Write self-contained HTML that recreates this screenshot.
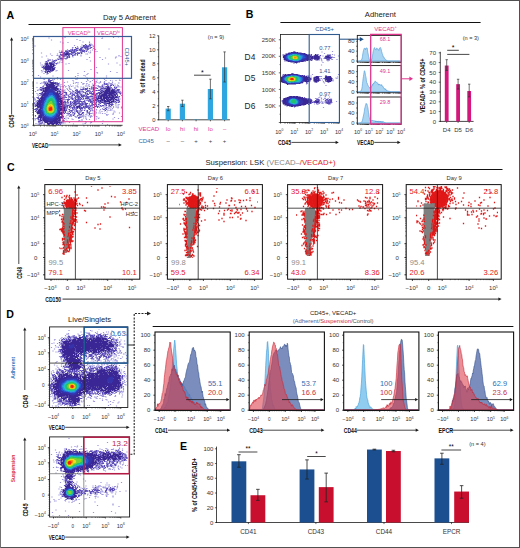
<!DOCTYPE html><html><head><meta charset="utf-8"><style>html,body{margin:0;padding:0;background:#fff}svg{display:block}text{font-family:"Liberation Sans",sans-serif}</style></head><body><svg width="520" height="548" viewBox="0 0 520 548"><defs><filter id="bl" x="0" y="0" width="1" height="1"><feGaussianBlur stdDeviation="0.35"/></filter></defs><rect x="0" y="0" width="520" height="548" fill="#fff"/><path d="M0 0.5H520M519.5 0V548M0 547.5H520" stroke="#505050" stroke-width="1"/><path d="M0.5 0V548" stroke="#707070" stroke-width="1"/><text transform="translate(6.6,18.6)" font-size="10.6" font-weight="bold">A</text><text transform="translate(129.4,20.2)" font-size="7.7" fill="#222" text-anchor="middle">Day 5 Adherent</text><line x1="28.5" y1="24.5" x2="230.4" y2="24.5" stroke="#111" stroke-width="1"/><line x1="33.5" y1="36.5" x2="33.5" y2="125.6" stroke="#1a1a1a" stroke-width="0.8"/><line x1="33.2" y1="125.3" x2="122.6" y2="125.3" stroke="#1a1a1a" stroke-width="0.8"/><path d="M33.5 125.3h-1.3M33.5 118.77h-1.3M33.5 114.95h-1.3M33.5 112.24h-1.3M33.5 110.13h-1.3M33.5 108.41h-1.3M33.5 106.96h-1.3M33.5 105.7h-1.3M33.5 104.59h-1.3M33.5 103.6h-1.3M33.5 97.07h-1.3M33.5 93.25h-1.3M33.5 90.54h-1.3M33.5 88.43h-1.3M33.5 86.71h-1.3M33.5 85.26h-1.3M33.5 84h-1.3M33.5 82.89h-1.3M33.5 81.9h-1.3M33.5 75.37h-1.3M33.5 71.55h-1.3M33.5 68.84h-1.3M33.5 66.73h-1.3M33.5 65.01h-1.3M33.5 63.56h-1.3M33.5 62.3h-1.3M33.5 61.19h-1.3M33.5 60.2h-1.3M33.5 53.67h-1.3M33.5 49.85h-1.3M33.5 47.14h-1.3M33.5 45.03h-1.3M33.5 43.31h-1.3M33.5 41.86h-1.3M33.5 40.6h-1.3M33.5 39.49h-1.3M33.5 38.5h-1.3" stroke="#000" stroke-width="0.5"/><path d="M34 125.3v1.3M40.53 125.3v1.3M44.35 125.3v1.3M47.06 125.3v1.3M49.17 125.3v1.3M50.89 125.3v1.3M52.34 125.3v1.3M53.6 125.3v1.3M54.71 125.3v1.3M55.7 125.3v1.3M62.23 125.3v1.3M66.05 125.3v1.3M68.76 125.3v1.3M70.87 125.3v1.3M72.59 125.3v1.3M74.04 125.3v1.3M75.3 125.3v1.3M76.41 125.3v1.3M77.4 125.3v1.3M83.93 125.3v1.3M87.75 125.3v1.3M90.46 125.3v1.3M92.57 125.3v1.3M94.29 125.3v1.3M95.74 125.3v1.3M97 125.3v1.3M98.11 125.3v1.3M99.1 125.3v1.3M105.63 125.3v1.3M109.45 125.3v1.3M112.16 125.3v1.3M114.27 125.3v1.3M115.99 125.3v1.3M117.44 125.3v1.3M118.7 125.3v1.3M119.81 125.3v1.3M120.8 125.3v1.3" stroke="#000" stroke-width="0.5"/><text x="28.6" y="128.2" font-size="5.6" fill="#333" text-anchor="end">10<tspan dy="-2.52" font-size="3.36">0</tspan></text><text x="28.6" y="106.7" font-size="5.6" fill="#333" text-anchor="end">10<tspan dy="-2.52" font-size="3.36">1</tspan></text><text x="28.6" y="84.9" font-size="5.6" fill="#333" text-anchor="end">10<tspan dy="-2.52" font-size="3.36">2</tspan></text><text x="28.6" y="63.4" font-size="5.6" fill="#333" text-anchor="end">10<tspan dy="-2.52" font-size="3.36">3</tspan></text><text x="28.6" y="41.3" font-size="5.6" fill="#333" text-anchor="end">10<tspan dy="-2.52" font-size="3.36">4</tspan></text><text x="32.9" y="136.3" font-size="5.6" fill="#333" text-anchor="middle">10<tspan dy="-2.52" font-size="3.36">0</tspan></text><text x="54.5" y="136.3" font-size="5.6" fill="#333" text-anchor="middle">10<tspan dy="-2.52" font-size="3.36">1</tspan></text><text x="76.5" y="136.3" font-size="5.6" fill="#333" text-anchor="middle">10<tspan dy="-2.52" font-size="3.36">2</tspan></text><text x="98.7" y="136.3" font-size="5.6" fill="#333" text-anchor="middle">10<tspan dy="-2.52" font-size="3.36">3</tspan></text><text x="120.8" y="136.3" font-size="5.6" fill="#333" text-anchor="middle">10<tspan dy="-2.52" font-size="3.36">4</tspan></text><text transform="translate(32,147.9) scale(0.629,1)" font-size="7.4" fill="#111" font-weight="bold">VECAD</text><line x1="48.5" y1="144.9" x2="119.1" y2="144.9" stroke="#1a1a1a" stroke-width="0.8"/><polygon points="121.8,144.9 118.6,143.3 118.6,146.5" fill="#1a1a1a"/><text transform="translate(13.8,127.7) rotate(-90) scale(0.682,1)" font-size="7.4" fill="#111" font-weight="bold">CD45</text><line x1="11.6" y1="114.5" x2="11.6" y2="40" stroke="#1a1a1a" stroke-width="0.8"/><polygon points="11.6,37.3 10,40.5 13.2,40.5" fill="#1a1a1a"/><g filter="url(#bl)"><path transform="scale(.5)" d="M237 74h0m-107 1h0m97 0h0m-129 1h0m27 0h0m80 0h0m-1 1h0m-50 2h0m-51 1h0m57 1h0m-39 3h0m45 0h0m13 0h0m-43 1h0m-10 1h0m53 0h0m3 2h0m-18 2h0m21 0h0m-36 1h0m-79 1h0m117 0h0m-32 1h0m32 0h0m-1 1h0m-40 1h0m41 2h0m2 1h0m29 0h0m-27 1h0m-6 1h0m-66 2h0m4 0h0m58 0h0m9 1h0m4 0h0m-17 1h0m-58 1h0m62 0h0m-98 1h0m97 0h0m-79 2h0m14 0h0m57 0h0m3 0h0m-13 2h0m-58 1h0m10 0h0m1 0h0m40 0h0m83 0h0m-145 1h0m69 0h0m76 0h0m4 1h0m-158 1h0m62 0h0m86 0h0m1 0h0m-54 1h0m21 0h0m11 1h0m20 0h0m-135 2h0m78 1h0m31 0h0m-24 3h0m-62 2h0m1 0h0m5 0h0m-1 1h0m-43 1h0m37 0h0m116 0h0m-96 1h0m-6 1h0m85 0h0m-135 2h0m3 0h0m155 0h0m-47 5h0m-11 4h0m-99 2h0m31 0h0m23 0h0m-51 1h0m26 0h0m57 1h0m52 0h0m-137 1h0m110 1h0m40 0h0m-39 1h0m-107 1h0m68 0h0m20 0h0m-2 2h0m-97 2h0m79 0h0m12 0h0m-62 1h0m65 0h0m42 0h0m-62 1h0m-70 1h0m34 1h0m40 1h0m19 0h0m39 0h0m-115 1h0m3 0h0m43 0h0m8 0h0m47 0h0m8 0h0m-120 1h0m28 0h0m40 0h0m20 0h0m-86 1h0m20 0h0m12 0h0m31 0h0m23 0h0m13 0h0m21 0h0m-102 1h0m87 0h0m45 0h0m-93 1h0m30 0h0m9 0h0m27 0h0m9 0h0m11 0h0m8 0h0m-15 1h0m-136 1h0m84 0h0m8 0h0m9 0h0m3 0h0m8 0h0m8 0h0m-122 1h0m2 0h0m46 0h0m12 0h0m33 0h0m-51 1h0m24 0h0m3 0h0m7 0h0m31 0h0m7 0h0m8 0h0m9 0h0m7 0h0m-151 1h0m9 0h0m3 0h0m1 0h0m32 0h0m32 0h0m40 0h0m7 0h0m1 0h0m9 0h0m1 0h0m28 0h0m1 0h0m-157 1h0m66 0h0m19 0h0m2 0h0m6 0h0m16 0h0m28 0h0m3 0h0m2 0h0m-67 1h0m17 0h0m12 0h0m5 0h0m35 0h0m5 0h0m-108 1h0m44 0h0m12 0h0m10 0h0m1 0h0m-48 1h0m37 0h0m49 0h0m8 0h0m-106 1h0m8 0h0m55 0h0m5 0h0m40 0h0m-91 1h0m6 0h0m3 0h0m16 0h0m2 0h0m3 0h0m9 0h0m10 0h0m1 0h0m35 0h0m5 0h0m-114 1h0m4 0h0m6 0h0m7 0h0m4 0h0m36 0h0m18 0h0m41 0h0m-111 1h0m4 0h0m7 0h0m18 0h0m6 0h0m5 0h0m71 0h0m4 0h0m-168 1h0m65 1h0m10 0h0m2 0h0m14 0h0m-31 1h0m5 0h0m1 1h0m21 0h0m-26 1h0m5 0h0m2 0h0m-66 1h0m2 0h0m48 0h0m4 0h0m-55 1h0m53 0h0m9 0h0m8 0h0m-74 2h0m68 0h0m103 3h0m1 0h0m-169 1h0m167 2h0m-166 1h0m2 0h0m166 1h0m-174 5h0m1 2h0m170 0h0m-171 2h0m2 0h0m167 9h0m-7 1h0m3 0h0m3 0h0m-10 3h0m5 1h0m2 0h0m3 0h0m6 0h0m-54 1h0m6 0h0m4 0h0m28 0h0m9 1h0m7 0h0m-38 1h0m20 0h0m-9 1h0m5 0h0m-152 1h0m124 0h0m8 0h0m5 0h0m1 0h0m-14 1h0m29 0h0m2 0h0m-38 1h0m30 0h0m4 0h0m-21 1h0m1 0h0m9 0h0m19 0h0m-39 1h0m15 0h0m-18 1h0m5 0h0m1 0h0m22 0h0m16 0h0m-37 2h0m5 0h0m3 0h0m26 0h0m12 0h0m-56 1h0m3 0h0m19 0h0m5 0h0m-19 1h0m35 0h0m-54 1h0m41 0h0m3 0h0m10 0h0m-52 1h0m13 0h0m-53 1h0m44 0h0m4 0h0m32 0h0m-44 1h0m8 0h0m5 0h0m7 0h0m-119 1h0m68 0h0m3 0h0m1 0h0m7 0h0m1 0h0m30 0h0m3 0h0m9 0h0m50 0h0m-111 1h0m21 0h0m18 0h0m1 0h0m22 0h0m-42 1h0m29 0h0m48 0h0m-93 1h0m31 0h0m31 0h0m-128 1h0m67 0h0m35 0h0m25 0h0m40 0h0m-166 1h0m61 0h0m12 0h0m49 0h0m33 0h0m-80 1h0m18 0h0m9 0h0m6 0h0m-109 1h0m88 1h0m1 0h0m5 0h0m-30 1h0m26 0h0m46 0h0m-49 1h0m14 0h0m11 1h0m-43 1h0m33 0h0m11 0h0m-53 1h0m51 0h0m-109 1h0m54 0h0m44 0h0m1 0h0m34 0h0m-129 1h0m2 0h0m69 0h0m19 0h0m-88 1h0m137 0h0" stroke="#9a94dc" stroke-width="2.4" stroke-linecap="square"/><path transform="scale(.5)" d="M171 89h0m8 0h0m-7 1h0m8 0h0m2 0h0m-15 1h0m1 0h0m1 0h0m4 0h0m5 0h0m-6 1h0m2 0h0m1 0h0m6 0h0m-14 1h0m1 0h0m3 0h0m1 0h0m4 0h0m2 0h0m-16 1h0m4 0h0m4 0h0m3 0h0m1 0h0m2 0h0m-25 1h0m13 0h0m2 0h0m3 0h0m2 0h0m2 0h0m1 0h0m8 0h0m1 0h0m-38 1h0m10 0h0m1 0h0m8 0h0m1 0h0m4 0h0m3 0h0m4 0h0m4 0h0m1 0h0m-28 1h0m1 0h0m1 0h0m1 0h0m5 0h0m2 0h0m8 0h0m4 0h0m5 0h0m-28 1h0m19 0h0m3 0h0m2 0h0m1 0h0m-35 1h0m3 0h0m4 0h0m1 0h0m9 0h0m1 0h0m1 0h0m2 0h0m11 0h0m2 0h0m-41 1h0m7 0h0m4 0h0m3 0h0m3 0h0m1 0h0m1 0h0m1 0h0m3 0h0m1 0h0m1 0h0m1 0h0m3 0h0m2 0h0m1 0h0m7 0h0m-42 1h0m6 0h0m2 0h0m4 0h0m1 0h0m4 0h0m3 0h0m2 0h0m1 0h0m5 0h0m1 0h0m3 0h0m5 0h0m5 0h0m-35 1h0m8 0h0m2 0h0m13 0h0m4 0h0m4 0h0m-39 1h0m2 0h0m2 0h0m3 0h0m1 0h0m1 0h0m1 0h0m2 0h0m9 0h0m10 0h0m3 0h0m2 0h0m6 0h0m-50 1h0m2 0h0m6 0h0m14 0h0m3 0h0m1 0h0m20 0h0m-47 1h0m2 0h0m5 0h0m5 0h0m1 0h0m2 0h0m6 0h0m2 0h0m1 0h0m2 0h0m1 0h0m7 0h0m4 0h0m3 0h0m-42 1h0m6 0h0m2 0h0m4 0h0m18 0h0m4 0h0m1 0h0m8 0h0m-37 1h0m3 0h0m9 0h0m3 0h0m4 0h0m5 0h0m3 0h0m3 0h0m2 0h0m4 0h0m-36 1h0m1 0h0m2 0h0m8 0h0m3 0h0m3 0h0m1 0h0m5 0h0m-29 1h0m1 0h0m3 0h0m14 0h0m4 0h0m12 0h0m-32 1h0m2 0h0m2 0h0m9 0h0m3 0h0m9 0h0m2 0h0m1 0h0m-27 1h0m4 0h0m9 0h0m1 0h0m7 0h0m1 0h0m-28 1h0m1 0h0m2 0h0m4 0h0m2 0h0m3 0h0m2 0h0m1 0h0m12 0h0m-26 1h0m8 0h0m1 0h0m7 0h0m3 0h0m1 0h0m-11 1h0m-8 1h0m14 0h0m2 0h0m3 0h0m-21 1h0m1 0h0m1 0h0m3 0h0m3 0h0m-5 1h0m3 0h0m6 0h0m4 0h0m-19 1h0m7 0h0m4 0h0m6 0h0m-15 1h0m1 0h0m-20 1h0m2 0h0m1 0h0m4 0h0m7 0h0m10 0h0m3 0h0m-29 1h0m1 0h0m12 0h0m4 0h0m-16 1h0m10 0h0m4 0h0m-18 1h0m13 0h0m2 0h0m-17 1h0m4 0h0m9 0h0m-10 1h0m6 0h0m4 0h0m4 0h0m1 0h0m-4 1h0m3 0h0m7 0h0m-7 1h0m4 0h0m1 0h0m-5 1h0m5 0h0m-5 1h0m0 1h0m2 1h0m-2 1h0m-21 1h0m-3 1h0m3 0h0m-2 1h0m25 0h0m-1 1h0m-21 1h0m-1 1h0m21 0h0m1 0h0m0 1h0m-2 2h0m-2 1h0m-15 1h0m1 0h0m11 0h0m-11 1h0m0 1h0m3 0h0m1 0h0m5 0h0m-4 2h0m-2 1h0m5 10h0m-1 1h0m-1 1h0m8 0h0m-7 1h0m3 0h0m2 0h0m-6 1h0m1 0h0m1 0h0m1 0h0m-1 1h0m1 0h0m-8 1h0m1 0h0m4 0h0m4 0h0m6 0h0m-17 1h0m20 0h0m1 0h0m3 0h0m-4 1h0m-20 1h0m1 0h0m18 0h0m3 0h0m3 0h0m1 0h0m1 0h0m92 0h0m5 0h0m-124 1h0m25 0h0m3 0h0m91 0h0m2 0h0m1 0h0m0 1h0m2 0h0m10 0h0m-134 1h0m25 0h0m2 0h0m88 0h0m3 0h0m8 0h0m1 0h0m4 0h0m-34 1h0m36 0h0m4 0h0m-140 1h0m29 0h0m4 0h0m84 0h0m11 0h0m6 0h0m-135 1h0m114 0h0m5 0h0m7 0h0m1 0h0m4 0h0m-34 1h0m4 0h0m11 0h0m2 0h0m4 0h0m4 0h0m6 0h0m15 0h0m5 0h0m-153 1h0m3 0h0m104 0h0m4 0h0m30 0h0m7 0h0m4 0h0m-150 1h0m4 0h0m34 0h0m47 0h0m7 0h0m9 0h0m2 0h0m2 0h0m1 0h0m3 0h0m10 0h0m4 0h0m1 0h0m15 0h0m1 0h0m8 0h0m1 0h0m-147 1h0m31 0h0m55 0h0m3 0h0m5 0h0m13 0h0m3 0h0m9 0h0m1 0h0m3 0h0m2 0h0m-130 1h0m36 0h0m2 0h0m49 0h0m5 0h0m3 0h0m5 0h0m3 0h0m4 0h0m15 0h0m27 0h0m3 0h0m-151 1h0m2 0h0m38 0h0m33 0h0m8 0h0m2 0h0m2 0h0m2 0h0m3 0h0m2 0h0m15 0h0m13 0h0m28 0h0m6 0h0m2 0h0m1 0h0m-116 1h0m30 0h0m13 0h0m6 0h0m15 0h0m1 0h0m2 0h0m9 0h0m6 0h0m2 0h0m29 0h0m3 0h0m1 0h0m-157 1h0m1 0h0m1 0h0m34 0h0m33 0h0m1 0h0m3 0h0m20 0h0m3 0h0m10 0h0m4 0h0m1 0h0m3 0h0m2 0h0m1 0h0m4 0h0m29 0h0m3 0h0m1 0h0m-118 1h0m7 0h0m29 0h0m1 0h0m4 0h0m3 0h0m14 0h0m1 0h0m3 0h0m8 0h0m13 0h0m2 0h0m2 0h0m28 0h0m4 0h0m-118 1h0m2 0h0m25 0h0m9 0h0m2 0h0m9 0h0m7 0h0m3 0h0m9 0h0m3 0h0m13 0h0m1 0h0m-81 1h0m1 0h0m5 0h0m3 0h0m11 0h0m7 0h0m4 0h0m1 0h0m2 0h0m1 0h0m3 0h0m1 0h0m4 0h0m3 0h0m7 0h0m6 0h0m2 0h0m7 0h0m45 0h0m1 0h0m3 0h0m1 0h0m2 0h0m-121 1h0m1 0h0m8 0h0m1 0h0m2 0h0m1 0h0m18 0h0m5 0h0m1 0h0m1 0h0m10 0h0m3 0h0m17 0h0m9 0h0m2 0h0m37 0h0m-115 1h0m10 0h0m2 0h0m10 0h0m1 0h0m1 0h0m10 0h0m5 0h0m11 0h0m8 0h0m4 0h0m4 0h0m9 0h0m3 0h0m40 0h0m-160 1h0m2 0h0m44 0h0m16 0h0m11 0h0m1 0h0m7 0h0m11 0h0m4 0h0m5 0h0m2 0h0m2 0h0m4 0h0m5 0h0m1 0h0m2 0h0m45 0h0m-160 1h0m41 0h0m11 0h0m13 0h0m3 0h0m6 0h0m3 0h0m3 0h0m3 0h0m8 0h0m2 0h0m9 0h0m1 0h0m2 0h0m6 0h0m1 0h0m6 0h0m36 0h0m-114 1h0m1 0h0m1 0h0m17 0h0m6 0h0m1 0h0m16 0h0m12 0h0m2 0h0m8 0h0m2 0h0m47 0h0m-104 1h0m2 0h0m1 0h0m3 0h0m8 0h0m4 0h0m6 0h0m2 0h0m6 0h0m1 0h0m4 0h0m3 0h0m17 0h0m3 0h0m2 0h0m3 0h0m-115 1h0m49 0h0m15 0h0m1 0h0m4 0h0m5 0h0m2 0h0m6 0h0m1 0h0m1 0h0m3 0h0m2 0h0m4 0h0m17 0h0m45 0h0m-113 1h0m5 0h0m10 0h0m7 0h0m8 0h0m1 0h0m5 0h0m7 0h0m2 0h0m6 0h0m1 0h0m8 0h0m2 0h0m8 0h0m5 0h0m38 0h0m-113 1h0m8 0h0m10 0h0m4 0h0m7 0h0m4 0h0m1 0h0m2 0h0m1 0h0m4 0h0m2 0h0m2 0h0m3 0h0m6 0h0m4 0h0m4 0h0m2 0h0m10 0h0m37 0h0m6 0h0m-162 1h0m53 0h0m8 0h0m20 0h0m7 0h0m6 0h0m3 0h0m3 0h0m2 0h0m3 0h0m8 0h0m3 0h0m43 0h0m2 0h0m-164 1h0m52 0h0m6 0h0m1 0h0m5 0h0m6 0h0m6 0h0m4 0h0m3 0h0m1 0h0m3 0h0m5 0h0m9 0h0m1 0h0m1 0h0m11 0h0m2 0h0m3 0h0m41 0h0m2 0h0m-160 1h0m49 0h0m2 0h0m2 0h0m12 0h0m1 0h0m2 0h0m6 0h0m1 0h0m4 0h0m1 0h0m2 0h0m2 0h0m2 0h0m11 0h0m1 0h0m1 0h0m2 0h0m8 0h0m3 0h0m2 0h0m2 0h0m2 0h0m42 0h0m-160 1h0m2 0h0m68 0h0m17 0h0m4 0h0m4 0h0m1 0h0m6 0h0m8 0h0m7 0h0m1 0h0m-57 1h0m7 0h0m1 0h0m6 0h0m6 0h0m1 0h0m5 0h0m11 0h0m1 0h0m1 0h0m6 0h0m1 0h0m10 0h0m44 0h0m-109 1h0m4 0h0m3 0h0m1 0h0m3 0h0m6 0h0m1 0h0m7 0h0m3 0h0m1 0h0m4 0h0m5 0h0m13 0h0m7 0h0m5 0h0m42 0h0m-97 1h0m1 0h0m13 0h0m4 0h0m2 0h0m2 0h0m2 0h0m10 0h0m10 0h0m1 0h0m11 0h0m3 0h0m40 0h0m3 0h0m-162 1h0m72 0h0m3 0h0m9 0h0m14 0h0m4 0h0m9 0h0m4 0h0m2 0h0m4 0h0m36 0h0m1 0h0m1 0h0m1 0h0m1 0h0m-163 1h0m56 0h0m5 0h0m1 0h0m12 0h0m1 0h0m1 0h0m4 0h0m2 0h0m4 0h0m9 0h0m8 0h0m4 0h0m2 0h0m2 0h0m5 0h0m3 0h0m37 0h0m8 0h0m-109 1h0m1 0h0m5 0h0m6 0h0m10 0h0m1 0h0m6 0h0m1 0h0m2 0h0m2 0h0m4 0h0m11 0h0m3 0h0m7 0h0m6 0h0m3 0h0m1 0h0m32 0h0m1 0h0m7 0h0m1 0h0m-167 1h0m57 0h0m2 0h0m10 0h0m3 0h0m3 0h0m2 0h0m1 0h0m4 0h0m1 0h0m3 0h0m6 0h0m1 0h0m2 0h0m1 0h0m2 0h0m12 0h0m2 0h0m4 0h0m1 0h0m11 0h0m3 0h0m31 0h0m5 0h0m-107 1h0m4 0h0m9 0h0m5 0h0m8 0h0m23 0h0m7 0h0m5 0h0m5 0h0m5 0h0m2 0h0m1 0h0m22 0h0m5 0h0m4 0h0m-168 1h0m61 0h0m5 0h0m2 0h0m4 0h0m16 0h0m2 0h0m5 0h0m6 0h0m1 0h0m13 0h0m1 0h0m6 0h0m7 0h0m2 0h0m25 0h0m6 0h0m1 0h0m-91 1h0m1 0h0m5 0h0m1 0h0m2 0h0m5 0h0m1 0h0m4 0h0m6 0h0m4 0h0m2 0h0m1 0h0m2 0h0m17 0h0m9 0h0m7 0h0m2 0h0m-140 1h0m60 0h0m2 0h0m10 0h0m2 0h0m4 0h0m5 0h0m1 0h0m4 0h0m3 0h0m2 0h0m2 0h0m2 0h0m12 0h0m5 0h0m1 0h0m7 0h0m17 0h0m3 0h0m10 0h0m-90 1h0m9 0h0m10 0h0m2 0h0m7 0h0m1 0h0m3 0h0m6 0h0m2 0h0m1 0h0m14 0h0m3 0h0m7 0h0m1 0h0m20 0h0m3 0h0m2 0h0m1 0h0m2 0h0m-155 1h0m65 0h0m3 0h0m2 0h0m5 0h0m3 0h0m16 0h0m1 0h0m18 0h0m4 0h0m5 0h0m17 0h0m1 0h0m2 0h0m6 0h0m5 0h0m1 0h0m-152 1h0m61 0h0m2 0h0m2 0h0m5 0h0m8 0h0m7 0h0m1 0h0m4 0h0m1 0h0m8 0h0m2 0h0m4 0h0m4 0h0m7 0h0m12 0h0m4 0h0m2 0h0m6 0h0m6 0h0m4 0h0m-153 1h0m61 0h0m1 0h0m11 0h0m4 0h0m7 0h0m6 0h0m1 0h0m9 0h0m1 0h0m2 0h0m1 0h0m7 0h0m4 0h0m8 0h0m5 0h0m6 0h0m13 0h0m-146 1h0m61 0h0m3 0h0m4 0h0m2 0h0m8 0h0m5 0h0m13 0h0m3 0h0m1 0h0m1 0h0m4 0h0m15 0h0m3 0h0m2 0h0m6 0h0m18 0h0m-86 1h0m14 0h0m5 0h0m6 0h0m3 0h0m8 0h0m1 0h0m3 0h0m1 0h0m3 0h0m1 0h0m3 0h0m26 0h0m4 0h0m10 0h0m-83 1h0m5 0h0m2 0h0m3 0h0m5 0h0m4 0h0m6 0h0m3 0h0m6 0h0m3 0h0m11 0h0m8 0h0m19 0h0m-80 1h0m1 0h0m6 0h0m9 0h0m1 0h0m2 0h0m2 0h0m5 0h0m2 0h0m2 0h0m1 0h0m4 0h0m1 0h0m9 0h0m6 0h0m33 0h0m-146 1h0m1 0h0m72 0h0m9 0h0m1 0h0m4 0h0m1 0h0m4 0h0m1 0h0m12 0h0m1 0h0m4 0h0m29 0h0m1 0h0m-80 1h0m15 0h0m1 0h0m1 0h0m13 0h0m8 0h0m8 0h0m32 0h0m-140 1h0m2 0h0m66 0h0m1 0h0m7 0h0m6 0h0m9 0h0m18 0h0m29 0h0m5 0h0m-140 1h0m59 0h0m1 0h0m13 0h0m7 0h0m12 0h0m17 0h0m3 0h0m-53 1h0m1 0h0m7 0h0m3 0h0m1 0h0m10 0h0m8 0h0m7 0h0m6 0h0m36 0h0m-139 1h0m1 0h0m69 0h0m1 0h0m6 0h0m3 0h0m4 0h0m3 0h0m4 0h0m10 0h0m8 0h0m-110 1h0m60 0h0m8 0h0m5 0h0m9 0h0m1 0h0m21 0h0m-47 1h0m8 0h0m19 0h0m6 0h0m14 0h0m4 0h0m-48 1h0m10 0h0m5 0h0m9 0h0m3 0h0m7 0h0m1 0h0m1 0h0m-22 1h0m3 0h0m2 0h0m24 0h0m3 0h0m1 0h0m-49 1h0m5 0h0m4 0h0m1 0h0m18 0h0m1 0h0m6 0h0m1 0h0m14 0h0m1 0h0m-44 1h0m13 0h0m8 0h0m2 0h0m8 0h0m-25 1h0m19 0h0m1 0h0m1 0h0m16 0h0m-41 1h0m3 0h0m1 0h0m4 0h0m2 0h0m11 0h0m2 0h0m1 0h0m-91 1h0m71 0h0m5 0h0m9 0h0m-1 1h0m10 0h0m2 0h0m-42 1h0m1 0h0m1 0h0m-1 1h0m1 0h0m32 0h0m2 0h0m2 0h0m-6 1h0m2 0h0m1 0h0m-35 1h0m32 0h0m-83 1h0m3 0h0m47 0h0m5 0h0m29 0h0m-82 1h0m1 1h0m1 0h0m-1 1h0m50 0h0m-47 1h0m1 0h0m45 0h0m2 0h0m-47 1h0m-4 1h0m2 0h0m1 0h0m44 0h0m3 1h0m-49 1h0m44 0h0m2 0h0m-43 1h0m3 0h0m1 0h0m-3 1h0m40 0h0m-43 1h0m3 0h0m6 0h0m1 0h0m28 1h0m4 0h0" stroke="#5a4bb8" stroke-width="2.4" stroke-linecap="square"/><path transform="scale(.5)" d="M134 106h0m-2 1h0m1 0h0m1 0h0m1 0h0m1 0h0m1 1h0m-7 1h0m1 0h0m1 0h0m2 0h0m2 0h0m-6 1h0m1 0h0m2 0h0m-34 16h0m1 0h0m1 0h0m2 0h0m-11 1h0m1 0h0m1 0h0m1 0h0m4 0h0m5 0h0m-14 1h0m4 0h0m1 0h0m1 0h0m5 0h0m1 0h0m5 0h0m-15 1h0m1 0h0m1 0h0m2 0h0m4 0h0m2 0h0m2 0h0m1 0h0m2 0h0m-15 1h0m1 0h0m1 0h0m2 0h0m4 0h0m2 0h0m1 0h0m-11 1h0m2 0h0m3 0h0m6 0h0m4 0h0m-19 1h0m1 0h0m3 0h0m1 0h0m1 0h0m6 0h0m2 0h0m1 0h0m3 0h0m1 0h0m-16 1h0m2 0h0m3 0h0m1 0h0m1 0h0m3 0h0m2 0h0m2 0h0m2 0h0m-16 1h0m2 0h0m2 0h0m1 0h0m2 0h0m1 0h0m2 0h0m2 0h0m1 0h0m1 0h0m2 0h0m-19 1h0m3 0h0m3 0h0m1 0h0m1 0h0m2 0h0m1 0h0m1 0h0m1 0h0m1 0h0m1 0h0m2 0h0m-16 1h0m2 0h0m1 0h0m1 0h0m2 0h0m1 0h0m1 0h0m2 0h0m2 0h0m3 0h0m1 0h0m-15 1h0m3 0h0m1 0h0m2 0h0m1 0h0m1 0h0m2 0h0m1 0h0m1 0h0m3 0h0m2 0h0m1 0h0m-18 1h0m1 0h0m1 0h0m1 0h0m1 0h0m1 0h0m1 0h0m1 0h0m1 0h0m1 0h0m2 0h0m1 0h0m4 0h0m-15 1h0m1 0h0m2 0h0m1 0h0m1 0h0m1 0h0m1 0h0m1 0h0m1 0h0m5 0h0m2 0h0m-10 1h0m2 0h0m1 0h0m1 0h0m1 0h0m1 0h0m-11 1h0m9 0h0m4 0h0m-12 1h0m2 0h0m1 0h0m6 0h0m-7 1h0m2 0h0m2 0h0m-4 1h0m5 20h0m1 0h0m-1 1h0m3 0h0m2 0h0m1 0h0m-11 1h0m7 0h0m1 0h0m3 0h0m2 0h0m-13 1h0m8 0h0m2 0h0m1 0h0m1 0h0m3 0h0m-17 1h0m3 0h0m2 0h0m1 0h0m1 0h0m2 0h0m2 0h0m3 0h0m5 0h0m-16 1h0m3 0h0m3 0h0m1 0h0m3 0h0m1 0h0m-14 1h0m1 0h0m4 0h0m3 0h0m1 0h0m1 0h0m2 0h0m3 0h0m4 0h0m-17 1h0m3 0h0m1 0h0m1 0h0m1 0h0m2 0h0m2 0h0m1 0h0m2 0h0m1 0h0m-16 1h0m1 0h0m2 0h0m1 0h0m1 0h0m4 0h0m1 0h0m1 0h0m1 0h0m2 0h0m2 0h0m-15 1h0m2 0h0m1 0h0m1 0h0m1 0h0m1 0h0m1 0h0m1 0h0m3 0h0m1 0h0m7 0h0m1 0h0m-19 1h0m2 0h0m1 0h0m1 0h0m1 0h0m1 0h0m2 0h0m1 0h0m1 0h0m1 0h0m2 0h0m3 0h0m3 0h0m102 0h0m1 0h0m3 0h0m-129 1h0m2 0h0m2 0h0m1 0h0m1 0h0m1 0h0m1 0h0m1 0h0m1 0h0m1 0h0m1 0h0m2 0h0m1 0h0m1 0h0m1 0h0m2 0h0m1 0h0m1 0h0m1 0h0m102 0h0m2 0h0m1 0h0m-129 1h0m2 0h0m1 0h0m3 0h0m1 0h0m3 0h0m1 0h0m1 0h0m1 0h0m1 0h0m2 0h0m1 0h0m1 0h0m1 0h0m2 0h0m101 0h0m1 0h0m3 0h0m2 0h0m1 0h0m-131 1h0m3 0h0m2 0h0m2 0h0m3 0h0m1 0h0m6 0h0m1 0h0m1 0h0m1 0h0m1 0h0m1 0h0m2 0h0m2 0h0m2 0h0m97 0h0m3 0h0m2 0h0m1 0h0m2 0h0m-130 1h0m3 0h0m2 0h0m1 0h0m1 0h0m1 0h0m1 0h0m7 0h0m1 0h0m1 0h0m3 0h0m1 0h0m101 0h0m2 0h0m1 0h0m1 0h0m1 0h0m7 0h0m-139 1h0m5 0h0m1 0h0m3 0h0m1 0h0m2 0h0m9 0h0m1 0h0m1 0h0m1 0h0m1 0h0m1 0h0m3 0h0m1 0h0m97 0h0m4 0h0m2 0h0m1 0h0m6 0h0m-139 1h0m3 0h0m2 0h0m2 0h0m1 0h0m1 0h0m1 0h0m9 0h0m1 0h0m1 0h0m3 0h0m3 0h0m94 0h0m2 0h0m2 0h0m1 0h0m1 0h0m1 0h0m1 0h0m2 0h0m5 0h0m1 0h0m1 0h0m3 0h0m-141 1h0m1 0h0m3 0h0m2 0h0m1 0h0m1 0h0m13 0h0m3 0h0m1 0h0m2 0h0m99 0h0m1 0h0m2 0h0m4 0h0m4 0h0m1 0h0m1 0h0m1 0h0m-140 1h0m4 0h0m2 0h0m1 0h0m1 0h0m13 0h0m1 0h0m2 0h0m3 0h0m4 0h0m93 0h0m2 0h0m2 0h0m1 0h0m2 0h0m1 0h0m1 0h0m3 0h0m2 0h0m1 0h0m3 0h0m1 0h0m-143 1h0m1 0h0m1 0h0m2 0h0m1 0h0m1 0h0m1 0h0m21 0h0m92 0h0m1 0h0m5 0h0m1 0h0m2 0h0m2 0h0m2 0h0m6 0h0m2 0h0m2 0h0m-145 1h0m5 0h0m2 0h0m3 0h0m23 0h0m86 0h0m1 0h0m1 0h0m4 0h0m2 0h0m1 0h0m1 0h0m1 0h0m3 0h0m3 0h0m1 0h0m1 0h0m1 0h0m4 0h0m2 0h0m2 0h0m-147 1h0m24 0h0m1 0h0m4 0h0m1 0h0m88 0h0m6 0h0m1 0h0m1 0h0m2 0h0m1 0h0m1 0h0m5 0h0m1 0h0m1 0h0m3 0h0m2 0h0m1 0h0m2 0h0m1 0h0m-148 1h0m1 0h0m4 0h0m2 0h0m2 0h0m1 0h0m18 0h0m1 0h0m3 0h0m86 0h0m2 0h0m1 0h0m4 0h0m3 0h0m4 0h0m1 0h0m2 0h0m1 0h0m1 0h0m4 0h0m1 0h0m1 0h0m6 0h0m-144 1h0m1 0h0m1 0h0m1 0h0m2 0h0m17 0h0m1 0h0m1 0h0m1 0h0m1 0h0m1 0h0m1 0h0m3 0h0m89 0h0m1 0h0m2 0h0m2 0h0m3 0h0m4 0h0m1 0h0m1 0h0m1 0h0m2 0h0m1 0h0m1 0h0m1 0h0m5 0h0m-149 1h0m2 0h0m1 0h0m2 0h0m1 0h0m2 0h0m19 0h0m6 0h0m83 0h0m2 0h0m4 0h0m4 0h0m1 0h0m1 0h0m2 0h0m4 0h0m2 0h0m1 0h0m1 0h0m1 0h0m1 0h0m3 0h0m3 0h0m3 0h0m-149 1h0m4 0h0m2 0h0m2 0h0m21 0h0m1 0h0m1 0h0m3 0h0m86 0h0m1 0h0m2 0h0m2 0h0m2 0h0m2 0h0m7 0h0m3 0h0m6 0h0m-146 1h0m4 0h0m1 0h0m1 0h0m1 0h0m23 0h0m1 0h0m3 0h0m82 0h0m5 0h0m1 0h0m1 0h0m2 0h0m8 0h0m2 0h0m2 0h0m2 0h0m1 0h0m1 0h0m2 0h0m3 0h0m1 0h0m1 0h0m-146 1h0m4 0h0m1 0h0m22 0h0m1 0h0m1 0h0m1 0h0m2 0h0m3 0h0m78 0h0m4 0h0m2 0h0m1 0h0m3 0h0m2 0h0m2 0h0m1 0h0m3 0h0m1 0h0m2 0h0m4 0h0m3 0h0m5 0h0m-144 1h0m1 0h0m1 0h0m25 0h0m2 0h0m1 0h0m2 0h0m79 0h0m3 0h0m2 0h0m4 0h0m3 0h0m1 0h0m2 0h0m1 0h0m2 0h0m4 0h0m4 0h0m1 0h0m2 0h0m3 0h0m1 0h0m-147 1h0m1 0h0m3 0h0m1 0h0m24 0h0m4 0h0m1 0h0m82 0h0m2 0h0m2 0h0m4 0h0m1 0h0m3 0h0m1 0h0m1 0h0m2 0h0m3 0h0m6 0h0m1 0h0m6 0h0m-149 1h0m2 0h0m30 0h0m1 0h0m3 0h0m2 0h0m76 0h0m3 0h0m3 0h0m3 0h0m2 0h0m4 0h0m3 0h0m1 0h0m4 0h0m2 0h0m1 0h0m1 0h0m2 0h0m2 0h0m5 0h0m-148 1h0m2 0h0m28 0h0m1 0h0m1 0h0m3 0h0m82 0h0m5 0h0m3 0h0m1 0h0m1 0h0m2 0h0m2 0h0m1 0h0m2 0h0m2 0h0m2 0h0m2 0h0m1 0h0m5 0h0m2 0h0m-152 1h0m1 0h0m1 0h0m2 0h0m1 0h0m1 0h0m28 0h0m1 0h0m7 0h0m1 0h0m72 0h0m1 0h0m3 0h0m3 0h0m5 0h0m2 0h0m2 0h0m4 0h0m1 0h0m5 0h0m2 0h0m1 0h0m1 0h0m1 0h0m2 0h0m-148 1h0m3 0h0m1 0h0m1 0h0m30 0h0m2 0h0m1 0h0m2 0h0m1 0h0m1 0h0m1 0h0m72 0h0m2 0h0m2 0h0m1 0h0m2 0h0m4 0h0m1 0h0m1 0h0m1 0h0m1 0h0m2 0h0m3 0h0m1 0h0m5 0h0m3 0h0m3 0h0m-146 1h0m1 0h0m1 0h0m1 0h0m2 0h0m29 0h0m3 0h0m3 0h0m73 0h0m7 0h0m1 0h0m2 0h0m2 0h0m1 0h0m6 0h0m5 0h0m1 0h0m1 0h0m1 0h0m1 0h0m1 0h0m4 0h0m1 0h0m3 0h0m-153 1h0m4 0h0m1 0h0m2 0h0m29 0h0m3 0h0m1 0h0m1 0h0m2 0h0m73 0h0m7 0h0m1 0h0m2 0h0m3 0h0m1 0h0m4 0h0m1 0h0m2 0h0m3 0h0m2 0h0m1 0h0m1 0h0m1 0h0m3 0h0m4 0h0m-153 1h0m1 0h0m3 0h0m1 0h0m33 0h0m1 0h0m4 0h0m1 0h0m3 0h0m71 0h0m2 0h0m4 0h0m3 0h0m3 0h0m6 0h0m2 0h0m1 0h0m3 0h0m6 0h0m1 0h0m-149 1h0m3 0h0m3 0h0m2 0h0m31 0h0m1 0h0m3 0h0m1 0h0m1 0h0m77 0h0m1 0h0m1 0h0m4 0h0m3 0h0m2 0h0m3 0h0m1 0h0m5 0h0m1 0h0m1 0h0m-144 1h0m1 0h0m1 0h0m1 0h0m1 0h0m3 0h0m33 0h0m2 0h0m1 0h0m1 0h0m1 0h0m1 0h0m79 0h0m1 0h0m7 0h0m4 0h0m1 0h0m2 0h0m2 0h0m6 0h0m2 0h0m-151 1h0m2 0h0m1 0h0m1 0h0m1 0h0m1 0h0m35 0h0m1 0h0m1 0h0m1 0h0m3 0h0m1 0h0m76 0h0m8 0h0m2 0h0m2 0h0m1 0h0m3 0h0m6 0h0m1 0h0m1 0h0m2 0h0m-151 1h0m3 0h0m1 0h0m2 0h0m35 0h0m5 0h0m2 0h0m1 0h0m1 0h0m80 0h0m2 0h0m1 0h0m1 0h0m4 0h0m2 0h0m1 0h0m2 0h0m4 0h0m-148 1h0m3 0h0m2 0h0m1 0h0m2 0h0m38 0h0m5 0h0m1 0h0m23 0h0m55 0h0m5 0h0m11 0h0m2 0h0m-148 1h0m4 0h0m1 0h0m1 0h0m2 0h0m36 0h0m1 0h0m3 0h0m27 0h0m1 0h0m2 0h0m59 0h0m7 0h0m5 0h0m-150 1h0m1 0h0m1 0h0m2 0h0m40 0h0m1 0h0m1 0h0m3 0h0m1 0h0m1 0h0m1 0h0m88 0h0m1 0h0m1 0h0m2 0h0m1 0h0m-145 1h0m3 0h0m2 0h0m1 0h0m1 0h0m1 0h0m36 0h0m1 0h0m1 0h0m2 0h0m1 0h0m3 0h0m-52 1h0m1 0h0m2 0h0m2 0h0m1 0h0m1 0h0m38 0h0m2 0h0m3 0h0m1 0h0m-50 1h0m4 0h0m41 0h0m1 0h0m2 0h0m1 0h0m3 0h0m1 0h0m1 0h0m-56 1h0m3 0h0m4 0h0m1 0h0m39 0h0m5 0h0m-51 1h0m2 0h0m1 0h0m1 0h0m2 0h0m1 0h0m38 0h0m1 0h0m6 0h0m4 0h0m29 0h0m-84 1h0m1 0h0m1 0h0m2 0h0m1 0h0m1 0h0m1 0h0m38 0h0m1 0h0m2 0h0m2 0h0m3 0h0m26 0h0m2 0h0m2 0h0m-83 1h0m4 0h0m1 0h0m1 0h0m1 0h0m37 0h0m1 0h0m4 0h0m35 0h0m-82 1h0m1 0h0m3 0h0m38 0h0m1 0h0m4 0h0m3 0h0m2 0h0m1 0h0m25 0h0m1 0h0m-80 1h0m5 0h0m1 0h0m40 0h0m3 0h0m2 0h0m1 0h0m3 0h0m-50 1h0m39 0h0m1 0h0m2 0h0m1 0h0m1 0h0m3 0h0m1 0h0m-54 1h0m4 0h0m1 0h0m1 0h0m1 0h0m38 0h0m1 0h0m1 0h0m1 0h0m3 0h0m1 0h0m-48 1h0m1 0h0m1 0h0m1 0h0m38 0h0m4 0h0m5 0h0m-53 1h0m1 0h0m1 0h0m2 0h0m42 0h0m1 0h0m3 0h0m-47 1h0m3 0h0m37 0h0m1 0h0m2 0h0m3 0h0m2 0h0m2 0h0m1 0h0m-53 1h0m2 0h0m1 0h0m1 0h0m1 0h0m46 0h0m-52 1h0m1 0h0m4 0h0m1 0h0m37 0h0m-44 1h0m2 0h0m1 0h0m2 0h0m1 0h0m38 0h0m2 0h0m1 0h0m2 0h0m2 0h0m1 0h0m-53 1h0m1 0h0m1 0h0m2 0h0m1 0h0m1 0h0m1 0h0m1 0h0m37 0h0m3 0h0m1 0h0m3 0h0m1 0h0m-50 1h0m3 0h0m1 0h0m41 0h0m4 0h0m-51 1h0m3 0h0m2 0h0m2 0h0m35 0h0m2 0h0m1 0h0m1 0h0m1 0h0m1 0h0m1 0h0m-48 1h0m4 0h0m2 0h0m1 0h0m1 0h0m34 0h0m1 0h0m1 0h0m2 0h0m2 0h0m-44 1h0m1 0h0m1 0h0m36 0h0m4 0h0m1 0h0m-42 1h0m3 0h0m33 0h0m1 0h0m1 0h0m5 0h0m-46 1h0m1 0h0m2 0h0m1 0h0m2 0h0m34 0h0m6 0h0m1 0h0m-47 1h0m1 0h0m6 0h0m31 0h0m3 0h0m6 0h0m-46 1h0m1 0h0m1 0h0m1 0h0m2 0h0m31 0h0m3 0h0m4 0h0m-45 1h0m4 0h0m1 0h0m2 0h0m3 0h0m27 0h0m3 0h0m4 0h0m1 0h0m2 0h0m-48 1h0m1 0h0m1 0h0m2 0h0m1 0h0m1 0h0m1 0h0m3 0h0m32 0h0m1 0h0m3 0h0m2 0h0m-43 1h0m6 0h0m28 0h0m1 0h0m3 0h0m2 0h0m-37 1h0m5 0h0m1 0h0m1 0h0m20 0h0m1 0h0m1 0h0m3 0h0m2 0h0m2 0h0m-39 1h0m4 0h0m2 0h0m2 0h0m1 0h0m1 0h0m1 0h0m18 0h0m1 0h0m1 0h0m1 0h0m2 0h0m5 0h0m-39 1h0m5 0h0m3 0h0m1 0h0m1 0h0m18 0h0m3 0h0m1 0h0m1 0h0m1 0h0m3 0h0m2 0h0m-38 1h0m1 0h0m4 0h0m1 0h0m4 0h0m1 0h0m1 0h0m11 0h0m4 0h0m1 0h0m1 0h0m1 0h0m1 0h0m2 0h0m1 0h0m2 0h0m2 0h0m1 0h0m-39 1h0m1 0h0m1 0h0m3 0h0m1 0h0m2 0h0m1 0h0m4 0h0m2 0h0m1 0h0m4 0h0m3 0h0m1 0h0m2 0h0m5 0h0m4 0h0m1 0h0m-30 1h0m3 0h0m1 0h0m1 0h0m1 0h0m4 0h0m1 0h0m1 0h0m1 0h0m1 0h0m2 0h0m1 0h0m2 0h0m3 0h0m1 0h0m3 0h0m5 0h0m1 0h0m-31 1h0m1 0h0m4 0h0m1 0h0m1 0h0m1 0h0m2 0h0m2 0h0m1 0h0m1 0h0m2 0h0m1 0h0m2 0h0m2 0h0m2 0h0m3 0h0m1 0h0m-32 1h0m1 0h0m5 0h0m2 0h0m1 0h0m2 0h0m1 0h0m4 0h0m1 0h0m2 0h0m1 0h0m3 0h0m1 0h0m5 0h0m2 0h0m1 0h0m1 0h0m3 0h0m-30 1h0m1 0h0m2 0h0m2 0h0m6 0h0m1 0h0m1 0h0m1 0h0m1 0h0m1 0h0m3 0h0m1 0h0m2 0h0m1 0h0m3 0h0m1 0h0m1 0h0m2 0h0m-25 1h0m3 0h0m1 0h0m1 0h0m3 0h0m6 0h0m1 0h0m5 0h0m4 0h0m1 0h0m-25 1h0m2 0h0m4 0h0m2 0h0m1 0h0m2 0h0m2 0h0m1 0h0m3 0h0m1 0h0m2 0h0m-18 1h0m2 0h0m4 0h0m4 0h0m5 0h0m2 0h0m1 0h0m3 0h0m-22 1h0m2 0h0m7 0h0m2 0h0m6 0h0" stroke="#3a2896" stroke-width="2.4" stroke-linecap="square"/><path transform="scale(.5)" d="M102 177h0m0 1h0m2 0h0m-6 1h0m1 0h0m1 0h0m1 0h0m1 0h0m2 0h0m2 0h0m-10 1h0m1 0h0m2 0h0m2 0h0m1 0h0m1 0h0m-6 1h0m1 0h0m1 0h0m1 0h0m1 0h0m1 0h0m2 0h0m1 0h0m-9 1h0m1 0h0m1 0h0m1 0h0m1 0h0m2 0h0m1 0h0m1 0h0m1 0h0m1 0h0m1 0h0m-12 1h0m2 0h0m3 0h0m1 0h0m1 0h0m1 0h0m1 0h0m4 0h0m-12 1h0m2 0h0m1 0h0m1 0h0m1 0h0m1 0h0m1 0h0m1 0h0m1 0h0m1 0h0m1 0h0m2 0h0m-15 1h0m1 0h0m2 0h0m2 0h0m1 0h0m1 0h0m1 0h0m2 0h0m2 0h0m1 0h0m1 0h0m-14 1h0m1 0h0m1 0h0m2 0h0m1 0h0m1 0h0m4 0h0m1 0h0m1 0h0m1 0h0m1 0h0m2 0h0m-16 1h0m1 0h0m1 0h0m1 0h0m1 0h0m1 0h0m7 0h0m2 0h0m-15 1h0m1 0h0m2 0h0m1 0h0m1 0h0m1 0h0m7 0h0m1 0h0m1 0h0m1 0h0m1 0h0m-18 1h0m2 0h0m1 0h0m1 0h0m11 0h0m1 0h0m1 0h0m1 0h0m1 0h0m-20 1h0m1 0h0m1 0h0m2 0h0m1 0h0m2 0h0m9 0h0m2 0h0m1 0h0m1 0h0m-21 1h0m1 0h0m1 0h0m1 0h0m1 0h0m1 0h0m13 0h0m2 0h0m2 0h0m-22 1h0m1 0h0m3 0h0m1 0h0m1 0h0m14 0h0m1 0h0m2 0h0m-24 1h0m1 0h0m1 0h0m1 0h0m1 0h0m1 0h0m1 0h0m14 0h0m2 0h0m1 0h0m1 0h0m-24 1h0m3 0h0m1 0h0m1 0h0m16 0h0m1 0h0m1 0h0m1 0h0m-25 1h0m1 0h0m1 0h0m1 0h0m1 0h0m19 0h0m1 0h0m1 0h0m-24 1h0m1 0h0m2 0h0m19 0h0m1 0h0m1 0h0m-25 1h0m1 0h0m1 0h0m1 0h0m20 0h0m2 0h0m1 0h0m1 0h0m-28 1h0m1 0h0m1 0h0m1 0h0m1 0h0m20 0h0m1 0h0m1 0h0m1 0h0m-28 1h0m1 0h0m1 0h0m1 0h0m2 0h0m22 0h0m1 0h0m-25 1h0m1 0h0m23 0h0m1 0h0m1 0h0m1 0h0m-30 1h0m1 0h0m2 0h0m1 0h0m24 0h0m1 0h0m1 0h0m-31 1h0m1 0h0m1 0h0m1 0h0m26 0h0m1 0h0m-28 1h0m26 0h0m1 0h0m1 0h0m2 0h0m-33 1h0m1 0h0m29 0h0m1 0h0m2 0h0m-32 1h0m1 0h0m1 0h0m1 0h0m28 0h0m-31 1h0m1 0h0m2 0h0m26 0h0m1 0h0m2 0h0m-32 1h0m1 0h0m1 0h0m27 0h0m1 0h0m1 0h0m1 0h0m1 0h0m-35 1h0m1 0h0m2 0h0m28 0h0m1 0h0m1 0h0m1 0h0m-34 1h0m1 0h0m1 0h0m1 0h0m28 0h0m4 0h0m-34 1h0m1 0h0m1 0h0m30 0h0m2 0h0m-35 1h0m1 0h0m2 0h0m30 0h0m1 0h0m1 0h0m-36 1h0m1 0h0m1 0h0m2 0h0m29 0h0m1 0h0m1 0h0m1 0h0m-35 1h0m1 0h0m2 0h0m30 0h0m1 0h0m1 0h0m1 0h0m-36 1h0m1 0h0m1 0h0m1 0h0m29 0h0m-31 1h0m1 0h0m31 0h0m1 0h0m1 0h0m1 0h0m-36 1h0m2 0h0m31 0h0m1 0h0m1 0h0m-35 1h0m1 0h0m1 0h0m30 0h0m1 0h0m1 0h0m1 0h0m1 0h0m-35 1h0m1 0h0m31 0h0m1 0h0m1 0h0m1 0h0m-35 1h0m1 0h0m31 0h0m1 0h0m-33 1h0m32 0h0m1 0h0m1 0h0m-36 1h0m2 0h0m1 0h0m31 0h0m1 0h0m1 0h0m1 0h0m-37 1h0m1 0h0m3 0h0m30 0h0m1 0h0m1 0h0m-36 1h0m2 0h0m1 0h0m1 0h0m30 0h0m1 0h0m1 0h0m-35 1h0m1 0h0m1 0h0m1 0h0m30 0h0m-32 1h0m1 0h0m31 0h0m1 0h0m-34 1h0m1 0h0m3 0h0m27 0h0m1 0h0m2 0h0m-31 1h0m1 0h0m27 0h0m2 0h0m1 0h0m-33 1h0m3 0h0m27 0h0m1 0h0m1 0h0m-31 1h0m1 0h0m1 0h0m1 0h0m24 0h0m1 0h0m1 0h0m1 0h0m1 0h0m-30 1h0m2 0h0m24 0h0m1 0h0m1 0h0m1 0h0m1 0h0m-31 1h0m1 0h0m1 0h0m1 0h0m23 0h0m1 0h0m1 0h0m1 0h0m1 0h0m1 0h0m-30 1h0m1 0h0m24 0h0m1 0h0m1 0h0m1 0h0m-26 1h0m1 0h0m1 0h0m1 0h0m19 0h0m1 0h0m2 0h0m-24 1h0m1 0h0m1 0h0m1 0h0m1 0h0m13 0h0m3 0h0m1 0h0m1 0h0m2 0h0m-23 1h0m1 0h0m2 0h0m1 0h0m1 0h0m2 0h0m12 0h0m1 0h0m1 0h0m1 0h0m1 0h0m-25 1h0m1 0h0m1 0h0m1 0h0m1 0h0m2 0h0m1 0h0m4 0h0m1 0h0m5 0h0m1 0h0m3 0h0m1 0h0m-17 1h0m1 0h0m1 0h0m1 0h0m1 0h0m1 0h0m2 0h0m1 0h0m1 0h0m1 0h0m1 0h0m1 0h0m2 0h0m1 0h0m-16 1h0m1 0h0m2 0h0m1 0h0m1 0h0m1 0h0m2 0h0m2 0h0m1 0h0m2 0h0m1 0h0m1 0h0m2 0h0m-16 1h0m1 0h0m1 0h0m1 0h0m1 0h0m1 0h0m2 0h0m1 0h0m1 0h0m1 0h0m1 0h0m1 0h0m1 0h0m1 0h0m-11 1h0m2 0h0m1 0h0m2 0h0m1 0h0m1 0h0m1 0h0m1 0h0m-8 1h0m3 0h0m2 0h0m1 0h0m1 0h0" stroke="#3430aa" stroke-width="2.4" stroke-linecap="square"/><path transform="scale(.5)" d="M100 186h0m1 0h0m1 0h0m1 0h0m1 0h0m-5 1h0m1 0h0m1 0h0m1 0h0m1 0h0m1 0h0m1 0h0m-6 1h0m1 0h0m1 0h0m1 0h0m1 0h0m1 0h0m1 0h0m-7 1h0m1 0h0m1 0h0m1 0h0m1 0h0m1 0h0m2 0h0m1 0h0m-6 1h0m1 0h0m2 0h0m1 0h0m1 0h0m2 0h0m-7 1h0m1 0h0m2 0h0m3 0h0m1 0h0m2 0h0m-12 1h0m1 0h0m1 0h0m1 0h0m1 0h0m5 0h0m1 0h0m1 0h0m1 0h0m-14 1h0m2 0h0m2 0h0m7 0h0m1 0h0m1 0h0m-14 1h0m1 0h0m12 0h0m1 0h0m2 0h0m-17 1h0m1 0h0m2 0h0m1 0h0m11 0h0m1 0h0m1 0h0m-18 1h0m1 0h0m1 0h0m1 0h0m13 0h0m2 0h0m1 0h0m-19 1h0m1 0h0m2 0h0m15 0h0m1 0h0m-20 1h0m2 0h0m18 0h0m-19 1h0m1 0h0m18 0h0m1 0h0m-21 1h0m1 0h0m19 0h0m1 0h0m-22 1h0m1 0h0m1 0h0m21 0h0m-21 1h0m20 0h0m1 0h0m-23 1h0m1 0h0m21 0h0m1 0h0m-24 1h0m1 0h0m1 0h0m21 0h0m1 0h0m-24 1h0m1 0h0m23 0h0m1 0h0m-26 1h0m1 0h0m1 0h0m22 0h0m2 0h0m-26 1h0m1 0h0m1 0h0m22 0h0m1 0h0m1 0h0m-26 1h0m24 0h0m1 0h0m-26 1h0m1 0h0m1 0h0m25 0h0m-27 1h0m1 0h0m24 0h0m1 0h0m1 0h0m-28 1h0m1 0h0m25 0h0m2 0h0m-28 1h0m27 0h0m1 0h0m1 0h0m-29 1h0m1 0h0m26 0h0m2 0h0m-28 1h0m1 0h0m26 0h0m-28 1h0m1 0h0m1 0h0m25 0h0m1 0h0m1 0h0m-30 1h0m1 0h0m1 0h0m1 0h0m25 0h0m2 0h0m-1 1h0m-27 1h0m28 0h0m1 0h0m-31 1h0m1 0h0m1 0h0m27 0h0m1 0h0m1 0h0m-31 1h0m1 0h0m1 0h0m-1 1h0m2 0h0m25 0h0m1 0h0m1 0h0m-29 1h0m1 0h0m1 0h0m25 0h0m1 0h0m1 0h0m-29 1h0m2 0h0m25 0h0m1 0h0m-26 1h0m24 0h0m1 0h0m1 0h0m1 0h0m-28 1h0m1 0h0m24 0h0m2 0h0m1 0h0m-28 1h0m1 0h0m1 0h0m23 0h0m1 0h0m1 0h0m-26 1h0m23 0h0m1 0h0m1 0h0m1 0h0m-26 1h0m1 0h0m1 0h0m21 0h0m1 0h0m-23 1h0m1 0h0m1 0h0m1 0h0m16 0h0m1 0h0m1 0h0m1 0h0m-22 1h0m1 0h0m3 0h0m15 0h0m1 0h0m1 0h0m-18 1h0m2 0h0m1 0h0m15 0h0m1 0h0m-20 1h0m1 0h0m2 0h0m1 0h0m11 0h0m3 0h0m1 0h0m-18 1h0m2 0h0m1 0h0m1 0h0m1 0h0m1 0h0m1 0h0m3 0h0m1 0h0m1 0h0m1 0h0m1 0h0m1 0h0m1 0h0m1 0h0m-15 1h0m1 0h0m2 0h0m2 0h0m1 0h0m1 0h0m1 0h0m1 0h0m1 0h0m1 0h0m1 0h0m1 0h0m1 0h0m-12 1h0m3 0h0m4 0h0m1 0h0m1 0h0m1 0h0m-7 1h0m1 0h0m1 0h0m1 0h0m2 0h0m1 0h0" stroke="#2a52d0" stroke-width="2.4" stroke-linecap="square"/><path transform="scale(.5)" d="M103 191h0m1 0h0m-3 1h0m1 0h0m1 0h0m1 0h0m1 0h0m-6 1h0m1 0h0m1 0h0m1 0h0m1 0h0m1 0h0m2 0h0m1 0h0m-9 1h0m2 0h0m1 0h0m1 0h0m1 0h0m1 0h0m2 0h0m-10 1h0m1 0h0m1 0h0m1 0h0m1 0h0m1 0h0m4 0h0m1 0h0m1 0h0m-11 1h0m1 0h0m1 0h0m1 0h0m6 0h0m1 0h0m1 0h0m1 0h0m1 0h0m-15 1h0m2 0h0m1 0h0m1 0h0m10 0h0m1 0h0m-15 1h0m1 0h0m1 0h0m1 0h0m11 0h0m1 0h0m-15 1h0m1 0h0m1 0h0m13 0h0m-16 1h0m1 0h0m1 0h0m13 0h0m1 0h0m2 0h0m-19 1h0m2 0h0m1 0h0m14 0h0m1 0h0m1 0h0m-19 1h0m1 0h0m1 0h0m16 0h0m1 0h0m-19 1h0m1 0h0m1 0h0m16 0h0m1 0h0m-19 1h0m19 0h0m1 0h0m-21 1h0m1 0h0m1 0h0m18 0h0m1 0h0m-22 1h0m1 0h0m1 0h0m18 0h0m1 0h0m1 0h0m-22 1h0m1 0h0m1 0h0m18 0h0m1 0h0m1 0h0m-23 1h0m1 0h0m21 0h0m1 0h0m-23 1h0m1 0h0m1 0h0m21 0h0m-22 1h0m1 0h0m19 0h0m1 0h0m1 0h0m-23 1h0m0 1h0m1 0h0m22 0h0m-24 1h0m1 0h0m22 0h0m1 0h0m1 0h0m-1 1h0m1 0h0m-25 1h0m1 0h0m1 0h0m21 0h0m1 0h0m1 0h0m-24 1h0m1 0h0m22 0h0m1 0h0m-26 1h0m2 0h0m1 0h0m21 0h0m1 0h0m-25 1h0m1 0h0m1 0h0m23 0h0m-25 1h0m1 0h0m1 0h0m-2 1h0m1 0h0m1 0h0m-1 1h0m1 0h0m22 0h0m1 0h0m1 0h0m-25 1h0m1 0h0m23 0h0m1 0h0m-24 1h0m24 0h0m-23 1h0m1 0h0m20 0h0m1 0h0m1 0h0m-24 1h0m1 0h0m1 0h0m19 0h0m1 0h0m1 0h0m-23 1h0m1 0h0m1 0h0m19 0h0m1 0h0m-21 1h0m1 0h0m1 0h0m-2 1h0m2 0h0m1 0h0m14 0h0m2 0h0m1 0h0m-19 1h0m1 0h0m2 0h0m13 0h0m1 0h0m1 0h0m-16 1h0m1 0h0m1 0h0m2 0h0m6 0h0m2 0h0m1 0h0m1 0h0m1 0h0m-15 1h0m2 0h0m1 0h0m1 0h0m1 0h0m1 0h0m1 0h0m1 0h0m1 0h0m1 0h0m1 0h0m1 0h0m1 0h0m1 0h0m-11 1h0m1 0h0m1 0h0m1 0h0m1 0h0m1 0h0m1 0h0m1 0h0m2 0h0m-5 1h0m1 0h0m1 0h0m1 0h0" stroke="#2a90e0" stroke-width="2.4" stroke-linecap="square"/><path transform="scale(.5)" d="M101 194h0m1 0h0m1 0h0m1 0h0m-4 1h0m2 0h0m1 0h0m1 0h0m1 0h0m-6 1h0m1 0h0m1 0h0m1 0h0m2 0h0m1 0h0m-7 1h0m1 0h0m1 0h0m1 0h0m1 0h0m1 0h0m1 0h0m1 0h0m1 0h0m-10 1h0m2 0h0m1 0h0m1 0h0m5 0h0m1 0h0m1 0h0m-11 1h0m1 0h0m1 0h0m1 0h0m6 0h0m1 0h0m1 0h0m1 0h0m-13 1h0m1 0h0m1 0h0m1 0h0m8 0h0m1 0h0m1 0h0m1 0h0m-15 1h0m1 0h0m1 0h0m1 0h0m10 0h0m1 0h0m1 0h0m-14 1h0m1 0h0m1 0h0m10 0h0m1 0h0m1 0h0m-15 1h0m1 0h0m1 0h0m11 0h0m1 0h0m-14 1h0m1 0h0m13 0h0m1 0h0m1 0h0m-18 1h0m1 0h0m1 0h0m1 0h0m13 0h0m1 0h0m1 0h0m-18 1h0m1 0h0m2 0h0m14 0h0m1 0h0m-17 1h0m1 0h0m14 0h0m1 0h0m-18 1h0m1 0h0m1 0h0m1 0h0m14 0h0m1 0h0m1 0h0m-18 1h0m1 0h0m-2 1h0m1 0h0m1 0h0m16 0h0m-18 1h0m1 0h0m1 0h0m16 0h0m1 0h0m-19 1h0m1 0h0m18 0h0m1 0h0m-21 1h0m1 0h0m1 0h0m18 0h0m1 0h0m-21 1h0m2 0h0m17 0h0m1 0h0m-20 1h0m2 0h0m19 0h0m-21 1h0m1 0h0m1 0h0m18 0h0m-20 1h0m1 0h0m20 0h0m-21 1h0m1 0h0m20 0h0m-22 1h0m1 0h0m1 0h0m20 0h0m1 0h0m-23 1h0m1 0h0m20 0h0m1 0h0m1 0h0m-22 1h0m1 0h0m1 0h0m18 0h0m1 0h0m1 0h0m-21 1h0m1 0h0m18 0h0m-19 1h0m1 0h0m17 0h0m1 0h0m1 0h0m-20 1h0m1 0h0m1 0h0m17 0h0m1 0h0m-20 1h0m1 0h0m1 0h0m16 0h0m1 0h0m-18 1h0m1 0h0m1 0h0m14 0h0m1 0h0m-17 1h0m2 0h0m1 0h0m11 0h0m1 0h0m-12 1h0m1 0h0m1 0h0m1 0h0m1 0h0m5 0h0m1 0h0m1 0h0m1 0h0m-12 1h0m1 0h0m1 0h0m1 0h0m1 0h0m1 0h0m1 0h0m1 0h0m1 0h0m1 0h0m2 0h0m-10 1h0m1 0h0m1 0h0m1 0h0m1 0h0m1 0h0m1 0h0m1 0h0m1 0h0" stroke="#20c0c0" stroke-width="2.4" stroke-linecap="square"/><path transform="scale(.5)" d="M102 197h0m1 0h0m1 0h0m-4 1h0m1 0h0m1 0h0m1 0h0m1 0h0m-5 1h0m1 0h0m1 0h0m1 0h0m1 0h0m1 0h0m1 0h0m-7 1h0m1 0h0m1 0h0m1 0h0m1 0h0m1 0h0m1 0h0m1 0h0m1 0h0m-9 1h0m1 0h0m1 0h0m1 0h0m1 0h0m1 0h0m1 0h0m1 0h0m1 0h0m1 0h0m-8 1h0m1 0h0m1 0h0m2 0h0m1 0h0m1 0h0m1 0h0m1 0h0m1 0h0m-11 1h0m1 0h0m1 0h0m1 0h0m1 0h0m1 0h0m1 0h0m1 0h0m1 0h0m1 0h0m1 0h0m2 0h0m-12 1h0m1 0h0m1 0h0m1 0h0m1 0h0m1 0h0m2 0h0m1 0h0m1 0h0m1 0h0m1 0h0m1 0h0m-13 1h0m1 0h0m1 0h0m1 0h0m1 0h0m4 0h0m1 0h0m1 0h0m1 0h0m1 0h0m-11 1h0m1 0h0m1 0h0m1 0h0m6 0h0m-9 1h0m1 0h0m1 0h0m7 0h0m1 0h0m1 0h0m1 0h0m-14 1h0m1 0h0m1 0h0m1 0h0m9 0h0m1 0h0m1 0h0m1 0h0m-15 1h0m1 0h0m1 0h0m1 0h0m10 0h0m1 0h0m1 0h0m-16 1h0m1 0h0m1 0h0m1 0h0m10 0h0m1 0h0m1 0h0m1 0h0m-17 1h0m2 0h0m1 0h0m11 0h0m1 0h0m1 0h0m-15 1h0m2 0h0m11 0h0m1 0h0m1 0h0m1 0h0m-17 1h0m1 0h0m1 0h0m1 0h0m12 0h0m1 0h0m1 0h0m-16 1h0m1 0h0m13 0h0m1 0h0m1 0h0m-17 1h0m1 0h0m1 0h0m13 0h0m1 0h0m1 0h0m-17 1h0m1 0h0m14 0h0m1 0h0m1 0h0m1 0h0m-17 1h0m1 0h0m14 0h0m1 0h0m-18 1h0m1 0h0m1 0h0m1 0h0m15 0h0m1 0h0m-19 1h0m1 0h0m1 0h0m1 0h0m15 0h0m1 0h0m-18 1h0m1 0h0m1 0h0m14 0h0m1 0h0m1 0h0m-18 1h0m1 0h0m1 0h0m14 0h0m1 0h0m1 0h0m-17 1h0m1 0h0m1 0h0m13 0h0m1 0h0m-17 1h0m1 0h0m1 0h0m1 0h0m12 0h0m1 0h0m1 0h0m-16 1h0m1 0h0m1 0h0m11 0h0m1 0h0m1 0h0m-15 1h0m1 0h0m1 0h0m1 0h0m2 0h0m1 0h0m4 0h0m1 0h0m2 0h0m1 0h0m1 0h0m-13 1h0m1 0h0m1 0h0m2 0h0m1 0h0m1 0h0m1 0h0m1 0h0m1 0h0m1 0h0m1 0h0m-10 1h0m1 0h0m1 0h0m1 0h0m1 0h0m1 0h0m1 0h0m1 0h0m1 0h0m1 0h0m1 0h0m-9 1h0m1 0h0m1 0h0m1 0h0m1 0h0m1 0h0" stroke="#22c070" stroke-width="2.4" stroke-linecap="square"/><path transform="scale(.5)" d="M101 203h0m1 0h0m1 0h0m-2 1h0m1 0h0m1 0h0m-4 1h0m1 0h0m1 0h0m1 0h0m1 0h0m-4 1h0m1 0h0m1 0h0m1 0h0m1 0h0m1 0h0m-6 1h0m1 0h0m1 0h0m1 0h0m1 0h0m1 0h0m1 0h0m-7 1h0m1 0h0m1 0h0m1 0h0m1 0h0m1 0h0m1 0h0m1 0h0m1 0h0m-8 1h0m1 0h0m1 0h0m1 0h0m1 0h0m1 0h0m1 0h0m1 0h0m1 0h0m-8 1h0m1 0h0m1 0h0m1 0h0m2 0h0m1 0h0m1 0h0m2 0h0m-11 1h0m1 0h0m1 0h0m1 0h0m6 0h0m1 0h0m1 0h0m-10 1h0m1 0h0m7 0h0m1 0h0m1 0h0m-10 1h0m1 0h0m9 0h0m1 0h0m-12 1h0m1 0h0m9 0h0m1 0h0m1 0h0m-13 1h0m2 0h0m10 0h0m-12 1h0m1 0h0m1 0h0m11 0h0m-13 1h0m1 0h0m1 0h0m10 0h0m1 0h0m1 0h0m-14 1h0m1 0h0m1 0h0m10 0h0m1 0h0m1 0h0m-13 1h0m1 0h0m10 0h0m1 0h0m1 0h0m-14 1h0m1 0h0m1 0h0m11 0h0m1 0h0m-13 1h0m1 0h0m9 0h0m2 0h0m-12 1h0m1 0h0m1 0h0m8 0h0m1 0h0m1 0h0m-12 1h0m1 0h0m1 0h0m1 0h0m1 0h0m5 0h0m1 0h0m1 0h0m1 0h0m-12 1h0m1 0h0m1 0h0m1 0h0m1 0h0m1 0h0m1 0h0m1 0h0m1 0h0m1 0h0m1 0h0m-9 1h0m1 0h0m1 0h0m2 0h0m1 0h0m1 0h0m1 0h0m1 0h0m1 0h0m-6 1h0m1 0h0m1 0h0m1 0h0" stroke="#7cd030" stroke-width="2.4" stroke-linecap="square"/><path transform="scale(.5)" d="M102 209h0m-4 1h0m1 0h0m1 0h0m1 0h0m1 0h0m1 0h0m-5 1h0m1 0h0m1 0h0m1 0h0m3 0h0m-7 1h0m1 0h0m1 0h0m1 0h0m1 0h0m1 0h0m1 0h0m1 0h0m1 0h0m-9 1h0m1 0h0m1 0h0m1 0h0m1 0h0m2 0h0m1 0h0m1 0h0m1 0h0m-9 1h0m1 0h0m1 0h0m1 0h0m4 0h0m1 0h0m1 0h0m1 0h0m-10 1h0m1 0h0m8 0h0m1 0h0m-10 1h0m1 0h0m7 0h0m1 0h0m1 0h0m-10 1h0m1 0h0m7 0h0m1 0h0m1 0h0m-10 1h0m1 0h0m8 0h0m1 0h0m-10 1h0m1 0h0m8 0h0m1 0h0m-10 1h0m1 0h0m1 0h0m6 0h0m1 0h0m1 0h0m-9 1h0m1 0h0m1 0h0m5 0h0m1 0h0m1 0h0m-8 1h0m1 0h0m4 0h0m1 0h0m1 0h0m-7 1h0m1 0h0m1 0h0m1 0h0m1 0h0m1 0h0m1 0h0m-5 1h0m1 0h0m1 0h0m1 0h0m1 0h0" stroke="#e8e020" stroke-width="2.4" stroke-linecap="square"/><path transform="scale(.5)" d="M101 212h0m-2 1h0m1 0h0m1 0h0m1 0h0m1 0h0m-4 1h0m1 0h0m1 0h0m1 0h0m1 0h0m1 0h0m-6 1h0m1 0h0m1 0h0m1 0h0m1 0h0m1 0h0m1 0h0m-7 1h0m1 0h0m1 0h0m4 0h0m1 0h0m-6 1h0m1 0h0m4 0h0m1 0h0m-7 1h0m1 0h0m1 0h0m5 0h0m1 0h0m-8 1h0m1 0h0m1 0h0m5 0h0m1 0h0m-8 1h0m1 0h0m1 0h0m2 0h0m1 0h0m1 0h0m1 0h0m-6 1h0m1 0h0m1 0h0m1 0h0m1 0h0m1 0h0m1 0h0m-4 1h0m1 0h0m1 0h0m1 0h0" stroke="#ff9000" stroke-width="2.4" stroke-linecap="square"/><path transform="scale(.5)" d="M102 215h0m-3 1h0m1 0h0m1 0h0m1 0h0m1 0h0m-4 1h0m1 0h0m1 0h0m1 0h0m1 0h0m-3 1h0m1 0h0m1 0h0m1 0h0m-4 1h0m1 0h0m1 0h0m1 0h0m1 0h0m-4 1h0m1 0h0m1 0h0m1 0h0m1 0h0m-3 1h0" stroke="#f02010" stroke-width="2.4" stroke-linecap="square"/></g><rect x="62.9" y="27.6" width="59.5" height="94.1" fill="none" stroke="#e0358f" stroke-width="1"/><line x1="94.6" y1="27.6" x2="94.6" y2="121.7" stroke="#e0358f" stroke-width="1"/><rect x="33.5" y="36.5" width="98" height="41.8" fill="none" stroke="#365c96" stroke-width="1.2"/><text transform="translate(79,34.8)" font-size="5.8" fill="#e0358f" text-anchor="middle">VECAD<tspan dy="-2.2" font-size="3.4">lo</tspan></text><text transform="translate(108.4,34.8)" font-size="5.8" fill="#e0358f" text-anchor="middle">VECAD<tspan dy="-2.2" font-size="3.4">hi</tspan></text><text transform="translate(124.5,47.8) rotate(90)" font-size="5.8" fill="#34508a">CD45+</text><line x1="158.7" y1="35.5" x2="158.7" y2="120.2" stroke="#1a1a1a" stroke-width="0.8"/><line x1="158.3" y1="119.8" x2="229.9" y2="119.8" stroke="#1a1a1a" stroke-width="0.8"/><path d="M158.7 119.8h-1.6M158.7 105.8h-1.6M158.7 91.8h-1.6M158.7 77.8h-1.6M158.7 63.8h-1.6M158.7 49.8h-1.6M158.7 35.8h-1.6" stroke="#000" stroke-width="0.6"/><path d="M158.7 112.8h-0.9M158.7 98.8h-0.9M158.7 84.8h-0.9M158.7 70.8h-0.9M158.7 56.8h-0.9M158.7 42.8h-0.9" stroke="#000" stroke-width="0.5"/><text transform="translate(155.4,121.8)" font-size="5.8" fill="#333" text-anchor="end">0</text><text transform="translate(155.4,107.8)" font-size="5.8" fill="#333" text-anchor="end">2</text><text transform="translate(155.4,93.8)" font-size="5.8" fill="#333" text-anchor="end">4</text><text transform="translate(155.4,79.8)" font-size="5.8" fill="#333" text-anchor="end">6</text><text transform="translate(155.4,65.8)" font-size="5.8" fill="#333" text-anchor="end">8</text><text transform="translate(155.4,51.8)" font-size="5.8" fill="#333" text-anchor="end">10</text><text transform="translate(155.4,37.8)" font-size="5.8" fill="#333" text-anchor="end">12</text><path d="M168.2 119.8v1.5M182.4 119.8v1.5M196.1 119.8v1.5M210.4 119.8v1.5M224.6 119.8v1.5" stroke="#000" stroke-width="0.6"/><rect x="165.6" y="108.6" width="5.2" height="11.2" fill="#2fa6df"/><line x1="168.2" y1="106.5" x2="168.2" y2="110.7" stroke="#333" stroke-width="0.7"/><line x1="167" y1="106.5" x2="169.4" y2="106.5" stroke="#333" stroke-width="0.7"/><line x1="167" y1="110.7" x2="169.4" y2="110.7" stroke="#333" stroke-width="0.7"/><rect x="179.8" y="103.7" width="5.2" height="16.1" fill="#2fa6df"/><line x1="182.4" y1="100.2" x2="182.4" y2="106.5" stroke="#333" stroke-width="0.7"/><line x1="181.2" y1="100.2" x2="183.6" y2="100.2" stroke="#333" stroke-width="0.7"/><line x1="181.2" y1="106.5" x2="183.6" y2="106.5" stroke="#333" stroke-width="0.7"/><rect x="193.5" y="119.45" width="5.2" height="0.35" fill="#2fa6df"/><rect x="207.8" y="89" width="5.2" height="30.8" fill="#2fa6df"/><line x1="210.4" y1="79.2" x2="210.4" y2="98.8" stroke="#333" stroke-width="0.7"/><line x1="209.2" y1="79.2" x2="211.6" y2="79.2" stroke="#333" stroke-width="0.7"/><line x1="209.2" y1="98.8" x2="211.6" y2="98.8" stroke="#333" stroke-width="0.7"/><rect x="222" y="67.3" width="5.2" height="52.5" fill="#2fa6df"/><line x1="224.6" y1="51.9" x2="224.6" y2="82" stroke="#333" stroke-width="0.7"/><line x1="223.4" y1="51.9" x2="225.8" y2="51.9" stroke="#333" stroke-width="0.7"/><line x1="223.4" y1="82" x2="225.8" y2="82" stroke="#333" stroke-width="0.7"/><line x1="196.1" y1="119.7" x2="196.1" y2="119.8" stroke="#333" stroke-width="0.7"/><line x1="194" y1="75.2" x2="210.6" y2="75.2" stroke="#1a1a1a" stroke-width="0.8"/><text transform="translate(202.4,75)" font-size="7" text-anchor="middle">*</text><text transform="translate(216,38.9)" font-size="5.6" fill="#333" text-anchor="middle">(n = 9)</text><text transform="translate(144.6,93.6) rotate(-90) scale(0.693,1)" font-size="7.4" fill="#111" font-weight="bold">% of live dead</text><text transform="translate(138.4,131.4)" font-size="6" fill="#e0358f">VECAD</text><text transform="translate(138.4,142.5)" font-size="6" fill="#2e6aa5">CD45</text><text transform="translate(168.2,131.4)" font-size="6" fill="#e0358f" text-anchor="middle">lo</text><text transform="translate(182.4,131.4)" font-size="6" fill="#e0358f" text-anchor="middle">hi</text><text transform="translate(196.1,131.4)" font-size="6" fill="#e0358f" text-anchor="middle">hi</text><text transform="translate(210.4,131.4)" font-size="6" fill="#e0358f" text-anchor="middle">lo</text><text transform="translate(224.6,131.4)" font-size="6" fill="#e0358f" text-anchor="middle">–</text><text transform="translate(168.2,142.5)" font-size="6" fill="#444" text-anchor="middle">–</text><text transform="translate(182.4,142.5)" font-size="6" fill="#444" text-anchor="middle">–</text><text transform="translate(196.1,142.5)" font-size="6" fill="#444" text-anchor="middle">+</text><text transform="translate(210.4,142.5)" font-size="6" fill="#444" text-anchor="middle">+</text><text transform="translate(224.6,142.5)" font-size="6" fill="#444" text-anchor="middle">+</text><text transform="translate(245.8,18.4)" font-size="10.6" font-weight="bold">B</text><text transform="translate(380.4,17.4)" font-size="7.7" fill="#222" text-anchor="middle">Adherent</text><line x1="280.4" y1="22.5" x2="480.6" y2="22.5" stroke="#111" stroke-width="1"/><rect x="280.4" y="34.5" width="59" height="88" fill="none" stroke="#1a1a1a" stroke-width="0.8"/><path d="M280.4 122.5h-1.6M280.4 105.95h-1.6M280.4 89.4h-1.6M280.4 72.85h-1.6M280.4 56.3h-1.6M280.4 39.75h-1.6" stroke="#000" stroke-width="0.6"/><path d="M280.4 114.23h-0.9M280.4 97.68h-0.9M280.4 81.13h-0.9M280.4 64.58h-0.9M280.4 48.03h-0.9" stroke="#000" stroke-width="0.5"/><path d="M280.6 122.5v1.3M285.01 122.5v1.3M287.59 122.5v1.3M289.42 122.5v1.3M290.84 122.5v1.3M292 122.5v1.3M292.98 122.5v1.3M293.83 122.5v1.3M294.58 122.5v1.3M295.25 122.5v1.3M299.66 122.5v1.3M302.24 122.5v1.3M304.07 122.5v1.3M305.49 122.5v1.3M306.65 122.5v1.3M307.63 122.5v1.3M308.48 122.5v1.3M309.23 122.5v1.3M309.9 122.5v1.3M314.31 122.5v1.3M316.89 122.5v1.3M318.72 122.5v1.3M320.14 122.5v1.3M321.3 122.5v1.3M322.28 122.5v1.3M323.13 122.5v1.3M323.88 122.5v1.3M324.55 122.5v1.3M328.96 122.5v1.3M331.54 122.5v1.3M333.37 122.5v1.3M334.79 122.5v1.3M335.95 122.5v1.3M336.93 122.5v1.3M337.78 122.5v1.3M338.53 122.5v1.3M339.2 122.5v1.3" stroke="#000" stroke-width="0.5"/><text transform="translate(275.8,108.05)" font-size="6" fill="#333" text-anchor="end">50K</text><text transform="translate(275.8,91.5)" font-size="6" fill="#333" text-anchor="end">100K</text><text transform="translate(275.8,74.95)" font-size="6" fill="#333" text-anchor="end">150K</text><text transform="translate(275.8,58.4)" font-size="6" fill="#333" text-anchor="end">200K</text><text transform="translate(275.8,41.85)" font-size="6" fill="#333" text-anchor="end">250K</text><text x="279.2" y="133.5" font-size="5.6" fill="#333" text-anchor="middle">10<tspan dy="-2.52" font-size="3.36">0</tspan></text><text x="294.4" y="133.5" font-size="5.6" fill="#333" text-anchor="middle">10<tspan dy="-2.52" font-size="3.36">1</tspan></text><text x="309" y="133.5" font-size="5.6" fill="#333" text-anchor="middle">10<tspan dy="-2.52" font-size="3.36">2</tspan></text><text x="324" y="133.5" font-size="5.6" fill="#333" text-anchor="middle">10<tspan dy="-2.52" font-size="3.36">3</tspan></text><text x="339" y="133.5" font-size="5.6" fill="#333" text-anchor="middle">10<tspan dy="-2.52" font-size="3.36">4</tspan></text><text transform="translate(278,145) scale(0.687,1)" font-size="7.4" fill="#111" font-weight="bold">CD45</text><line x1="291.5" y1="142.4" x2="336.1" y2="142.4" stroke="#1a1a1a" stroke-width="0.8"/><polygon points="338.8,142.4 335.6,140.8 335.6,144" fill="#1a1a1a"/><text transform="translate(244.6,60.4)" font-size="8.4" fill="#222">D4</text><text transform="translate(244.6,81)" font-size="8.4" fill="#222">D5</text><text transform="translate(244.6,109.3)" font-size="8.4" fill="#222">D6</text><g filter="url(#bl)"><path transform="scale(.5)" d="M665 103h0m-21 1h0m5 3h0m16 2h0m4 1h0m-23 2h0m31 0h0m-10 3h0m2 0h0m-27 2h0m6 0h0m-5 1h0m22 1h0m9 0h0m-35 1h0m4 0h0m1 2h0m12 0h0m-10 3h0m-3 5h0" stroke="#9a94dc" stroke-width="2.4" stroke-linecap="square"/><path transform="scale(.5)" d="M588 103h0m31 6h0m4 0h0m13 0h0m-70 1h0m54 0h0m3 0h0m32 0h0m1 0h0m2 0h0m1 0h0m2 0h0m-41 1h0m3 0h0m18 0h0m17 0h0m1 0h0m1 0h0m-22 1h0m14 0h0m2 0h0m2 0h0m2 0h0m2 0h0m-9 1h0m-11 1h0m12 0h0m1 0h0m8 0h0m3 0h0m-14 1h0m2 0h0m9 0h0m2 0h0m1 0h0m-13 1h0m1 0h0m6 0h0m2 0h0m-10 1h0m1 0h0m1 0h0m1 0h0m3 0h0m1 0h0m2 0h0m2 0h0m-7 1h0m2 0h0m7 0h0m-33 1h0m27 0h0m1 0h0m-36 1h0m1 0h0m1 0h0m8 0h0m4 0h0m18 0h0m2 0h0m1 0h0m1 0h0m1 0h0m-36 1h0m-53 1h0" stroke="#5a4bb8" stroke-width="2.4" stroke-linecap="square"/><path transform="scale(.5)" d="M590 104h0m-7 1h0m1 0h0m2 0h0m1 0h0m1 0h0m2 0h0m2 0h0m3 0h0m-17 1h0m2 0h0m1 0h0m1 0h0m1 0h0m3 0h0m1 0h0m1 0h0m1 0h0m1 0h0m2 0h0m2 0h0m1 0h0m2 0h0m1 0h0m1 0h0m2 0h0m1 0h0m-25 1h0m1 0h0m2 0h0m1 0h0m1 0h0m1 0h0m10 0h0m1 0h0m1 0h0m2 0h0m1 0h0m2 0h0m1 0h0m1 0h0m1 0h0m1 0h0m1 0h0m1 0h0m3 0h0m-37 1h0m1 0h0m2 0h0m1 0h0m1 0h0m1 0h0m27 0h0m1 0h0m1 0h0m1 0h0m1 0h0m1 0h0m1 0h0m-37 1h0m1 0h0m1 0h0m1 0h0m30 0h0m1 0h0m3 0h0m1 0h0m2 0h0m4 0h0m13 0h0m-63 1h0m4 0h0m1 0h0m37 0h0m21 0h0m1 0h0m1 0h0m1 0h0m-66 1h0m1 0h0m1 0h0m1 0h0m1 0h0m1 0h0m37 0h0m1 0h0m2 0h0m1 0h0m1 0h0m2 0h0m1 0h0m1 0h0m11 0h0m2 0h0m1 0h0m1 0h0m1 0h0m-67 1h0m1 0h0m1 0h0m1 0h0m1 0h0m41 0h0m1 0h0m1 0h0m1 0h0m1 0h0m1 0h0m2 0h0m8 0h0m1 0h0m1 0h0m1 0h0m1 0h0m1 0h0m1 0h0m1 0h0m23 0h0m-91 1h0m1 0h0m1 0h0m2 0h0m43 0h0m1 0h0m1 0h0m1 0h0m3 0h0m1 0h0m1 0h0m3 0h0m3 0h0m1 0h0m2 0h0m1 0h0m2 0h0m1 0h0m1 0h0m1 0h0m1 0h0m15 0h0m1 0h0m1 0h0m1 0h0m1 0h0m-87 1h0m45 0h0m1 0h0m1 0h0m1 0h0m1 0h0m1 0h0m1 0h0m1 0h0m1 0h0m2 0h0m1 0h0m2 0h0m1 0h0m1 0h0m1 0h0m1 0h0m1 0h0m1 0h0m1 0h0m1 0h0m1 0h0m1 0h0m15 0h0m2 0h0m2 0h0m1 0h0m-91 1h0m1 0h0m1 0h0m45 0h0m1 0h0m2 0h0m1 0h0m1 0h0m1 0h0m3 0h0m2 0h0m3 0h0m1 0h0m1 0h0m1 0h0m1 0h0m1 0h0m1 0h0m2 0h0m1 0h0m1 0h0m16 0h0m2 0h0m2 0h0m1 0h0m-90 1h0m1 0h0m44 0h0m1 0h0m1 0h0m1 0h0m3 0h0m3 0h0m5 0h0m2 0h0m1 0h0m1 0h0m1 0h0m1 0h0m1 0h0m1 0h0m3 0h0m15 0h0m-85 1h0m1 0h0m43 0h0m1 0h0m1 0h0m1 0h0m1 0h0m6 0h0m1 0h0m1 0h0m1 0h0m4 0h0m1 0h0m1 0h0m1 0h0m1 0h0m1 0h0m1 0h0m1 0h0m-69 1h0m1 0h0m1 0h0m1 0h0m40 0h0m2 0h0m3 0h0m1 0h0m1 0h0m1 0h0m1 0h0m2 0h0m1 0h0m1 0h0m1 0h0m4 0h0m2 0h0m2 0h0m1 0h0m2 0h0m2 0h0m-69 1h0m1 0h0m39 0h0m4 0h0m2 0h0m1 0h0m2 0h0m1 0h0m1 0h0m1 0h0m14 0h0m1 0h0m-66 1h0m1 0h0m1 0h0m1 0h0m1 0h0m1 0h0m1 0h0m31 0h0m1 0h0m1 0h0m1 0h0m3 0h0m7 0h0m14 0h0m-61 1h0m1 0h0m1 0h0m1 0h0m1 0h0m27 0h0m1 0h0m2 0h0m2 0h0m1 0h0m4 0h0m2 0h0m-42 1h0m1 0h0m1 0h0m1 0h0m1 0h0m1 0h0m2 0h0m19 0h0m3 0h0m1 0h0m1 0h0m1 0h0m1 0h0m1 0h0m1 0h0m1 0h0m1 0h0m-34 1h0m1 0h0m1 0h0m1 0h0m1 0h0m1 0h0m1 0h0m2 0h0m1 0h0m7 0h0m5 0h0m1 0h0m3 0h0m1 0h0m1 0h0m1 0h0m1 0h0m-24 1h0m1 0h0m1 0h0m1 0h0m1 0h0m5 0h0m1 0h0m1 0h0m3 0h0m1 0h0m1 0h0m1 0h0m-9 1h0m1 0h0m1 0h0m2 0h0m-6 1h0m5 0h0" stroke="#3a2896" stroke-width="2.4" stroke-linecap="square"/><path transform="scale(.5)" d="M584 106h0m2 0h0m1 0h0m2 0h0m1 0h0m-9 1h0m2 0h0m1 0h0m1 0h0m1 0h0m1 0h0m1 0h0m2 0h0m1 0h0m1 0h0m5 0h0m3 0h0m1 0h0m3 0h0m-27 1h0m1 0h0m1 0h0m1 0h0m1 0h0m1 0h0m1 0h0m1 0h0m1 0h0m1 0h0m1 0h0m1 0h0m1 0h0m1 0h0m1 0h0m1 0h0m3 0h0m1 0h0m1 0h0m1 0h0m1 0h0m1 0h0m1 0h0m2 0h0m1 0h0m1 0h0m1 0h0m1 0h0m-31 1h0m1 0h0m1 0h0m1 0h0m1 0h0m1 0h0m1 0h0m1 0h0m14 0h0m1 0h0m1 0h0m1 0h0m2 0h0m1 0h0m1 0h0m1 0h0m1 0h0m1 0h0m-32 1h0m1 0h0m1 0h0m1 0h0m27 0h0m1 0h0m1 0h0m1 0h0m1 0h0m-37 1h0m1 0h0m1 0h0m1 0h0m33 0h0m3 0h0m-39 1h0m1 0h0m1 0h0m1 0h0m34 0h0m1 0h0m1 0h0m1 0h0m-41 1h0m1 0h0m1 0h0m36 0h0m1 0h0m1 0h0m1 0h0m1 0h0m-43 1h0m1 0h0m1 0h0m1 0h0m36 0h0m1 0h0m1 0h0m2 0h0m-43 1h0m1 0h0m2 0h0m36 0h0m1 0h0m1 0h0m1 0h0m1 0h0m1 0h0m-44 1h0m1 0h0m1 0h0m36 0h0m1 0h0m1 0h0m1 0h0m1 0h0m1 0h0m1 0h0m-43 1h0m1 0h0m1 0h0m1 0h0m1 0h0m30 0h0m2 0h0m1 0h0m1 0h0m1 0h0m1 0h0m1 0h0m-40 1h0m1 0h0m1 0h0m1 0h0m1 0h0m28 0h0m1 0h0m1 0h0m2 0h0m1 0h0m1 0h0m1 0h0m1 0h0m-39 1h0m1 0h0m1 0h0m1 0h0m1 0h0m1 0h0m1 0h0m23 0h0m1 0h0m2 0h0m1 0h0m1 0h0m1 0h0m1 0h0m1 0h0m1 0h0m-36 1h0m1 0h0m1 0h0m1 0h0m1 0h0m20 0h0m2 0h0m1 0h0m1 0h0m1 0h0m1 0h0m1 0h0m1 0h0m1 0h0m-31 1h0m1 0h0m1 0h0m1 0h0m1 0h0m3 0h0m2 0h0m1 0h0m11 0h0m1 0h0m1 0h0m1 0h0m1 0h0m1 0h0m1 0h0m1 0h0m1 0h0m-27 1h0m1 0h0m2 0h0m1 0h0m1 0h0m1 0h0m1 0h0m1 0h0m1 0h0m1 0h0m1 0h0m2 0h0m1 0h0m1 0h0m1 0h0m2 0h0m3 0h0m1 0h0m1 0h0m-19 1h0m1 0h0m1 0h0m1 0h0m1 0h0m2 0h0m1 0h0m1 0h0m4 0h0m2 0h0m1 0h0" stroke="#3430aa" stroke-width="2.4" stroke-linecap="square"/><path transform="scale(.5)" d="M583 108h0m2 0h0m1 0h0m2 0h0m2 0h0m1 0h0m1 0h0m2 0h0m2 0h0m-16 1h0m3 0h0m1 0h0m1 0h0m1 0h0m1 0h0m2 0h0m1 0h0m3 0h0m1 0h0m3 0h0m2 0h0m-22 1h0m2 0h0m1 0h0m1 0h0m1 0h0m1 0h0m12 0h0m1 0h0m1 0h0m1 0h0m1 0h0m1 0h0m1 0h0m1 0h0m1 0h0m1 0h0m1 0h0m-30 1h0m1 0h0m2 0h0m1 0h0m1 0h0m20 0h0m1 0h0m1 0h0m1 0h0m1 0h0m1 0h0m1 0h0m1 0h0m1 0h0m-32 1h0m1 0h0m26 0h0m1 0h0m1 0h0m1 0h0m2 0h0m-35 1h0m2 0h0m1 0h0m28 0h0m1 0h0m1 0h0m1 0h0m1 0h0m-35 1h0m1 0h0m2 0h0m28 0h0m1 0h0m2 0h0m1 0h0m1 0h0m1 0h0m-37 1h0m1 0h0m1 0h0m1 0h0m27 0h0m1 0h0m1 0h0m1 0h0m1 0h0m2 0h0m1 0h0m-37 1h0m2 0h0m1 0h0m27 0h0m1 0h0m1 0h0m1 0h0m1 0h0m1 0h0m-34 1h0m1 0h0m1 0h0m2 0h0m25 0h0m1 0h0m1 0h0m-30 1h0m1 0h0m1 0h0m1 0h0m23 0h0m1 0h0m1 0h0m-26 1h0m1 0h0m1 0h0m1 0h0m2 0h0m18 0h0m1 0h0m1 0h0m-22 1h0m1 0h0m1 0h0m1 0h0m1 0h0m1 0h0m1 0h0m11 0h0m1 0h0m1 0h0m1 0h0m1 0h0m-19 1h0m1 0h0m1 0h0m1 0h0m2 0h0m3 0h0m3 0h0m3 0h0m1 0h0m1 0h0m-9 1h0m2 0h0m2 0h0m1 0h0m1 0h0m1 0h0" stroke="#2a52d0" stroke-width="2.4" stroke-linecap="square"/><path transform="scale(.5)" d="M585 109h0m1 0h0m1 0h0m1 0h0m3 0h0m1 0h0m1 0h0m-12 1h0m1 0h0m1 0h0m1 0h0m1 0h0m1 0h0m2 0h0m3 0h0m1 0h0m1 0h0m1 0h0m1 0h0m1 0h0m2 0h0m1 0h0m-22 1h0m1 0h0m1 0h0m1 0h0m1 0h0m1 0h0m1 0h0m1 0h0m11 0h0m1 0h0m1 0h0m1 0h0m1 0h0m1 0h0m-24 1h0m1 0h0m1 0h0m1 0h0m1 0h0m19 0h0m1 0h0m1 0h0m1 0h0m2 0h0m-28 1h0m1 0h0m1 0h0m21 0h0m1 0h0m1 0h0m1 0h0m1 0h0m-27 1h0m1 0h0m24 0h0m1 0h0m1 0h0m1 0h0m-28 1h0m1 0h0m1 0h0m22 0h0m1 0h0m1 0h0m-25 1h0m1 0h0m1 0h0m21 0h0m1 0h0m1 0h0m1 0h0m-26 1h0m1 0h0m1 0h0m20 0h0m1 0h0m1 0h0m1 0h0m-24 1h0m2 0h0m2 0h0m16 0h0m1 0h0m2 0h0m-22 1h0m1 0h0m1 0h0m1 0h0m1 0h0m1 0h0m13 0h0m1 0h0m1 0h0m1 0h0m-15 1h0m1 0h0m1 0h0m2 0h0m3 0h0m2 0h0m2 0h0m1 0h0m1 0h0m-11 1h0m1 0h0m1 0h0m1 0h0m1 0h0m3 0h0m1 0h0m1 0h0" stroke="#2a90e0" stroke-width="2.4" stroke-linecap="square"/><path transform="scale(.5)" d="M588 109h0m-2 1h0m2 0h0m1 0h0m1 0h0m1 0h0m1 0h0m1 0h0m-10 1h0m1 0h0m1 0h0m1 0h0m1 0h0m5 0h0m1 0h0m1 0h0m1 0h0m1 0h0m1 0h0m-17 1h0m1 0h0m1 0h0m1 0h0m1 0h0m1 0h0m11 0h0m1 0h0m1 0h0m1 0h0m-21 1h0m1 0h0m1 0h0m1 0h0m1 0h0m14 0h0m1 0h0m1 0h0m1 0h0m1 0h0m-23 1h0m1 0h0m2 0h0m17 0h0m1 0h0m1 0h0m-22 1h0m1 0h0m1 0h0m1 0h0m18 0h0m1 0h0m-21 1h0m1 0h0m1 0h0m1 0h0m17 0h0m1 0h0m1 0h0m-21 1h0m1 0h0m1 0h0m16 0h0m1 0h0m-18 1h0m1 0h0m1 0h0m1 0h0m1 0h0m13 0h0m1 0h0m-16 1h0m1 0h0m1 0h0m1 0h0m1 0h0m2 0h0m2 0h0m1 0h0m1 0h0m1 0h0m1 0h0m1 0h0m1 0h0m1 0h0m-10 1h0m1 0h0m1 0h0m1 0h0m2 0h0m1 0h0m1 0h0m1 0h0m1 0h0" stroke="#20c0c0" stroke-width="2.4" stroke-linecap="square"/><path transform="scale(.5)" d="M590 110h0m1 0h0m1 0h0m-7 1h0m1 0h0m1 0h0m1 0h0m1 0h0m1 0h0m1 0h0m1 0h0m-7 1h0m1 0h0m1 0h0m1 0h0m1 0h0m1 0h0m1 0h0m1 0h0m1 0h0m1 0h0m1 0h0m1 0h0m-16 1h0m2 0h0m1 0h0m1 0h0m1 0h0m1 0h0m1 0h0m7 0h0m1 0h0m1 0h0m1 0h0m-18 1h0m1 0h0m1 0h0m1 0h0m1 0h0m1 0h0m1 0h0m9 0h0m1 0h0m1 0h0m1 0h0m-18 1h0m1 0h0m1 0h0m1 0h0m1 0h0m1 0h0m11 0h0m1 0h0m1 0h0m1 0h0m-18 1h0m2 0h0m1 0h0m1 0h0m1 0h0m1 0h0m10 0h0m1 0h0m1 0h0m-17 1h0m1 0h0m1 0h0m1 0h0m1 0h0m1 0h0m1 0h0m1 0h0m6 0h0m1 0h0m1 0h0m1 0h0m-14 1h0m1 0h0m1 0h0m1 0h0m1 0h0m1 0h0m1 0h0m1 0h0m1 0h0m2 0h0m1 0h0m1 0h0m1 0h0m1 0h0m-11 1h0m1 0h0m1 0h0m1 0h0m1 0h0m1 0h0m1 0h0m1 0h0m1 0h0m1 0h0m-4 1h0m1 0h0" stroke="#22c070" stroke-width="2.4" stroke-linecap="square"/><path transform="scale(.5)" d="M587 112h0m3 0h0m2 0h0m-6 1h0m1 0h0m1 0h0m1 0h0m1 0h0m1 0h0m1 0h0m1 0h0m-8 1h0m1 0h0m1 0h0m1 0h0m4 0h0m1 0h0m1 0h0m-10 1h0m1 0h0m1 0h0m1 0h0m6 0h0m1 0h0m1 0h0m-11 1h0m1 0h0m1 0h0m1 0h0m6 0h0m1 0h0m1 0h0m-8 1h0m1 0h0m1 0h0m1 0h0m1 0h0m1 0h0m1 0h0m1 0h0m1 0h0m-7 1h0m2 0h0m1 0h0m1 0h0m1 0h0m1 0h0" stroke="#7cd030" stroke-width="2.4" stroke-linecap="square"/><path transform="scale(.5)" d="M588 113h0m1 0h0m1 0h0m1 0h0m-4 1h0m1 0h0m1 0h0m1 0h0m1 0h0m1 0h0m-5 1h0m1 0h0m1 0h0m3 0h0m1 0h0m-6 1h0m1 0h0m1 0h0m1 0h0m1 0h0m1 0h0m1 0h0m-5 1h0m1 0h0m1 0h0m1 0h0m1 0h0m1 0h0" stroke="#e8e020" stroke-width="2.4" stroke-linecap="square"/><path transform="scale(.5)" d="M589 114h0m1 0h0m1 0h0m1 0h0m-3 1h0m1 0h0m1 0h0m1 0h0m-3 1h0m1 0h0m1 0h0m1 0h0" stroke="#ff9000" stroke-width="2.4" stroke-linecap="square"/><path transform="scale(.5)" d="M625 149h0m52 0h0m-55 3h0m19 1h0m2 0h0m32 1h0m-3 2h0m-29 1h0m4 0h0m27 0h0m-29 3h0m21 2h0m-19 1h0m0 1h0m2 2h0m-36 2h0m39 3h0" stroke="#9a94dc" stroke-width="2.4" stroke-linecap="square"/><path transform="scale(.5)" d="M568 149h0m-2 1h0m43 1h0m43 0h0m-38 1h0m3 0h0m-5 1h0m39 0h0m3 0h0m3 0h0m2 0h0m-29 1h0m23 0h0m9 1h0m-40 1h0m5 0h0m2 0h0m-8 1h0m28 0h0m2 0h0m-29 1h0m18 0h0m10 0h0m-29 1h0m1 0h0m29 0h0m0 1h0m15 0h0m-46 1h0m20 0h0m11 0h0m12 0h0m-43 1h0m17 0h0m15 1h0m-19 1h0m1 0h0m22 0h0m-43 1h0m1 0h0m0 2h0" stroke="#5a4bb8" stroke-width="2.4" stroke-linecap="square"/><path transform="scale(.5)" d="M584 147h0m2 1h0m1 0h0m-16 1h0m5 0h0m1 0h0m1 0h0m1 0h0m1 0h0m1 0h0m1 0h0m1 0h0m1 0h0m1 0h0m1 0h0m2 0h0m1 0h0m1 0h0m1 0h0m2 0h0m1 0h0m-22 1h0m1 0h0m1 0h0m1 0h0m1 0h0m1 0h0m1 0h0m1 0h0m3 0h0m1 0h0m1 0h0m1 0h0m1 0h0m1 0h0m3 0h0m1 0h0m1 0h0m3 0h0m1 0h0m1 0h0m1 0h0m-29 1h0m1 0h0m1 0h0m2 0h0m1 0h0m1 0h0m1 0h0m21 0h0m1 0h0m1 0h0m1 0h0m4 0h0m1 0h0m-39 1h0m1 0h0m1 0h0m1 0h0m1 0h0m2 0h0m29 0h0m1 0h0m1 0h0m2 0h0m1 0h0m1 0h0m-41 1h0m1 0h0m1 0h0m1 0h0m34 0h0m3 0h0m1 0h0m2 0h0m4 0h0m20 0h0m1 0h0m1 0h0m3 0h0m15 0h0m7 0h0m1 0h0m-97 1h0m1 0h0m2 0h0m39 0h0m2 0h0m1 0h0m1 0h0m2 0h0m1 0h0m3 0h0m1 0h0m15 0h0m1 0h0m3 0h0m1 0h0m16 0h0m2 0h0m2 0h0m1 0h0m1 0h0m-96 1h0m1 0h0m1 0h0m1 0h0m41 0h0m1 0h0m1 0h0m6 0h0m1 0h0m1 0h0m1 0h0m1 0h0m11 0h0m1 0h0m1 0h0m1 0h0m1 0h0m1 0h0m16 0h0m1 0h0m1 0h0m2 0h0m1 0h0m1 0h0m2 0h0m2 0h0m-98 1h0m1 0h0m1 0h0m44 0h0m1 0h0m1 0h0m2 0h0m1 0h0m2 0h0m3 0h0m10 0h0m4 0h0m1 0h0m1 0h0m1 0h0m1 0h0m16 0h0m2 0h0m1 0h0m2 0h0m1 0h0m1 0h0m1 0h0m1 0h0m-99 1h0m1 0h0m1 0h0m42 0h0m1 0h0m1 0h0m1 0h0m2 0h0m2 0h0m1 0h0m1 0h0m3 0h0m1 0h0m12 0h0m1 0h0m1 0h0m1 0h0m1 0h0m1 0h0m18 0h0m1 0h0m1 0h0m1 0h0m1 0h0m1 0h0m1 0h0m1 0h0m2 0h0m-102 1h0m1 0h0m1 0h0m1 0h0m48 0h0m1 0h0m1 0h0m1 0h0m1 0h0m2 0h0m1 0h0m8 0h0m1 0h0m2 0h0m1 0h0m1 0h0m5 0h0m14 0h0m2 0h0m1 0h0m1 0h0m1 0h0m1 0h0m1 0h0m1 0h0m1 0h0m1 0h0m1 0h0m-101 1h0m2 0h0m1 0h0m44 0h0m2 0h0m1 0h0m3 0h0m1 0h0m1 0h0m13 0h0m2 0h0m1 0h0m3 0h0m1 0h0m15 0h0m1 0h0m1 0h0m1 0h0m2 0h0m1 0h0m1 0h0m2 0h0m2 0h0m-100 1h0m1 0h0m1 0h0m43 0h0m1 0h0m1 0h0m1 0h0m1 0h0m1 0h0m2 0h0m1 0h0m1 0h0m1 0h0m1 0h0m9 0h0m1 0h0m1 0h0m4 0h0m2 0h0m1 0h0m1 0h0m16 0h0m1 0h0m1 0h0m2 0h0m2 0h0m-97 1h0m1 0h0m43 0h0m1 0h0m1 0h0m1 0h0m1 0h0m1 0h0m2 0h0m4 0h0m11 0h0m1 0h0m1 0h0m1 0h0m1 0h0m1 0h0m1 0h0m1 0h0m1 0h0m1 0h0m16 0h0m3 0h0m1 0h0m1 0h0m3 0h0m1 0h0m-101 1h0m1 0h0m1 0h0m1 0h0m42 0h0m1 0h0m3 0h0m1 0h0m1 0h0m1 0h0m3 0h0m1 0h0m10 0h0m1 0h0m2 0h0m1 0h0m1 0h0m21 0h0m1 0h0m1 0h0m2 0h0m1 0h0m3 0h0m-99 1h0m2 0h0m1 0h0m2 0h0m1 0h0m41 0h0m1 0h0m1 0h0m1 0h0m2 0h0m2 0h0m14 0h0m2 0h0m3 0h0m18 0h0m1 0h0m1 0h0m1 0h0m1 0h0m2 0h0m1 0h0m-97 1h0m2 0h0m1 0h0m1 0h0m1 0h0m2 0h0m33 0h0m1 0h0m1 0h0m24 0h0m1 0h0m2 0h0m24 0h0m1 0h0m-92 1h0m1 0h0m1 0h0m2 0h0m1 0h0m29 0h0m3 0h0m2 0h0m-35 1h0m1 0h0m1 0h0m1 0h0m1 0h0m1 0h0m24 0h0m1 0h0m1 0h0m3 0h0m-31 1h0m1 0h0m1 0h0m1 0h0m1 0h0m9 0h0m4 0h0m4 0h0m4 0h0m1 0h0m-22 1h0m2 0h0m1 0h0m2 0h0m2 0h0m2 0h0m1 0h0m1 0h0m1 0h0m1 0h0m1 0h0m-16 1h0" stroke="#3a2896" stroke-width="2.4" stroke-linecap="square"/><path transform="scale(.5)" d="M578 150h0m1 0h0m7 0h0m4 0h0m1 0h0m4 0h0m-19 1h0m2 0h0m1 0h0m1 0h0m1 0h0m4 0h0m1 0h0m4 0h0m1 0h0m1 0h0m1 0h0m1 0h0m1 0h0m1 0h0m1 0h0m2 0h0m1 0h0m1 0h0m-30 1h0m1 0h0m1 0h0m1 0h0m1 0h0m1 0h0m1 0h0m1 0h0m2 0h0m14 0h0m1 0h0m1 0h0m2 0h0m1 0h0m1 0h0m1 0h0m1 0h0m-31 1h0m2 0h0m26 0h0m1 0h0m1 0h0m1 0h0m-33 1h0m33 0h0m1 0h0m1 0h0m-36 1h0m1 0h0m34 0h0m1 0h0m1 0h0m1 0h0m1 0h0m-41 1h0m1 0h0m1 0h0m36 0h0m1 0h0m1 0h0m1 0h0m-41 1h0m1 0h0m1 0h0m38 0h0m1 0h0m-42 1h0m1 0h0m1 0h0m1 0h0m37 0h0m1 0h0m1 0h0m-43 1h0m2 0h0m1 0h0m38 0h0m1 0h0m1 0h0m-42 1h0m1 0h0m1 0h0m1 0h0m37 0h0m1 0h0m1 0h0m-41 1h0m1 0h0m1 0h0m1 0h0m1 0h0m33 0h0m1 0h0m1 0h0m1 0h0m-38 1h0m1 0h0m3 0h0m32 0h0m1 0h0m1 0h0m-39 1h0m1 0h0m2 0h0m1 0h0m1 0h0m1 0h0m28 0h0m1 0h0m1 0h0m1 0h0m-34 1h0m2 0h0m1 0h0m28 0h0m1 0h0m1 0h0m-32 1h0m1 0h0m2 0h0m1 0h0m7 0h0m2 0h0m6 0h0m1 0h0m7 0h0m1 0h0m1 0h0m1 0h0m1 0h0m-27 1h0m1 0h0m1 0h0m1 0h0m2 0h0m1 0h0m1 0h0m1 0h0m1 0h0m1 0h0m1 0h0m3 0h0m1 0h0m1 0h0m2 0h0m1 0h0m2 0h0m1 0h0m1 0h0m1 0h0m1 0h0m-24 1h0m1 0h0m2 0h0m1 0h0m3 0h0m1 0h0m1 0h0m2 0h0m2 0h0m1 0h0m1 0h0m1 0h0m1 0h0m1 0h0m1 0h0m1 0h0" stroke="#3430aa" stroke-width="2.4" stroke-linecap="square"/><path transform="scale(.5)" d="M585 151h0m1 0h0m1 0h0m1 0h0m2 0h0m1 0h0m1 0h0m-17 1h0m5 0h0m4 0h0m1 0h0m2 0h0m1 0h0m2 0h0m1 0h0m1 0h0m1 0h0m1 0h0m2 0h0m2 0h0m1 0h0m-27 1h0m2 0h0m1 0h0m1 0h0m1 0h0m3 0h0m1 0h0m13 0h0m2 0h0m1 0h0m1 0h0m1 0h0m-29 1h0m1 0h0m1 0h0m1 0h0m1 0h0m1 0h0m23 0h0m1 0h0m1 0h0m-30 1h0m1 0h0m30 0h0m1 0h0m1 0h0m1 0h0m-36 1h0m2 0h0m1 0h0m30 0h0m1 0h0m1 0h0m1 0h0m-36 1h0m1 0h0m1 0h0m32 0h0m1 0h0m1 0h0m1 0h0m-36 1h0m1 0h0m32 0h0m1 0h0m2 0h0m-37 1h0m1 0h0m1 0h0m32 0h0m1 0h0m2 0h0m-37 1h0m2 0h0m1 0h0m31 0h0m1 0h0m1 0h0m-34 1h0m1 0h0m1 0h0m30 0h0m1 0h0m1 0h0m-34 1h0m1 0h0m1 0h0m1 0h0m1 0h0m26 0h0m1 0h0m1 0h0m-2 1h0m1 0h0m1 0h0m-28 1h0m2 0h0m9 0h0m2 0h0m1 0h0m1 0h0m3 0h0m2 0h0m2 0h0m1 0h0m2 0h0m1 0h0m-24 1h0m1 0h0m3 0h0m2 0h0m1 0h0m1 0h0m1 0h0m1 0h0m2 0h0m1 0h0m1 0h0m1 0h0m1 0h0m1 0h0m1 0h0m1 0h0m1 0h0m1 0h0m1 0h0m1 0h0m-8 1h0m2 0h0m1 0h0m1 0h0" stroke="#2a52d0" stroke-width="2.4" stroke-linecap="square"/><path transform="scale(.5)" d="M582 152h0m1 0h0m1 0h0m1 0h0m1 0h0m2 0h0m1 0h0m1 0h0m1 0h0m1 0h0m-15 1h0m2 0h0m4 0h0m1 0h0m1 0h0m2 0h0m1 0h0m3 0h0m1 0h0m1 0h0m1 0h0m1 0h0m1 0h0m-22 1h0m1 0h0m1 0h0m1 0h0m1 0h0m1 0h0m14 0h0m1 0h0m1 0h0m1 0h0m2 0h0m-25 1h0m1 0h0m1 0h0m21 0h0m1 0h0m1 0h0m1 0h0m1 0h0m-29 1h0m1 0h0m1 0h0m25 0h0m2 0h0m1 0h0m1 0h0m-32 1h0m1 0h0m27 0h0m1 0h0m1 0h0m1 0h0m1 0h0m-31 1h0m1 0h0m26 0h0m1 0h0m1 0h0m1 0h0m1 0h0m-32 1h0m1 0h0m1 0h0m28 0h0m1 0h0m1 0h0m-30 1h0m1 0h0m26 0h0m1 0h0m1 0h0m1 0h0m-30 1h0m1 0h0m25 0h0m1 0h0m1 0h0m1 0h0m1 0h0m-28 1h0m24 0h0m1 0h0m1 0h0m1 0h0m-26 1h0m1 0h0m13 0h0m2 0h0m1 0h0m1 0h0m2 0h0m1 0h0m1 0h0m1 0h0m1 0h0m1 0h0m-25 1h0m1 0h0m1 0h0m1 0h0m2 0h0m8 0h0m2 0h0m1 0h0m1 0h0m1 0h0m1 0h0m1 0h0m1 0h0m1 0h0m1 0h0m1 0h0m-22 1h0m1 0h0m1 0h0m2 0h0" stroke="#2a90e0" stroke-width="2.4" stroke-linecap="square"/><path transform="scale(.5)" d="M579 153h0m1 0h0m2 0h0m1 0h0m7 0h0m1 0h0m1 0h0m-17 1h0m3 0h0m1 0h0m1 0h0m1 0h0m1 0h0m4 0h0m1 0h0m1 0h0m1 0h0m1 0h0m1 0h0m1 0h0m1 0h0m1 0h0m1 0h0m-21 1h0m3 0h0m1 0h0m1 0h0m14 0h0m1 0h0m1 0h0m1 0h0m1 0h0m-24 1h0m1 0h0m1 0h0m19 0h0m1 0h0m1 0h0m1 0h0m1 0h0m-26 1h0m1 0h0m1 0h0m21 0h0m1 0h0m1 0h0m1 0h0m-26 1h0m23 0h0m1 0h0m1 0h0m-2 1h0m1 0h0m1 0h0m1 0h0m1 0h0m-27 1h0m1 0h0m1 0h0m1 0h0m20 0h0m1 0h0m1 0h0m1 0h0m1 0h0m-26 1h0m1 0h0m1 0h0m1 0h0m18 0h0m1 0h0m1 0h0m1 0h0m1 0h0m-23 1h0m1 0h0m13 0h0m1 0h0m1 0h0m1 0h0m1 0h0m1 0h0m1 0h0m1 0h0m1 0h0m1 0h0m-22 1h0m1 0h0m1 0h0m1 0h0m2 0h0m3 0h0m3 0h0m2 0h0m1 0h0m1 0h0m1 0h0m1 0h0m1 0h0m1 0h0m1 0h0m-19 1h0m1 0h0m1 0h0m1 0h0m1 0h0m1 0h0m1 0h0m2 0h0m1 0h0m1 0h0" stroke="#20c0c0" stroke-width="2.4" stroke-linecap="square"/><path transform="scale(.5)" d="M584 153h0m1 0h0m-4 1h0m2 0h0m1 0h0m1 0h0m1 0h0m2 0h0m1 0h0m3 0h0m-17 1h0m2 0h0m1 0h0m1 0h0m1 0h0m1 0h0m1 0h0m1 0h0m2 0h0m1 0h0m1 0h0m1 0h0m1 0h0m1 0h0m1 0h0m1 0h0m1 0h0m-19 1h0m1 0h0m1 0h0m1 0h0m1 0h0m1 0h0m9 0h0m1 0h0m1 0h0m1 0h0m1 0h0m1 0h0m1 0h0m1 0h0m-21 1h0m1 0h0m1 0h0m1 0h0m14 0h0m1 0h0m1 0h0m1 0h0m1 0h0m-22 1h0m1 0h0m1 0h0m1 0h0m15 0h0m1 0h0m1 0h0m1 0h0m1 0h0m-22 1h0m1 0h0m1 0h0m1 0h0m15 0h0m1 0h0m1 0h0m1 0h0m1 0h0m-21 1h0m1 0h0m1 0h0m1 0h0m14 0h0m1 0h0m1 0h0m1 0h0m1 0h0m-20 1h0m1 0h0m2 0h0m1 0h0m8 0h0m2 0h0m1 0h0m1 0h0m1 0h0m1 0h0m-17 1h0m1 0h0m1 0h0m1 0h0m1 0h0m1 0h0m2 0h0m1 0h0m1 0h0m2 0h0m1 0h0m1 0h0m1 0h0m1 0h0m1 0h0m-15 1h0m1 0h0m1 0h0m1 0h0m1 0h0m1 0h0m1 0h0m1 0h0m1 0h0m1 0h0m1 0h0m1 0h0m1 0h0" stroke="#22c070" stroke-width="2.4" stroke-linecap="square"/><path transform="scale(.5)" d="M583 154h0m1 0h0m1 0h0m-6 1h0m1 0h0m1 0h0m3 0h0m1 0h0m1 0h0m1 0h0m1 0h0m-11 1h0m1 0h0m1 0h0m1 0h0m1 0h0m1 0h0m3 0h0m1 0h0m1 0h0m1 0h0m1 0h0m1 0h0m1 0h0m-14 1h0m1 0h0m1 0h0m8 0h0m1 0h0m1 0h0m1 0h0m1 0h0m-15 1h0m1 0h0m1 0h0m1 0h0m10 0h0m1 0h0m1 0h0m-15 1h0m1 0h0m1 0h0m11 0h0m1 0h0m1 0h0m-15 1h0m1 0h0m1 0h0m1 0h0m9 0h0m1 0h0m1 0h0m1 0h0m-14 1h0m1 0h0m1 0h0m1 0h0m1 0h0m2 0h0m1 0h0m1 0h0m1 0h0m1 0h0m1 0h0m1 0h0m-10 1h0m1 0h0m1 0h0m1 0h0m1 0h0m1 0h0m1 0h0m1 0h0m1 0h0" stroke="#7cd030" stroke-width="2.4" stroke-linecap="square"/><path transform="scale(.5)" d="M584 155h0m-4 1h0m1 0h0m1 0h0m1 0h0m1 0h0m1 0h0m1 0h0m-7 1h0m1 0h0m1 0h0m1 0h0m4 0h0m1 0h0m2 0h0m-11 1h0m1 0h0m1 0h0m7 0h0m1 0h0m1 0h0m-11 1h0m1 0h0m1 0h0m7 0h0m1 0h0m1 0h0m-11 1h0m1 0h0m1 0h0m1 0h0m1 0h0m1 0h0m1 0h0m1 0h0m1 0h0m1 0h0m1 0h0m1 0h0m-9 1h0m1 0h0m1 0h0m1 0h0m1 0h0m1 0h0m1 0h0m1 0h0" stroke="#e8e020" stroke-width="2.4" stroke-linecap="square"/><path transform="scale(.5)" d="M582 156h0m1 0h0m1 0h0m1 0h0m-5 1h0m1 0h0m1 0h0m1 0h0m1 0h0m1 0h0m1 0h0m-6 1h0m1 0h0m1 0h0m3 0h0m1 0h0m1 0h0m-7 1h0m1 0h0m1 0h0m1 0h0m1 0h0m1 0h0m1 0h0m1 0h0m-4 1h0m1 0h0m1 0h0m1 0h0m1 0h0" stroke="#ff9000" stroke-width="2.4" stroke-linecap="square"/><path transform="scale(.5)" d="M583 157h0m1 0h0m1 0h0m-3 1h0m1 0h0m1 0h0m1 0h0m1 0h0m-4 1h0m1 0h0m1 0h0m1 0h0m1 0h0" stroke="#f02010" stroke-width="2.4" stroke-linecap="square"/><path transform="scale(.5)" d="M651 193h0m-11 1h0m10 0h0m9 0h0m-21 1h0m5 1h0m-23 1h0m11 0h0m18 0h0m2 0h0m5 0h0m-13 1h0m13 0h0m1 0h0m4 0h0m2 0h0m-16 1h0m7 0h0m-3 1h0m0 1h0m-8 1h0m30 1h0m-31 1h0m3 0h0m3 0h0m1 0h0m1 0h0m-10 1h0m5 0h0m19 0h0m-13 1h0m-12 1h0m5 0h0m2 0h0m-17 1h0m18 7h0" stroke="#9a94dc" stroke-width="2.4" stroke-linecap="square"/><path transform="scale(.5)" d="M609 196h0m7 1h0m-49 1h0m45 0h0m1 0h0m5 0h0m1 0h0m14 0h0m2 0h0m1 0h0m-19 1h0m1 0h0m3 0h0m1 0h0m12 0h0m2 0h0m1 0h0m16 0h0m1 0h0m1 0h0m4 0h0m3 0h0m-39 1h0m11 0h0m1 0h0m1 0h0m1 0h0m2 0h0m15 0h0m5 0h0m1 0h0m1 0h0m2 0h0m-97 1h0m56 0h0m9 0h0m7 0h0m13 0h0m5 0h0m2 0h0m-94 1h0m2 0h0m56 0h0m2 0h0m7 0h0m1 0h0m6 0h0m14 0h0m4 0h0m2 0h0m3 0h0m2 0h0m-97 1h0m62 0h0m2 0h0m1 0h0m1 0h0m6 0h0m14 0h0m5 0h0m1 0h0m3 0h0m-33 1h0m1 0h0m3 0h0m20 0h0m2 0h0m2 0h0m2 0h0m1 0h0m2 0h0m2 0h0m-41 1h0m3 0h0m3 0h0m2 0h0m1 0h0m3 0h0m4 0h0m15 0h0m1 0h0m1 0h0m1 0h0m2 0h0m1 0h0m2 0h0m1 0h0m-29 1h0m5 0h0m17 0h0m7 0h0m-41 1h0m1 0h0m32 0h0m2 0h0m2 0h0m1 0h0m-25 1h0m2 0h0m21 0h0m2 0h0m1 0h0m-43 1h0m-43 3h0m15 2h0" stroke="#5a4bb8" stroke-width="2.4" stroke-linecap="square"/><path transform="scale(.5)" d="M580 193h0m2 0h0m1 0h0m1 0h0m3 0h0m1 0h0m1 0h0m3 0h0m1 0h0m2 0h0m-17 1h0m2 0h0m1 0h0m3 0h0m1 0h0m1 0h0m2 0h0m1 0h0m1 0h0m2 0h0m1 0h0m2 0h0m1 0h0m1 0h0m2 0h0m1 0h0m-25 1h0m1 0h0m1 0h0m1 0h0m3 0h0m1 0h0m1 0h0m1 0h0m1 0h0m1 0h0m2 0h0m1 0h0m2 0h0m1 0h0m1 0h0m2 0h0m2 0h0m1 0h0m1 0h0m1 0h0m2 0h0m3 0h0m-33 1h0m2 0h0m1 0h0m1 0h0m2 0h0m1 0h0m1 0h0m1 0h0m1 0h0m1 0h0m1 0h0m1 0h0m1 0h0m1 0h0m1 0h0m1 0h0m1 0h0m1 0h0m4 0h0m2 0h0m1 0h0m1 0h0m1 0h0m1 0h0m1 0h0m1 0h0m1 0h0m1 0h0m4 0h0m-40 1h0m2 0h0m1 0h0m1 0h0m2 0h0m1 0h0m1 0h0m1 0h0m1 0h0m13 0h0m1 0h0m1 0h0m1 0h0m2 0h0m1 0h0m1 0h0m1 0h0m2 0h0m1 0h0m1 0h0m1 0h0m1 0h0m1 0h0m5 0h0m-44 1h0m1 0h0m1 0h0m1 0h0m1 0h0m1 0h0m1 0h0m1 0h0m1 0h0m1 0h0m1 0h0m18 0h0m1 0h0m1 0h0m1 0h0m1 0h0m1 0h0m1 0h0m1 0h0m1 0h0m1 0h0m1 0h0m1 0h0m1 0h0m3 0h0m-43 1h0m2 0h0m1 0h0m1 0h0m1 0h0m1 0h0m1 0h0m1 0h0m26 0h0m1 0h0m1 0h0m1 0h0m1 0h0m1 0h0m1 0h0m1 0h0m1 0h0m2 0h0m2 0h0m3 0h0m-50 1h0m1 0h0m1 0h0m1 0h0m2 0h0m1 0h0m31 0h0m1 0h0m1 0h0m1 0h0m1 0h0m1 0h0m1 0h0m1 0h0m1 0h0m1 0h0m1 0h0m1 0h0m4 0h0m-52 1h0m1 0h0m1 0h0m1 0h0m1 0h0m1 0h0m32 0h0m1 0h0m1 0h0m1 0h0m1 0h0m1 0h0m1 0h0m1 0h0m1 0h0m1 0h0m1 0h0m1 0h0m2 0h0m2 0h0m1 0h0m-54 1h0m1 0h0m1 0h0m2 0h0m1 0h0m1 0h0m1 0h0m34 0h0m1 0h0m1 0h0m1 0h0m1 0h0m1 0h0m1 0h0m3 0h0m1 0h0m1 0h0m1 0h0m1 0h0m1 0h0m1 0h0m1 0h0m10 0h0m1 0h0m1 0h0m2 0h0m-70 1h0m1 0h0m1 0h0m1 0h0m1 0h0m35 0h0m1 0h0m1 0h0m1 0h0m1 0h0m1 0h0m1 0h0m2 0h0m1 0h0m1 0h0m1 0h0m1 0h0m2 0h0m2 0h0m10 0h0m1 0h0m3 0h0m1 0h0m-70 1h0m1 0h0m1 0h0m1 0h0m1 0h0m1 0h0m1 0h0m33 0h0m1 0h0m1 0h0m2 0h0m2 0h0m3 0h0m1 0h0m1 0h0m1 0h0m1 0h0m1 0h0m1 0h0m1 0h0m11 0h0m1 0h0m1 0h0m-69 1h0m1 0h0m1 0h0m1 0h0m1 0h0m1 0h0m1 0h0m1 0h0m33 0h0m1 0h0m2 0h0m1 0h0m1 0h0m1 0h0m2 0h0m1 0h0m1 0h0m1 0h0m1 0h0m1 0h0m15 0h0m2 0h0m-70 1h0m1 0h0m1 0h0m1 0h0m2 0h0m1 0h0m1 0h0m1 0h0m31 0h0m1 0h0m1 0h0m1 0h0m1 0h0m2 0h0m1 0h0m1 0h0m1 0h0m1 0h0m4 0h0m2 0h0m-53 1h0m1 0h0m1 0h0m1 0h0m2 0h0m1 0h0m1 0h0m29 0h0m1 0h0m1 0h0m1 0h0m1 0h0m1 0h0m1 0h0m2 0h0m2 0h0m2 0h0m-49 1h0m3 0h0m1 0h0m1 0h0m1 0h0m2 0h0m1 0h0m1 0h0m1 0h0m21 0h0m2 0h0m1 0h0m1 0h0m1 0h0m1 0h0m1 0h0m1 0h0m1 0h0m1 0h0m3 0h0m-42 1h0m1 0h0m1 0h0m1 0h0m1 0h0m1 0h0m1 0h0m1 0h0m2 0h0m1 0h0m1 0h0m16 0h0m1 0h0m1 0h0m1 0h0m1 0h0m1 0h0m1 0h0m1 0h0m1 0h0m1 0h0m1 0h0m2 0h0m2 0h0m-41 1h0m2 0h0m1 0h0m1 0h0m1 0h0m1 0h0m1 0h0m1 0h0m1 0h0m1 0h0m1 0h0m1 0h0m4 0h0m1 0h0m3 0h0m3 0h0m1 0h0m1 0h0m1 0h0m1 0h0m1 0h0m1 0h0m2 0h0m1 0h0m1 0h0m3 0h0m1 0h0m1 0h0m-33 1h0m1 0h0m1 0h0m1 0h0m1 0h0m1 0h0m1 0h0m1 0h0m1 0h0m1 0h0m1 0h0m1 0h0m1 0h0m1 0h0m1 0h0m1 0h0m1 0h0m1 0h0m1 0h0m1 0h0m1 0h0m2 0h0m1 0h0m1 0h0m1 0h0m1 0h0m-22 1h0m2 0h0m1 0h0m2 0h0m1 0h0m1 0h0m1 0h0m1 0h0m1 0h0m3 0h0m1 0h0m1 0h0m1 0h0m1 0h0m-13 1h0m1 0h0m1 0h0m5 0h0" stroke="#3a2896" stroke-width="2.4" stroke-linecap="square"/><path transform="scale(.5)" d="M581 196h0m2 0h0m2 0h0m2 0h0m1 0h0m1 0h0m1 0h0m1 0h0m-13 1h0m1 0h0m1 0h0m1 0h0m1 0h0m1 0h0m1 0h0m1 0h0m1 0h0m1 0h0m1 0h0m1 0h0m1 0h0m1 0h0m1 0h0m3 0h0m-19 1h0m1 0h0m1 0h0m1 0h0m1 0h0m1 0h0m1 0h0m1 0h0m1 0h0m6 0h0m1 0h0m1 0h0m1 0h0m1 0h0m1 0h0m2 0h0m-21 1h0m1 0h0m1 0h0m1 0h0m1 0h0m1 0h0m11 0h0m1 0h0m1 0h0m1 0h0m1 0h0m1 0h0m1 0h0m1 0h0m3 0h0m-29 1h0m1 0h0m1 0h0m2 0h0m1 0h0m1 0h0m17 0h0m1 0h0m1 0h0m1 0h0m1 0h0m1 0h0m1 0h0m1 0h0m1 0h0m-30 1h0m1 0h0m1 0h0m1 0h0m1 0h0m19 0h0m1 0h0m1 0h0m2 0h0m1 0h0m1 0h0m1 0h0m-31 1h0m1 0h0m1 0h0m1 0h0m1 0h0m21 0h0m1 0h0m1 0h0m1 0h0m1 0h0m1 0h0m1 0h0m1 0h0m-32 1h0m1 0h0m1 0h0m1 0h0m1 0h0m20 0h0m1 0h0m1 0h0m1 0h0m1 0h0m1 0h0m1 0h0m1 0h0m1 0h0m1 0h0m-32 1h0m1 0h0m1 0h0m1 0h0m21 0h0m1 0h0m1 0h0m2 0h0m1 0h0m1 0h0m1 0h0m1 0h0m-31 1h0m1 0h0m1 0h0m1 0h0m20 0h0m1 0h0m1 0h0m1 0h0m1 0h0m1 0h0m1 0h0m1 0h0m-31 1h0m1 0h0m1 0h0m1 0h0m1 0h0m18 0h0m1 0h0m1 0h0m1 0h0m1 0h0m1 0h0m3 0h0m-29 1h0m2 0h0m1 0h0m1 0h0m1 0h0m1 0h0m1 0h0m14 0h0m1 0h0m1 0h0m1 0h0m1 0h0m1 0h0m1 0h0m-26 1h0m1 0h0m1 0h0m1 0h0m1 0h0m1 0h0m1 0h0m1 0h0m2 0h0m8 0h0m1 0h0m1 0h0m1 0h0m1 0h0m1 0h0m1 0h0m1 0h0m1 0h0m-22 1h0m1 0h0m2 0h0m1 0h0m1 0h0m1 0h0m1 0h0m1 0h0m2 0h0m1 0h0m1 0h0m1 0h0m1 0h0m1 0h0m1 0h0m1 0h0m1 0h0m1 0h0m-16 1h0m1 0h0m1 0h0m1 0h0m1 0h0m2 0h0m1 0h0m2 0h0m1 0h0m1 0h0m1 0h0m1 0h0" stroke="#3430aa" stroke-width="2.4" stroke-linecap="square"/><path transform="scale(.5)" d="M584 197h0m1 0h0m1 0h0m1 0h0m2 0h0m1 0h0m-9 1h0m1 0h0m1 0h0m1 0h0m1 0h0m1 0h0m1 0h0m1 0h0m1 0h0m1 0h0m-11 1h0m1 0h0m1 0h0m1 0h0m1 0h0m7 0h0m1 0h0m1 0h0m1 0h0m1 0h0m-15 1h0m1 0h0m1 0h0m11 0h0m1 0h0m1 0h0m1 0h0m-17 1h0m1 0h0m1 0h0m13 0h0m1 0h0m1 0h0m1 0h0m1 0h0m-20 1h0m1 0h0m16 0h0m1 0h0m1 0h0m1 0h0m-20 1h0m1 0h0m1 0h0m17 0h0m1 0h0m1 0h0m-21 1h0m1 0h0m1 0h0m1 0h0m15 0h0m1 0h0m1 0h0m1 0h0m-21 1h0m2 0h0m1 0h0m15 0h0m1 0h0m1 0h0m-18 1h0m1 0h0m1 0h0m1 0h0m1 0h0m11 0h0m1 0h0m1 0h0m-15 1h0m1 0h0m2 0h0m1 0h0m1 0h0m1 0h0m4 0h0m1 0h0m1 0h0m1 0h0m1 0h0m1 0h0m-14 1h0m1 0h0m1 0h0m1 0h0m3 0h0m1 0h0m1 0h0m1 0h0m1 0h0m1 0h0m1 0h0m-6 1h0m1 0h0m1 0h0m1 0h0m1 0h0" stroke="#2a52d0" stroke-width="2.4" stroke-linecap="square"/><path transform="scale(.5)" d="M585 198h0m3 0h0m-6 1h0m1 0h0m1 0h0m1 0h0m1 0h0m1 0h0m1 0h0m1 0h0m1 0h0m1 0h0m1 0h0m-11 1h0m1 0h0m1 0h0m1 0h0m6 0h0m1 0h0m1 0h0m-12 1h0m1 0h0m10 0h0m1 0h0m-12 1h0m1 0h0m12 0h0m1 0h0m1 0h0m-16 1h0m1 0h0m1 0h0m12 0h0m1 0h0m1 0h0m-16 1h0m1 0h0m1 0h0m1 0h0m11 0h0m1 0h0m1 0h0m-15 1h0m1 0h0m1 0h0m1 0h0m10 0h0m1 0h0m1 0h0m-14 1h0m1 0h0m1 0h0m1 0h0m3 0h0m7 0h0m1 0h0m-12 1h0m1 0h0m1 0h0m1 0h0m1 0h0m1 0h0m1 0h0m1 0h0m1 0h0m1 0h0m1 0h0m-6 1h0m1 0h0m1 0h0m1 0h0" stroke="#2a90e0" stroke-width="2.4" stroke-linecap="square"/><path transform="scale(.5)" d="M584 199h0m1 0h0m1 0h0m1 0h0m1 0h0m1 0h0m1 0h0m-7 1h0m1 0h0m1 0h0m1 0h0m1 0h0m1 0h0m1 0h0m1 0h0m-9 1h0m1 0h0m1 0h0m1 0h0m1 0h0m4 0h0m1 0h0m1 0h0m1 0h0m-11 1h0m1 0h0m1 0h0m1 0h0m7 0h0m1 0h0m-11 1h0m1 0h0m1 0h0m8 0h0m1 0h0m1 0h0m-12 1h0m1 0h0m1 0h0m8 0h0m1 0h0m1 0h0m-10 1h0m1 0h0m1 0h0m1 0h0m2 0h0m1 0h0m1 0h0m1 0h0m1 0h0m1 0h0m-8 1h0m1 0h0m1 0h0m1 0h0m1 0h0m1 0h0m2 0h0m-5 1h0m1 0h0m1 0h0m1 0h0" stroke="#20c0c0" stroke-width="2.4" stroke-linecap="square"/><path transform="scale(.5)" d="M585 200h0m1 0h0m1 0h0m1 0h0m1 0h0m-4 1h0m1 0h0m1 0h0m1 0h0m1 0h0m1 0h0m-7 1h0m1 0h0m1 0h0m1 0h0m1 0h0m1 0h0m1 0h0m1 0h0m1 0h0m-8 1h0m1 0h0m1 0h0m1 0h0m1 0h0m1 0h0m1 0h0m1 0h0m1 0h0m-8 1h0m1 0h0m1 0h0m1 0h0m1 0h0m1 0h0m1 0h0m1 0h0m1 0h0m-7 1h0m1 0h0m1 0h0m1 0h0m1 0h0m1 0h0m1 0h0m-2 1h0m1 0h0" stroke="#22c070" stroke-width="2.4" stroke-linecap="square"/></g><rect x="309.2" y="34.5" width="30.2" height="88" fill="none" stroke="#2f5b8f" stroke-width="1.1"/><text transform="translate(324.6,30.6)" font-size="5.9" fill="#34558f" text-anchor="middle">CD45+</text><text transform="translate(324.8,50.4)" font-size="5.8" fill="#34558f" text-anchor="middle">0.77</text><text transform="translate(324.8,73.4)" font-size="5.8" fill="#34558f" text-anchor="middle">1.41</text><text transform="translate(324.8,95.5)" font-size="5.8" fill="#34558f" text-anchor="middle">0.97</text><line x1="339.4" y1="39.2" x2="360.3" y2="39.2" stroke="#1e4f86" stroke-width="1"/><polygon points="363.8,39.2 359.8,37 359.8,41.4" fill="#1e4f86"/><rect x="357.3" y="35.4" width="43.9" height="26.6" fill="none" stroke="#1a1a1a" stroke-width="0.9"/><text transform="translate(354.4,43.32)" font-size="5.8" fill="#333" text-anchor="end">80</text><text transform="translate(354.4,53.16)" font-size="5.8" fill="#333" text-anchor="end">40</text><text transform="translate(354.4,63)" font-size="5.8" fill="#333" text-anchor="end">0</text><path d="M357.3 61h-1.3M357.3 56.08h-1.3M357.3 51.16h-1.3M357.3 46.24h-1.3M357.3 41.32h-1.3" stroke="#000" stroke-width="0.5"/><path d="M357.6 62v1M360.87 62v1M362.78 62v1M364.13 62v1M365.18 62v1M366.04 62v1M366.77 62v1M367.4 62v1M367.95 62v1M368.45 62v1M371.72 62v1M373.63 62v1M374.98 62v1M376.03 62v1M376.89 62v1M377.62 62v1M378.25 62v1M378.8 62v1M379.3 62v1M382.57 62v1M384.48 62v1M385.83 62v1M386.88 62v1M387.74 62v1M388.47 62v1M389.1 62v1M389.65 62v1M390.15 62v1M393.42 62v1M395.33 62v1M396.68 62v1M397.73 62v1M398.59 62v1M399.32 62v1M399.95 62v1M400.5 62v1M401 62v1" stroke="#000" stroke-width="0.5"/><rect x="357.3" y="65.6" width="43.9" height="27.1" fill="none" stroke="#1a1a1a" stroke-width="0.9"/><text transform="translate(354.4,73.62)" font-size="5.8" fill="#333" text-anchor="end">80</text><text transform="translate(354.4,83.66)" font-size="5.8" fill="#333" text-anchor="end">40</text><text transform="translate(354.4,93.7)" font-size="5.8" fill="#333" text-anchor="end">0</text><path d="M357.3 91.7h-1.3M357.3 86.68h-1.3M357.3 81.66h-1.3M357.3 76.64h-1.3M357.3 71.62h-1.3" stroke="#000" stroke-width="0.5"/><path d="M357.6 92.7v1M360.87 92.7v1M362.78 92.7v1M364.13 92.7v1M365.18 92.7v1M366.04 92.7v1M366.77 92.7v1M367.4 92.7v1M367.95 92.7v1M368.45 92.7v1M371.72 92.7v1M373.63 92.7v1M374.98 92.7v1M376.03 92.7v1M376.89 92.7v1M377.62 92.7v1M378.25 92.7v1M378.8 92.7v1M379.3 92.7v1M382.57 92.7v1M384.48 92.7v1M385.83 92.7v1M386.88 92.7v1M387.74 92.7v1M388.47 92.7v1M389.1 92.7v1M389.65 92.7v1M390.15 92.7v1M393.42 92.7v1M395.33 92.7v1M396.68 92.7v1M397.73 92.7v1M398.59 92.7v1M399.32 92.7v1M399.95 92.7v1M400.5 92.7v1M401 92.7v1" stroke="#000" stroke-width="0.5"/><rect x="357.3" y="97" width="43.9" height="27" fill="none" stroke="#1a1a1a" stroke-width="0.9"/><text transform="translate(354.4,105)" font-size="5.8" fill="#333" text-anchor="end">80</text><text transform="translate(354.4,115)" font-size="5.8" fill="#333" text-anchor="end">40</text><text transform="translate(354.4,125)" font-size="5.8" fill="#333" text-anchor="end">0</text><path d="M357.3 123h-1.3M357.3 118h-1.3M357.3 113h-1.3M357.3 108h-1.3M357.3 103h-1.3" stroke="#000" stroke-width="0.5"/><path d="M357.6 124v1M360.87 124v1M362.78 124v1M364.13 124v1M365.18 124v1M366.04 124v1M366.77 124v1M367.4 124v1M367.95 124v1M368.45 124v1M371.72 124v1M373.63 124v1M374.98 124v1M376.03 124v1M376.89 124v1M377.62 124v1M378.25 124v1M378.8 124v1M379.3 124v1M382.57 124v1M384.48 124v1M385.83 124v1M386.88 124v1M387.74 124v1M388.47 124v1M389.1 124v1M389.65 124v1M390.15 124v1M393.42 124v1M395.33 124v1M396.68 124v1M397.73 124v1M398.59 124v1M399.32 124v1M399.95 124v1M400.5 124v1M401 124v1" stroke="#000" stroke-width="0.5"/><path d="M358.2,61L358.2,61 358.5,61 358.8,61 359.1,61 359.4,61 359.7,61 360,61 360.3,60.9 360.6,60.7 360.9,60.4 361.2,60 361.5,59.4 361.9,59.2 362.2,57.8 362.5,56.2 362.8,53.8 363.1,52.2 363.4,50.8 363.7,49.8 364,48.7 364.3,48.2 364.6,48.3 364.9,48.2 365.2,48.5 365.5,49.8 365.8,49.1 366.1,48 366.4,47.9 366.7,47.8 367,48.2 367.3,48.3 367.6,51 367.9,52.8 368.2,54 368.5,56.2 368.9,57.4 369.2,59 369.5,60.2 369.8,60 370.1,60.3 370.4,60.4 370.7,60.3 371,60.1 371.3,60.1 371.6,59.5 371.9,58.7 372.2,57.5 372.5,55.9 372.8,53.5 373.1,51.6 373.4,50.4 373.7,49.8 374,48.2 374.3,48.1 374.6,47.6 374.9,48.9 375.2,49 375.5,49.7 375.9,50.1 376.2,49.2 376.5,48.5 376.8,47.9 377.1,48.3 377.4,48.7 377.7,48.9 378,49.9 378.3,50 378.6,49.8 378.9,50.3 379.2,48.9 379.5,48 379.8,47.9 380.1,47.8 380.4,47.4 380.7,48.2 381,48.7 381.3,50 381.6,51.5 381.9,52.2 382.2,53.5 382.5,54.2 382.8,55.2 383.2,56.5 383.5,57 383.8,56.8 384.1,57.4 384.4,58.5 384.7,58.7 385,58.8 385.3,59.1 385.6,59.3 385.9,59.8 386.2,60.2 386.5,60.4 386.8,60.6 387.1,60.7 387.4,60.8 387.7,60.9 388,61 388.3,61 388.6,61 388.9,61 389.2,61 389.5,61 389.8,61 390.2,61 390.5,61 390.8,61 391.1,61 391.4,61 391.7,61 392,61 392.3,61 392.6,61 392.9,61 393.2,61 393.5,61 393.8,61 394.1,61 394.4,61 394.7,61 395,61 395.3,61 395.6,61 395.9,61 396.2,61 396.5,61 396.8,61 397.2,61 397.5,61 397.8,61 398.1,61 398.4,61 398.7,61 399,61 399.3,61 399.6,61 399.9,61 400.2,61 400.5,61L400.5,61Z" fill="#a9d4f2" stroke="#4f9ad6" stroke-width="0.6"/><path d="M358.2,91.7L358.2,91.7 358.5,91.7 358.8,91.7 359.1,91.7 359.4,91.7 359.7,91.7 360,91.7 360.3,91.6 360.6,91.3 360.9,91.1 361.2,89.9 361.5,89.7 361.9,88.3 362.2,86.5 362.5,83.5 362.8,81.2 363.1,78.6 363.4,76.8 363.7,74.5 364,72.8 364.3,70.8 364.6,70.8 364.9,71.7 365.2,73.1 365.5,75.3 365.8,76.4 366.1,77.8 366.4,81 366.7,82.4 367,83.4 367.3,83.4 367.6,84.5 367.9,85 368.2,85.8 368.5,86.5 368.9,86.9 369.2,87.4 369.5,87.3 369.8,88.2 370.1,87.8 370.4,87.4 370.7,86.7 371,87.4 371.3,87.2 371.6,86.5 371.9,85.5 372.2,85.5 372.5,84.4 372.8,85.2 373.1,83.6 373.4,83.3 373.7,83.9 374,82.9 374.3,82.2 374.6,82.3 374.9,81.6 375.2,80.9 375.5,81.7 375.9,82 376.2,82.3 376.5,81.9 376.8,82.4 377.1,82.7 377.4,83 377.7,83.1 378,84 378.3,84.5 378.6,85.1 378.9,83.9 379.2,84.4 379.5,84 379.8,84.7 380.1,85.1 380.4,84.7 380.7,85 381,85.6 381.3,85.5 381.6,84.6 381.9,85.4 382.2,85.6 382.5,86.3 382.8,86.9 383.2,86.7 383.5,87.5 383.8,88.1 384.1,88.2 384.4,88.8 384.7,88.7 385,88.5 385.3,89.5 385.6,88.9 385.9,90 386.2,89.9 386.5,90.5 386.8,90.4 387.1,90.4 387.4,90.7 387.7,90.9 388,91.1 388.3,91.2 388.6,91.1 388.9,91.2 389.2,91.3 389.5,91.3 389.8,91.4 390.2,91.5 390.5,91.6 390.8,91.6 391.1,91.7 391.4,91.7 391.7,91.7 392,91.7 392.3,91.7 392.6,91.7 392.9,91.7 393.2,91.7 393.5,91.7 393.8,91.7 394.1,91.7 394.4,91.7 394.7,91.7 395,91.7 395.3,91.7 395.6,91.7 395.9,91.7 396.2,91.7 396.5,91.7 396.8,91.7 397.2,91.7 397.5,91.7 397.8,91.7 398.1,91.7 398.4,91.7 398.7,91.7 399,91.7 399.3,91.7 399.6,91.7 399.9,91.7 400.2,91.7 400.5,91.7L400.5,91.7Z" fill="#a9d4f2" stroke="#4f9ad6" stroke-width="0.6"/><path d="M358.2,123L358.2,123 358.5,123 358.8,123 359.1,123 359.4,123 359.7,123 360,123 360.3,123 360.6,122.8 360.9,122.6 361.2,122.3 361.5,122.1 361.9,121.6 362.2,121 362.5,120 362.8,118.6 363.1,117 363.4,116.1 363.7,114.3 364,113.2 364.3,111.4 364.6,109.1 364.9,107.7 365.2,106.5 365.5,105.2 365.8,104.3 366.1,103.4 366.4,104 366.7,104 367,104 367.3,105.4 367.6,106.4 367.9,107.7 368.2,110.1 368.5,112.5 368.9,114.3 369.2,117.5 369.5,117.7 369.8,119.6 370.1,120.5 370.4,120.1 370.7,120.2 371,120.7 371.3,121 371.6,120.6 371.9,120.7 372.2,120.1 372.5,120.4 372.8,120.7 373.1,120.3 373.4,120.9 373.7,121.2 374,120.7 374.3,120.7 374.6,121 374.9,121.3 375.2,120.9 375.5,122 375.9,120.8 376.2,121 376.5,121.8 376.8,121.2 377.1,121.6 377.4,121 377.7,122.1 378,121.7 378.3,121.1 378.6,121 378.9,122.3 379.2,121.7 379.5,121.4 379.8,121.8 380.1,121 380.4,122.1 380.7,121.6 381,122.2 381.3,121.3 381.6,121.9 381.9,122 382.2,122.6 382.5,121.4 382.8,121.8 383.2,121.8 383.5,121.7 383.8,122.1 384.1,122.3 384.4,122.4 384.7,122.5 385,122.6 385.3,122.7 385.6,122.8 385.9,122.9 386.2,123 386.5,123 386.8,123 387.1,123 387.4,123 387.7,123 388,123 388.3,123 388.6,123 388.9,123 389.2,123 389.5,123 389.8,123 390.2,123 390.5,123 390.8,123 391.1,123 391.4,123 391.7,123 392,123 392.3,123 392.6,123 392.9,123 393.2,123 393.5,123 393.8,123 394.1,123 394.4,123 394.7,123 395,123 395.3,123 395.6,123 395.9,123 396.2,123 396.5,123 396.8,123 397.2,123 397.5,123 397.8,123 398.1,123 398.4,123 398.7,123 399,123 399.3,123 399.6,123 399.9,123 400.2,123 400.5,123L400.5,123Z" fill="#a9d4f2" stroke="#4f9ad6" stroke-width="0.6"/><rect x="370.7" y="34.4" width="30.5" height="89.6" fill="none" stroke="#e0358f" stroke-width="1.3"/><text transform="translate(385.6,30.6)" font-size="5.9" fill="#e0358f" text-anchor="middle">VECAD<tspan dy="-2.2" font-size="4.0">+</tspan></text><text transform="translate(385,41.2)" font-size="5.4" fill="#e0358f" text-anchor="middle">68.1</text><text transform="translate(385,72.9)" font-size="5.4" fill="#e0358f" text-anchor="middle">49.1</text><text transform="translate(385,103.6)" font-size="5.4" fill="#e0358f" text-anchor="middle">29.8</text><text x="358" y="133.5" font-size="5.6" fill="#333" text-anchor="middle">10<tspan dy="-2.52" font-size="3.36">0</tspan></text><text x="368.8" y="133.5" font-size="5.6" fill="#333" text-anchor="middle">10<tspan dy="-2.52" font-size="3.36">1</tspan></text><text x="379.4" y="133.5" font-size="5.6" fill="#333" text-anchor="middle">10<tspan dy="-2.52" font-size="3.36">2</tspan></text><text x="390.4" y="133.5" font-size="5.6" fill="#333" text-anchor="middle">10<tspan dy="-2.52" font-size="3.36">3</tspan></text><text x="401" y="133.5" font-size="5.6" fill="#333" text-anchor="middle">10<tspan dy="-2.52" font-size="3.36">4</tspan></text><text transform="translate(357,145) scale(0.656,1)" font-size="7.4" fill="#111" font-weight="bold">VECAD</text><line x1="374.3" y1="142.4" x2="397.9" y2="142.4" stroke="#1a1a1a" stroke-width="0.8"/><polygon points="400.6,142.4 397.4,140.8 397.4,144" fill="#1a1a1a"/><line x1="402" y1="78.8" x2="409.9" y2="78.8" stroke="#e0358f" stroke-width="1"/><polygon points="413,78.8 409.4,76.6 409.4,81" fill="#e0358f"/><line x1="440.3" y1="51.8" x2="440.3" y2="121.8" stroke="#1a1a1a" stroke-width="0.8"/><line x1="439.9" y1="121.4" x2="473.6" y2="121.4" stroke="#1a1a1a" stroke-width="0.8"/><path d="M440.3 121.4h-1.6M440.3 111.6h-1.6M440.3 101.8h-1.6M440.3 92h-1.6M440.3 82.2h-1.6M440.3 72.4h-1.6M440.3 62.6h-1.6M440.3 52.8h-1.6" stroke="#000" stroke-width="0.6"/><text transform="translate(436,123.6)" font-size="6" fill="#333" text-anchor="end">0</text><text transform="translate(436,113.8)" font-size="6" fill="#333" text-anchor="end">10</text><text transform="translate(436,104)" font-size="6" fill="#333" text-anchor="end">20</text><text transform="translate(436,94.2)" font-size="6" fill="#333" text-anchor="end">30</text><text transform="translate(436,84.4)" font-size="6" fill="#333" text-anchor="end">40</text><text transform="translate(436,74.6)" font-size="6" fill="#333" text-anchor="end">50</text><text transform="translate(436,64.8)" font-size="6" fill="#333" text-anchor="end">60</text><text transform="translate(436,55)" font-size="6" fill="#333" text-anchor="end">70</text><path d="M446.7 121.4v1.5M458.1 121.4v1.5M469.2 121.4v1.5" stroke="#000" stroke-width="0.6"/><rect x="444.8" y="65.54" width="3.8" height="55.86" fill="#d4177c"/><line x1="446.7" y1="59.66" x2="446.7" y2="70.44" stroke="#333" stroke-width="0.7"/><line x1="445.5" y1="59.66" x2="447.9" y2="59.66" stroke="#333" stroke-width="0.7"/><line x1="445.5" y1="70.44" x2="447.9" y2="70.44" stroke="#333" stroke-width="0.7"/><text transform="translate(446.7,132.3)" font-size="6" fill="#333" text-anchor="middle">D4</text><rect x="456.2" y="84.16" width="3.8" height="37.24" fill="#d4177c"/><line x1="458.1" y1="79.26" x2="458.1" y2="89.06" stroke="#333" stroke-width="0.7"/><line x1="456.9" y1="79.26" x2="459.3" y2="79.26" stroke="#333" stroke-width="0.7"/><line x1="456.9" y1="89.06" x2="459.3" y2="89.06" stroke="#333" stroke-width="0.7"/><text transform="translate(458.1,132.3)" font-size="6" fill="#333" text-anchor="middle">D5</text><rect x="467.3" y="91.02" width="3.8" height="30.38" fill="#d4177c"/><line x1="469.2" y1="84.16" x2="469.2" y2="96.9" stroke="#333" stroke-width="0.7"/><line x1="468" y1="84.16" x2="470.4" y2="84.16" stroke="#333" stroke-width="0.7"/><line x1="468" y1="96.9" x2="470.4" y2="96.9" stroke="#333" stroke-width="0.7"/><text transform="translate(469.2,132.3)" font-size="6" fill="#333" text-anchor="middle">D6</text><line x1="447.2" y1="50.3" x2="458.8" y2="50.3" stroke="#1a1a1a" stroke-width="0.8"/><line x1="447.2" y1="54.4" x2="469.4" y2="54.4" stroke="#1a1a1a" stroke-width="0.8"/><text transform="translate(453.1,49.6)" font-size="7" text-anchor="middle">*</text><text transform="translate(470.8,39.8)" font-size="5.6" fill="#333" text-anchor="middle">(n = 3)</text><text transform="translate(425.4,113) rotate(-90) scale(0.745,1)" font-size="7.4" fill="#111" font-weight="bold">VECAD+ % of CD45+</text><text transform="translate(6.9,171)" font-size="10.6" font-weight="bold">C</text><text x="205.4" y="164.6" font-size="7.7" fill="#222">Suspension: LSK <tspan fill="#888">(VECAD–</tspan><tspan fill="#e02020">/VECAD+)</tspan></text><line x1="44.2" y1="169.5" x2="502.5" y2="169.5" stroke="#111" stroke-width="1"/><text transform="translate(92.8,180)" font-size="5.8" fill="#333" text-anchor="middle">Day 5</text><text x="39.2" y="197.2" font-size="6" fill="#333" text-anchor="end">10<tspan dy="-2.7" font-size="3.6">5</tspan></text><text x="39.2" y="220.3" font-size="6" fill="#333" text-anchor="end">10<tspan dy="-2.7" font-size="3.6">4</tspan></text><text x="39.2" y="246.3" font-size="6" fill="#333" text-anchor="end">10<tspan dy="-2.7" font-size="3.6">3</tspan></text><text transform="translate(37.4,259.8)" font-size="6" fill="#333" text-anchor="end">0</text><text x="39.2" y="277.2" font-size="6" fill="#333" text-anchor="end">−10<tspan dy="-2.7" font-size="3.6">3</tspan></text><text x="50.3" y="290.2" font-size="6" fill="#333" text-anchor="middle">−10<tspan dy="-2.7" font-size="3.6">3</tspan></text><text x="80.8" y="290.2" font-size="6" fill="#333" text-anchor="middle">10<tspan dy="-2.7" font-size="3.6">3</tspan></text><text x="107.7" y="290.2" font-size="6" fill="#333" text-anchor="middle">10<tspan dy="-2.7" font-size="3.6">4</tspan></text><text x="132" y="290.2" font-size="6" fill="#333" text-anchor="middle">10<tspan dy="-2.7" font-size="3.6">5</tspan></text><text transform="translate(67.3,290.2)" font-size="6" fill="#333" text-anchor="middle">0</text><path d="M44.8 194.6h-1.8M44.8 217.7h-1.8M44.8 243.7h-1.8M44.8 257.5h-1.8M44.8 274.8h-1.8" stroke="#000" stroke-width="0.7"/><path d="M51 279.2v1.8M67.3 279.2v1.8M80.8 279.2v1.8M107.7 279.2v1.8M132 279.2v1.8" stroke="#000" stroke-width="0.7"/><path d="M44.8 259.42h-1M44.8 261.34h-1M44.8 263.27h-1M44.8 265.19h-1M44.8 267.11h-1M44.8 269.03h-1M44.8 270.96h-1M44.8 272.88h-1M44.8 274.8h-1M44.8 257.5h-1M44.8 255.97h-1M44.8 254.43h-1M44.8 252.9h-1M44.8 251.37h-1M44.8 249.83h-1M44.8 248.3h-1M44.8 246.77h-1M44.8 245.23h-1M44.8 243.7h-1M44.8 235.87h-1M44.8 231.29h-1M44.8 228.05h-1M44.8 225.53h-1M44.8 223.47h-1M44.8 221.73h-1M44.8 220.22h-1M44.8 218.89h-1M44.8 210.75h-1M44.8 206.68h-1M44.8 203.79h-1M44.8 201.55h-1M44.8 199.72h-1M44.8 198.18h-1M44.8 196.84h-1M44.8 195.66h-1" stroke="#000" stroke-width="0.45"/><path d="M65.49 279.2v1M63.68 279.2v1M61.87 279.2v1M60.06 279.2v1M58.24 279.2v1M56.43 279.2v1M54.62 279.2v1M52.81 279.2v1M51 279.2v1M67.3 279.2v1M68.8 279.2v1M70.3 279.2v1M71.8 279.2v1M73.3 279.2v1M74.8 279.2v1M76.3 279.2v1M77.8 279.2v1M79.3 279.2v1M80.8 279.2v1M88.9 279.2v1M93.63 279.2v1M97 279.2v1M99.6 279.2v1M101.73 279.2v1M103.53 279.2v1M105.09 279.2v1M106.47 279.2v1M115.02 279.2v1M119.29 279.2v1M122.33 279.2v1M124.68 279.2v1M126.61 279.2v1M128.24 279.2v1M129.65 279.2v1M130.89 279.2v1" stroke="#000" stroke-width="0.45"/><text transform="translate(215.4,180)" font-size="5.8" fill="#333" text-anchor="middle">Day 6</text><text x="161.8" y="197.2" font-size="6" fill="#333" text-anchor="end">10<tspan dy="-2.7" font-size="3.6">5</tspan></text><text x="161.8" y="220.3" font-size="6" fill="#333" text-anchor="end">10<tspan dy="-2.7" font-size="3.6">4</tspan></text><text x="161.8" y="246.3" font-size="6" fill="#333" text-anchor="end">10<tspan dy="-2.7" font-size="3.6">3</tspan></text><text transform="translate(160,259.8)" font-size="6" fill="#333" text-anchor="end">0</text><text x="161.8" y="277.2" font-size="6" fill="#333" text-anchor="end">−10<tspan dy="-2.7" font-size="3.6">3</tspan></text><text x="172.9" y="290.2" font-size="6" fill="#333" text-anchor="middle">−10<tspan dy="-2.7" font-size="3.6">3</tspan></text><text x="203.4" y="290.2" font-size="6" fill="#333" text-anchor="middle">10<tspan dy="-2.7" font-size="3.6">3</tspan></text><text x="230.3" y="290.2" font-size="6" fill="#333" text-anchor="middle">10<tspan dy="-2.7" font-size="3.6">4</tspan></text><text x="254.6" y="290.2" font-size="6" fill="#333" text-anchor="middle">10<tspan dy="-2.7" font-size="3.6">5</tspan></text><text transform="translate(189.9,290.2)" font-size="6" fill="#333" text-anchor="middle">0</text><path d="M167.4 194.6h-1.8M167.4 217.7h-1.8M167.4 243.7h-1.8M167.4 257.5h-1.8M167.4 274.8h-1.8" stroke="#000" stroke-width="0.7"/><path d="M173.6 279.2v1.8M189.9 279.2v1.8M203.4 279.2v1.8M230.3 279.2v1.8M254.6 279.2v1.8" stroke="#000" stroke-width="0.7"/><path d="M167.4 259.42h-1M167.4 261.34h-1M167.4 263.27h-1M167.4 265.19h-1M167.4 267.11h-1M167.4 269.03h-1M167.4 270.96h-1M167.4 272.88h-1M167.4 274.8h-1M167.4 257.5h-1M167.4 255.97h-1M167.4 254.43h-1M167.4 252.9h-1M167.4 251.37h-1M167.4 249.83h-1M167.4 248.3h-1M167.4 246.77h-1M167.4 245.23h-1M167.4 243.7h-1M167.4 235.87h-1M167.4 231.29h-1M167.4 228.05h-1M167.4 225.53h-1M167.4 223.47h-1M167.4 221.73h-1M167.4 220.22h-1M167.4 218.89h-1M167.4 210.75h-1M167.4 206.68h-1M167.4 203.79h-1M167.4 201.55h-1M167.4 199.72h-1M167.4 198.18h-1M167.4 196.84h-1M167.4 195.66h-1" stroke="#000" stroke-width="0.45"/><path d="M188.09 279.2v1M186.28 279.2v1M184.47 279.2v1M182.66 279.2v1M180.84 279.2v1M179.03 279.2v1M177.22 279.2v1M175.41 279.2v1M173.6 279.2v1M189.9 279.2v1M191.4 279.2v1M192.9 279.2v1M194.4 279.2v1M195.9 279.2v1M197.4 279.2v1M198.9 279.2v1M200.4 279.2v1M201.9 279.2v1M203.4 279.2v1M211.5 279.2v1M216.23 279.2v1M219.6 279.2v1M222.2 279.2v1M224.33 279.2v1M226.13 279.2v1M227.69 279.2v1M229.07 279.2v1M237.62 279.2v1M241.89 279.2v1M244.93 279.2v1M247.28 279.2v1M249.21 279.2v1M250.84 279.2v1M252.25 279.2v1M253.49 279.2v1" stroke="#000" stroke-width="0.45"/><text transform="translate(335.6,180)" font-size="5.8" fill="#333" text-anchor="middle">Day 7</text><text x="282" y="197.2" font-size="6" fill="#333" text-anchor="end">10<tspan dy="-2.7" font-size="3.6">5</tspan></text><text x="282" y="220.3" font-size="6" fill="#333" text-anchor="end">10<tspan dy="-2.7" font-size="3.6">4</tspan></text><text x="282" y="246.3" font-size="6" fill="#333" text-anchor="end">10<tspan dy="-2.7" font-size="3.6">3</tspan></text><text transform="translate(280.2,259.8)" font-size="6" fill="#333" text-anchor="end">0</text><text x="282" y="277.2" font-size="6" fill="#333" text-anchor="end">−10<tspan dy="-2.7" font-size="3.6">3</tspan></text><text x="293.1" y="290.2" font-size="6" fill="#333" text-anchor="middle">−10<tspan dy="-2.7" font-size="3.6">3</tspan></text><text x="323.6" y="290.2" font-size="6" fill="#333" text-anchor="middle">10<tspan dy="-2.7" font-size="3.6">3</tspan></text><text x="350.5" y="290.2" font-size="6" fill="#333" text-anchor="middle">10<tspan dy="-2.7" font-size="3.6">4</tspan></text><text x="374.8" y="290.2" font-size="6" fill="#333" text-anchor="middle">10<tspan dy="-2.7" font-size="3.6">5</tspan></text><text transform="translate(310.1,290.2)" font-size="6" fill="#333" text-anchor="middle">0</text><path d="M287.6 194.6h-1.8M287.6 217.7h-1.8M287.6 243.7h-1.8M287.6 257.5h-1.8M287.6 274.8h-1.8" stroke="#000" stroke-width="0.7"/><path d="M293.8 279.2v1.8M310.1 279.2v1.8M323.6 279.2v1.8M350.5 279.2v1.8M374.8 279.2v1.8" stroke="#000" stroke-width="0.7"/><path d="M287.6 259.42h-1M287.6 261.34h-1M287.6 263.27h-1M287.6 265.19h-1M287.6 267.11h-1M287.6 269.03h-1M287.6 270.96h-1M287.6 272.88h-1M287.6 274.8h-1M287.6 257.5h-1M287.6 255.97h-1M287.6 254.43h-1M287.6 252.9h-1M287.6 251.37h-1M287.6 249.83h-1M287.6 248.3h-1M287.6 246.77h-1M287.6 245.23h-1M287.6 243.7h-1M287.6 235.87h-1M287.6 231.29h-1M287.6 228.05h-1M287.6 225.53h-1M287.6 223.47h-1M287.6 221.73h-1M287.6 220.22h-1M287.6 218.89h-1M287.6 210.75h-1M287.6 206.68h-1M287.6 203.79h-1M287.6 201.55h-1M287.6 199.72h-1M287.6 198.18h-1M287.6 196.84h-1M287.6 195.66h-1" stroke="#000" stroke-width="0.45"/><path d="M308.29 279.2v1M306.48 279.2v1M304.67 279.2v1M302.86 279.2v1M301.04 279.2v1M299.23 279.2v1M297.42 279.2v1M295.61 279.2v1M293.8 279.2v1M310.1 279.2v1M311.6 279.2v1M313.1 279.2v1M314.6 279.2v1M316.1 279.2v1M317.6 279.2v1M319.1 279.2v1M320.6 279.2v1M322.1 279.2v1M323.6 279.2v1M331.7 279.2v1M336.43 279.2v1M339.8 279.2v1M342.4 279.2v1M344.53 279.2v1M346.33 279.2v1M347.89 279.2v1M349.27 279.2v1M357.82 279.2v1M362.09 279.2v1M365.13 279.2v1M367.48 279.2v1M369.41 279.2v1M371.04 279.2v1M372.45 279.2v1M373.69 279.2v1" stroke="#000" stroke-width="0.45"/><text transform="translate(454.2,180)" font-size="5.8" fill="#333" text-anchor="middle">Day 9</text><text x="400.6" y="197.2" font-size="6" fill="#333" text-anchor="end">10<tspan dy="-2.7" font-size="3.6">5</tspan></text><text x="400.6" y="220.3" font-size="6" fill="#333" text-anchor="end">10<tspan dy="-2.7" font-size="3.6">4</tspan></text><text x="400.6" y="246.3" font-size="6" fill="#333" text-anchor="end">10<tspan dy="-2.7" font-size="3.6">3</tspan></text><text transform="translate(398.8,259.8)" font-size="6" fill="#333" text-anchor="end">0</text><text x="400.6" y="277.2" font-size="6" fill="#333" text-anchor="end">−10<tspan dy="-2.7" font-size="3.6">3</tspan></text><text x="411.7" y="290.2" font-size="6" fill="#333" text-anchor="middle">−10<tspan dy="-2.7" font-size="3.6">3</tspan></text><text x="442.2" y="290.2" font-size="6" fill="#333" text-anchor="middle">10<tspan dy="-2.7" font-size="3.6">3</tspan></text><text x="469.1" y="290.2" font-size="6" fill="#333" text-anchor="middle">10<tspan dy="-2.7" font-size="3.6">4</tspan></text><text x="493.4" y="290.2" font-size="6" fill="#333" text-anchor="middle">10<tspan dy="-2.7" font-size="3.6">5</tspan></text><text transform="translate(428.7,290.2)" font-size="6" fill="#333" text-anchor="middle">0</text><path d="M406.2 194.6h-1.8M406.2 217.7h-1.8M406.2 243.7h-1.8M406.2 257.5h-1.8M406.2 274.8h-1.8" stroke="#000" stroke-width="0.7"/><path d="M412.4 279.2v1.8M428.7 279.2v1.8M442.2 279.2v1.8M469.1 279.2v1.8M493.4 279.2v1.8" stroke="#000" stroke-width="0.7"/><path d="M406.2 259.42h-1M406.2 261.34h-1M406.2 263.27h-1M406.2 265.19h-1M406.2 267.11h-1M406.2 269.03h-1M406.2 270.96h-1M406.2 272.88h-1M406.2 274.8h-1M406.2 257.5h-1M406.2 255.97h-1M406.2 254.43h-1M406.2 252.9h-1M406.2 251.37h-1M406.2 249.83h-1M406.2 248.3h-1M406.2 246.77h-1M406.2 245.23h-1M406.2 243.7h-1M406.2 235.87h-1M406.2 231.29h-1M406.2 228.05h-1M406.2 225.53h-1M406.2 223.47h-1M406.2 221.73h-1M406.2 220.22h-1M406.2 218.89h-1M406.2 210.75h-1M406.2 206.68h-1M406.2 203.79h-1M406.2 201.55h-1M406.2 199.72h-1M406.2 198.18h-1M406.2 196.84h-1M406.2 195.66h-1" stroke="#000" stroke-width="0.45"/><path d="M426.89 279.2v1M425.08 279.2v1M423.27 279.2v1M421.46 279.2v1M419.64 279.2v1M417.83 279.2v1M416.02 279.2v1M414.21 279.2v1M412.4 279.2v1M428.7 279.2v1M430.2 279.2v1M431.7 279.2v1M433.2 279.2v1M434.7 279.2v1M436.2 279.2v1M437.7 279.2v1M439.2 279.2v1M440.7 279.2v1M442.2 279.2v1M450.3 279.2v1M455.03 279.2v1M458.4 279.2v1M461 279.2v1M463.13 279.2v1M464.93 279.2v1M466.49 279.2v1M467.87 279.2v1M476.42 279.2v1M480.69 279.2v1M483.73 279.2v1M486.08 279.2v1M488.01 279.2v1M489.64 279.2v1M491.05 279.2v1M492.29 279.2v1" stroke="#000" stroke-width="0.45"/><clipPath id="cq0"><rect x="44.8" y="184.6" width="95.0" height="24.799999999999983"/></clipPath><ellipse cx="70.3" cy="204.5" rx="5.1" ry="4.95" fill="#e31a1a" clip-path="url(#cq0)"/><g filter="url(#bl)"><path transform="scale(.5)" d="M183 372h0m37 0h0m-16 4h0m-8 4h0m-46 4h0m4 6h0m-20 1h0m5 0h0m-10 1h0m4 1h0m90 0h0m-85 1h0m92 0h0m-106 1h0m8 1h0m7 0h0m1 0h0m3 0h0m5 0h0m9 0h0m16 0h0m-34 1h0m4 1h0m11 0h0m104 0h0m-129 1h0m11 0h0m3 0h0m2 0h0m4 0h0m1 0h0m-15 1h0m3 0h0m5 0h0m1 0h0m6 0h0m1 0h0m-18 1h0m1 0h0m3 0h0m2 0h0m1 0h0m1 0h0m1 0h0m1 0h0m9 0h0m1 0h0m-20 1h0m1 0h0m5 0h0m2 0h0m2 0h0m5 0h0m1 0h0m-15 1h0m1 0h0m2 0h0m1 0h0m4 0h0m11 0h0m-25 1h0m5 0h0m2 0h0m6 0h0m1 0h0m3 0h0m96 0h0m-113 1h0m1 0h0m1 0h0m6 0h0m2 0h0m2 0h0m3 0h0m8 0h0m24 0h0m78 0h0m-122 1h0m3 0h0m2 0h0m1 0h0m2 0h0m1 0h0m2 0h0m1 0h0m1 0h0m2 0h0m1 0h0m2 0h0m1 0h0m1 0h0m65 0h0m-91 1h0m3 0h0m2 0h0m1 0h0m2 0h0m2 0h0m1 0h0m1 0h0m3 0h0m3 0h0m1 0h0m2 0h0m2 0h0m6 0h0m5 0h0m-25 1h0m6 0h0m3 0h0m1 0h0m2 0h0m1 0h0m3 0h0m60 0h0m-79 1h0m3 0h0m1 0h0m2 0h0m2 0h0m4 0h0m9 0h0m8 0h0m-23 1h0m1 0h0m2 0h0m2 0h0m2 0h0m3 0h0m1 0h0m1 0h0m-21 1h0m5 0h0m3 0h0m1 0h0m1 0h0m2 0h0m3 0h0m2 0h0m10 0h0m10 0h0m-33 1h0m7 0h0m3 0h0m3 0h0m5 0h0m-23 1h0m8 0h0m1 0h0m7 0h0m3 0h0m1 0h0m-14 1h0m9 0h0m1 0h0m60 0h0m4 0h0m-79 1h0m5 0h0m4 0h0m2 0h0m1 0h0m9 0h0m61 0h0m-68 1h0m6 0h0m2 0h0m2 0h0m92 0h0m-105 1h0m1 0h0m4 0h0m100 0h0m-108 1h0m7 0h0m5 0h0m103 0h0m-109 1h0m3 0h0m101 0h0m-103 1h0m4 0h0m5 0h0m56 0h0m-71 1h0m7 0h0m1 0h0m5 0h0m19 0h0m-50 1h0m29 0h0m2 0h0m21 0h0m-39 1h0m12 0h0m-8 1h0m2 0h0m2 0h0m1 0h0m2 0h0m1 0h0m1 0h0m-4 1h0m2 0h0m1 0h0m1 0h0m1 0h0m4 0h0m1 0h0m116 0h0m-137 1h0m2 0h0m11 0h0m1 0h0m4 0h0m6 0h0m-14 1h0m1 0h0m3 0h0m1 0h0m1 0h0m-16 1h0m8 0h0m3 0h0m3 0h0m2 0h0m3 0h0m1 0h0m-25 1h0m9 0h0m9 0h0m1 0h0m1 0h0m6 0h0m-33 1h0m10 0h0m8 0h0m1 0h0m4 0h0m2 0h0m-23 1h0m18 0h0m2 0h0m1 0h0m1 0h0m1 0h0m4 0h0m-17 1h0m9 0h0m5 0h0m1 0h0m-21 1h0m11 0h0m4 0h0m9 0h0m3 0h0m-12 1h0m1 0h0m1 0h0m3 0h0m1 0h0m1 0h0m7 0h0m67 0h0m-91 1h0m4 0h0m7 0h0m1 0h0m-8 1h0m3 0h0m2 0h0m2 0h0m6 0h0m-19 1h0m12 0h0m4 0h0m2 0h0m-21 1h0m13 0h0m1 0h0m1 0h0m2 0h0m2 0h0m4 0h0m3 0h0m-27 1h0m19 0h0m2 0h0m3 0h0m4 0h0m-16 1h0m2 0h0m4 0h0m3 0h0m2 0h0m1 0h0m2 0h0m4 0h0m-27 1h0m13 0h0m2 0h0m1 0h0m5 0h0m-7 1h0m1 0h0m2 0h0m-18 1h0m6 0h0m6 0h0m2 0h0m2 0h0m7 0h0m2 0h0m-26 1h0m2 0h0m4 0h0m3 0h0m8 0h0m3 0h0m2 0h0m8 0h0m-28 1h0m2 0h0m6 0h0m5 0h0m2 0h0m5 0h0m27 0h0m-42 1h0m8 0h0m1 0h0m5 0h0m2 0h0m-19 1h0m4 0h0m7 0h0m3 0h0m1 0h0m3 0h0m-20 1h0m3 0h0m3 0h0m3 0h0m6 0h0m2 0h0m1 0h0m2 0h0m4 0h0m51 0h0m-72 1h0m2 0h0m3 0h0m3 0h0m2 0h0m1 0h0m1 0h0m3 0h0m2 0h0m50 0h0m-58 1h0m4 0h0m3 0h0m-19 1h0m7 0h0m3 0h0m3 0h0m1 0h0m1 0h0m2 0h0m6 0h0m-18 1h0m9 0h0m1 0h0m2 0h0m-17 1h0m2 0h0m9 0h0m1 0h0m1 0h0m3 0h0m-4 1h0m3 0h0m3 0h0m-13 1h0m6 0h0m3 0h0m1 0h0m3 0h0m1 0h0m114 0h0m-134 1h0m4 0h0m8 0h0m4 0h0m2 0h0m47 0h0m-63 1h0m7 0h0m6 0h0m4 0h0m1 0h0m-23 1h0m2 0h0m7 0h0m15 0h0m54 0h0m-82 1h0m3 0h0m4 0h0m2 0h0m3 0h0m6 0h0m1 0h0m1 0h0m2 0h0m1 0h0m2 0h0m6 0h0m-26 1h0m1 0h0m5 0h0m2 0h0m2 0h0m3 0h0m3 0h0m-5 1h0m1 0h0m2 0h0m2 0h0m3 0h0m-19 1h0m2 0h0m3 0h0m3 0h0m1 0h0m2 0h0m4 0h0m6 0h0m-18 1h0m8 0h0m4 0h0m4 0h0m4 0h0m1 0h0m-22 1h0m5 0h0m6 0h0m1 0h0m8 0h0m-19 1h0m2 0h0m1 0h0m3 0h0m3 0h0m3 0h0m2 0h0m2 0h0m2 0h0m2 0h0m-20 1h0m1 0h0m3 0h0m5 0h0m5 0h0m4 0h0m-15 1h0m5 0h0m5 0h0m-12 1h0m2 0h0m7 0h0m4 0h0m5 0h0m-10 1h0m1 0h0m3 0h0m2 0h0m1 0h0m4 0h0m-18 1h0m3 0h0m1 0h0m1 0h0m2 0h0m7 0h0m-14 1h0m3 0h0m7 0h0m1 0h0m1 0h0m3 0h0m-14 1h0m6 0h0m1 0h0m3 0h0m4 0h0m-15 1h0m4 0h0m5 0h0m2 0h0m1 0h0m2 0h0m4 0h0m-10 1h0m3 0h0m6 0h0m-13 1h0m7 0h0m3 0h0m-13 1h0m2 0h0m3 0h0m2 0h0m2 0h0m1 0h0m1 0h0m2 0h0m1 0h0m-18 1h0m1 0h0m7 0h0m1 0h0m2 0h0m2 0h0m1 0h0m2 0h0m1 0h0m-9 1h0m2 0h0m2 0h0m2 0h0m1 0h0m-12 1h0m4 0h0m4 0h0m1 0h0m1 0h0m1 0h0m1 0h0m-15 1h0m10 0h0m2 0h0m1 0h0m2 0h0m1 0h0m2 0h0m-12 1h0m1 0h0m3 0h0m1 0h0m1 0h0m1 0h0m-7 1h0m1 0h0m6 0h0m4 0h0m2 0h0m2 0h0m-16 1h0m1 0h0m5 0h0m5 0h0m3 0h0m-17 1h0m6 0h0m4 0h0m3 0h0m-14 1h0m3 0h0m3 0h0m3 0h0m1 0h0m1 0h0m-10 1h0m1 0h0m1 0h0m1 0h0m4 0h0m3 0h0m4 0h0m-14 1h0m3 0h0m1 0h0m-3 1h0m3 0h0m3 0h0m-8 1h0m2 0h0m6 0h0m2 0h0m1 0h0m2 0h0m1 0h0m-7 1h0m1 0h0m1 0h0m1 0h0m1 0h0m2 0h0m2 0h0m1 0h0m-13 1h0m5 0h0m1 0h0m1 0h0m2 0h0m-9 1h0m2 0h0m-2 1h0m2 0h0m1 0h0m3 0h0m1 0h0m-6 1h0m2 0h0m3 0h0m2 0h0m2 0h0m3 0h0m-15 1h0m3 0h0m8 0h0m-20 1h0m11 0h0m5 0h0m1 0h0m1 0h0m-14 1h0m4 0h0m13 0h0m3 0h0m-10 1h0m-2 1h0m1 0h0m0 1h0m2 0h0m1 0h0m5 0h0m-11 1h0m7 0h0m-8 1h0m4 0h0m1 1h0m2 0h0m3 0h0m1 0h0m-11 1h0m2 0h0m3 0h0m-6 3h0m2 0h0m0 2h0" stroke="#e01818" stroke-width="2.6" stroke-linecap="square"/><path d="M63.8,208.2 L72.2,208.2 L71.3,224.2 L68,245 L66.4,251.5 L64.6,249.5 L64.3,234.48 L63.8,221.34Z" fill="#808080"/><path transform="scale(.5)" d="M136 416h0m-7 1h0m4 1h0m-4 1h0m9 0h0m-6 1h0m7 0h0m3 0h0m-9 1h0m1 1h0m5 0h0m-2 1h0m1 1h0m-5 1h0m5 0h0m0 1h0m-7 1h0m3 0h0m-5 1h0m3 0h0m1 0h0m7 1h0m-2 1h0m1 0h0m1 0h0m1 0h0m1 0h0m-9 1h0m-2 1h0m3 0h0m1 0h0m-3 1h0m2 0h0m5 0h0m-10 1h0m5 0h0m-4 1h0m9 0h0m-6 1h0m8 0h0m-5 1h0m-3 1h0m1 0h0m2 1h0m4 0h0m-8 2h0m7 0h0m2 0h0m-9 1h0m6 0h0m-2 1h0m1 0h0m1 0h0m3 0h0m-3 2h0m-9 2h0m0 1h0m9 0h0m-6 1h0m3 0h0m4 0h0m-10 1h0m7 2h0m3 0h0m-1 1h0m1 0h0m-10 1h0m6 0h0m4 0h0m-9 1h0m1 1h0m3 1h0m-5 2h0m2 0h0m3 1h0m3 0h0m-5 1h0m2 0h0m-4 1h0m3 0h0m1 0h0m4 0h0m-4 1h0m-4 1h0m5 1h0m-5 1h0m6 0h0m-2 1h0m-5 1h0m1 1h0m3 0h0m4 0h0m-3 1h0m2 0h0m-7 1h0m1 4h0m4 0h0m-3 1h0m5 0h0m-2 2h0m-2 1h0m3 0h0m-1 1h0m-2 1h0m1 0h0m-2 1h0m2 0h0m2 0h0m-4 1h0m1 1h0m3 0h0m-4 1h0m3 0h0m-3 1h0m1 0h0m3 0h0m-4 1h0m-1 2h0m0 1h0m1 0h0m2 0h0m-3 1h0m1 0h0m1 0h0m2 0h0m0 1h0m-1 1h0m-1 1h0m1 1h0m-3 1h0m3 0h0m-3 1h0m3 0h0m-2 1h0m1 1h0m1 0h0m-3 1h0m3 0h0m-3 1h0m1 0h0m0 1h0m-1 1h0m0 1h0m2 0h0" stroke="#7f7f7f" stroke-width="2.6" stroke-linecap="square"/><path transform="scale(.5)" d="M127 434h0m15 0h0m0 2h0m-15 3h0m14 3h0m0 4h0m-13 1h0m12 0h0m-12 1h0m0 5h0m11 0h0m0 2h0m-11 2h0m10 4h0m-10 2h0m0 2h0m10 1h0m-1 1h0m-8 2h0m8 1h0m-8 1h0m7 2h0m-7 5h0m6 2h0m0 1h0m0 1h0m0 2h0m0 1h0m-1 4h0m-5 1h0m4 7h0m-3 3h0m2 0h0" stroke="#e01818" stroke-width="2.6" stroke-linecap="square"/></g><clipPath id="cq1"><rect x="167.4" y="184.6" width="95.0" height="24.799999999999983"/></clipPath><ellipse cx="193.4" cy="203" rx="5.61" ry="5.58" fill="#e31a1a" clip-path="url(#cq1)"/><g filter="url(#bl)"><path transform="scale(.5)" d="M434 376h0m-38 4h0m111 3h0m-74 1h0m-60 1h0m8 0h0m17 1h0m3 0h0m-34 2h0m13 0h0m5 0h0m1 0h0m-8 1h0m7 0h0m13 0h0m3 0h0m-15 1h0m12 0h0m-10 1h0m2 0h0m-6 1h0m1 0h0m16 0h0m27 0h0m-45 1h0m1 0h0m2 0h0m1 0h0m1 0h0m2 0h0m1 0h0m1 0h0m-12 1h0m1 0h0m2 0h0m2 0h0m1 0h0m6 0h0m2 0h0m3 0h0m-25 1h0m2 0h0m4 0h0m4 0h0m14 0h0m10 0h0m-29 1h0m8 0h0m3 0h0m1 0h0m1 0h0m1 0h0m1 0h0m4 0h0m10 0h0m57 0h0m37 0h0m-127 1h0m3 0h0m3 0h0m2 0h0m1 0h0m2 0h0m2 0h0m2 0h0m1 0h0m3 0h0m2 0h0m1 0h0m1 0h0m7 0h0m61 0h0m-96 1h0m1 0h0m6 0h0m10 0h0m1 0h0m1 0h0m1 0h0m3 0h0m1 0h0m1 0h0m1 0h0m7 0h0m-21 1h0m3 0h0m1 0h0m3 0h0m1 0h0m3 0h0m7 0h0m7 0h0m-38 1h0m1 0h0m1 0h0m7 0h0m2 0h0m4 0h0m3 0h0m3 0h0m1 0h0m13 0h0m52 0h0m24 0h0m15 0h0m-113 1h0m2 0h0m2 0h0m4 0h0m1 0h0m1 0h0m6 0h0m3 0h0m64 0h0m18 0h0m6 0h0m13 0h0m-129 1h0m1 0h0m1 0h0m5 0h0m2 0h0m2 0h0m3 0h0m1 0h0m3 0h0m2 0h0m4 0h0m1 0h0m2 0h0m1 0h0m5 0h0m22 0h0m36 0h0m8 0h0m-97 1h0m7 0h0m1 0h0m1 0h0m4 0h0m1 0h0m1 0h0m1 0h0m2 0h0m2 0h0m3 0h0m-15 1h0m1 0h0m2 0h0m1 0h0m1 0h0m1 0h0m2 0h0m1 0h0m5 0h0m3 0h0m118 0h0m-144 1h0m4 0h0m1 0h0m5 0h0m1 0h0m2 0h0m3 0h0m1 0h0m1 0h0m11 0h0m9 0h0m31 0h0m38 0h0m1 0h0m-112 1h0m7 0h0m3 0h0m3 0h0m2 0h0m4 0h0m1 0h0m2 0h0m7 0h0m3 0h0m52 0h0m-79 1h0m7 0h0m3 0h0m2 0h0m1 0h0m5 0h0m2 0h0m3 0h0m2 0h0m31 0h0m-54 1h0m9 0h0m3 0h0m4 0h0m10 0h0m39 0h0m-82 1h0m24 0h0m5 0h0m6 0h0m5 0h0m-26 1h0m5 0h0m5 0h0m8 0h0m1 0h0m1 0h0m3 0h0m3 0h0m71 0h0m-89 1h0m1 0h0m3 0h0m2 0h0m2 0h0m1 0h0m6 0h0m1 0h0m3 0h0m12 0h0m19 0h0m28 0h0m1 0h0m44 0h0m-126 1h0m8 0h0m5 0h0m7 0h0m7 0h0m11 0h0m-32 1h0m4 0h0m10 0h0m86 0h0m8 0h0m-116 1h0m5 0h0m1 0h0m2 0h0m3 0h0m9 0h0m2 0h0m10 0h0m32 0h0m-53 1h0m4 0h0m5 0h0m8 0h0m1 0h0m7 0h0m61 0h0m38 0h0m-124 1h0m5 0h0m2 0h0m4 0h0m1 0h0m-18 1h0m26 0h0m21 0h0m66 0h0m-114 1h0m3 0h0m5 0h0m28 0h0m42 0h0m36 0h0m-111 1h0m5 0h0m9 0h0m2 0h0m3 0h0m73 0h0m8 0h0m-91 1h0m3 0h0m9 0h0m52 0h0m9 0h0m11 0h0m-91 1h0m5 0h0m5 0h0m1 0h0m1 0h0m13 0h0m40 0h0m12 0h0m-80 1h0m2 0h0m7 0h0m7 0h0m42 0h0m25 0h0m31 0h0m-125 1h0m1 0h0m14 0h0m3 0h0m5 0h0m2 0h0m1 0h0m108 0h0m-117 1h0m1 0h0m1 0h0m2 0h0m1 0h0m2 0h0m1 0h0m78 0h0m-98 1h0m15 0h0m3 0h0m1 0h0m1 0h0m76 0h0m7 0h0m-97 1h0m4 0h0m3 0h0m2 0h0m1 0h0m1 0h0m1 0h0m2 0h0m1 0h0m79 0h0m2 0h0m8 0h0m-90 1h0m1 0h0m41 0h0m11 0h0m13 0h0m1 0h0m7 0h0m-78 1h0m1 0h0m-24 1h0m4 0h0m19 0h0m2 0h0m1 0h0m2 0h0m3 0h0m-30 1h0m19 0h0m3 0h0m1 0h0m4 0h0m1 0h0m51 0h0m33 0h0m-107 1h0m6 0h0m13 0h0m-6 1h0m2 0h0m2 0h0m2 0h0m3 0h0m-25 1h0m13 0h0m8 0h0m5 0h0m-22 1h0m16 0h0m2 0h0m1 0h0m2 0h0m80 0h0m-104 1h0m3 0h0m2 0h0m4 0h0m6 0h0m6 0h0m1 0h0m3 0h0m2 0h0m61 0h0m5 0h0m-89 1h0m13 0h0m3 0h0m3 0h0m1 0h0m-29 1h0m15 0h0m4 0h0m2 0h0m1 0h0m3 0h0m52 0h0m38 0h0m-116 1h0m1 0h0m4 0h0m8 0h0m10 0h0m1 0h0m2 0h0m89 0h0m-106 1h0m4 0h0m4 0h0m7 0h0m1 0h0m1 0h0m1 0h0m2 0h0m1 0h0m-19 1h0m9 0h0m1 0h0m2 0h0m7 0h0m14 0h0m28 0h0m-70 1h0m2 0h0m4 0h0m7 0h0m5 0h0m2 0h0m1 0h0m1 0h0m4 0h0m1 0h0m97 0h0m-119 1h0m15 0h0m1 0h0m1 0h0m2 0h0m1 0h0m10 0h0m-24 1h0m1 0h0m2 0h0m1 0h0m3 0h0m4 0h0m1 0h0m2 0h0m1 0h0m54 0h0m-76 1h0m16 0h0m1 0h0m1 0h0m0 1h0m1 0h0m1 0h0m3 0h0m-27 1h0m1 0h0m11 0h0m2 0h0m7 0h0m1 0h0m2 0h0m-22 1h0m4 0h0m2 0h0m3 0h0m8 0h0m1 0h0m-27 1h0m8 0h0m2 0h0m2 0h0m5 0h0m6 0h0m1 0h0m2 0h0m1 0h0m4 0h0m1 0h0m4 0h0m-25 1h0m1 0h0m8 0h0m2 0h0m1 0h0m2 0h0m2 0h0m3 0h0m1 0h0m-14 1h0m3 0h0m3 0h0m3 0h0m4 0h0m1 0h0m-21 1h0m5 0h0m6 0h0m4 0h0m2 0h0m3 0h0m1 0h0m6 0h0m1 0h0m-13 1h0m1 0h0m2 0h0m1 0h0m2 0h0m4 0h0m-12 1h0m3 0h0m2 0h0m-1 1h0m1 0h0m3 0h0m1 0h0m3 0h0m-23 1h0m1 0h0m6 0h0m2 0h0m6 0h0m1 0h0m2 0h0m1 0h0m-5 1h0m2 0h0m4 0h0m-25 1h0m6 0h0m10 0h0m3 0h0m1 0h0m3 0h0m2 0h0m4 0h0m-25 1h0m9 0h0m1 0h0m5 0h0m1 0h0m2 0h0m2 0h0m-22 1h0m21 0h0m-23 1h0m13 0h0m3 0h0m4 0h0m2 0h0m1 0h0m2 0h0m5 0h0m-16 1h0m2 0h0m1 0h0m1 0h0m2 0h0m2 0h0m3 0h0m6 0h0m-23 1h0m10 0h0m1 0h0m2 0h0m2 0h0m2 0h0m1 0h0m-25 1h0m14 0h0m1 0h0m2 0h0m12 0h0m-28 1h0m2 0h0m1 0h0m6 0h0m6 0h0m1 0h0m1 0h0m1 0h0m3 0h0m-19 1h0m9 0h0m5 0h0m3 0h0m1 0h0m1 0h0m4 0h0m1 0h0m-23 1h0m1 0h0m2 0h0m6 0h0m6 0h0m2 0h0m3 0h0m-23 1h0m9 0h0m3 0h0m4 0h0m1 0h0m1 0h0m-22 1h0m5 0h0m2 0h0m9 0h0m2 0h0m1 0h0m1 0h0m1 0h0m-16 1h0m4 0h0m9 0h0m2 0h0m1 0h0m1 0h0m4 0h0m-18 1h0m5 0h0m4 0h0m2 0h0m2 0h0m2 0h0m-16 1h0m7 0h0m2 0h0m4 0h0m1 0h0m9 0h0m-24 1h0m5 0h0m7 0h0m1 0h0m3 0h0m-17 1h0m2 0h0m3 0h0m7 0h0m2 0h0m1 0h0m1 0h0m-14 1h0m1 0h0m2 0h0m3 0h0m4 0h0m1 0h0m1 0h0m2 0h0m1 0h0m-19 1h0m2 0h0m2 0h0m6 0h0m1 0h0m1 0h0m1 0h0m1 0h0m2 0h0m2 0h0m2 0h0m-15 1h0m3 0h0m6 0h0m2 0h0m-7 1h0m6 0h0m1 0h0m2 0h0m2 0h0m-13 1h0m1 0h0m1 0h0m4 0h0m5 0h0m1 0h0m-13 1h0m1 0h0m2 0h0m3 0h0m1 0h0m1 0h0m1 0h0m1 0h0m1 0h0m2 0h0m-7 1h0m3 0h0m1 0h0m3 0h0m3 0h0m-21 1h0m2 0h0m4 0h0m2 0h0m2 0h0m1 0h0m1 0h0m3 0h0m2 0h0m4 0h0m-20 1h0m2 0h0m6 0h0m2 0h0m4 0h0m4 0h0m-18 1h0m2 0h0m4 0h0m3 0h0m3 0h0m1 0h0m4 0h0m-15 1h0m8 0h0m6 0h0m1 0h0m1 0h0m-8 1h0m3 0h0m3 0h0m2 0h0m1 0h0m-7 1h0m5 0h0m-15 1h0m3 0h0m6 0h0m-10 1h0m15 0h0m1 0h0m-17 1h0m1 0h0m2 0h0m4 0h0m4 0h0m4 0h0m-15 1h0m8 0h0m1 0h0m4 0h0m-13 1h0m6 0h0m-6 1h0m4 0h0m4 0h0m2 0h0m-8 1h0m7 0h0m15 0h0m-14 1h0m1 0h0m1 0h0m-9 1h0m3 0h0m2 0h0m2 0h0m-8 1h0m1 0h0m3 0h0m4 0h0m4 0h0m-10 1h0m5 0h0m4 0h0m-8 1h0m1 0h0m0 1h0m1 0h0m2 0h0m-7 1h0m4 0h0m1 0h0m8 0h0m-16 1h0m11 0h0m5 0h0m-10 1h0m3 0h0m4 0h0m-6 1h0m1 0h0m-2 1h0m11 0h0m-14 1h0m2 0h0m2 1h0m4 0h0m-3 1h0m-4 2h0m1 0h0m10 0h0m-13 1h0m1 0h0m1 0h0m1 0h0m4 0h0m1 0h0m-9 1h0m2 0h0m2 0h0m5 0h0m1 0h0m2 0h0m3 0h0m-6 1h0m2 0h0m6 0h0m-10 1h0m2 0h0m1 0h0m1 0h0m1 0h0m-3 1h0m-1 1h0m-4 1h0m2 0h0m8 0h0" stroke="#e01818" stroke-width="2.6" stroke-linecap="square"/><path d="M186.4,208.2 L196,208.2 L195.1,224.2 L191.3,251 L189.7,257.5 L187.9,255.5 L186.9,238.08 L186.4,223.14Z" fill="#808080"/><path transform="scale(.5)" d="M377 417h0m2 0h0m0 1h0m2 1h0m7 1h0m-8 1h0m0 1h0m10 0h0m-11 2h0m11 1h0m-16 1h0m1 0h0m13 0h0m-3 2h0m-6 1h0m3 0h0m5 0h0m0 3h0m1 0h0m-6 2h0m5 0h0m-9 3h0m-2 1h0m2 0h0m5 1h0m-6 1h0m8 0h0m-11 2h0m4 0h0m3 0h0m5 0h0m-4 1h0m3 1h0m-5 1h0m-6 1h0m3 0h0m4 0h0m4 0h0m-1 1h0m1 1h0m-10 1h0m2 0h0m8 1h0m-8 1h0m1 0h0m8 0h0m-12 1h0m6 0h0m7 0h0m-9 1h0m8 0h0m-8 1h0m1 0h0m3 0h0m-6 1h0m1 0h0m3 0h0m0 1h0m0 1h0m5 2h0m-1 1h0m-3 1h0m3 0h0m1 0h0m-1 2h0m-5 1h0m-4 1h0m10 0h0m-2 1h0m-4 1h0m-1 1h0m7 0h0m-8 4h0m1 0h0m-3 2h0m3 0h0m1 0h0m2 1h0m0 2h0m-4 2h0m3 1h0m2 0h0m1 0h0m-5 1h0m6 0h0m-6 1h0m4 0h0m1 1h0m-5 1h0m1 0h0m4 0h0m-6 2h0m4 0h0m-1 1h0m1 0h0m2 0h0m-6 1h0m3 0h0m-3 1h0m1 0h0m1 0h0m1 1h0m-4 1h0m1 1h0m4 0h0m1 0h0m-6 2h0m5 0h0m-4 1h0m3 0h0m-3 1h0m1 0h0m0 1h0m1 0h0m1 0h0m-2 1h0m3 0h0m-2 2h0m2 0h0m-2 1h0m1 0h0m-1 1h0m-3 1h0m5 0h0m-2 1h0m-2 1h0m0 1h0m1 0h0m1 0h0m1 0h0m-1 1h0m0 1h0m1 0h0m0 1h0m-2 1h0m1 1h0m-2 2h0m1 0h0m2 1h0m-3 1h0m2 0h0m0 1h0" stroke="#7f7f7f" stroke-width="2.6" stroke-linecap="square"/><path transform="scale(.5)" d="M390 435h0m-17 2h0m0 2h0m0 5h0m0 3h0m15 0h0m-15 5h0m15 0h0m-14 3h0m13 1h0m-13 3h0m0 1h0m12 0h0m-12 2h0m0 4h0m0 2h0m0 6h0m10 2h0m0 1h0m-1 5h0m0 1h0m0 3h0m-1 2h0m0 2h0m-7 3h0m6 2h0m-5 1h0m5 0h0m-5 1h0m0 1h0m5 3h0m-5 3h0m4 0h0m-4 1h0m0 4h0m3 1h0m0 1h0" stroke="#e01818" stroke-width="2.6" stroke-linecap="square"/></g><clipPath id="cq2"><rect x="287.6" y="184.6" width="95.0" height="24.799999999999983"/></clipPath><ellipse cx="315.6" cy="201" rx="7.48" ry="7.02" fill="#e31a1a" clip-path="url(#cq2)"/><g filter="url(#bl)"><path transform="scale(.5)" d="M630 374h0m5 1h0m-6 2h0m7 2h0m-20 1h0m-4 1h0m6 0h0m19 0h0m-11 1h0m-21 1h0m25 0h0m16 0h0m-36 1h0m26 0h0m-22 1h0m9 0h0m5 0h0m10 0h0m3 0h0m1 0h0m25 0h0m-41 1h0m3 0h0m10 0h0m9 0h0m16 0h0m93 0h0m-134 1h0m1 0h0m-2 1h0m9 0h0m3 0h0m6 0h0m3 0h0m3 0h0m-35 1h0m13 0h0m4 0h0m3 0h0m3 0h0m1 0h0m3 0h0m-23 1h0m1 0h0m2 0h0m2 0h0m5 0h0m2 0h0m1 0h0m2 0h0m2 0h0m4 0h0m1 0h0m15 0h0m-38 1h0m4 0h0m8 0h0m2 0h0m2 0h0m2 0h0m2 0h0m3 0h0m-19 1h0m3 0h0m4 0h0m3 0h0m3 0h0m2 0h0m8 0h0m1 0h0m5 0h0m-28 1h0m3 0h0m5 0h0m1 0h0m3 0h0m1 0h0m1 0h0m4 0h0m3 0h0m-32 1h0m8 0h0m4 0h0m1 0h0m10 0h0m1 0h0m2 0h0m1 0h0m1 0h0m1 0h0m6 0h0m5 0h0m102 0h0m-140 1h0m4 0h0m1 0h0m3 0h0m3 0h0m2 0h0m2 0h0m9 0h0m3 0h0m2 0h0m1 0h0m1 0h0m3 0h0m2 0h0m1 0h0m1 0h0m29 0h0m54 0h0m9 0h0m-124 1h0m3 0h0m1 0h0m3 0h0m2 0h0m3 0h0m1 0h0m2 0h0m1 0h0m2 0h0m1 0h0m2 0h0m1 0h0m7 0h0m1 0h0m88 0h0m-129 1h0m5 0h0m8 0h0m2 0h0m7 0h0m2 0h0m1 0h0m1 0h0m3 0h0m7 0h0m1 0h0m9 0h0m2 0h0m3 0h0m84 0h0m15 0h0m-140 1h0m6 0h0m2 0h0m7 0h0m1 0h0m1 0h0m4 0h0m2 0h0m1 0h0m2 0h0m10 0h0m14 0h0m12 0h0m-70 1h0m12 0h0m3 0h0m1 0h0m6 0h0m3 0h0m1 0h0m1 0h0m1 0h0m4 0h0m1 0h0m2 0h0m3 0h0m3 0h0m3 0h0m9 0h0m-49 1h0m4 0h0m6 0h0m1 0h0m3 0h0m1 0h0m1 0h0m1 0h0m2 0h0m1 0h0m2 0h0m2 0h0m6 0h0m2 0h0m7 0h0m4 0h0m34 0h0m27 0h0m31 0h0m-130 1h0m8 0h0m3 0h0m3 0h0m1 0h0m3 0h0m1 0h0m4 0h0m4 0h0m1 0h0m1 0h0m2 0h0m91 0h0m-123 1h0m6 0h0m6 0h0m1 0h0m1 0h0m5 0h0m2 0h0m4 0h0m14 0h0m1 0h0m16 0h0m46 0h0m11 0h0m10 0h0m-124 1h0m15 0h0m1 0h0m2 0h0m1 0h0m1 0h0m1 0h0m1 0h0m2 0h0m5 0h0m8 0h0m3 0h0m66 0h0m11 0h0m4 0h0m4 0h0m-126 1h0m6 0h0m3 0h0m1 0h0m4 0h0m2 0h0m3 0h0m1 0h0m3 0h0m7 0h0m1 0h0m1 0h0m9 0h0m5 0h0m62 0h0m22 0h0m-127 1h0m1 0h0m2 0h0m1 0h0m10 0h0m1 0h0m1 0h0m10 0h0m5 0h0m2 0h0m30 0h0m57 0h0m-125 1h0m4 0h0m2 0h0m5 0h0m4 0h0m3 0h0m3 0h0m1 0h0m6 0h0m14 0h0m30 0h0m49 0h0m8 0h0m1 0h0m5 0h0m9 0h0m-136 1h0m6 0h0m1 0h0m1 0h0m2 0h0m2 0h0m3 0h0m8 0h0m1 0h0m13 0h0m75 0h0m18 0h0m-139 1h0m5 0h0m1 0h0m10 0h0m3 0h0m3 0h0m3 0h0m8 0h0m1 0h0m4 0h0m-30 1h0m2 0h0m11 0h0m7 0h0m2 0h0m3 0h0m4 0h0m89 0h0m2 0h0m10 0h0m-125 1h0m6 0h0m7 0h0m8 0h0m89 0h0m4 0h0m5 0h0m-125 1h0m7 0h0m5 0h0m1 0h0m1 0h0m2 0h0m2 0h0m1 0h0m16 0h0m6 0h0m73 0h0m15 0h0m-121 1h0m4 0h0m1 0h0m7 0h0m15 0h0m66 0h0m-111 1h0m9 0h0m6 0h0m1 0h0m11 0h0m23 0h0m65 0h0m12 0h0m19 0h0m-129 1h0m4 0h0m12 0h0m13 0h0m4 0h0m69 0h0m1 0h0m7 0h0m4 0h0m6 0h0m-124 1h0m6 0h0m6 0h0m3 0h0m3 0h0m5 0h0m-4 1h0m7 0h0m11 0h0m1 0h0m62 0h0m22 0h0m-114 1h0m8 0h0m6 0h0m4 0h0m46 0h0m38 0h0m19 0h0m-116 1h0m1 0h0m5 0h0m8 0h0m-12 1h0m43 0h0m21 0h0m6 0h0m34 0h0m19 0h0m-141 1h0m11 0h0m10 0h0m28 0h0m17 0h0m-66 1h0m18 0h0m1 0h0m1 0h0m1 0h0m1 0h0m1 0h0m95 0h0m6 0h0m-137 1h0m19 0h0m6 0h0m3 0h0m2 0h0m3 0h0m5 0h0m96 0h0m4 0h0m-140 1h0m6 0h0m7 0h0m7 0h0m8 0h0m-22 1h0m24 0h0m1 0h0m1 0h0m1 0h0m2 0h0m-15 1h0m9 0h0m1 0h0m4 0h0m43 0h0m-73 1h0m10 0h0m7 0h0m5 0h0m3 0h0m1 0h0m1 0h0m1 0h0m1 0h0m1 0h0m1 0h0m23 0h0m-54 1h0m2 0h0m2 0h0m25 0h0m2 0h0m2 0h0m9 0h0m-40 1h0m22 0h0m106 0h0m-114 1h0m3 0h0m4 0h0m3 0h0m1 0h0m1 0h0m8 0h0m2 0h0m3 0h0m6 0h0m19 0h0m-79 1h0m11 0h0m1 0h0m2 0h0m2 0h0m8 0h0m8 0h0m2 0h0m1 0h0m1 0h0m4 0h0m1 0h0m4 0h0m97 0h0m-126 1h0m1 0h0m2 0h0m6 0h0m1 0h0m18 0h0m-28 1h0m3 0h0m3 0h0m5 0h0m7 0h0m2 0h0m3 0h0m4 0h0m2 0h0m1 0h0m-21 1h0m12 0h0m2 0h0m1 0h0m3 0h0m-25 1h0m2 0h0m15 0h0m2 0h0m2 0h0m2 0h0m2 0h0m1 0h0m2 1h0m-29 1h0m4 0h0m1 0h0m2 0h0m9 0h0m4 0h0m1 0h0m4 0h0m4 0h0m-32 1h0m4 0h0m16 0h0m1 0h0m1 0h0m1 0h0m1 0h0m1 0h0m1 0h0m1 0h0m3 0h0m-29 1h0m9 0h0m8 0h0m1 0h0m4 0h0m1 0h0m1 0h0m-28 1h0m12 0h0m10 0h0m2 0h0m1 0h0m2 0h0m-22 1h0m2 0h0m1 0h0m3 0h0m8 0h0m2 0h0m3 0h0m4 0h0m-13 1h0m5 0h0m1 0h0m1 0h0m1 0h0m1 0h0m1 0h0m2 0h0m1 0h0m1 0h0m5 0h0m-23 1h0m3 0h0m5 0h0m4 0h0m4 0h0m1 0h0m2 0h0m-5 1h0m4 0h0m-23 1h0m2 0h0m1 0h0m9 0h0m3 0h0m2 0h0m1 0h0m1 0h0m3 0h0m1 0h0m-23 1h0m15 0h0m3 0h0m2 0h0m3 0h0m3 0h0m-25 1h0m6 0h0m9 0h0m12 0h0m-18 1h0m8 0h0m1 0h0m-7 1h0m2 0h0m2 0h0m1 0h0m1 0h0m2 0h0m1 0h0m1 0h0m6 0h0m-26 1h0m6 0h0m10 0h0m3 0h0m1 0h0m7 0h0m-34 1h0m21 0h0m1 0h0m1 0h0m1 0h0m2 0h0m6 0h0m-24 1h0m9 0h0m6 0h0m2 0h0m-21 1h0m17 0h0m1 0h0m1 0h0m1 0h0m1 0h0m6 0h0m3 0h0m-22 1h0m3 0h0m5 0h0m1 0h0m5 0h0m2 0h0m-25 1h0m4 0h0m3 0h0m6 0h0m1 0h0m1 0h0m2 0h0m6 0h0m1 0h0m4 0h0m-27 1h0m16 0h0m1 0h0m1 0h0m3 0h0m-3 1h0m1 0h0m1 0h0m1 0h0m-18 1h0m1 0h0m10 0h0m3 0h0m2 0h0m9 0h0m2 0h0m-32 1h0m11 0h0m8 0h0m2 0h0m1 0h0m1 0h0m-9 1h0m2 0h0m2 0h0m1 0h0m1 0h0m2 0h0m-20 1h0m11 0h0m4 0h0m2 0h0m3 0h0m-21 1h0m2 0h0m12 0h0m4 0h0m1 0h0m1 0h0m1 0h0m2 0h0m6 0h0m-30 1h0m3 0h0m5 0h0m6 0h0m1 0h0m1 0h0m1 0h0m1 0h0m6 0h0m-21 1h0m1 0h0m10 0h0m3 0h0m1 0h0m3 0h0m2 0h0m-24 1h0m2 0h0m10 0h0m1 0h0m4 0h0m3 0h0m2 0h0m1 0h0m-19 1h0m1 0h0m12 0h0m2 0h0m1 0h0m3 0h0m-19 1h0m3 0h0m5 0h0m5 0h0m4 0h0m-15 1h0m10 0h0m1 0h0m3 0h0m2 0h0m-25 1h0m6 0h0m2 0h0m1 0h0m7 0h0m2 0h0m1 0h0m4 0h0m-14 1h0m2 0h0m5 0h0m8 0h0m2 0h0m-5 1h0m1 0h0m1 0h0m-4 1h0m1 0h0m3 0h0m1 0h0m2 0h0m7 0h0m-25 1h0m7 0h0m4 0h0m1 0h0m2 0h0m3 0h0m4 0h0m-20 1h0m10 0h0m5 0h0m4 0h0m-23 1h0m6 0h0m3 0h0m1 0h0m6 0h0m5 0h0m3 0h0m-27 1h0m12 0h0m1 0h0m4 0h0m11 0h0m-19 1h0m1 0h0m7 0h0m-13 1h0m2 0h0m1 0h0m2 0h0m2 0h0m2 0h0m1 0h0m9 0h0m-14 1h0m5 0h0m2 0h0m6 0h0m-14 1h0m1 0h0m1 0h0m1 0h0m7 0h0m1 0h0m2 0h0m-11 1h0m6 0h0m1 0h0m5 0h0m2 0h0m-16 1h0m8 0h0m6 0h0m6 0h0m-22 1h0m5 0h0m10 0h0m3 0h0m-1 1h0m-18 1h0m5 0h0m1 0h0m2 0h0m9 0h0m-10 1h0m1 0h0m2 0h0m-12 1h0m4 0h0m2 0h0m1 0h0m1 0h0m12 0h0m1 0h0m-13 1h0m3 0h0m3 0h0m-15 1h0m9 0h0m3 0h0m3 0h0m5 0h0m-15 1h0m1 0h0m-2 1h0m9 0h0m-16 1h0m13 0h0m-6 1h0m5 0h0m10 0h0m-12 2h0m2 0h0m6 0h0m-7 1h0m4 0h0m2 0h0m-6 1h0m5 0h0m-11 1h0m6 0h0m3 0h0m7 0h0m-7 1h0m4 0h0m2 0h0m-11 1h0m4 0h0m2 0h0m1 0h0m-8 1h0m3 0h0m6 0h0m-9 1h0m6 0h0m1 0h0m-5 1h0m1 0h0m2 0h0m3 0h0m-9 1h0m8 0h0m7 0h0m-11 1h0m3 0h0m2 0h0m2 0h0m-8 1h0m2 0h0m2 0h0m6 0h0m-12 1h0m1 0h0m4 0h0m2 0h0m-7 1h0m1 0h0m8 0h0m-8 1h0m3 0h0m2 0h0m4 0h0m-7 1h0m6 0h0m-6 1h0m1 0h0m1 0h0m5 0h0m-3 1h0m-1 1h0" stroke="#e01818" stroke-width="2.6" stroke-linecap="square"/><path d="M305,208.2 L315.2,208.2 L314.3,224.2 L310.4,249 L308.8,255.5 L307,253.5 L305.5,236.88 L305,222.54Z" fill="#808080"/><path transform="scale(.5)" d="M614 417h0m1 0h0m4 0h0m6 0h0m-1 1h0m-13 2h0m13 0h0m-13 2h0m2 1h0m8 0h0m-8 2h0m14 0h0m-5 1h0m-2 1h0m-4 1h0m13 0h0m-11 1h0m3 0h0m1 0h0m-11 1h0m4 1h0m0 1h0m1 1h0m2 0h0m3 0h0m-10 1h0m5 0h0m1 0h0m5 0h0m-7 1h0m-2 1h0m4 0h0m1 0h0m-6 1h0m9 0h0m6 1h0m-5 1h0m3 0h0m-7 1h0m1 0h0m3 1h0m-4 1h0m-3 1h0m2 0h0m2 0h0m1 0h0m3 0h0m-10 1h0m7 0h0m7 0h0m-3 1h0m-7 1h0m-4 1h0m5 0h0m4 0h0m-5 3h0m7 0h0m1 0h0m-9 1h0m3 1h0m5 1h0m-9 1h0m4 0h0m5 0h0m-11 1h0m12 0h0m-11 1h0m1 0h0m3 1h0m-1 1h0m1 0h0m-1 2h0m3 1h0m-1 1h0m2 0h0m-6 1h0m5 0h0m-2 1h0m4 0h0m-7 1h0m1 0h0m7 0h0m-8 2h0m2 0h0m2 2h0m4 0h0m-5 1h0m1 0h0m4 0h0m-6 1h0m-2 2h0m1 0h0m5 1h0m-7 1h0m4 0h0m-1 1h0m4 0h0m-1 1h0m1 0h0m-7 1h0m3 0h0m1 0h0m-2 1h0m5 0h0m-1 3h0m-7 1h0m3 0h0m4 0h0m1 0h0m-4 2h0m0 1h0m2 0h0m2 0h0m-2 1h0m-4 1h0m1 1h0m-1 1h0m1 0h0m2 1h0m1 0h0m-5 1h0m1 0h0m3 0h0m-3 1h0m3 2h0m-2 1h0m1 0h0m1 1h0m1 0h0m-4 1h0m1 0h0m2 0h0m-3 1h0m-1 4h0m2 0h0m2 0h0m1 0h0m-4 1h0m0 1h0m1 0h0m2 0h0m-3 1h0m2 1h0m-2 2h0m1 1h0m-1 1h0" stroke="#7f7f7f" stroke-width="2.6" stroke-linecap="square"/><path transform="scale(.5)" d="M628 439h0m-18 2h0m17 1h0m-17 1h0m1 8h0m15 0h0m0 1h0m-15 3h0m0 3h0m14 0h0m0 1h0m-1 2h0m0 2h0m-12 5h0m0 1h0m11 0h0m0 1h0m0 3h0m-10 3h0m8 4h0m-8 6h0m7 2h0m-7 1h0m7 1h0m-6 3h0m5 0h0m0 4h0m0 2h0m-5 3h0m4 0h0m-4 3h0m4 1h0m-4 1h0" stroke="#e01818" stroke-width="2.6" stroke-linecap="square"/></g><clipPath id="cq3"><rect x="406.2" y="184.6" width="95.0" height="24.799999999999983"/></clipPath><ellipse cx="439.2" cy="199" rx="9.35" ry="9" fill="#e31a1a" clip-path="url(#cq3)"/><g filter="url(#bl)"><path transform="scale(.5)" d="M869 372h0m-2 1h0m3 0h0m13 0h0m-1 1h0m8 0h0m3 0h0m-42 1h0m6 0h0m17 0h0m4 0h0m5 0h0m8 0h0m-23 1h0m12 0h0m13 0h0m22 0h0m-56 1h0m22 0h0m1 0h0m2 0h0m11 0h0m-27 1h0m10 0h0m3 0h0m13 0h0m2 0h0m3 0h0m-33 1h0m7 0h0m8 0h0m6 0h0m-23 1h0m17 0h0m15 0h0m9 0h0m68 0h0m-122 1h0m12 0h0m3 0h0m7 0h0m7 0h0m1 0h0m12 0h0m3 0h0m2 0h0m3 0h0m-45 1h0m9 0h0m9 0h0m5 0h0m1 0h0m4 0h0m1 0h0m2 0h0m5 0h0m1 0h0m-29 1h0m7 0h0m1 0h0m12 0h0m9 0h0m1 0h0m-32 1h0m13 0h0m3 0h0m1 0h0m3 0h0m3 0h0m2 0h0m12 0h0m3 0h0m-44 1h0m1 0h0m6 0h0m8 0h0m6 0h0m1 0h0m3 0h0m2 0h0m2 0h0m4 0h0m7 0h0m4 0h0m1 0h0m79 0h0m-118 1h0m2 0h0m1 0h0m4 0h0m3 0h0m3 0h0m6 0h0m4 0h0m2 0h0m2 0h0m5 0h0m9 0h0m23 0h0m-51 1h0m6 0h0m4 0h0m2 0h0m-40 1h0m11 0h0m14 0h0m1 0h0m1 0h0m2 0h0m20 0h0m5 0h0m-44 1h0m10 0h0m1 0h0m3 0h0m5 0h0m7 0h0m2 0h0m6 0h0m-38 1h0m13 0h0m4 0h0m3 0h0m6 0h0m3 0h0m2 0h0m3 0h0m1 0h0m6 0h0m4 0h0m-34 1h0m2 0h0m2 0h0m8 0h0m4 0h0m2 0h0m1 0h0m1 0h0m1 0h0m-32 1h0m4 0h0m7 0h0m5 0h0m1 0h0m6 0h0m1 0h0m5 0h0m3 0h0m6 0h0m1 0h0m2 0h0m1 0h0m-32 1h0m6 0h0m2 0h0m3 0h0m1 0h0m1 0h0m4 0h0m2 0h0m1 0h0m3 0h0m6 0h0m12 0h0m-52 1h0m7 0h0m10 0h0m2 0h0m2 0h0m2 0h0m1 0h0m1 0h0m1 0h0m7 0h0m2 0h0m-33 1h0m11 0h0m2 0h0m3 0h0m3 0h0m2 0h0m1 0h0m1 0h0m1 0h0m1 0h0m2 0h0m8 0h0m3 0h0m7 0h0m58 0h0m21 0h0m-113 1h0m2 0h0m12 0h0m5 0h0m2 0h0m3 0h0m2 0h0m16 0h0m17 0h0m-75 1h0m3 0h0m9 0h0m8 0h0m2 0h0m1 0h0m3 0h0m2 0h0m2 0h0m1 0h0m2 0h0m1 0h0m1 0h0m1 0h0m2 0h0m3 0h0m6 0h0m1 0h0m-46 1h0m4 0h0m4 0h0m5 0h0m8 0h0m2 0h0m1 0h0m1 0h0m11 0h0m15 0h0m5 0h0m-58 1h0m13 0h0m3 0h0m3 0h0m3 0h0m2 0h0m2 0h0m2 0h0m8 0h0m2 0h0m9 0h0m-38 1h0m2 0h0m6 0h0m3 0h0m2 0h0m1 0h0m3 0h0m6 0h0m1 0h0m1 0h0m6 0h0m4 0h0m5 0h0m3 0h0m65 0h0m-96 1h0m1 0h0m3 0h0m2 0h0m4 0h0m4 0h0m2 0h0m17 0h0m-69 1h0m34 0h0m3 0h0m4 0h0m2 0h0m1 0h0m2 0h0m1 0h0m3 0h0m3 0h0m6 0h0m55 0h0m-114 1h0m16 0h0m13 0h0m1 0h0m1 0h0m1 0h0m4 0h0m3 0h0m4 0h0m3 0h0m2 0h0m4 0h0m3 0h0m10 0h0m10 0h0m12 0h0m-67 1h0m5 0h0m7 0h0m1 0h0m5 0h0m3 0h0m1 0h0m3 0h0m4 0h0m1 0h0m-29 1h0m4 0h0m1 0h0m1 0h0m2 0h0m2 0h0m6 0h0m2 0h0m5 0h0m1 0h0m1 0h0m3 0h0m53 0h0m25 0h0m26 0h0m-146 1h0m18 0h0m2 0h0m7 0h0m2 0h0m1 0h0m3 0h0m5 0h0m1 0h0m1 0h0m1 0h0m1 0h0m21 0h0m11 0h0m44 0h0m-92 1h0m7 0h0m2 0h0m4 0h0m18 0h0m-37 1h0m5 0h0m1 0h0m4 0h0m3 0h0m1 0h0m9 0h0m2 0h0m54 0h0m-85 1h0m21 0h0m5 0h0m6 0h0m4 0h0m19 0h0m-66 1h0m18 0h0m5 0h0m10 0h0m48 0h0m30 0h0m-95 1h0m1 0h0m5 0h0m1 0h0m9 0h0m19 0h0m40 0h0m23 0h0m-128 1h0m9 0h0m10 0h0m1 0h0m2 0h0m1 0h0m14 0h0m4 0h0m6 0h0m1 0h0m2 0h0m2 0h0m1 0h0m7 0h0m84 0h0m-117 1h0m4 0h0m4 0h0m11 0h0m6 0h0m13 0h0m2 0h0m43 0h0m-90 1h0m17 0h0m5 0h0m11 0h0m5 0h0m2 0h0m-29 1h0m4 0h0m21 0h0m-14 1h0m3 0h0m3 0h0m32 0h0m78 0h0m-134 1h0m9 0h0m8 0h0m2 0h0m1 0h0m1 0h0m10 0h0m4 0h0m1 0h0m4 0h0m-47 1h0m9 0h0m4 0h0m9 0h0m1 0h0m23 0h0m16 0h0m48 0h0m28 0h0m-131 1h0m15 0h0m2 0h0m4 0h0m8 0h0m2 0h0m-16 1h0m2 0h0m2 0h0m4 0h0m52 0h0m37 0h0m-113 1h0m6 0h0m9 0h0m4 0h0m2 0h0m3 0h0m7 0h0m60 0h0m29 0h0m-103 1h0m2 0h0m79 0h0m10 0h0m-99 1h0m5 0h0m2 0h0m1 0h0m1 0h0m1 0h0m1 0h0m2 0h0m58 0h0m-74 1h0m1 0h0m6 0h0m5 0h0m1 0h0m5 0h0m56 0h0m8 0h0m4 0h0m-88 1h0m8 0h0m4 0h0m1 0h0m1 0h0m1 0h0m2 0h0m7 0h0m112 0h0m-133 1h0m7 0h0m4 0h0m4 0h0m93 0h0m-112 1h0m9 0h0m6 0h0m1 0h0m1 0h0m5 0h0m83 0h0m4 0h0m-107 1h0m8 0h0m4 0h0m1 0h0m2 0h0m60 0h0m27 0h0m-91 1h0m1 0h0m72 0h0m23 0h0m-119 1h0m5 0h0m12 0h0m1 0h0m3 0h0m3 0h0m2 0h0m1 0h0m2 0h0m58 0h0m3 0h0m-105 1h0m26 0h0m4 0h0m9 0h0m2 0h0m114 0h0m-119 1h0m2 0h0m2 0h0m2 0h0m1 0h0m1 0h0m1 0h0m77 0h0m24 0h0m15 0h0m-142 1h0m1 0h0m2 0h0m6 0h0m5 0h0m8 0h0m1 0h0m3 0h0m114 0h0m-124 1h0m2 0h0m2 0h0m1 0h0m1 0h0m1 0h0m12 0h0m66 0h0m-98 1h0m6 0h0m3 0h0m8 0h0m3 0h0m-19 1h0m1 0h0m1 0h0m2 0h0m10 0h0m3 0h0m95 0h0m-127 1h0m9 0h0m9 0h0m1 0h0m8 0h0m2 0h0m1 0h0m3 0h0m1 0h0m2 0h0m23 0h0m-44 1h0m6 0h0m5 0h0m2 0h0m1 0h0m1 0h0m87 0h0m14 0h0m1 0h0m-118 1h0m11 0h0m6 0h0m1 0h0m6 0h0m-33 1h0m22 0h0m8 0h0m-23 1h0m6 0h0m9 0h0m2 0h0m6 0h0m-42 1h0m12 0h0m16 0h0m9 0h0m87 0h0m-122 1h0m8 0h0m8 0h0m6 0h0m9 0h0m2 0h0m2 0h0m-12 1h0m3 0h0m3 0h0m3 0h0m4 0h0m3 0h0m-41 1h0m15 0h0m13 0h0m1 0h0m2 0h0m3 0h0m3 0h0m-32 1h0m13 0h0m12 0h0m3 0h0m1 0h0m1 0h0m3 0h0m2 0h0m1 0h0m4 0h0m-28 1h0m5 0h0m8 0h0m2 0h0m3 0h0m1 0h0m1 0h0m1 0h0m2 0h0m2 0h0m51 0h0m-86 1h0m5 0h0m14 0h0m11 0h0m85 0h0m-103 1h0m12 0h0m1 0h0m1 0h0m4 0h0m2 0h0m-25 1h0m2 0h0m2 0h0m6 0h0m10 0h0m3 0h0m-27 1h0m6 0h0m13 0h0m4 0h0m3 0h0m-15 1h0m7 0h0m3 0h0m2 0h0m3 0h0m1 0h0m6 0h0m94 0h0m-116 1h0m2 0h0m5 0h0m4 0h0m2 0h0m1 0h0m3 0h0m-24 1h0m7 0h0m7 0h0m5 0h0m1 0h0m1 0h0m1 0h0m4 0h0m-29 1h0m3 0h0m11 0h0m1 0h0m4 0h0m2 0h0m2 0h0m2 0h0m-21 1h0m8 0h0m6 0h0m5 0h0m5 0h0m85 0h0m-111 1h0m4 0h0m6 0h0m7 0h0m4 0h0m1 0h0m94 0h0m-104 1h0m6 0h0m1 0h0m3 0h0m2 0h0m1 0h0m-27 1h0m12 0h0m4 0h0m2 0h0m4 0h0m1 0h0m1 0h0m1 0h0m1 0h0m1 0h0m-23 1h0m6 0h0m4 0h0m5 0h0m4 0h0m6 0h0m-15 1h0m4 0h0m1 0h0m3 0h0m1 0h0m1 0h0m2 0h0m-31 1h0m7 0h0m11 0h0m2 0h0m11 0h0m-28 1h0m6 0h0m1 0h0m11 0h0m1 0h0m1 0h0m5 0h0m1 0h0m5 0h0m-29 1h0m10 0h0m1 0h0m4 0h0m4 0h0m1 0h0m1 0h0m4 0h0m-25 1h0m11 0h0m7 0h0m2 0h0m2 0h0m1 0h0m2 0h0m-21 1h0m13 0h0m2 0h0m2 0h0m1 0h0m1 0h0m-11 1h0m8 0h0m2 0h0m4 0h0m-20 1h0m6 0h0m2 0h0m3 0h0m3 0h0m-2 1h0m1 0h0m1 0h0m4 0h0m-20 1h0m7 0h0m2 0h0m1 0h0m1 0h0m2 0h0m3 0h0m2 0h0m-16 1h0m7 0h0m5 0h0m6 0h0m-11 1h0m6 0h0m-12 1h0m2 0h0m2 0h0m1 0h0m1 0h0m1 0h0m5 0h0m-17 1h0m1 1h0m7 0h0m4 0h0m4 0h0m3 0h0m-8 1h0m1 0h0m1 0h0m1 0h0m5 0h0m-18 1h0m-2 1h0m7 0h0m9 0h0m4 0h0m-17 1h0m4 0h0m4 0h0m2 1h0m8 0h0m3 0h0m-22 1h0m2 0h0m7 0h0m-8 1h0m7 0h0m1 0h0m-4 1h0m1 1h0m15 0h0m-20 1h0m8 0h0m5 0h0m-13 1h0m1 0h0m6 0h0m11 0h0m-18 1h0m11 0h0m7 0h0m-16 1h0m8 0h0m4 0h0m-15 1h0m3 0h0m1 0h0m-6 1h0m7 1h0m6 0h0m4 0h0m-2 1h0m-13 1h0m8 0h0m-7 1h0m6 0h0m1 0h0m2 0h0m-10 1h0m3 0h0m7 0h0m-7 1h0m1 0h0m9 0h0m3 0h0m-13 1h0m1 0h0m8 0h0m1 0h0m-10 1h0m3 0h0m6 0h0m2 0h0m-4 2h0m-8 1h0m6 0h0m-3 1h0m4 0h0m2 0h0m2 2h0m-9 1h0m3 0h0m1 0h0m-3 1h0m2 0h0m3 0h0m1 0h0m-8 1h0m2 0h0m5 0h0m0 1h0m-6 1h0m1 0h0m5 1h0m-6 2h0m3 0h0m2 0h0" stroke="#e01818" stroke-width="2.6" stroke-linecap="square"/><path d="M423.6,203.5 L434.8,203.5 L433.9,219.5 L429.8,249 L428.2,255.5 L426.4,253.5 L424.1,235 L423.6,219.25Z" fill="#808080"/><path transform="scale(.5)" d="M855 407h0m-5 1h0m15 0h0m3 0h0m-14 1h0m3 4h0m11 1h0m-9 1h0m1 0h0m2 0h0m3 0h0m-11 1h0m1 0h0m8 0h0m-9 1h0m2 1h0m6 0h0m-12 1h0m2 0h0m-1 1h0m11 0h0m1 1h0m-3 1h0m-10 1h0m7 0h0m5 0h0m-1 1h0m-10 1h0m-1 1h0m2 0h0m9 0h0m1 0h0m-12 1h0m11 0h0m-8 1h0m-4 1h0m2 0h0m10 0h0m-10 2h0m8 0h0m7 0h0m-17 1h0m8 0h0m2 0h0m2 1h0m4 1h0m1 0h0m-10 2h0m0 1h0m-3 1h0m8 0h0m3 0h0m-5 1h0m2 0h0m-11 1h0m2 0h0m5 0h0m4 0h0m-8 2h0m5 0h0m-4 1h0m9 0h0m1 0h0m-4 1h0m-9 1h0m1 0h0m4 1h0m1 0h0m-7 1h0m3 0h0m8 0h0m-3 1h0m3 2h0m-7 1h0m-4 2h0m1 0h0m6 0h0m-7 1h0m4 1h0m2 0h0m1 0h0m-6 2h0m4 0h0m2 0h0m4 0h0m-5 1h0m3 0h0m-6 1h0m2 1h0m2 0h0m6 1h0m0 1h0m-1 2h0m-8 2h0m3 1h0m-2 1h0m4 1h0m2 2h0m-5 1h0m3 0h0m-6 1h0m7 0h0m-2 2h0m0 1h0m-5 1h0m-1 1h0m4 1h0m4 1h0m-4 3h0m3 0h0m-7 1h0m2 1h0m4 0h0m-5 1h0m-1 1h0m2 0h0m2 0h0m-4 1h0m3 0h0m4 1h0m-7 4h0m3 1h0m2 1h0m-3 1h0m3 0h0m1 0h0m-2 2h0m0 1h0m-2 1h0m3 0h0m-3 2h0m2 0h0m-1 1h0m1 0h0m-3 1h0m2 1h0m1 0h0m0 3h0m0 1h0m-2 1h0m1 0h0m1 0h0m-3 1h0m2 0h0" stroke="#7f7f7f" stroke-width="2.6" stroke-linecap="square"/><path transform="scale(.5)" d="M868 423h0m0 1h0m0 1h0m-20 6h0m19 0h0m-19 5h0m0 3h0m18 0h0m0 1h0m-1 1h0m-16 2h0m16 1h0m-1 4h0m0 2h0m-15 2h0m15 2h0m-14 2h0m13 1h0m-1 9h0m0 1h0m-1 2h0m0 2h0m-10 1h0m10 0h0m-10 3h0m10 0h0m-1 4h0m0 2h0m-8 9h0m5 11h0m-1 3h0m-3 1h0m0 2h0m3 0h0m0 1h0" stroke="#e01818" stroke-width="2.6" stroke-linecap="square"/></g><text transform="translate(45.2,301.9) scale(0.695,1)" font-size="7.4" fill="#111" font-weight="bold">CD150</text><line x1="62.5" y1="299.1" x2="498.9" y2="299.1" stroke="#1a1a1a" stroke-width="0.9"/><polygon points="501.6,299.1 498.4,297.5 498.4,300.7" fill="#1a1a1a"/><text transform="translate(21.5,278.7) rotate(-90) scale(0.618,1)" font-size="7.4" fill="#111" font-weight="bold">CD48</text><line x1="18.8" y1="264" x2="18.8" y2="188.1" stroke="#1a1a1a" stroke-width="0.8"/><polygon points="18.8,185.4 17.2,188.6 20.4,188.6" fill="#1a1a1a"/><rect x="44.8" y="184.6" width="95" height="94.6" fill="none" stroke="#111" stroke-width="1"/><line x1="75.4" y1="184.6" x2="75.4" y2="279.2" stroke="#222" stroke-width="0.8"/><line x1="44.8" y1="208.2" x2="139.8" y2="208.2" stroke="#222" stroke-width="0.8"/><text transform="translate(48.2,193.6)" font-size="7.6" fill="#e3161c">6.96</text><text transform="translate(136.8,193.6)" font-size="7.6" fill="#e3161c" text-anchor="end">3.85</text><text transform="translate(48.4,265.4)" font-size="7.6" fill="#8c8c8c">99.5</text><text transform="translate(48.2,275)" font-size="7.6" fill="#e3161c">79.1</text><text transform="translate(136.8,275)" font-size="7.6" fill="#e3161c" text-anchor="end">10.1</text><rect x="167.4" y="184.6" width="95" height="94.6" fill="none" stroke="#111" stroke-width="1"/><line x1="198.2" y1="184.6" x2="198.2" y2="279.2" stroke="#222" stroke-width="0.8"/><line x1="167.4" y1="208.2" x2="262.4" y2="208.2" stroke="#222" stroke-width="0.8"/><text transform="translate(170.8,193.6)" font-size="7.6" fill="#e3161c">27.5</text><text transform="translate(259.4,193.6)" font-size="7.6" fill="#e3161c" text-anchor="end">6.61</text><text transform="translate(171,265.4)" font-size="7.6" fill="#8c8c8c">99.8</text><text transform="translate(170.8,275)" font-size="7.6" fill="#e3161c">59.5</text><text transform="translate(259.4,275)" font-size="7.6" fill="#e3161c" text-anchor="end">6.34</text><rect x="287.6" y="184.6" width="95" height="94.6" fill="none" stroke="#111" stroke-width="1"/><line x1="317.4" y1="184.6" x2="317.4" y2="279.2" stroke="#222" stroke-width="0.8"/><line x1="287.6" y1="208.2" x2="382.6" y2="208.2" stroke="#222" stroke-width="0.8"/><text transform="translate(291,193.6)" font-size="7.6" fill="#e3161c">35.8</text><text transform="translate(379.6,193.6)" font-size="7.6" fill="#e3161c" text-anchor="end">12.8</text><text transform="translate(291.2,265.4)" font-size="7.6" fill="#8c8c8c">99.1</text><text transform="translate(291,275)" font-size="7.6" fill="#e3161c">43.0</text><text transform="translate(379.6,275)" font-size="7.6" fill="#e3161c" text-anchor="end">8.36</text><rect x="406.2" y="184.6" width="95" height="94.6" fill="none" stroke="#111" stroke-width="1"/><line x1="437.4" y1="184.6" x2="437.4" y2="279.2" stroke="#222" stroke-width="0.8"/><line x1="406.2" y1="208.2" x2="501.2" y2="208.2" stroke="#222" stroke-width="0.8"/><text transform="translate(409.6,193.6)" font-size="7.6" fill="#e3161c">54.4</text><text transform="translate(498.2,193.6)" font-size="7.6" fill="#e3161c" text-anchor="end">21.8</text><text transform="translate(409.8,265.4)" font-size="7.6" fill="#8c8c8c">95.4</text><text transform="translate(409.6,275)" font-size="7.6" fill="#e3161c">20.6</text><text transform="translate(498.2,275)" font-size="7.6" fill="#e3161c" text-anchor="end">3.26</text><text transform="translate(46.4,205.8)" font-size="5.8" fill="#333">HPC-1</text><text transform="translate(46.4,215.4)" font-size="5.8" fill="#333">MPP</text><text transform="translate(138,205.8)" font-size="5.8" fill="#333" text-anchor="end">HPC-2</text><text transform="translate(138,215.8)" font-size="5.8" fill="#333" text-anchor="end">HSC</text><text transform="translate(6.3,318.4)" font-size="10.6" font-weight="bold">D</text><text transform="translate(89.6,322.2)" font-size="7.6" fill="#222" text-anchor="middle">Live/Singlets</text><text x="45.8" y="339.5" font-size="5.6" fill="#333" text-anchor="end">10<tspan dy="-2.52" font-size="3.36">6</tspan></text><text x="45.8" y="354.6" font-size="5.6" fill="#333" text-anchor="end">10<tspan dy="-2.52" font-size="3.36">5</tspan></text><text x="45.8" y="371.4" font-size="5.6" fill="#333" text-anchor="end">10<tspan dy="-2.52" font-size="3.36">4</tspan></text><text transform="translate(44.5,386.9)" font-size="4.6" fill="#333" text-anchor="end">0</text><text x="45.8" y="407" font-size="5.6" fill="#333" text-anchor="end">−10<tspan dy="-2.52" font-size="3.36">4</tspan></text><path d="M49.6 337.7h-1.8M49.6 352.8h-1.8M49.6 369.6h-1.8M49.6 385.1h-1.8M49.6 405.2h-1.8" stroke="#000" stroke-width="0.7"/><path d="M49.6 387.33h-1M49.6 389.57h-1M49.6 391.8h-1M49.6 394.03h-1M49.6 396.27h-1M49.6 398.5h-1M49.6 400.73h-1M49.6 402.97h-1M49.6 405.2h-1M49.6 385.1h-1M49.6 383.38h-1M49.6 381.66h-1M49.6 379.93h-1M49.6 378.21h-1M49.6 376.49h-1M49.6 374.77h-1M49.6 373.04h-1M49.6 371.32h-1M49.6 369.6h-1M49.6 364.54h-1M49.6 361.58h-1M49.6 359.49h-1M49.6 357.86h-1M49.6 356.53h-1M49.6 355.4h-1M49.6 354.43h-1M49.6 353.57h-1M49.6 348.25h-1M49.6 345.6h-1M49.6 343.71h-1M49.6 342.25h-1M49.6 341.05h-1M49.6 340.04h-1M49.6 339.16h-1M49.6 338.39h-1" stroke="#000" stroke-width="0.45"/><path d="M70.57 407.5v1M68.43 407.5v1M66.3 407.5v1M64.17 407.5v1M62.03 407.5v1M59.9 407.5v1M57.77 407.5v1M55.63 407.5v1M53.5 407.5v1M72.7 407.5v1M74.2 407.5v1M75.7 407.5v1M77.2 407.5v1M78.7 407.5v1M80.2 407.5v1M81.7 407.5v1M83.2 407.5v1M84.7 407.5v1M86.2 407.5v1M91.98 407.5v1M95.36 407.5v1M97.76 407.5v1M99.62 407.5v1M101.14 407.5v1M102.43 407.5v1M103.54 407.5v1M104.52 407.5v1M110.04 407.5v1M112.75 407.5v1M114.67 407.5v1M116.16 407.5v1M117.38 407.5v1M118.41 407.5v1M119.31 407.5v1M120.1 407.5v1" stroke="#000" stroke-width="0.45"/><text x="53.5" y="418.5" font-size="5.6" fill="#333" text-anchor="middle">−10<tspan dy="-2.52" font-size="3.36">4</tspan></text><text x="86.2" y="418.5" font-size="5.6" fill="#333" text-anchor="middle">10<tspan dy="-2.52" font-size="3.36">4</tspan></text><text x="105.4" y="418.5" font-size="5.6" fill="#333" text-anchor="middle">10<tspan dy="-2.52" font-size="3.36">5</tspan></text><text x="120.8" y="418.5" font-size="5.6" fill="#333" text-anchor="middle">10<tspan dy="-2.52" font-size="3.36">6</tspan></text><text transform="translate(72.7,418.5)" font-size="4.6" fill="#333" text-anchor="middle">0</text><path d="M53.5 407.5v1.5M72.7 407.5v1.5M86.2 407.5v1.5M105.4 407.5v1.5M120.8 407.5v1.5" stroke="#000" stroke-width="0.6"/><text x="45.8" y="449.5" font-size="5.6" fill="#333" text-anchor="end">10<tspan dy="-2.52" font-size="3.36">6</tspan></text><text x="45.8" y="464.6" font-size="5.6" fill="#333" text-anchor="end">10<tspan dy="-2.52" font-size="3.36">5</tspan></text><text x="45.8" y="481.4" font-size="5.6" fill="#333" text-anchor="end">10<tspan dy="-2.52" font-size="3.36">4</tspan></text><text transform="translate(44.5,496.9)" font-size="4.6" fill="#333" text-anchor="end">0</text><text x="45.8" y="517" font-size="5.6" fill="#333" text-anchor="end">−10<tspan dy="-2.52" font-size="3.36">4</tspan></text><path d="M49.6 447.7h-1.8M49.6 462.8h-1.8M49.6 479.6h-1.8M49.6 495.1h-1.8M49.6 515.2h-1.8" stroke="#000" stroke-width="0.7"/><path d="M49.6 497.33h-1M49.6 499.57h-1M49.6 501.8h-1M49.6 504.03h-1M49.6 506.27h-1M49.6 508.5h-1M49.6 510.73h-1M49.6 512.97h-1M49.6 515.2h-1M49.6 495.1h-1M49.6 493.38h-1M49.6 491.66h-1M49.6 489.93h-1M49.6 488.21h-1M49.6 486.49h-1M49.6 484.77h-1M49.6 483.04h-1M49.6 481.32h-1M49.6 479.6h-1M49.6 474.54h-1M49.6 471.58h-1M49.6 469.49h-1M49.6 467.86h-1M49.6 466.53h-1M49.6 465.4h-1M49.6 464.43h-1M49.6 463.57h-1M49.6 458.25h-1M49.6 455.6h-1M49.6 453.71h-1M49.6 452.25h-1M49.6 451.05h-1M49.6 450.04h-1M49.6 449.16h-1M49.6 448.39h-1" stroke="#000" stroke-width="0.45"/><path d="M70.57 517v1M68.43 517v1M66.3 517v1M64.17 517v1M62.03 517v1M59.9 517v1M57.77 517v1M55.63 517v1M53.5 517v1M72.7 517v1M74.2 517v1M75.7 517v1M77.2 517v1M78.7 517v1M80.2 517v1M81.7 517v1M83.2 517v1M84.7 517v1M86.2 517v1M91.98 517v1M95.36 517v1M97.76 517v1M99.62 517v1M101.14 517v1M102.43 517v1M103.54 517v1M104.52 517v1M110.04 517v1M112.75 517v1M114.67 517v1M116.16 517v1M117.38 517v1M118.41 517v1M119.31 517v1M120.1 517v1" stroke="#000" stroke-width="0.45"/><text x="53.5" y="528" font-size="5.6" fill="#333" text-anchor="middle">−10<tspan dy="-2.52" font-size="3.36">4</tspan></text><text x="86.2" y="528" font-size="5.6" fill="#333" text-anchor="middle">10<tspan dy="-2.52" font-size="3.36">4</tspan></text><text x="105.4" y="528" font-size="5.6" fill="#333" text-anchor="middle">10<tspan dy="-2.52" font-size="3.36">5</tspan></text><text x="120.8" y="528" font-size="5.6" fill="#333" text-anchor="middle">10<tspan dy="-2.52" font-size="3.36">6</tspan></text><text transform="translate(72.7,528)" font-size="4.6" fill="#333" text-anchor="middle">0</text><path d="M53.5 517v1.5M72.7 517v1.5M86.2 517v1.5M105.4 517v1.5M120.8 517v1.5" stroke="#000" stroke-width="0.6"/><text transform="translate(48.7,430) scale(0.629,1)" font-size="7.4" fill="#111" font-weight="bold">VECAD</text><line x1="65.2" y1="427.3" x2="126.9" y2="427.3" stroke="#1a1a1a" stroke-width="0.8"/><polygon points="129.6,427.3 126.4,425.7 126.4,428.9" fill="#1a1a1a"/><text transform="translate(48.7,539.8) scale(0.629,1)" font-size="7.4" fill="#111" font-weight="bold">VECAD</text><line x1="65.2" y1="537.1" x2="126.9" y2="537.1" stroke="#1a1a1a" stroke-width="0.8"/><polygon points="129.6,537.1 126.4,535.5 126.4,538.7" fill="#1a1a1a"/><text transform="translate(27.6,408) rotate(-90) scale(0.698,1)" font-size="7.4" fill="#111" font-weight="bold">CD45</text><line x1="24.8" y1="390" x2="24.8" y2="330.1" stroke="#1a1a1a" stroke-width="0.8"/><polygon points="24.8,327.4 23.2,330.6 26.4,330.6" fill="#1a1a1a"/><text transform="translate(27.6,516.6) rotate(-90) scale(0.692,1)" font-size="7.4" fill="#111" font-weight="bold">CD45</text><line x1="24.8" y1="500" x2="24.8" y2="440.1" stroke="#1a1a1a" stroke-width="0.8"/><polygon points="24.8,437.4 23.2,440.6 26.4,440.6" fill="#1a1a1a"/><text transform="translate(15.2,367.75) rotate(-90) scale(0.86,1)" font-size="5.8" fill="#3a78c0" text-anchor="middle" font-weight="bold">Adherent</text><text transform="translate(14.6,468.5) rotate(-90) scale(0.843,1)" font-size="5.8" fill="#d8334c" text-anchor="middle" font-weight="bold">Suspension</text><g filter="url(#bl)"><path transform="scale(.5)" d="M198 658h0m-60 3h0m43 0h0m3 1h0m40 0h0m-62 2h0m33 0h0m18 0h0m4 0h0m-45 1h0m19 0h0m16 0h0m20 0h0m19 0h0m-71 1h0m2 0h0m2 0h0m58 0h0m-100 1h0m37 0h0m19 0h0m9 0h0m-68 1h0m22 0h0m52 0h0m8 0h0m5 0h0m-87 1h0m30 0h0m51 0h0m-78 1h0m21 0h0m95 0h0m-122 1h0m17 0h0m1 0h0m80 0h0m-91 1h0m7 0h0m75 0h0m2 0h0m9 0h0m-9 1h0m-90 1h0m-8 1h0m115 0h0m-110 1h0m-7 1h0m107 1h0m6 0h0m-125 1h0m-1 1h0m10 0h0m114 0h0m3 0h0m6 0h0m-123 1h0m130 1h0m-9 1h0m-1 1h0m-131 2h0m11 0h0m119 0h0m2 0h0m-136 1h0m11 0h0m127 1h0m7 0h0m1 0h0m-10 1h0m-121 1h0m-8 1h0m8 0h0m119 0h0m2 1h0m-5 1h0m9 0h0m-132 1h0m4 0h0m131 0h0m-144 1h0m14 0h0m129 0h0m-8 2h0m-129 1h0m130 2h0m2 1h0m-135 1h0m135 0h0m-7 1h0m-122 1h0m4 0h0m123 0h0m1 0h0m-6 1h0m9 0h0m8 0h0m-13 1h0m-118 1h0m116 0h0m6 0h0m-12 1h0m17 0h0m3 0h0m-20 1h0m2 0h0m-4 1h0m4 0h0m6 1h0m15 0h0m-20 1h0m-114 1h0m2 0h0m71 1h0m36 0h0m2 0h0m15 0h0m-124 1h0m49 0h0m21 0h0m-21 1h0m4 0h0m2 0h0m60 0h0m-62 1h0m50 0h0m17 0h0m1 0h0m11 0h0m-131 1h0m66 0h0m22 0h0m13 0h0m4 0h0m-54 1h0m11 0h0m24 0h0m23 0h0m-108 1h0m61 0h0m27 0h0m4 0h0m2 0h0m5 0h0m8 0h0m2 0h0m-41 1h0m7 0h0m1 0h0m17 0h0m18 0h0m-66 1h0m20 0h0m4 0h0m10 0h0m9 0h0m8 0h0m7 0h0m4 0h0m-116 1h0m10 0h0m52 0h0m19 0h0m16 0h0m23 0h0m-67 1h0m15 0h0m4 0h0m22 0h0m4 0h0m3 0h0m3 0h0m30 0h0m-136 1h0m62 0h0m48 0h0m9 0h0m5 0h0m-61 1h0m14 0h0m18 0h0m11 0h0m4 0h0m28 0h0m-126 1h0m2 0h0m83 0h0m24 0h0m-55 1h0m17 0h0m8 0h0m6 0h0m4 0h0m3 0h0m7 0h0m5 0h0m6 0h0m-59 1h0m29 0h0m19 0h0m1 0h0m5 0h0m-120 1h0m14 0h0m62 0h0m12 0h0m11 0h0m7 0h0m17 0h0m-104 1h0m44 0h0m1 0h0m7 0h0m8 0h0m51 0h0m13 0h0m-138 1h0m62 0h0m7 0h0m11 0h0m1 0h0m4 0h0m-76 1h0m62 0h0m3 1h0m-72 1h0m61 0h0m72 0h0m-123 1h0m-8 1h0m-6 1h0m6 0h0m57 0h0m64 0h0m-123 1h0m127 1h0m-137 1h0m8 1h0m135 1h0m-146 1h0m4 0h0m135 0h0m5 0h0m-139 1h0m-5 2h0m146 0h0m-6 1h0m8 0h0m-147 1h0m145 2h0m-1 1h0m5 0h0m-3 2h0m-148 2h0m152 0h0m-152 1h0m145 1h0m7 0h0m-151 1h0m-1 1h0m147 1h0m-147 2h0m1 0h0m145 0h0m6 0h0m-6 1h0m2 1h0m0 4h0m2 1h0m-5 3h0m0 4h0m0 1h0m0 1h0m-4 3h0m4 0h0m-4 1h0m3 0h0m-7 1h0m2 0h0m5 0h0m-143 2h0m141 0h0m-15 1h0m1 0h0m9 0h0m0 1h0m-138 1h0m4 1h0m96 0h0m44 0h0m-74 1h0m29 0h0m3 0h0m16 0h0m2 0h0m10 0h0m-27 1h0m2 0h0m1 0h0m24 0h0m-129 1h0m64 0h0m5 0h0m12 0h0m12 0h0m11 0h0m4 0h0m20 0h0m-124 1h0m71 0h0m12 0h0m3 0h0m20 0h0m32 0h0m-76 1h0m8 0h0m4 0h0m12 0h0m-27 1h0m16 0h0m11 0h0m-83 1h0m73 0h0m12 0h0m6 0h0m-93 1h0m66 0h0m32 0h0m-96 1h0m103 0h0m2 1h0m-108 1h0m99 0h0m23 0h0m-123 1h0m58 0h0m4 0h0m20 0h0m1 1h0m1 0h0m32 0h0m-57 1h0m53 0h0m21 0h0m-128 1h0m4 0h0m112 0h0m-119 1h0m129 0h0m-119 2h0m3 1h0m4 0h0m97 0h0m-105 1h0m44 0h0m-38 1h0m7 0h0m46 0h0m4 0h0m38 0h0m-112 1h0m6 0h0m2 0h0m22 0h0m4 0h0m30 0h0m64 0h0m-116 1h0m27 1h0" stroke="#9a94dc" stroke-width="2.4" stroke-linecap="square"/><path transform="scale(.5)" d="M177 668h0m2 0h0m16 0h0m-26 1h0m29 0h0m2 0h0m1 0h0m11 0h0m-45 1h0m1 0h0m12 0h0m2 0h0m4 0h0m3 0h0m8 0h0m2 0h0m8 0h0m3 0h0m-50 1h0m13 0h0m1 0h0m6 0h0m1 0h0m3 0h0m5 0h0m7 0h0m1 0h0m4 0h0m2 0h0m3 0h0m5 0h0m-63 1h0m10 0h0m10 0h0m5 0h0m1 0h0m2 0h0m1 0h0m5 0h0m2 0h0m2 0h0m7 0h0m8 0h0m10 0h0m-74 1h0m2 0h0m26 0h0m3 0h0m1 0h0m3 0h0m9 0h0m3 0h0m1 0h0m3 0h0m5 0h0m8 0h0m2 0h0m6 0h0m1 0h0m1 0h0m2 0h0m1 0h0m-78 1h0m4 0h0m3 0h0m1 0h0m2 0h0m2 0h0m3 0h0m2 0h0m7 0h0m7 0h0m7 0h0m12 0h0m2 0h0m16 0h0m1 0h0m3 0h0m14 0h0m-83 1h0m11 0h0m2 0h0m9 0h0m2 0h0m2 0h0m6 0h0m3 0h0m10 0h0m2 0h0m1 0h0m32 0h0m-83 1h0m5 0h0m7 0h0m1 0h0m1 0h0m4 0h0m15 0h0m9 0h0m1 0h0m2 0h0m33 0h0m6 0h0m6 0h0m-99 1h0m5 0h0m5 0h0m11 0h0m2 0h0m2 0h0m60 0h0m5 0h0m3 0h0m1 0h0m-84 1h0m3 0h0m4 0h0m69 0h0m13 0h0m-102 1h0m2 0h0m3 0h0m4 0h0m3 0h0m3 0h0m3 0h0m72 0h0m9 0h0m1 0h0m1 0h0m1 0h0m-96 1h0m3 0h0m5 0h0m89 0h0m1 0h0m3 0h0m2 0h0m-110 1h0m9 0h0m85 0h0m2 0h0m4 0h0m10 0h0m-108 1h0m1 0h0m92 0h0m2 0h0m1 0h0m2 0h0m11 0h0m-109 1h0m2 0h0m96 0h0m1 0h0m4 0h0m-106 1h0m1 0h0m2 0h0m98 0h0m2 0h0m7 0h0m-113 1h0m111 0h0m2 0h0m3 0h0m-9 1h0m2 0h0m4 0h0m-109 1h0m1 0h0m107 0h0m-110 1h0m1 0h0m110 0h0m-108 1h0m104 0h0m4 0h0m3 0h0m-5 1h0m1 0h0m1 0h0m3 0h0m-111 1h0m109 0h0m-110 1h0m1 0h0m110 0h0m-7 1h0m-106 1h0m3 0h0m104 0h0m3 0h0m1 0h0m-4 1h0m-104 1h0m101 0h0m7 0h0m-3 1h0m1 0h0m-8 1h0m3 0h0m8 0h0m-113 1h0m1 0h0m3 0h0m99 0h0m8 0h0m-113 1h0m2 0h0m2 0h0m103 0h0m1 0h0m1 0h0m-105 1h0m98 0h0m3 0h0m1 0h0m1 0h0m2 0h0m2 0h0m2 0h0m2 0h0m-112 1h0m1 0h0m1 0h0m96 0h0m5 0h0m2 0h0m2 0h0m2 0h0m-112 1h0m89 0h0m4 0h0m4 0h0m4 0h0m2 0h0m2 0h0m6 0h0m-108 1h0m57 0h0m19 0h0m11 0h0m2 0h0m1 0h0m1 0h0m5 0h0m1 0h0m3 0h0m6 0h0m-103 1h0m49 0h0m5 0h0m1 0h0m17 0h0m3 0h0m4 0h0m1 0h0m6 0h0m1 0h0m5 0h0m7 0h0m-100 1h0m47 0h0m1 0h0m3 0h0m10 0h0m8 0h0m2 0h0m3 0h0m14 0h0m4 0h0m2 0h0m1 0h0m6 0h0m1 0h0m1 0h0m-102 1h0m48 0h0m4 0h0m9 0h0m1 0h0m11 0h0m4 0h0m4 0h0m3 0h0m4 0h0m6 0h0m5 0h0m6 0h0m-105 1h0m38 0h0m4 0h0m2 0h0m2 0h0m20 0h0m9 0h0m5 0h0m2 0h0m4 0h0m12 0h0m-96 1h0m35 0h0m1 0h0m1 0h0m2 0h0m14 0h0m1 0h0m2 0h0m1 0h0m1 0h0m7 0h0m3 0h0m1 0h0m3 0h0m12 0h0m5 0h0m4 0h0m-58 1h0m2 0h0m1 0h0m4 0h0m4 0h0m6 0h0m1 0h0m1 0h0m8 0h0m14 0h0m1 0h0m2 0h0m1 0h0m2 0h0m1 0h0m3 0h0m4 0h0m8 0h0m-99 1h0m38 0h0m5 0h0m2 0h0m10 0h0m2 0h0m2 0h0m8 0h0m15 0h0m2 0h0m7 0h0m4 0h0m-94 1h0m45 0h0m2 0h0m8 0h0m3 0h0m9 0h0m8 0h0m2 0h0m5 0h0m12 0h0m1 0h0m2 0h0m-100 1h0m1 0h0m2 0h0m1 0h0m34 0h0m12 0h0m6 0h0m1 0h0m1 0h0m3 0h0m3 0h0m11 0h0m1 0h0m3 0h0m7 0h0m2 0h0m2 0h0m4 0h0m3 0h0m-61 1h0m2 0h0m16 0h0m6 0h0m16 0h0m8 0h0m6 0h0m4 0h0m1 0h0m2 0h0m-94 1h0m35 0h0m2 0h0m22 0h0m9 0h0m7 0h0m15 0h0m2 0h0m-95 1h0m38 0h0m2 0h0m22 0h0m14 0h0m13 0h0m1 0h0m4 0h0m-88 1h0m35 0h0m18 0h0m2 0h0m10 0h0m-65 1h0m33 0h0m25 0h0m7 0h0m1 0h0m1 0h0m1 0h0m2 0h0m15 0h0m-83 1h0m67 0h0m-71 1h0m3 1h0m32 0h0m2 0h0m32 0h0m-69 1h0m1 0h0m1 0h0m2 0h0m31 0h0m1 0h0m-35 1h0m38 0h0m-33 2h0m29 0h0m-30 1h0m31 1h0m-31 1h0m1 0h0m4 0h0m26 0h0m-32 1h0m33 0h0m-33 1h0m4 0h0m1 0h0m28 0h0m2 0h0m1 0h0m-3 1h0m4 0h0m52 0h0m3 0h0m4 0h0m-95 1h0m34 0h0m38 0h0m14 0h0m6 0h0m8 0h0m-105 1h0m1 0h0m6 0h0m3 0h0m32 0h0m11 0h0m21 0h0m2 0h0m11 0h0m2 0h0m1 0h0m14 0h0m2 0h0m-101 1h0m1 0h0m2 0h0m33 0h0m13 0h0m12 0h0m4 0h0m4 0h0m1 0h0m1 0h0m9 0h0m2 0h0m7 0h0m3 0h0m2 0h0m3 0h0m3 0h0m1 0h0m-103 1h0m4 0h0m3 0h0m1 0h0m24 0h0m3 0h0m4 0h0m21 0h0m9 0h0m5 0h0m5 0h0m8 0h0m2 0h0m4 0h0m1 0h0m1 0h0m6 0h0m-102 1h0m48 0h0m5 0h0m3 0h0m3 0h0m7 0h0m8 0h0m9 0h0m2 0h0m14 0h0m3 0h0m1 0h0m4 0h0m-96 1h0m26 0h0m18 0h0m1 0h0m1 0h0m1 0h0m5 0h0m8 0h0m3 0h0m2 0h0m8 0h0m7 0h0m3 0h0m3 0h0m1 0h0m7 0h0m-96 1h0m2 0h0m19 0h0m9 0h0m2 0h0m2 0h0m3 0h0m4 0h0m1 0h0m2 0h0m9 0h0m2 0h0m1 0h0m1 0h0m4 0h0m8 0h0m11 0h0m1 0h0m10 0h0m3 0h0m1 0h0m-114 1h0m1 0h0m9 0h0m1 0h0m1 0h0m10 0h0m15 0h0m15 0h0m15 0h0m7 0h0m1 0h0m1 0h0m1 0h0m22 0h0m14 0h0m2 0h0m-115 1h0m1 0h0m2 0h0m11 0h0m2 0h0m4 0h0m2 0h0m15 0h0m11 0h0m12 0h0m3 0h0m1 0h0m3 0h0m8 0h0m38 0h0m1 0h0m6 0h0m-115 1h0m1 0h0m1 0h0m10 0h0m2 0h0m1 0h0m6 0h0m1 0h0m3 0h0m4 0h0m7 0h0m2 0h0m3 0h0m2 0h0m4 0h0m9 0h0m2 0h0m7 0h0m1 0h0m48 0h0m1 0h0m-124 1h0m5 0h0m6 0h0m5 0h0m1 0h0m6 0h0m2 0h0m4 0h0m1 0h0m6 0h0m2 0h0m2 0h0m11 0h0m1 0h0m1 0h0m5 0h0m10 0h0m3 0h0m1 0h0m1 0h0m7 0h0m41 0h0m-113 1h0m8 0h0m5 0h0m1 0h0m3 0h0m1 0h0m5 0h0m3 0h0m2 0h0m2 0h0m4 0h0m6 0h0m7 0h0m1 0h0m3 0h0m7 0h0m5 0h0m52 0h0m1 0h0m-125 1h0m3 0h0m6 0h0m2 0h0m1 0h0m2 0h0m8 0h0m2 0h0m5 0h0m2 0h0m4 0h0m10 0h0m10 0h0m4 0h0m1 0h0m4 0h0m4 0h0m4 0h0m1 0h0m-59 1h0m7 0h0m4 0h0m1 0h0m3 0h0m5 0h0m6 0h0m10 0h0m2 0h0m1 0h0m2 0h0m5 0h0m5 0h0m-66 1h0m2 0h0m2 0h0m2 0h0m1 0h0m1 0h0m9 0h0m9 0h0m4 0h0m6 0h0m1 0h0m10 0h0m7 0h0m2 0h0m3 0h0m1 0h0m2 0h0m2 0h0m64 0h0m-128 1h0m22 0h0m12 0h0m3 0h0m2 0h0m4 0h0m10 0h0m2 0h0m-53 1h0m4 0h0m24 0h0m5 0h0m1 0h0m10 0h0m4 0h0m2 0h0m1 0h0m2 0h0m70 0h0m-129 1h0m49 0h0m2 0h0m3 0h0m2 0h0m5 0h0m-65 1h0m2 0h0m9 0h0m44 0h0m3 0h0m3 0h0m-55 1h0m130 0h0m4 0h0m-140 1h0m1 0h0m1 0h0m3 0h0m136 0h0m-138 1h0m4 0h0m130 0h0m3 0h0m-134 1h0m-5 1h0m1 0h0m5 0h0m2 0h0m128 0h0m3 0h0m-138 1h0m1 0h0m3 0h0m1 0h0m-5 1h0m2 0h0m3 0h0m132 0h0m-134 1h0m135 0h0m-138 1h0m3 0h0m132 1h0m-137 1h0m4 1h0m-3 2h0m139 0h0m-137 1h0m-5 1h0m4 0h0m-4 1h0m1 0h0m1 0h0m141 0h0m-2 1h0m-142 1h0m1 0h0m2 0h0m2 0h0m135 0h0m-141 1h0m5 0h0m138 0h0m-142 1h0m141 0h0m-142 1h0m2 0h0m1 0h0m138 0h0m-136 1h0m-4 1h0m1 0h0m140 0h0m3 0h0m-145 1h0m139 1h0m3 0h0m-142 1h0m1 0h0m4 0h0m1 0h0m-4 1h0m1 0h0m1 0h0m0 1h0m130 0h0m1 0h0m1 0h0m-136 1h0m2 0h0m133 0h0m3 0h0m-136 1h0m1 0h0m82 0h0m2 0h0m4 0h0m1 0h0m39 0h0m2 0h0m-131 1h0m2 0h0m1 0h0m2 0h0m81 0h0m6 0h0m2 0h0m1 0h0m31 0h0m-53 1h0m3 0h0m2 0h0m3 0h0m10 0h0m3 0h0m1 0h0m4 0h0m5 0h0m22 0h0m1 0h0m6 0h0m-132 1h0m81 0h0m10 0h0m2 0h0m4 0h0m1 0h0m6 0h0m10 0h0m6 0h0m9 0h0m7 0h0m-133 1h0m61 0h0m5 0h0m1 0h0m4 0h0m2 0h0m4 0h0m6 0h0m6 0h0m1 0h0m8 0h0m3 0h0m3 0h0m3 0h0m2 0h0m3 0h0m4 0h0m3 0h0m6 0h0m-65 1h0m8 0h0m2 0h0m34 0h0m1 0h0m5 0h0m7 0h0m2 0h0m-122 1h0m3 0h0m61 0h0m1 0h0m5 0h0m3 0h0m2 0h0m2 0h0m1 0h0m4 0h0m4 0h0m4 0h0m1 0h0m4 0h0m1 0h0m5 0h0m3 0h0m2 0h0m2 0h0m1 0h0m7 0h0m-111 1h0m55 0h0m9 0h0m6 0h0m5 0h0m3 0h0m4 0h0m3 0h0m11 0h0m6 0h0m4 0h0m2 0h0m2 0h0m1 0h0m-109 1h0m53 0h0m6 0h0m9 0h0m1 0h0m17 0h0m9 0h0m4 0h0m13 0h0m-114 1h0m71 0h0m-19 1h0m19 0h0m1 0h0m-72 1h0m1 0h0m4 0h0m49 0h0m1 0h0m19 0h0m23 0h0m-96 2h0m5 0h0m2 1h0m-7 1h0m2 0h0m4 0h0m43 0h0m-49 1h0m12 0h0m39 0h0m1 0h0m1 0h0m-52 1h0m4 0h0m4 0h0m3 0h0m11 0h0m-14 1h0m1 0h0m39 0h0m-41 1h0m5 0h0m4 0h0m-7 1h0m2 0h0m10 0h0m2 0h0m25 0h0m-44 1h0m1 0h0m7 0h0m3 0h0m1 0h0m2 0h0m1 0h0m5 0h0m1 0h0m-19 1h0m2 0h0m2 0h0m2 0h0m9 0h0m1 0h0m2 0h0m2 0h0m20 0h0m-34 1h0m14 0h0m3 0h0m17 0h0m2 0h0m-34 1h0m1 0h0m4 0h0m11 0h0m14 0h0m1 0h0m-38 1h0m2 0h0m1 0h0m4 0h0m2 0h0m6 0h0m2 0h0m3 0h0m2 0h0m-13 1h0m3 0h0m5 0h0m3 0h0m1 0h0m2 0h0m3 0h0m9 0h0m-28 1h0m4 0h0m4 0h0m11 0h0m14 0h0m-27 1h0m3 0h0m4 0h0m3 0h0m9 0h0m6 0h0m2 0h0m-13 1h0m7 0h0m1 0h0m-13 1h0m2 0h0m4 0h0m3 0h0m1 0h0m1 0h0m-8 1h0m3 0h0" stroke="#5a4bb8" stroke-width="2.4" stroke-linecap="square"/><path transform="scale(.5)" d="M193 673h0m3 0h0m-3 1h0m3 0h0m1 0h0m1 0h0m3 0h0m3 0h0m-45 1h0m3 0h0m32 0h0m2 0h0m1 0h0m1 0h0m-37 1h0m1 0h0m9 0h0m10 0h0m2 0h0m6 0h0m2 0h0m3 0h0m1 0h0m1 0h0m1 0h0m3 0h0m3 0h0m2 0h0m1 0h0m2 0h0m1 0h0m2 0h0m-56 1h0m1 0h0m1 0h0m1 0h0m2 0h0m1 0h0m6 0h0m4 0h0m3 0h0m4 0h0m3 0h0m3 0h0m3 0h0m2 0h0m1 0h0m3 0h0m2 0h0m2 0h0m1 0h0m1 0h0m3 0h0m4 0h0m1 0h0m2 0h0m1 0h0m-57 1h0m2 0h0m3 0h0m2 0h0m1 0h0m5 0h0m1 0h0m1 0h0m3 0h0m1 0h0m9 0h0m7 0h0m6 0h0m1 0h0m1 0h0m1 0h0m2 0h0m1 0h0m1 0h0m4 0h0m1 0h0m2 0h0m3 0h0m-65 1h0m1 0h0m2 0h0m2 0h0m5 0h0m1 0h0m1 0h0m3 0h0m1 0h0m2 0h0m2 0h0m1 0h0m3 0h0m5 0h0m4 0h0m1 0h0m1 0h0m1 0h0m1 0h0m3 0h0m5 0h0m2 0h0m1 0h0m1 0h0m3 0h0m1 0h0m3 0h0m4 0h0m8 0h0m-75 1h0m8 0h0m2 0h0m2 0h0m8 0h0m2 0h0m1 0h0m1 0h0m1 0h0m1 0h0m1 0h0m5 0h0m1 0h0m1 0h0m2 0h0m3 0h0m1 0h0m5 0h0m4 0h0m2 0h0m1 0h0m1 0h0m1 0h0m2 0h0m2 0h0m2 0h0m1 0h0m2 0h0m1 0h0m2 0h0m2 0h0m1 0h0m2 0h0m1 0h0m1 0h0m2 0h0m-80 1h0m7 0h0m3 0h0m1 0h0m3 0h0m4 0h0m3 0h0m1 0h0m2 0h0m7 0h0m1 0h0m1 0h0m1 0h0m3 0h0m1 0h0m1 0h0m1 0h0m3 0h0m1 0h0m1 0h0m4 0h0m1 0h0m1 0h0m1 0h0m2 0h0m1 0h0m1 0h0m1 0h0m3 0h0m2 0h0m2 0h0m1 0h0m1 0h0m3 0h0m1 0h0m3 0h0m7 0h0m1 0h0m1 0h0m-81 1h0m3 0h0m1 0h0m2 0h0m3 0h0m2 0h0m2 0h0m1 0h0m2 0h0m1 0h0m1 0h0m3 0h0m2 0h0m1 0h0m2 0h0m1 0h0m1 0h0m1 0h0m3 0h0m1 0h0m3 0h0m1 0h0m1 0h0m4 0h0m1 0h0m1 0h0m1 0h0m3 0h0m1 0h0m2 0h0m2 0h0m1 0h0m3 0h0m2 0h0m1 0h0m4 0h0m2 0h0m1 0h0m1 0h0m1 0h0m3 0h0m-78 1h0m1 0h0m2 0h0m1 0h0m2 0h0m2 0h0m1 0h0m1 0h0m1 0h0m5 0h0m2 0h0m3 0h0m1 0h0m1 0h0m1 0h0m1 0h0m3 0h0m3 0h0m3 0h0m2 0h0m2 0h0m1 0h0m1 0h0m1 0h0m2 0h0m2 0h0m2 0h0m1 0h0m1 0h0m2 0h0m3 0h0m2 0h0m1 0h0m1 0h0m2 0h0m1 0h0m1 0h0m2 0h0m1 0h0m2 0h0m2 0h0m1 0h0m3 0h0m1 0h0m1 0h0m1 0h0m3 0h0m2 0h0m1 0h0m2 0h0m2 0h0m-82 1h0m3 0h0m1 0h0m3 0h0m4 0h0m3 0h0m2 0h0m3 0h0m3 0h0m1 0h0m4 0h0m2 0h0m1 0h0m2 0h0m1 0h0m2 0h0m3 0h0m4 0h0m1 0h0m1 0h0m2 0h0m1 0h0m1 0h0m1 0h0m1 0h0m3 0h0m1 0h0m3 0h0m2 0h0m2 0h0m1 0h0m2 0h0m3 0h0m1 0h0m1 0h0m3 0h0m1 0h0m1 0h0m2 0h0m4 0h0m1 0h0m4 0h0m3 0h0m-94 1h0m1 0h0m2 0h0m1 0h0m5 0h0m1 0h0m3 0h0m3 0h0m3 0h0m1 0h0m2 0h0m1 0h0m1 0h0m1 0h0m1 0h0m1 0h0m2 0h0m1 0h0m1 0h0m2 0h0m1 0h0m3 0h0m2 0h0m4 0h0m2 0h0m4 0h0m3 0h0m1 0h0m1 0h0m3 0h0m3 0h0m2 0h0m5 0h0m1 0h0m1 0h0m1 0h0m3 0h0m1 0h0m5 0h0m1 0h0m2 0h0m2 0h0m8 0h0m1 0h0m-93 1h0m2 0h0m2 0h0m1 0h0m2 0h0m1 0h0m2 0h0m3 0h0m2 0h0m1 0h0m1 0h0m1 0h0m3 0h0m1 0h0m2 0h0m2 0h0m1 0h0m1 0h0m1 0h0m1 0h0m1 0h0m1 0h0m2 0h0m2 0h0m2 0h0m4 0h0m1 0h0m1 0h0m2 0h0m2 0h0m1 0h0m1 0h0m2 0h0m1 0h0m1 0h0m1 0h0m3 0h0m1 0h0m1 0h0m1 0h0m1 0h0m1 0h0m4 0h0m1 0h0m1 0h0m2 0h0m2 0h0m2 0h0m1 0h0m1 0h0m1 0h0m1 0h0m2 0h0m1 0h0m4 0h0m3 0h0m4 0h0m1 0h0m1 0h0m-93 1h0m3 0h0m2 0h0m1 0h0m2 0h0m1 0h0m1 0h0m2 0h0m1 0h0m1 0h0m1 0h0m1 0h0m2 0h0m1 0h0m1 0h0m1 0h0m1 0h0m1 0h0m1 0h0m1 0h0m1 0h0m1 0h0m2 0h0m1 0h0m1 0h0m1 0h0m2 0h0m1 0h0m2 0h0m1 0h0m3 0h0m2 0h0m5 0h0m1 0h0m2 0h0m1 0h0m1 0h0m2 0h0m1 0h0m2 0h0m1 0h0m1 0h0m1 0h0m1 0h0m1 0h0m1 0h0m1 0h0m1 0h0m1 0h0m3 0h0m2 0h0m2 0h0m2 0h0m1 0h0m1 0h0m3 0h0m1 0h0m2 0h0m2 0h0m5 0h0m2 0h0m1 0h0m-97 1h0m4 0h0m1 0h0m1 0h0m3 0h0m1 0h0m1 0h0m2 0h0m1 0h0m1 0h0m1 0h0m1 0h0m2 0h0m1 0h0m3 0h0m1 0h0m1 0h0m2 0h0m2 0h0m3 0h0m3 0h0m1 0h0m1 0h0m1 0h0m1 0h0m2 0h0m3 0h0m1 0h0m2 0h0m2 0h0m1 0h0m2 0h0m1 0h0m1 0h0m1 0h0m1 0h0m1 0h0m2 0h0m1 0h0m1 0h0m1 0h0m1 0h0m1 0h0m1 0h0m4 0h0m1 0h0m1 0h0m2 0h0m4 0h0m6 0h0m2 0h0m1 0h0m1 0h0m1 0h0m1 0h0m1 0h0m3 0h0m1 0h0m2 0h0m2 0h0m-98 1h0m4 0h0m1 0h0m1 0h0m2 0h0m1 0h0m2 0h0m2 0h0m1 0h0m1 0h0m1 0h0m1 0h0m1 0h0m1 0h0m2 0h0m1 0h0m1 0h0m1 0h0m1 0h0m2 0h0m3 0h0m1 0h0m1 0h0m1 0h0m1 0h0m1 0h0m1 0h0m1 0h0m2 0h0m1 0h0m1 0h0m2 0h0m1 0h0m2 0h0m1 0h0m1 0h0m1 0h0m3 0h0m1 0h0m1 0h0m1 0h0m2 0h0m1 0h0m1 0h0m1 0h0m1 0h0m1 0h0m1 0h0m1 0h0m1 0h0m1 0h0m2 0h0m1 0h0m1 0h0m3 0h0m2 0h0m1 0h0m1 0h0m1 0h0m3 0h0m2 0h0m2 0h0m1 0h0m8 0h0m2 0h0m2 0h0m1 0h0m1 0h0m-99 1h0m3 0h0m1 0h0m1 0h0m2 0h0m3 0h0m1 0h0m1 0h0m1 0h0m1 0h0m1 0h0m1 0h0m1 0h0m5 0h0m1 0h0m1 0h0m1 0h0m1 0h0m1 0h0m2 0h0m1 0h0m3 0h0m1 0h0m1 0h0m1 0h0m2 0h0m1 0h0m1 0h0m2 0h0m1 0h0m1 0h0m2 0h0m2 0h0m1 0h0m2 0h0m2 0h0m1 0h0m1 0h0m2 0h0m1 0h0m2 0h0m2 0h0m1 0h0m1 0h0m2 0h0m1 0h0m1 0h0m1 0h0m1 0h0m1 0h0m3 0h0m1 0h0m1 0h0m1 0h0m1 0h0m5 0h0m1 0h0m2 0h0m1 0h0m1 0h0m1 0h0m1 0h0m1 0h0m1 0h0m1 0h0m1 0h0m1 0h0m3 0h0m-100 1h0m6 0h0m1 0h0m1 0h0m1 0h0m1 0h0m1 0h0m2 0h0m3 0h0m8 0h0m1 0h0m1 0h0m3 0h0m2 0h0m1 0h0m2 0h0m1 0h0m2 0h0m1 0h0m1 0h0m1 0h0m1 0h0m2 0h0m3 0h0m3 0h0m1 0h0m1 0h0m1 0h0m1 0h0m1 0h0m2 0h0m1 0h0m2 0h0m2 0h0m1 0h0m2 0h0m2 0h0m2 0h0m1 0h0m1 0h0m1 0h0m1 0h0m1 0h0m2 0h0m1 0h0m1 0h0m1 0h0m2 0h0m2 0h0m2 0h0m1 0h0m2 0h0m4 0h0m1 0h0m3 0h0m1 0h0m1 0h0m1 0h0m3 0h0m1 0h0m-99 1h0m3 0h0m1 0h0m1 0h0m1 0h0m2 0h0m13 0h0m1 0h0m1 0h0m3 0h0m1 0h0m1 0h0m1 0h0m1 0h0m1 0h0m3 0h0m2 0h0m1 0h0m2 0h0m3 0h0m2 0h0m1 0h0m1 0h0m1 0h0m1 0h0m1 0h0m1 0h0m1 0h0m1 0h0m2 0h0m4 0h0m1 0h0m1 0h0m1 0h0m1 0h0m2 0h0m3 0h0m2 0h0m1 0h0m1 0h0m1 0h0m1 0h0m1 0h0m1 0h0m1 0h0m2 0h0m2 0h0m1 0h0m1 0h0m6 0h0m1 0h0m1 0h0m6 0h0m2 0h0m1 0h0m-102 1h0m1 0h0m1 0h0m2 0h0m1 0h0m1 0h0m1 0h0m4 0h0m1 0h0m1 0h0m10 0h0m1 0h0m1 0h0m1 0h0m2 0h0m1 0h0m1 0h0m1 0h0m1 0h0m1 0h0m1 0h0m2 0h0m1 0h0m1 0h0m3 0h0m1 0h0m1 0h0m2 0h0m1 0h0m2 0h0m2 0h0m1 0h0m1 0h0m2 0h0m1 0h0m1 0h0m1 0h0m1 0h0m2 0h0m2 0h0m1 0h0m2 0h0m2 0h0m1 0h0m1 0h0m1 0h0m1 0h0m1 0h0m1 0h0m5 0h0m1 0h0m1 0h0m2 0h0m1 0h0m1 0h0m2 0h0m1 0h0m1 0h0m2 0h0m1 0h0m2 0h0m1 0h0m1 0h0m1 0h0m1 0h0m2 0h0m1 0h0m1 0h0m-101 1h0m1 0h0m2 0h0m2 0h0m1 0h0m1 0h0m1 0h0m1 0h0m1 0h0m1 0h0m1 0h0m9 0h0m2 0h0m1 0h0m1 0h0m1 0h0m3 0h0m2 0h0m3 0h0m1 0h0m1 0h0m4 0h0m1 0h0m1 0h0m1 0h0m1 0h0m2 0h0m2 0h0m2 0h0m1 0h0m2 0h0m1 0h0m4 0h0m2 0h0m1 0h0m1 0h0m2 0h0m1 0h0m3 0h0m1 0h0m1 0h0m1 0h0m2 0h0m2 0h0m3 0h0m1 0h0m2 0h0m2 0h0m3 0h0m1 0h0m3 0h0m1 0h0m2 0h0m4 0h0m-97 1h0m1 0h0m3 0h0m2 0h0m1 0h0m2 0h0m1 0h0m1 0h0m1 0h0m1 0h0m6 0h0m2 0h0m1 0h0m3 0h0m1 0h0m1 0h0m1 0h0m1 0h0m1 0h0m3 0h0m3 0h0m1 0h0m4 0h0m1 0h0m3 0h0m2 0h0m2 0h0m1 0h0m2 0h0m1 0h0m2 0h0m4 0h0m1 0h0m1 0h0m3 0h0m1 0h0m1 0h0m1 0h0m2 0h0m1 0h0m2 0h0m1 0h0m3 0h0m1 0h0m1 0h0m4 0h0m2 0h0m5 0h0m8 0h0m-97 1h0m3 0h0m1 0h0m1 0h0m1 0h0m2 0h0m2 0h0m1 0h0m1 0h0m2 0h0m4 0h0m1 0h0m1 0h0m1 0h0m5 0h0m1 0h0m2 0h0m3 0h0m2 0h0m1 0h0m4 0h0m2 0h0m1 0h0m1 0h0m2 0h0m1 0h0m1 0h0m1 0h0m2 0h0m1 0h0m3 0h0m1 0h0m1 0h0m1 0h0m1 0h0m2 0h0m2 0h0m2 0h0m2 0h0m3 0h0m3 0h0m1 0h0m1 0h0m1 0h0m1 0h0m1 0h0m4 0h0m3 0h0m3 0h0m2 0h0m1 0h0m1 0h0m2 0h0m-92 1h0m2 0h0m2 0h0m2 0h0m1 0h0m1 0h0m1 0h0m1 0h0m2 0h0m1 0h0m2 0h0m1 0h0m2 0h0m1 0h0m2 0h0m1 0h0m1 0h0m1 0h0m3 0h0m1 0h0m1 0h0m1 0h0m3 0h0m1 0h0m1 0h0m2 0h0m2 0h0m1 0h0m1 0h0m2 0h0m2 0h0m1 0h0m1 0h0m2 0h0m1 0h0m1 0h0m1 0h0m3 0h0m1 0h0m1 0h0m1 0h0m1 0h0m1 0h0m2 0h0m2 0h0m5 0h0m1 0h0m1 0h0m4 0h0m6 0h0m1 0h0m1 0h0m1 0h0m1 0h0m1 0h0m2 0h0m2 0h0m1 0h0m1 0h0m2 0h0m-91 1h0m4 0h0m3 0h0m1 0h0m1 0h0m1 0h0m2 0h0m1 0h0m1 0h0m1 0h0m1 0h0m1 0h0m1 0h0m1 0h0m1 0h0m4 0h0m1 0h0m2 0h0m2 0h0m1 0h0m1 0h0m3 0h0m1 0h0m2 0h0m3 0h0m2 0h0m1 0h0m1 0h0m3 0h0m3 0h0m3 0h0m2 0h0m3 0h0m1 0h0m2 0h0m2 0h0m3 0h0m2 0h0m1 0h0m1 0h0m1 0h0m3 0h0m2 0h0m1 0h0m2 0h0m1 0h0m1 0h0m4 0h0m3 0h0m1 0h0m1 0h0m-96 1h0m1 0h0m3 0h0m2 0h0m3 0h0m2 0h0m1 0h0m1 0h0m2 0h0m1 0h0m1 0h0m1 0h0m2 0h0m1 0h0m1 0h0m2 0h0m1 0h0m1 0h0m1 0h0m3 0h0m1 0h0m1 0h0m1 0h0m3 0h0m2 0h0m1 0h0m1 0h0m2 0h0m4 0h0m1 0h0m2 0h0m3 0h0m1 0h0m2 0h0m1 0h0m3 0h0m5 0h0m2 0h0m1 0h0m1 0h0m1 0h0m1 0h0m2 0h0m2 0h0m1 0h0m2 0h0m4 0h0m11 0h0m1 0h0m5 0h0m-93 1h0m1 0h0m2 0h0m1 0h0m1 0h0m1 0h0m1 0h0m1 0h0m3 0h0m1 0h0m1 0h0m2 0h0m1 0h0m1 0h0m1 0h0m1 0h0m1 0h0m4 0h0m2 0h0m1 0h0m2 0h0m3 0h0m1 0h0m1 0h0m1 0h0m3 0h0m2 0h0m1 0h0m3 0h0m1 0h0m1 0h0m1 0h0m1 0h0m4 0h0m2 0h0m3 0h0m1 0h0m3 0h0m2 0h0m3 0h0m3 0h0m3 0h0m1 0h0m1 0h0m2 0h0m1 0h0m1 0h0m1 0h0m1 0h0m5 0h0m1 0h0m3 0h0m1 0h0m1 0h0m-94 1h0m3 0h0m2 0h0m1 0h0m1 0h0m1 0h0m1 0h0m2 0h0m1 0h0m1 0h0m1 0h0m4 0h0m1 0h0m2 0h0m1 0h0m1 0h0m2 0h0m7 0h0m1 0h0m3 0h0m3 0h0m1 0h0m2 0h0m2 0h0m1 0h0m1 0h0m1 0h0m3 0h0m1 0h0m1 0h0m3 0h0m1 0h0m1 0h0m4 0h0m1 0h0m1 0h0m1 0h0m1 0h0m1 0h0m1 0h0m1 0h0m1 0h0m3 0h0m3 0h0m1 0h0m2 0h0m1 0h0m1 0h0m1 0h0m4 0h0m2 0h0m-84 1h0m2 0h0m2 0h0m1 0h0m1 0h0m1 0h0m1 0h0m4 0h0m1 0h0m1 0h0m1 0h0m2 0h0m2 0h0m6 0h0m1 0h0m1 0h0m1 0h0m2 0h0m1 0h0m2 0h0m3 0h0m7 0h0m2 0h0m1 0h0m5 0h0m2 0h0m1 0h0m2 0h0m1 0h0m2 0h0m2 0h0m3 0h0m2 0h0m6 0h0m3 0h0m2 0h0m2 0h0m5 0h0m4 0h0m2 0h0m-93 1h0m1 0h0m3 0h0m1 0h0m1 0h0m2 0h0m1 0h0m1 0h0m2 0h0m1 0h0m4 0h0m2 0h0m1 0h0m1 0h0m1 0h0m1 0h0m4 0h0m3 0h0m1 0h0m3 0h0m1 0h0m1 0h0m2 0h0m2 0h0m1 0h0m1 0h0m1 0h0m9 0h0m4 0h0m1 0h0m8 0h0m3 0h0m4 0h0m2 0h0m1 0h0m-74 1h0m2 0h0m1 0h0m1 0h0m2 0h0m2 0h0m1 0h0m5 0h0m2 0h0m2 0h0m2 0h0m1 0h0m3 0h0m4 0h0m1 0h0m3 0h0m4 0h0m7 0h0m2 0h0m11 0h0m1 0h0m4 0h0m1 0h0m4 0h0m1 0h0m4 0h0m5 0h0m-75 1h0m1 0h0m2 0h0m3 0h0m2 0h0m1 0h0m1 0h0m2 0h0m2 0h0m1 0h0m2 0h0m1 0h0m1 0h0m2 0h0m1 0h0m7 0h0m1 0h0m4 0h0m1 0h0m2 0h0m2 0h0m20 0h0m1 0h0m1 0h0m1 0h0m3 0h0m1 0h0m3 0h0m-71 1h0m3 0h0m3 0h0m1 0h0m3 0h0m3 0h0m1 0h0m1 0h0m1 0h0m1 0h0m1 0h0m1 0h0m1 0h0m1 0h0m1 0h0m3 0h0m3 0h0m8 0h0m1 0h0m1 0h0m24 0h0m1 0h0m1 0h0m1 0h0m-62 1h0m1 0h0m2 0h0m2 0h0m1 0h0m1 0h0m1 0h0m1 0h0m1 0h0m2 0h0m2 0h0m1 0h0m1 0h0m1 0h0m1 0h0m1 0h0m1 0h0m2 0h0m4 0h0m5 0h0m4 0h0m24 0h0m-58 1h0m2 0h0m2 0h0m1 0h0m2 0h0m5 0h0m1 0h0m2 0h0m2 0h0m3 0h0m1 0h0m1 0h0m1 0h0m4 0h0m4 0h0m-33 1h0m3 0h0m1 0h0m1 0h0m2 0h0m2 0h0m1 0h0m1 0h0m2 0h0m2 0h0m2 0h0m1 0h0m5 0h0m3 0h0m4 0h0m-30 1h0m2 0h0m2 0h0m1 0h0m3 0h0m1 0h0m1 0h0m1 0h0m1 0h0m2 0h0m1 0h0m1 0h0m1 0h0m5 0h0m4 0h0m4 0h0m-30 1h0m8 0h0m1 0h0m2 0h0m1 0h0m1 0h0m1 0h0m5 0h0m1 0h0m2 0h0m4 0h0m2 0h0m2 0h0m-29 1h0m1 0h0m3 0h0m2 0h0m1 0h0m1 0h0m2 0h0m3 0h0m1 0h0m1 0h0m1 0h0m2 0h0m4 0h0m5 0h0m1 0h0m-28 1h0m4 0h0m1 0h0m1 0h0m2 0h0m1 0h0m1 0h0m3 0h0m3 0h0m1 0h0m1 0h0m2 0h0m2 0h0m1 0h0m2 0h0m1 0h0m3 0h0m-26 1h0m6 0h0m1 0h0m4 0h0m1 0h0m1 0h0m4 0h0m1 0h0m2 0h0m1 0h0m2 0h0m-25 1h0m3 0h0m1 0h0m2 0h0m5 0h0m4 0h0m1 0h0m5 0h0m1 0h0m1 0h0m1 0h0m2 0h0m-21 1h0m1 0h0m6 0h0m1 0h0m1 0h0m1 0h0m1 0h0m2 0h0m3 0h0m-17 1h0m1 0h0m2 0h0m1 0h0m2 0h0m2 0h0m3 0h0m2 0h0m1 0h0m1 0h0m1 0h0m1 0h0m5 0h0m1 0h0m-25 1h0m2 0h0m1 0h0m6 0h0m3 0h0m2 0h0m3 0h0m3 0h0m7 0h0m2 0h0m-27 1h0m2 0h0m3 0h0m2 0h0m2 0h0m4 0h0m1 0h0m1 0h0m1 0h0m2 0h0m2 0h0m3 0h0m1 0h0m-25 1h0m1 0h0m3 0h0m1 0h0m1 0h0m1 0h0m4 0h0m1 0h0m4 0h0m2 0h0m2 0h0m2 0h0m4 0h0m1 0h0m2 0h0m-27 1h0m1 0h0m1 0h0m2 0h0m1 0h0m1 0h0m2 0h0m2 0h0m1 0h0m2 0h0m1 0h0m1 0h0m4 0h0m2 0h0m1 0h0m1 0h0m1 0h0m1 0h0m-25 1h0m1 0h0m4 0h0m1 0h0m1 0h0m1 0h0m1 0h0m2 0h0m3 0h0m2 0h0m1 0h0m3 0h0m1 0h0m1 0h0m-22 1h0m2 0h0m1 0h0m4 0h0m4 0h0m2 0h0m1 0h0m1 0h0m2 0h0m2 0h0m1 0h0m2 0h0m1 0h0m3 0h0m1 0h0m-26 1h0m4 0h0m1 0h0m1 0h0m1 0h0m2 0h0m2 0h0m2 0h0m1 0h0m2 0h0m2 0h0m5 0h0m1 0h0m-23 1h0m3 0h0m1 0h0m1 0h0m2 0h0m4 0h0m3 0h0m1 0h0m3 0h0m1 0h0m1 0h0m1 0h0m2 0h0m-21 1h0m2 0h0m1 0h0m2 0h0m4 0h0m2 0h0m1 0h0m1 0h0m1 0h0m1 0h0m1 0h0m1 0h0m1 0h0m5 0h0m-24 1h0m2 0h0m1 0h0m5 0h0m2 0h0m1 0h0m1 0h0m2 0h0m4 0h0m1 0h0m5 0h0m1 0h0m-21 1h0m6 0h0m1 0h0m5 0h0m1 0h0m7 0h0m1 0h0m-24 1h0m5 0h0m1 0h0m1 0h0m1 0h0m1 0h0m1 0h0m1 0h0m1 0h0m2 0h0m1 0h0m1 0h0m1 0h0m5 0h0m1 0h0m-20 1h0m2 0h0m1 0h0m1 0h0m1 0h0m2 0h0m1 0h0m1 0h0m2 0h0m1 0h0m2 0h0m1 0h0m1 0h0m3 0h0m2 0h0m-23 1h0m1 0h0m1 0h0m5 0h0m1 0h0m1 0h0m1 0h0m1 0h0m1 0h0m1 0h0m1 0h0m1 0h0m2 0h0m2 0h0m-19 1h0m1 0h0m2 0h0m2 0h0m2 0h0m1 0h0m3 0h0m2 0h0m1 0h0m1 0h0m2 0h0m1 0h0m1 0h0m-16 1h0m5 0h0m1 0h0m1 0h0m1 0h0m1 0h0m1 0h0m1 0h0m2 0h0m4 0h0m1 0h0m2 0h0m-23 1h0m4 0h0m3 0h0m2 0h0m2 0h0m2 0h0m1 0h0m1 0h0m2 0h0m2 0h0m1 0h0m-16 1h0m5 0h0m6 0h0m1 0h0m2 0h0m2 0h0m1 0h0m1 0h0m-20 1h0m4 0h0m1 0h0m3 0h0m2 0h0m2 0h0m2 0h0m2 0h0m-15 1h0m5 0h0m3 0h0m2 0h0m7 0h0m-16 1h0m2 0h0m3 0h0m2 0h0m3 0h0m1 0h0m3 0h0m47 0h0m5 0h0m5 0h0m7 0h0m4 0h0m-83 1h0m1 0h0m3 0h0m3 0h0m1 0h0m4 0h0m48 0h0m4 0h0m3 0h0m7 0h0m1 0h0m2 0h0m2 0h0m1 0h0m7 0h0m-84 1h0m53 0h0m2 0h0m3 0h0m4 0h0m1 0h0m1 0h0m1 0h0m2 0h0m6 0h0m1 0h0m3 0h0m3 0h0m1 0h0m2 0h0m-29 1h0m1 0h0m1 0h0m1 0h0m3 0h0m3 0h0m1 0h0m1 0h0m1 0h0m1 0h0m1 0h0m3 0h0m4 0h0m1 0h0m2 0h0m4 0h0m-33 1h0m2 0h0m2 0h0m2 0h0m1 0h0m2 0h0m2 0h0m1 0h0m2 0h0m3 0h0m4 0h0m8 0h0m1 0h0m2 0h0m1 0h0m1 0h0m3 0h0m1 0h0m1 0h0m1 0h0m-39 1h0m2 0h0m1 0h0m2 0h0m4 0h0m2 0h0m2 0h0m2 0h0m4 0h0m5 0h0m5 0h0m1 0h0m2 0h0m2 0h0m3 0h0m-106 1h0m69 0h0m4 0h0m2 0h0m2 0h0m7 0h0m4 0h0m1 0h0m2 0h0m1 0h0m1 0h0m1 0h0m3 0h0m5 0h0m2 0h0m4 0h0m-109 1h0m1 0h0m71 0h0m1 0h0m1 0h0m1 0h0m1 0h0m2 0h0m1 0h0m3 0h0m1 0h0m4 0h0m7 0h0m1 0h0m1 0h0m2 0h0m3 0h0m2 0h0m4 0h0m2 0h0m2 0h0m-110 1h0m53 0h0m2 0h0m3 0h0m7 0h0m1 0h0m2 0h0m2 0h0m1 0h0m1 0h0m1 0h0m4 0h0m2 0h0m3 0h0m1 0h0m1 0h0m2 0h0m1 0h0m1 0h0m3 0h0m1 0h0m1 0h0m4 0h0m1 0h0m3 0h0m1 0h0m1 0h0m1 0h0m2 0h0m1 0h0m1 0h0m1 0h0m-109 1h0m6 0h0m1 0h0m3 0h0m14 0h0m30 0h0m1 0h0m1 0h0m2 0h0m1 0h0m1 0h0m2 0h0m2 0h0m1 0h0m1 0h0m1 0h0m1 0h0m1 0h0m2 0h0m3 0h0m1 0h0m3 0h0m1 0h0m1 0h0m1 0h0m1 0h0m3 0h0m1 0h0m1 0h0m5 0h0m2 0h0m1 0h0m1 0h0m3 0h0m3 0h0m1 0h0m1 0h0m1 0h0m1 0h0m1 0h0m1 0h0m1 0h0m-112 1h0m3 0h0m1 0h0m4 0h0m1 0h0m3 0h0m5 0h0m11 0h0m2 0h0m1 0h0m22 0h0m2 0h0m1 0h0m3 0h0m1 0h0m1 0h0m2 0h0m4 0h0m3 0h0m2 0h0m5 0h0m1 0h0m1 0h0m1 0h0m2 0h0m3 0h0m1 0h0m2 0h0m2 0h0m1 0h0m1 0h0m3 0h0m1 0h0m1 0h0m2 0h0m2 0h0m2 0h0m1 0h0m1 0h0m8 0h0m-116 1h0m1 0h0m1 0h0m4 0h0m3 0h0m1 0h0m2 0h0m2 0h0m8 0h0m8 0h0m2 0h0m2 0h0m1 0h0m20 0h0m4 0h0m3 0h0m1 0h0m2 0h0m2 0h0m3 0h0m1 0h0m4 0h0m5 0h0m2 0h0m2 0h0m7 0h0m1 0h0m1 0h0m1 0h0m1 0h0m4 0h0m4 0h0m2 0h0m3 0h0m1 0h0m1 0h0m2 0h0m1 0h0m-115 1h0m1 0h0m2 0h0m1 0h0m1 0h0m5 0h0m1 0h0m3 0h0m4 0h0m1 0h0m1 0h0m2 0h0m13 0h0m2 0h0m1 0h0m15 0h0m3 0h0m1 0h0m1 0h0m1 0h0m4 0h0m1 0h0m2 0h0m1 0h0m8 0h0m1 0h0m2 0h0m1 0h0m2 0h0m1 0h0m1 0h0m1 0h0m2 0h0m1 0h0m1 0h0m1 0h0m1 0h0m1 0h0m1 0h0m1 0h0m4 0h0m1 0h0m3 0h0m1 0h0m1 0h0m1 0h0m1 0h0m2 0h0m5 0h0m1 0h0m3 0h0m1 0h0m2 0h0m-118 1h0m3 0h0m2 0h0m3 0h0m3 0h0m2 0h0m1 0h0m1 0h0m4 0h0m1 0h0m4 0h0m1 0h0m5 0h0m3 0h0m3 0h0m6 0h0m9 0h0m1 0h0m4 0h0m4 0h0m1 0h0m2 0h0m1 0h0m2 0h0m1 0h0m1 0h0m1 0h0m1 0h0m3 0h0m2 0h0m1 0h0m3 0h0m1 0h0m2 0h0m1 0h0m1 0h0m1 0h0m1 0h0m1 0h0m2 0h0m1 0h0m1 0h0m1 0h0m2 0h0m1 0h0m1 0h0m1 0h0m2 0h0m1 0h0m2 0h0m1 0h0m1 0h0m1 0h0m2 0h0m1 0h0m1 0h0m5 0h0m2 0h0m2 0h0m2 0h0m-121 1h0m4 0h0m1 0h0m1 0h0m2 0h0m1 0h0m1 0h0m5 0h0m1 0h0m1 0h0m1 0h0m1 0h0m1 0h0m1 0h0m1 0h0m1 0h0m8 0h0m3 0h0m1 0h0m1 0h0m1 0h0m5 0h0m1 0h0m3 0h0m7 0h0m2 0h0m4 0h0m1 0h0m2 0h0m1 0h0m2 0h0m1 0h0m1 0h0m3 0h0m1 0h0m2 0h0m3 0h0m4 0h0m3 0h0m4 0h0m2 0h0m1 0h0m1 0h0m2 0h0m1 0h0m1 0h0m2 0h0m1 0h0m2 0h0m1 0h0m2 0h0m1 0h0m2 0h0m1 0h0m2 0h0m1 0h0m3 0h0m1 0h0m7 0h0m1 0h0m-123 1h0m2 0h0m1 0h0m3 0h0m1 0h0m1 0h0m2 0h0m7 0h0m1 0h0m1 0h0m1 0h0m2 0h0m1 0h0m1 0h0m1 0h0m1 0h0m3 0h0m1 0h0m1 0h0m1 0h0m2 0h0m9 0h0m1 0h0m3 0h0m2 0h0m4 0h0m2 0h0m5 0h0m3 0h0m3 0h0m1 0h0m2 0h0m5 0h0m1 0h0m1 0h0m3 0h0m1 0h0m1 0h0m2 0h0m3 0h0m1 0h0m1 0h0m1 0h0m1 0h0m2 0h0m1 0h0m1 0h0m1 0h0m2 0h0m1 0h0m1 0h0m2 0h0m1 0h0m2 0h0m2 0h0m1 0h0m1 0h0m1 0h0m1 0h0m2 0h0m1 0h0m2 0h0m2 0h0m3 0h0m1 0h0m2 0h0m-121 1h0m5 0h0m1 0h0m4 0h0m1 0h0m3 0h0m1 0h0m1 0h0m1 0h0m3 0h0m1 0h0m1 0h0m1 0h0m1 0h0m2 0h0m3 0h0m1 0h0m1 0h0m3 0h0m1 0h0m1 0h0m1 0h0m1 0h0m8 0h0m2 0h0m1 0h0m1 0h0m1 0h0m2 0h0m5 0h0m1 0h0m1 0h0m1 0h0m1 0h0m1 0h0m1 0h0m2 0h0m1 0h0m1 0h0m1 0h0m3 0h0m2 0h0m1 0h0m1 0h0m3 0h0m1 0h0m2 0h0m1 0h0m1 0h0m1 0h0m1 0h0m1 0h0m2 0h0m1 0h0m1 0h0m1 0h0m4 0h0m4 0h0m2 0h0m2 0h0m1 0h0m1 0h0m1 0h0m1 0h0m1 0h0m1 0h0m1 0h0m1 0h0m1 0h0m1 0h0m1 0h0m1 0h0m1 0h0m-117 1h0m1 0h0m3 0h0m1 0h0m4 0h0m1 0h0m2 0h0m1 0h0m1 0h0m1 0h0m2 0h0m2 0h0m1 0h0m1 0h0m1 0h0m4 0h0m2 0h0m2 0h0m1 0h0m2 0h0m1 0h0m1 0h0m2 0h0m4 0h0m1 0h0m4 0h0m1 0h0m2 0h0m3 0h0m3 0h0m1 0h0m1 0h0m1 0h0m1 0h0m2 0h0m1 0h0m2 0h0m2 0h0m1 0h0m5 0h0m1 0h0m1 0h0m1 0h0m1 0h0m3 0h0m1 0h0m1 0h0m3 0h0m1 0h0m1 0h0m1 0h0m1 0h0m1 0h0m2 0h0m1 0h0m1 0h0m2 0h0m3 0h0m2 0h0m2 0h0m6 0h0m3 0h0m1 0h0m1 0h0m2 0h0m1 0h0m1 0h0m1 0h0m1 0h0m1 0h0m-126 1h0m4 0h0m1 0h0m2 0h0m1 0h0m1 0h0m1 0h0m2 0h0m1 0h0m1 0h0m2 0h0m1 0h0m1 0h0m1 0h0m2 0h0m3 0h0m1 0h0m3 0h0m1 0h0m2 0h0m2 0h0m2 0h0m1 0h0m1 0h0m1 0h0m1 0h0m1 0h0m1 0h0m1 0h0m1 0h0m1 0h0m3 0h0m6 0h0m1 0h0m3 0h0m2 0h0m1 0h0m5 0h0m1 0h0m4 0h0m1 0h0m1 0h0m1 0h0m1 0h0m1 0h0m2 0h0m2 0h0m2 0h0m1 0h0m2 0h0m3 0h0m1 0h0m1 0h0m1 0h0m1 0h0m1 0h0m4 0h0m1 0h0m1 0h0m1 0h0m1 0h0m1 0h0m1 0h0m1 0h0m2 0h0m1 0h0m9 0h0m4 0h0m2 0h0m1 0h0m1 0h0m2 0h0m-126 1h0m5 0h0m1 0h0m1 0h0m2 0h0m2 0h0m2 0h0m2 0h0m1 0h0m2 0h0m4 0h0m7 0h0m1 0h0m2 0h0m2 0h0m1 0h0m1 0h0m6 0h0m4 0h0m2 0h0m1 0h0m1 0h0m5 0h0m1 0h0m1 0h0m1 0h0m7 0h0m2 0h0m5 0h0m1 0h0m1 0h0m4 0h0m1 0h0m2 0h0m1 0h0m1 0h0m1 0h0m1 0h0m1 0h0m1 0h0m1 0h0m1 0h0m1 0h0m1 0h0m1 0h0m1 0h0m1 0h0m1 0h0m3 0h0m2 0h0m1 0h0m1 0h0m2 0h0m1 0h0m11 0h0m1 0h0m1 0h0m2 0h0m1 0h0m1 0h0m1 0h0m1 0h0m2 0h0m2 0h0m-127 1h0m3 0h0m1 0h0m2 0h0m1 0h0m1 0h0m4 0h0m1 0h0m2 0h0m2 0h0m2 0h0m21 0h0m1 0h0m3 0h0m5 0h0m6 0h0m1 0h0m3 0h0m4 0h0m5 0h0m2 0h0m1 0h0m1 0h0m1 0h0m1 0h0m1 0h0m2 0h0m1 0h0m1 0h0m1 0h0m1 0h0m1 0h0m1 0h0m2 0h0m1 0h0m4 0h0m1 0h0m1 0h0m2 0h0m1 0h0m1 0h0m2 0h0m1 0h0m2 0h0m1 0h0m12 0h0m1 0h0m1 0h0m4 0h0m1 0h0m1 0h0m1 0h0m3 0h0m2 0h0m-125 1h0m3 0h0m1 0h0m2 0h0m1 0h0m3 0h0m1 0h0m1 0h0m2 0h0m26 0h0m1 0h0m1 0h0m3 0h0m1 0h0m6 0h0m1 0h0m1 0h0m1 0h0m1 0h0m1 0h0m2 0h0m1 0h0m3 0h0m1 0h0m2 0h0m1 0h0m1 0h0m1 0h0m2 0h0m2 0h0m1 0h0m1 0h0m1 0h0m1 0h0m1 0h0m1 0h0m1 0h0m1 0h0m1 0h0m2 0h0m1 0h0m1 0h0m1 0h0m1 0h0m1 0h0m2 0h0m1 0h0m2 0h0m1 0h0m1 0h0m1 0h0m1 0h0m13 0h0m1 0h0m2 0h0m1 0h0m2 0h0m2 0h0m5 0h0m-129 1h0m1 0h0m2 0h0m5 0h0m1 0h0m1 0h0m1 0h0m1 0h0m2 0h0m1 0h0m30 0h0m2 0h0m3 0h0m2 0h0m1 0h0m1 0h0m1 0h0m1 0h0m1 0h0m3 0h0m1 0h0m1 0h0m2 0h0m2 0h0m1 0h0m1 0h0m2 0h0m1 0h0m1 0h0m1 0h0m1 0h0m1 0h0m1 0h0m1 0h0m2 0h0m2 0h0m1 0h0m3 0h0m1 0h0m2 0h0m1 0h0m1 0h0m3 0h0m1 0h0m3 0h0m1 0h0m1 0h0m2 0h0m1 0h0m1 0h0m13 0h0m1 0h0m2 0h0m1 0h0m2 0h0m2 0h0m1 0h0m4 0h0m-129 1h0m2 0h0m3 0h0m1 0h0m4 0h0m1 0h0m1 0h0m36 0h0m1 0h0m1 0h0m2 0h0m1 0h0m1 0h0m1 0h0m1 0h0m1 0h0m3 0h0m1 0h0m1 0h0m1 0h0m3 0h0m1 0h0m1 0h0m1 0h0m1 0h0m4 0h0m1 0h0m1 0h0m2 0h0m2 0h0m1 0h0m2 0h0m1 0h0m1 0h0m2 0h0m1 0h0m1 0h0m1 0h0m2 0h0m1 0h0m1 0h0m1 0h0m1 0h0m2 0h0m1 0h0m2 0h0m1 0h0m1 0h0m12 0h0m2 0h0m3 0h0m1 0h0m1 0h0m2 0h0m2 0h0m4 0h0m-130 1h0m1 0h0m3 0h0m1 0h0m1 0h0m1 0h0m1 0h0m1 0h0m1 0h0m1 0h0m38 0h0m1 0h0m2 0h0m1 0h0m1 0h0m1 0h0m2 0h0m2 0h0m2 0h0m2 0h0m1 0h0m5 0h0m1 0h0m2 0h0m2 0h0m1 0h0m1 0h0m1 0h0m1 0h0m1 0h0m3 0h0m1 0h0m1 0h0m3 0h0m1 0h0m1 0h0m1 0h0m2 0h0m1 0h0m1 0h0m1 0h0m1 0h0m2 0h0m1 0h0m2 0h0m1 0h0m1 0h0m13 0h0m1 0h0m1 0h0m1 0h0m3 0h0m1 0h0m2 0h0m3 0h0m-127 1h0m4 0h0m1 0h0m4 0h0m41 0h0m1 0h0m1 0h0m1 0h0m1 0h0m1 0h0m2 0h0m1 0h0m4 0h0m1 0h0m3 0h0m1 0h0m2 0h0m1 0h0m1 0h0m1 0h0m1 0h0m1 0h0m2 0h0m2 0h0m1 0h0m1 0h0m2 0h0m2 0h0m1 0h0m3 0h0m4 0h0m1 0h0m1 0h0m1 0h0m1 0h0m4 0h0m1 0h0m1 0h0m13 0h0m2 0h0m1 0h0m1 0h0m1 0h0m2 0h0m1 0h0m2 0h0m-126 1h0m3 0h0m1 0h0m1 0h0m1 0h0m2 0h0m1 0h0m1 0h0m41 0h0m2 0h0m1 0h0m1 0h0m2 0h0m3 0h0m1 0h0m3 0h0m2 0h0m1 0h0m1 0h0m1 0h0m3 0h0m1 0h0m1 0h0m2 0h0m3 0h0m1 0h0m1 0h0m1 0h0m2 0h0m1 0h0m1 0h0m1 0h0m1 0h0m1 0h0m2 0h0m1 0h0m1 0h0m2 0h0m1 0h0m1 0h0m1 0h0m1 0h0m1 0h0m2 0h0m1 0h0m1 0h0m1 0h0m9 0h0m1 0h0m1 0h0m1 0h0m1 0h0m1 0h0m2 0h0m1 0h0m2 0h0m2 0h0m3 0h0m1 0h0m-127 1h0m4 0h0m2 0h0m45 0h0m1 0h0m1 0h0m3 0h0m1 0h0m4 0h0m1 0h0m2 0h0m1 0h0m1 0h0m1 0h0m1 0h0m1 0h0m2 0h0m1 0h0m2 0h0m2 0h0m1 0h0m2 0h0m1 0h0m1 0h0m1 0h0m3 0h0m1 0h0m1 0h0m1 0h0m1 0h0m1 0h0m1 0h0m1 0h0m1 0h0m1 0h0m2 0h0m1 0h0m1 0h0m1 0h0m2 0h0m1 0h0m8 0h0m1 0h0m1 0h0m4 0h0m1 0h0m1 0h0m1 0h0m3 0h0m3 0h0m2 0h0m-125 1h0m1 0h0m1 0h0m49 0h0m1 0h0m1 0h0m1 0h0m1 0h0m1 0h0m2 0h0m4 0h0m1 0h0m3 0h0m3 0h0m2 0h0m1 0h0m1 0h0m2 0h0m2 0h0m1 0h0m1 0h0m3 0h0m1 0h0m1 0h0m1 0h0m1 0h0m1 0h0m1 0h0m2 0h0m1 0h0m1 0h0m2 0h0m1 0h0m3 0h0m1 0h0m1 0h0m1 0h0m1 0h0m1 0h0m4 0h0m1 0h0m1 0h0m1 0h0m1 0h0m1 0h0m1 0h0m1 0h0m3 0h0m1 0h0m1 0h0m1 0h0m1 0h0m1 0h0m2 0h0m1 0h0m-130 1h0m2 0h0m2 0h0m1 0h0m1 0h0m2 0h0m47 0h0m1 0h0m1 0h0m3 0h0m3 0h0m2 0h0m1 0h0m1 0h0m1 0h0m1 0h0m1 0h0m2 0h0m1 0h0m1 0h0m2 0h0m1 0h0m1 0h0m1 0h0m1 0h0m1 0h0m1 0h0m2 0h0m2 0h0m1 0h0m4 0h0m2 0h0m1 0h0m1 0h0m1 0h0m1 0h0m1 0h0m1 0h0m2 0h0m1 0h0m2 0h0m1 0h0m1 0h0m1 0h0m2 0h0m1 0h0m3 0h0m2 0h0m2 0h0m1 0h0m1 0h0m1 0h0m2 0h0m3 0h0m1 0h0m1 0h0m1 0h0m1 0h0m-131 1h0m1 0h0m2 0h0m2 0h0m2 0h0m1 0h0m50 0h0m1 0h0m1 0h0m2 0h0m1 0h0m2 0h0m1 0h0m1 0h0m2 0h0m1 0h0m1 0h0m1 0h0m1 0h0m2 0h0m1 0h0m3 0h0m1 0h0m1 0h0m1 0h0m4 0h0m2 0h0m2 0h0m1 0h0m1 0h0m1 0h0m1 0h0m1 0h0m1 0h0m1 0h0m1 0h0m1 0h0m1 0h0m1 0h0m1 0h0m3 0h0m1 0h0m2 0h0m4 0h0m1 0h0m2 0h0m2 0h0m1 0h0m1 0h0m1 0h0m2 0h0m2 0h0m1 0h0m1 0h0m1 0h0m-127 1h0m2 0h0m2 0h0m1 0h0m2 0h0m1 0h0m52 0h0m1 0h0m2 0h0m2 0h0m1 0h0m1 0h0m4 0h0m1 0h0m1 0h0m1 0h0m1 0h0m1 0h0m1 0h0m3 0h0m3 0h0m2 0h0m1 0h0m1 0h0m1 0h0m1 0h0m1 0h0m1 0h0m2 0h0m1 0h0m3 0h0m2 0h0m1 0h0m2 0h0m1 0h0m2 0h0m1 0h0m1 0h0m1 0h0m1 0h0m1 0h0m1 0h0m1 0h0m1 0h0m2 0h0m3 0h0m2 0h0m1 0h0m1 0h0m2 0h0m1 0h0m3 0h0m1 0h0m3 0h0m-133 1h0m5 0h0m1 0h0m1 0h0m1 0h0m2 0h0m50 0h0m1 0h0m1 0h0m1 0h0m3 0h0m1 0h0m2 0h0m1 0h0m1 0h0m2 0h0m1 0h0m1 0h0m2 0h0m3 0h0m2 0h0m1 0h0m3 0h0m1 0h0m1 0h0m2 0h0m2 0h0m1 0h0m1 0h0m3 0h0m1 0h0m3 0h0m3 0h0m2 0h0m2 0h0m1 0h0m1 0h0m1 0h0m1 0h0m1 0h0m2 0h0m1 0h0m2 0h0m1 0h0m4 0h0m1 0h0m5 0h0m3 0h0m1 0h0m-134 1h0m3 0h0m3 0h0m1 0h0m2 0h0m1 0h0m51 0h0m2 0h0m1 0h0m1 0h0m1 0h0m1 0h0m3 0h0m2 0h0m1 0h0m2 0h0m3 0h0m2 0h0m1 0h0m1 0h0m4 0h0m1 0h0m1 0h0m1 0h0m2 0h0m2 0h0m1 0h0m1 0h0m1 0h0m1 0h0m2 0h0m2 0h0m4 0h0m2 0h0m2 0h0m1 0h0m2 0h0m2 0h0m1 0h0m1 0h0m3 0h0m2 0h0m1 0h0m1 0h0m2 0h0m1 0h0m3 0h0m-129 1h0m3 0h0m3 0h0m3 0h0m1 0h0m1 0h0m50 0h0m1 0h0m1 0h0m1 0h0m2 0h0m1 0h0m3 0h0m1 0h0m1 0h0m2 0h0m2 0h0m4 0h0m1 0h0m1 0h0m1 0h0m1 0h0m1 0h0m1 0h0m1 0h0m1 0h0m3 0h0m3 0h0m1 0h0m2 0h0m1 0h0m1 0h0m1 0h0m1 0h0m1 0h0m2 0h0m1 0h0m1 0h0m6 0h0m1 0h0m2 0h0m1 0h0m3 0h0m2 0h0m2 0h0m1 0h0m2 0h0m1 0h0m1 0h0m1 0h0m2 0h0m2 0h0m1 0h0m-133 1h0m2 0h0m1 0h0m2 0h0m1 0h0m2 0h0m1 0h0m51 0h0m1 0h0m1 0h0m2 0h0m3 0h0m5 0h0m1 0h0m1 0h0m1 0h0m2 0h0m1 0h0m5 0h0m5 0h0m3 0h0m1 0h0m1 0h0m2 0h0m1 0h0m2 0h0m1 0h0m1 0h0m5 0h0m4 0h0m1 0h0m1 0h0m1 0h0m2 0h0m1 0h0m1 0h0m1 0h0m1 0h0m1 0h0m1 0h0m1 0h0m1 0h0m2 0h0m2 0h0m2 0h0m3 0h0m-132 1h0m7 0h0m1 0h0m1 0h0m2 0h0m48 0h0m1 0h0m3 0h0m2 0h0m5 0h0m3 0h0m1 0h0m2 0h0m1 0h0m1 0h0m2 0h0m3 0h0m1 0h0m1 0h0m3 0h0m4 0h0m1 0h0m1 0h0m1 0h0m1 0h0m4 0h0m1 0h0m1 0h0m2 0h0m5 0h0m1 0h0m1 0h0m3 0h0m2 0h0m1 0h0m1 0h0m1 0h0m2 0h0m3 0h0m2 0h0m4 0h0m2 0h0m-130 1h0m1 0h0m2 0h0m2 0h0m1 0h0m1 0h0m1 0h0m1 0h0m48 0h0m1 0h0m1 0h0m3 0h0m1 0h0m2 0h0m3 0h0m1 0h0m1 0h0m2 0h0m5 0h0m2 0h0m1 0h0m1 0h0m6 0h0m4 0h0m1 0h0m2 0h0m3 0h0m2 0h0m2 0h0m1 0h0m4 0h0m3 0h0m1 0h0m1 0h0m2 0h0m1 0h0m1 0h0m1 0h0m11 0h0m2 0h0m-131 1h0m1 0h0m7 0h0m1 0h0m1 0h0m1 0h0m45 0h0m2 0h0m2 0h0m1 0h0m2 0h0m4 0h0m1 0h0m5 0h0m4 0h0m8 0h0m3 0h0m2 0h0m1 0h0m2 0h0m1 0h0m1 0h0m8 0h0m2 0h0m1 0h0m1 0h0m1 0h0m1 0h0m2 0h0m1 0h0m2 0h0m2 0h0m3 0h0m1 0h0m1 0h0m1 0h0m1 0h0m1 0h0m4 0h0m3 0h0m-127 1h0m1 0h0m2 0h0m1 0h0m1 0h0m1 0h0m1 0h0m46 0h0m1 0h0m1 0h0m1 0h0m1 0h0m1 0h0m2 0h0m1 0h0m1 0h0m1 0h0m2 0h0m2 0h0m1 0h0m1 0h0m1 0h0m1 0h0m3 0h0m1 0h0m2 0h0m2 0h0m1 0h0m2 0h0m4 0h0m1 0h0m2 0h0m3 0h0m6 0h0m2 0h0m1 0h0m4 0h0m2 0h0m2 0h0m1 0h0m4 0h0m1 0h0m1 0h0m1 0h0m1 0h0m2 0h0m1 0h0m1 0h0m3 0h0m2 0h0m-130 1h0m3 0h0m2 0h0m4 0h0m1 0h0m47 0h0m1 0h0m1 0h0m1 0h0m2 0h0m3 0h0m4 0h0m2 0h0m6 0h0m1 0h0m1 0h0m1 0h0m1 0h0m1 0h0m4 0h0m4 0h0m4 0h0m1 0h0m1 0h0m2 0h0m4 0h0m1 0h0m2 0h0m1 0h0m1 0h0m2 0h0m3 0h0m1 0h0m2 0h0m2 0h0m1 0h0m1 0h0m2 0h0m1 0h0m7 0h0m-128 1h0m1 0h0m4 0h0m3 0h0m1 0h0m44 0h0m2 0h0m1 0h0m1 0h0m1 0h0m3 0h0m1 0h0m3 0h0m3 0h0m5 0h0m1 0h0m2 0h0m3 0h0m2 0h0m1 0h0m2 0h0m1 0h0m1 0h0m2 0h0m1 0h0m1 0h0m3 0h0m1 0h0m1 0h0m1 0h0m5 0h0m1 0h0m5 0h0m1 0h0m1 0h0m4 0h0m2 0h0m2 0h0m1 0h0m1 0h0m7 0h0m2 0h0m-128 1h0m3 0h0m2 0h0m3 0h0m1 0h0m43 0h0m2 0h0m1 0h0m1 0h0m6 0h0m1 0h0m1 0h0m3 0h0m1 0h0m2 0h0m3 0h0m1 0h0m1 0h0m11 0h0m1 0h0m8 0h0m2 0h0m4 0h0m1 0h0m2 0h0m5 0h0m2 0h0m2 0h0m2 0h0m5 0h0m3 0h0m-119 1h0m2 0h0m1 0h0m1 0h0m1 0h0m1 0h0m40 0h0m1 0h0m1 0h0m1 0h0m2 0h0m8 0h0m1 0h0m2 0h0m9 0h0m1 0h0m16 0h0m2 0h0m1 0h0m1 0h0m1 0h0m1 0h0m2 0h0m2 0h0m5 0h0m1 0h0m3 0h0m1 0h0m4 0h0m3 0h0m3 0h0m-118 1h0m1 0h0m2 0h0m2 0h0m1 0h0m1 0h0m38 0h0m1 0h0m1 0h0m1 0h0m1 0h0m4 0h0m3 0h0m5 0h0m2 0h0m28 0h0m2 0h0m4 0h0m5 0h0m6 0h0m7 0h0m-119 1h0m1 0h0m2 0h0m2 0h0m2 0h0m1 0h0m1 0h0m1 0h0m1 0h0m38 0h0m1 0h0m1 0h0m1 0h0m5 0h0m1 0h0m4 0h0m2 0h0m2 0h0m37 0h0m2 0h0m3 0h0m1 0h0m2 0h0m2 0h0m-112 1h0m2 0h0m3 0h0m1 0h0m1 0h0m1 0h0m3 0h0m36 0h0m1 0h0m3 0h0m5 0h0m1 0h0m8 0h0m37 0h0m2 0h0m2 0h0m-107 1h0m8 0h0m3 0h0m1 0h0m34 0h0m1 0h0m1 0h0m2 0h0m2 0h0m2 0h0m2 0h0m4 0h0m41 0h0m2 0h0m2 0h0m2 0h0m-107 1h0m3 0h0m1 0h0m2 0h0m4 0h0m1 0h0m1 0h0m1 0h0m1 0h0m1 0h0m1 0h0m2 0h0m1 0h0m2 0h0m1 0h0m1 0h0m26 0h0m1 0h0m2 0h0m2 0h0m49 0h0m-103 1h0m4 0h0m2 0h0m2 0h0m3 0h0m1 0h0m1 0h0m1 0h0m1 0h0m1 0h0m1 0h0m2 0h0m2 0h0m1 0h0m2 0h0m2 0h0m19 0h0m1 0h0m3 0h0m2 0h0m1 0h0m2 0h0m-53 1h0m3 0h0m1 0h0m2 0h0m1 0h0m5 0h0m3 0h0m1 0h0m2 0h0m1 0h0m1 0h0m1 0h0m1 0h0m1 0h0m1 0h0m1 0h0m1 0h0m1 0h0m1 0h0m1 0h0m14 0h0m2 0h0m4 0h0m1 0h0m1 0h0m-48 1h0m1 0h0m1 0h0m1 0h0m3 0h0m1 0h0m2 0h0m2 0h0m3 0h0m3 0h0m1 0h0m3 0h0m3 0h0m2 0h0m1 0h0m1 0h0m10 0h0m1 0h0m1 0h0m1 0h0m2 0h0m1 0h0m2 0h0m-47 1h0m2 0h0m1 0h0m2 0h0m1 0h0m1 0h0m2 0h0m1 0h0m1 0h0m2 0h0m3 0h0m1 0h0m1 0h0m1 0h0m1 0h0m1 0h0m1 0h0m1 0h0m1 0h0m1 0h0m2 0h0m1 0h0m1 0h0m1 0h0m1 0h0m3 0h0m1 0h0m1 0h0m4 0h0m1 0h0m1 0h0m1 0h0m2 0h0m1 0h0m4 0h0m-46 1h0m1 0h0m2 0h0m1 0h0m4 0h0m1 0h0m2 0h0m2 0h0m4 0h0m1 0h0m1 0h0m3 0h0m1 0h0m3 0h0m3 0h0m1 0h0m1 0h0m1 0h0m1 0h0m2 0h0m2 0h0m1 0h0m2 0h0m3 0h0m-43 1h0m5 0h0m1 0h0m4 0h0m2 0h0m2 0h0m3 0h0m2 0h0m5 0h0m1 0h0m1 0h0m1 0h0m1 0h0m1 0h0m1 0h0m3 0h0m1 0h0m1 0h0m1 0h0m3 0h0m3 0h0m-40 1h0m1 0h0m1 0h0m1 0h0m1 0h0m1 0h0m9 0h0m3 0h0m1 0h0m3 0h0m2 0h0m1 0h0m1 0h0m1 0h0m1 0h0m1 0h0m1 0h0m1 0h0m1 0h0m1 0h0m1 0h0m2 0h0m1 0h0m1 0h0m-38 1h0m1 0h0m7 0h0m3 0h0m7 0h0m1 0h0m2 0h0m2 0h0m2 0h0m1 0h0m1 0h0m1 0h0m1 0h0m1 0h0m1 0h0m1 0h0m1 0h0m1 0h0m1 0h0m4 0h0m-33 1h0m7 0h0m1 0h0m1 0h0m1 0h0m2 0h0m4 0h0m1 0h0m1 0h0m1 0h0m1 0h0m4 0h0m2 0h0m2 0h0m1 0h0m4 0h0m1 0h0m-30 1h0m5 0h0m6 0h0m4 0h0m1 0h0m1 0h0m2 0h0m3 0h0m2 0h0m7 0h0m-34 1h0m1 0h0m2 0h0m1 0h0m1 0h0m1 0h0m8 0h0m1 0h0m4 0h0m1 0h0m1 0h0m1 0h0m1 0h0m1 0h0m1 0h0m1 0h0m3 0h0m1 0h0m1 0h0m2 0h0m-30 1h0m1 0h0m3 0h0m1 0h0m5 0h0m2 0h0m1 0h0m1 0h0m1 0h0m1 0h0m1 0h0m1 0h0m1 0h0m1 0h0m1 0h0m1 0h0m3 0h0m2 0h0m2 0h0m2 0h0m-31 1h0m1 0h0m1 0h0m8 0h0m1 0h0m2 0h0m1 0h0m2 0h0m2 0h0m1 0h0m2 0h0m1 0h0m1 0h0m2 0h0m3 0h0m1 0h0m2 0h0m-20 1h0m5 0h0m3 0h0m7 0h0m4 0h0m-19 1h0m2 0h0m4 0h0m3 0h0m1 0h0m1 0h0m2 0h0m1 0h0m3 0h0m-16 1h0m6 0h0m1 0h0m1 0h0m1 0h0m1 0h0m1 0h0m1 0h0m4 0h0m1 0h0m1 0h0m-18 1h0m1 0h0m2 0h0m2 0h0m3 0h0m1 0h0m2 0h0m3 0h0m2 0h0m-12 1h0m7 0h0m2 0h0m-8 1h0m3 0h0m1 0h0m1 0h0m2 0h0m-6 1h0m2 0h0m1 0h0m1 0h0m-4 1h0m3 0h0m1 0h0m1 0h0m2 0h0m-3 1h0m1 0h0m0 1h0" stroke="#3a2896" stroke-width="2.4" stroke-linecap="square"/><path transform="scale(.5)" d="M146 689h0m1 0h0m-5 1h0m3 0h0m1 0h0m1 0h0m-5 1h0m2 0h0m1 0h0m1 0h0m1 0h0m-7 1h0m1 0h0m2 0h0m1 0h0m1 0h0m1 0h0m2 0h0m-9 1h0m1 0h0m1 0h0m1 0h0m1 0h0m1 0h0m1 0h0m1 0h0m1 0h0m-9 1h0m1 0h0m1 0h0m1 0h0m1 0h0m1 0h0m1 0h0m1 0h0m1 0h0m-8 1h0m1 0h0m1 0h0m1 0h0m1 0h0m3 0h0m-6 1h0m2 0h0m2 0h0m80 58h0m1 0h0m-4 1h0m2 0h0m2 0h0m1 0h0m-89 1h0m2 0h0m1 0h0m79 0h0m1 0h0m1 0h0m1 0h0m2 0h0m1 0h0m1 0h0m-91 1h0m1 0h0m1 0h0m3 0h0m2 0h0m1 0h0m2 0h0m2 0h0m3 0h0m2 0h0m1 0h0m66 0h0m1 0h0m2 0h0m1 0h0m2 0h0m1 0h0m1 0h0m-93 1h0m1 0h0m1 0h0m1 0h0m1 0h0m1 0h0m1 0h0m2 0h0m1 0h0m2 0h0m1 0h0m1 0h0m1 0h0m1 0h0m1 0h0m2 0h0m1 0h0m1 0h0m63 0h0m1 0h0m1 0h0m1 0h0m1 0h0m1 0h0m1 0h0m1 0h0m1 0h0m1 0h0m-96 1h0m2 0h0m1 0h0m2 0h0m2 0h0m1 0h0m1 0h0m1 0h0m1 0h0m1 0h0m1 0h0m2 0h0m2 0h0m1 0h0m2 0h0m2 0h0m1 0h0m3 0h0m60 0h0m1 0h0m3 0h0m1 0h0m1 0h0m1 0h0m1 0h0m1 0h0m1 0h0m1 0h0m-100 1h0m2 0h0m2 0h0m1 0h0m1 0h0m2 0h0m1 0h0m1 0h0m1 0h0m1 0h0m1 0h0m3 0h0m1 0h0m2 0h0m1 0h0m2 0h0m1 0h0m1 0h0m1 0h0m1 0h0m1 0h0m1 0h0m1 0h0m61 0h0m1 0h0m1 0h0m2 0h0m1 0h0m1 0h0m2 0h0m1 0h0m1 0h0m-102 1h0m1 0h0m1 0h0m1 0h0m1 0h0m1 0h0m1 0h0m1 0h0m1 0h0m2 0h0m20 0h0m1 0h0m1 0h0m1 0h0m58 0h0m1 0h0m3 0h0m1 0h0m1 0h0m1 0h0m1 0h0m1 0h0m2 0h0m-104 1h0m1 0h0m1 0h0m1 0h0m1 0h0m2 0h0m1 0h0m1 0h0m1 0h0m1 0h0m23 0h0m1 0h0m1 0h0m1 0h0m57 0h0m1 0h0m1 0h0m1 0h0m1 0h0m1 0h0m2 0h0m1 0h0m1 0h0m-102 1h0m1 0h0m1 0h0m1 0h0m3 0h0m1 0h0m27 0h0m1 0h0m4 0h0m56 0h0m1 0h0m1 0h0m1 0h0m1 0h0m1 0h0m2 0h0m1 0h0m-104 1h0m2 0h0m1 0h0m1 0h0m1 0h0m1 0h0m2 0h0m28 0h0m1 0h0m1 0h0m1 0h0m55 0h0m2 0h0m1 0h0m1 0h0m1 0h0m1 0h0m1 0h0m1 0h0m-102 1h0m1 0h0m1 0h0m2 0h0m1 0h0m1 0h0m1 0h0m29 0h0m2 0h0m1 0h0m2 0h0m57 0h0m1 0h0m2 0h0m-102 1h0m1 0h0m1 0h0m1 0h0m1 0h0m1 0h0m1 0h0m33 0h0m1 0h0m1 0h0m1 0h0m57 0h0m1 0h0m1 0h0m1 0h0m-103 1h0m1 0h0m1 0h0m1 0h0m1 0h0m1 0h0m1 0h0m35 0h0m1 0h0m1 0h0m1 0h0m1 0h0m1 0h0m-45 1h0m1 0h0m2 0h0m1 0h0m38 0h0m1 0h0m1 0h0m1 0h0m1 0h0m1 0h0m-48 1h0m1 0h0m1 0h0m1 0h0m39 0h0m1 0h0m1 0h0m1 0h0m2 0h0m1 0h0m-48 1h0m1 0h0m1 0h0m1 0h0m1 0h0m39 0h0m1 0h0m1 0h0m1 0h0m1 0h0m1 0h0m-48 1h0m1 0h0m1 0h0m1 0h0m40 0h0m1 0h0m1 0h0m2 0h0m1 0h0m-48 1h0m3 0h0m40 0h0m1 0h0m1 0h0m1 0h0m1 0h0m-48 1h0m1 0h0m1 0h0m1 0h0m1 0h0m39 0h0m1 0h0m1 0h0m1 0h0m-46 1h0m1 0h0m1 0h0m1 0h0m1 0h0m39 0h0m1 0h0m1 0h0m1 0h0m1 0h0m1 0h0m-46 1h0m1 0h0m1 0h0m1 0h0m37 0h0m1 0h0m1 0h0m1 0h0m-45 1h0m1 0h0m2 0h0m1 0h0m1 0h0m37 0h0m2 0h0m2 0h0m-44 1h0m1 0h0m1 0h0m1 0h0m35 0h0m1 0h0m1 0h0m1 0h0m1 0h0m-42 1h0m1 0h0m1 0h0m1 0h0m34 0h0m1 0h0m1 0h0m1 0h0m1 0h0m-42 1h0m1 0h0m1 0h0m1 0h0m1 0h0m33 0h0m1 0h0m1 0h0m1 0h0m1 0h0m1 0h0m-42 1h0m2 0h0m1 0h0m1 0h0m1 0h0m31 0h0m1 0h0m1 0h0m1 0h0m1 0h0m-38 1h0m1 0h0m1 0h0m1 0h0m30 0h0m1 0h0m1 0h0m2 0h0m-38 1h0m2 0h0m1 0h0m1 0h0m3 0h0m26 0h0m1 0h0m1 0h0m1 0h0m-35 1h0m2 0h0m1 0h0m1 0h0m1 0h0m1 0h0m1 0h0m4 0h0m1 0h0m19 0h0m2 0h0m1 0h0m1 0h0m-34 1h0m3 0h0m2 0h0m1 0h0m1 0h0m1 0h0m1 0h0m1 0h0m3 0h0m1 0h0m17 0h0m1 0h0m-30 1h0m1 0h0m1 0h0m1 0h0m2 0h0m2 0h0m1 0h0m2 0h0m1 0h0m2 0h0m1 0h0m2 0h0m9 0h0m1 0h0m2 0h0m2 0h0m-28 1h0m3 0h0m1 0h0m1 0h0m1 0h0m1 0h0m2 0h0m1 0h0m1 0h0m1 0h0m2 0h0m1 0h0m1 0h0m1 0h0m3 0h0m1 0h0m1 0h0m1 0h0m1 0h0m1 0h0m1 0h0m1 0h0m-19 1h0m1 0h0m1 0h0m2 0h0m1 0h0m1 0h0m1 0h0m2 0h0m1 0h0m1 0h0m1 0h0m1 0h0m2 0h0m1 0h0m1 0h0m1 0h0m1 0h0m-15 1h0m1 0h0m4 0h0m1 0h0m2 0h0m1 0h0m3 0h0m1 0h0m-10 1h0m1 0h0m1 0h0m1 0h0m3 0h0m2 0h0m1 0h0m-6 1h0m1 0h0m2 0h0" stroke="#3430aa" stroke-width="2.4" stroke-linecap="square"/><path transform="scale(.5)" d="M147 759h0m-9 1h0m1 0h0m1 0h0m3 0h0m1 0h0m1 0h0m2 0h0m1 0h0m1 0h0m1 0h0m1 0h0m1 0h0m-19 1h0m2 0h0m1 0h0m1 0h0m2 0h0m1 0h0m5 0h0m1 0h0m1 0h0m1 0h0m1 0h0m2 0h0m1 0h0m-20 1h0m1 0h0m1 0h0m1 0h0m1 0h0m1 0h0m1 0h0m1 0h0m1 0h0m1 0h0m10 0h0m1 0h0m1 0h0m1 0h0m-24 1h0m1 0h0m1 0h0m1 0h0m1 0h0m17 0h0m2 0h0m1 0h0m1 0h0m-25 1h0m1 0h0m1 0h0m21 0h0m2 0h0m1 0h0m1 0h0m-29 1h0m1 0h0m1 0h0m1 0h0m23 0h0m1 0h0m1 0h0m-31 1h0m1 0h0m1 0h0m2 0h0m27 0h0m1 0h0m1 0h0m1 0h0m-33 1h0m1 0h0m1 0h0m1 0h0m28 0h0m1 0h0m1 0h0m-35 1h0m1 0h0m2 0h0m1 0h0m30 0h0m2 0h0m-36 1h0m2 0h0m1 0h0m32 0h0m1 0h0m1 0h0m-38 1h0m1 0h0m1 0h0m1 0h0m32 0h0m1 0h0m1 0h0m1 0h0m-37 1h0m1 0h0m34 0h0m2 0h0m-38 1h0m1 0h0m1 0h0m33 0h0m1 0h0m2 0h0m-38 1h0m1 0h0m1 0h0m34 0h0m-36 1h0m1 0h0m1 0h0m1 0h0m32 0h0m2 0h0m-37 1h0m1 0h0m1 0h0m1 0h0m32 0h0m1 0h0m1 0h0m-35 1h0m1 0h0m31 0h0m1 0h0m-34 1h0m1 0h0m1 0h0m30 0h0m1 0h0m-33 1h0m1 0h0m1 0h0m1 0h0m30 0h0m-34 1h0m1 0h0m1 0h0m1 0h0m1 0h0m1 0h0m26 0h0m1 0h0m-31 1h0m1 0h0m1 0h0m1 0h0m1 0h0m1 0h0m25 0h0m-29 1h0m1 0h0m1 0h0m2 0h0m1 0h0m1 0h0m20 0h0m2 0h0m1 0h0m-27 1h0m1 0h0m1 0h0m1 0h0m1 0h0m1 0h0m1 0h0m1 0h0m1 0h0m1 0h0m1 0h0m14 0h0m-22 1h0m1 0h0m1 0h0m3 0h0m1 0h0m1 0h0m1 0h0m1 0h0m1 0h0m1 0h0m9 0h0m1 0h0m2 0h0m-16 1h0m4 0h0m1 0h0m1 0h0m1 0h0m2 0h0m1 0h0m1 0h0m-8 1h0m2 0h0m1 0h0m1 0h0m1 0h0m1 0h0m2 0h0m1 0h0m1 0h0m1 0h0m-6 1h0m3 0h0m1 0h0" stroke="#2a52d0" stroke-width="2.4" stroke-linecap="square"/><path transform="scale(.5)" d="M142 761h0m1 0h0m1 0h0m2 0h0m-11 1h0m1 0h0m1 0h0m1 0h0m1 0h0m2 0h0m1 0h0m1 0h0m1 0h0m1 0h0m1 0h0m1 0h0m1 0h0m1 0h0m1 0h0m-16 1h0m2 0h0m1 0h0m1 0h0m1 0h0m1 0h0m1 0h0m1 0h0m1 0h0m3 0h0m1 0h0m1 0h0m1 0h0m1 0h0m1 0h0m1 0h0m-20 1h0m1 0h0m1 0h0m1 0h0m1 0h0m1 0h0m1 0h0m2 0h0m7 0h0m1 0h0m1 0h0m1 0h0m1 0h0m1 0h0m-20 1h0m1 0h0m1 0h0m2 0h0m16 0h0m1 0h0m-23 1h0m1 0h0m1 0h0m2 0h0m17 0h0m2 0h0m1 0h0m1 0h0m1 0h0m-28 1h0m2 0h0m1 0h0m1 0h0m23 0h0m1 0h0m-28 1h0m1 0h0m1 0h0m25 0h0m1 0h0m1 0h0m-29 1h0m1 0h0m1 0h0m25 0h0m1 0h0m2 0h0m-32 1h0m1 0h0m1 0h0m1 0h0m27 0h0m1 0h0m1 0h0m-32 1h0m1 0h0m1 0h0m29 0h0m1 0h0m-33 1h0m1 0h0m1 0h0m1 0h0m28 0h0m1 0h0m1 0h0m-33 1h0m1 0h0m1 0h0m1 0h0m28 0h0m2 0h0m-32 1h0m2 0h0m27 0h0m1 0h0m1 0h0m-30 1h0m1 0h0m1 0h0m25 0h0m1 0h0m2 0h0m-31 1h0m1 0h0m1 0h0m1 0h0m26 0h0m1 0h0m-29 1h0m1 0h0m1 0h0m24 0h0m1 0h0m1 0h0m1 0h0m-29 1h0m2 0h0m1 0h0m22 0h0m1 0h0m1 0h0m-26 1h0m1 0h0m1 0h0m1 0h0m1 0h0m20 0h0m1 0h0m-24 1h0m1 0h0m1 0h0m2 0h0m1 0h0m1 0h0m15 0h0m2 0h0m-21 1h0m1 0h0m1 0h0m1 0h0m1 0h0m1 0h0m1 0h0m1 0h0m1 0h0m1 0h0m9 0h0m1 0h0m1 0h0m-18 1h0m2 0h0m1 0h0m1 0h0m1 0h0m1 0h0m1 0h0m1 0h0m2 0h0m1 0h0m2 0h0m1 0h0m1 0h0m1 0h0m1 0h0m-13 1h0m1 0h0m1 0h0m2 0h0m1 0h0m1 0h0m1 0h0m1 0h0m1 0h0m1 0h0m1 0h0m1 0h0m1 0h0m-9 1h0m1 0h0m1 0h0m1 0h0m4 0h0" stroke="#2a90e0" stroke-width="2.4" stroke-linecap="square"/><path transform="scale(.5)" d="M141 763h0m1 0h0m1 0h0m2 0h0m1 0h0m-10 1h0m1 0h0m1 0h0m1 0h0m1 0h0m1 0h0m1 0h0m1 0h0m1 0h0m1 0h0m1 0h0m1 0h0m1 0h0m1 0h0m-13 1h0m2 0h0m1 0h0m1 0h0m2 0h0m1 0h0m1 0h0m1 0h0m1 0h0m1 0h0m1 0h0m1 0h0m1 0h0m-17 1h0m2 0h0m1 0h0m1 0h0m1 0h0m1 0h0m1 0h0m7 0h0m1 0h0m1 0h0m1 0h0m1 0h0m1 0h0m-20 1h0m1 0h0m1 0h0m1 0h0m1 0h0m1 0h0m11 0h0m1 0h0m2 0h0m1 0h0m1 0h0m-22 1h0m1 0h0m1 0h0m1 0h0m16 0h0m2 0h0m1 0h0m1 0h0m-24 1h0m1 0h0m1 0h0m1 0h0m20 0h0m1 0h0m1 0h0m-25 1h0m1 0h0m1 0h0m21 0h0m1 0h0m1 0h0m-26 1h0m1 0h0m1 0h0m1 0h0m22 0h0m1 0h0m1 0h0m-27 1h0m1 0h0m1 0h0m23 0h0m1 0h0m1 0h0m-28 1h0m1 0h0m1 0h0m1 0h0m23 0h0m2 0h0m-27 1h0m1 0h0m1 0h0m23 0h0m1 0h0m-26 1h0m1 0h0m1 0h0m22 0h0m1 0h0m1 0h0m-25 1h0m1 0h0m1 0h0m21 0h0m1 0h0m-24 1h0m1 0h0m1 0h0m1 0h0m20 0h0m1 0h0m-23 1h0m1 0h0m1 0h0m2 0h0m16 0h0m1 0h0m1 0h0m-22 1h0m1 0h0m1 0h0m1 0h0m1 0h0m1 0h0m1 0h0m2 0h0m10 0h0m1 0h0m1 0h0m1 0h0m-19 1h0m1 0h0m1 0h0m1 0h0m1 0h0m1 0h0m1 0h0m1 0h0m1 0h0m1 0h0m2 0h0m1 0h0m1 0h0m1 0h0m2 0h0m-13 1h0m1 0h0m1 0h0m1 0h0m1 0h0m1 0h0m1 0h0m1 0h0m1 0h0m1 0h0m1 0h0m1 0h0m1 0h0m-7 1h0m2 0h0m1 0h0m1 0h0m1 0h0m1 0h0" stroke="#20c0c0" stroke-width="2.4" stroke-linecap="square"/><path transform="scale(.5)" d="M140 765h0m1 0h0m1 0h0m1 0h0m1 0h0m1 0h0m1 0h0m-8 1h0m2 0h0m1 0h0m1 0h0m1 0h0m1 0h0m1 0h0m1 0h0m1 0h0m-10 1h0m1 0h0m1 0h0m1 0h0m2 0h0m1 0h0m2 0h0m1 0h0m1 0h0m1 0h0m1 0h0m1 0h0m-15 1h0m1 0h0m1 0h0m1 0h0m1 0h0m1 0h0m1 0h0m1 0h0m5 0h0m1 0h0m1 0h0m1 0h0m-17 1h0m1 0h0m1 0h0m1 0h0m1 0h0m1 0h0m1 0h0m10 0h0m1 0h0m1 0h0m1 0h0m-19 1h0m1 0h0m1 0h0m1 0h0m14 0h0m1 0h0m1 0h0m1 0h0m-21 1h0m1 0h0m1 0h0m1 0h0m1 0h0m15 0h0m1 0h0m1 0h0m-22 1h0m1 0h0m1 0h0m1 0h0m1 0h0m16 0h0m1 0h0m1 0h0m-21 1h0m1 0h0m1 0h0m1 0h0m17 0h0m1 0h0m-21 1h0m1 0h0m1 0h0m1 0h0m16 0h0m1 0h0m1 0h0m-21 1h0m1 0h0m1 0h0m1 0h0m1 0h0m15 0h0m1 0h0m1 0h0m-21 1h0m1 0h0m2 0h0m1 0h0m1 0h0m13 0h0m1 0h0m1 0h0m-19 1h0m1 0h0m1 0h0m1 0h0m1 0h0m2 0h0m1 0h0m9 0h0m1 0h0m1 0h0m1 0h0m-19 1h0m1 0h0m1 0h0m2 0h0m1 0h0m1 0h0m1 0h0m2 0h0m2 0h0m1 0h0m1 0h0m2 0h0m1 0h0m1 0h0m1 0h0m-15 1h0m1 0h0m1 0h0m1 0h0m2 0h0m1 0h0m1 0h0m1 0h0m1 0h0m1 0h0m1 0h0m1 0h0m1 0h0m1 0h0m-9 1h0m3 0h0m3 0h0m1 0h0" stroke="#22c070" stroke-width="2.4" stroke-linecap="square"/><path transform="scale(.5)" d="M144 767h0m-4 1h0m1 0h0m1 0h0m1 0h0m1 0h0m2 0h0m1 0h0m1 0h0m-10 1h0m1 0h0m1 0h0m1 0h0m1 0h0m1 0h0m1 0h0m1 0h0m1 0h0m1 0h0m1 0h0m1 0h0m-12 1h0m1 0h0m1 0h0m1 0h0m1 0h0m6 0h0m1 0h0m1 0h0m1 0h0m-14 1h0m1 0h0m1 0h0m1 0h0m10 0h0m1 0h0m-14 1h0m1 0h0m1 0h0m12 0h0m-14 1h0m1 0h0m1 0h0m11 0h0m1 0h0m1 0h0m-16 1h0m1 0h0m1 0h0m1 0h0m1 0h0m11 0h0m1 0h0m-14 1h0m1 0h0m1 0h0m1 0h0m9 0h0m1 0h0m-13 1h0m1 0h0m1 0h0m1 0h0m2 0h0m6 0h0m1 0h0m1 0h0m-11 1h0m1 0h0m1 0h0m1 0h0m1 0h0m1 0h0m2 0h0m1 0h0m1 0h0m1 0h0m-8 1h0m1 0h0m1 0h0m2 0h0m1 0h0m1 0h0m1 0h0" stroke="#7cd030" stroke-width="2.4" stroke-linecap="square"/><path transform="scale(.5)" d="M142 769h0m1 0h0m1 0h0m1 0h0m1 0h0m1 0h0m-8 1h0m1 0h0m1 0h0m1 0h0m1 0h0m1 0h0m1 0h0m1 0h0m1 0h0m-8 1h0m1 0h0m1 0h0m1 0h0m4 0h0m1 0h0m1 0h0m1 0h0m-10 1h0m1 0h0m1 0h0m7 0h0m1 0h0m-10 1h0m1 0h0m8 0h0m1 0h0m-10 1h0m1 0h0m9 0h0m-9 1h0m1 0h0m1 0h0m1 0h0m3 0h0m1 0h0m1 0h0m1 0h0m-8 1h0m1 0h0m1 0h0m1 0h0m2 0h0m1 0h0m1 0h0m-6 1h0m3 0h0m1 0h0m1 0h0" stroke="#e8e020" stroke-width="2.4" stroke-linecap="square"/><path transform="scale(.5)" d="M142 770h0m1 0h0m1 0h0m1 0h0m-3 1h0m1 0h0m1 0h0m1 0h0m1 0h0m-5 1h0m1 0h0m1 0h0m3 0h0m1 0h0m-6 1h0m1 0h0m5 0h0m1 0h0m-7 1h0m1 0h0m1 0h0m1 0h0m1 0h0m1 0h0m1 0h0m1 0h0m-6 1h0m1 0h0m1 0h0m1 0h0m1 0h0m-2 1h0m1 0h0m1 0h0" stroke="#ff9000" stroke-width="2.4" stroke-linecap="square"/><path transform="scale(.5)" d="M143 771h0m1 0h0m1 0h0m-2 1h0m1 0h0m1 0h0m1 0h0m-3 1h0m1 0h0m1 0h0m1 0h0m-4 1h0m1 0h0m1 0h0m1 0h0m1 0h0m-2 1h0m1 0h0" stroke="#f02010" stroke-width="2.4" stroke-linecap="square"/></g><g filter="url(#bl)"><path transform="scale(.5)" d="M138 877h0m77 8h0m39 2h0m-58 4h0m-41 1h0m80 0h0m-85 1h0m13 0h0m-20 1h0m11 0h0m85 2h0m-67 1h0m40 0h0m-83 1h0m2 0h0m1 0h0m30 0h0m4 0h0m34 0h0m14 0h0m13 0h0m12 0h0m6 0h0m-102 1h0m16 0h0m3 0h0m5 0h0m37 0h0m19 0h0m1 0h0m2 0h0m11 0h0m-126 1h0m121 0h0m-58 1h0m33 0h0m38 0h0m-126 3h0m135 0h0m-141 1h0m5 1h0m6 0h0m-21 3h0m11 0h0m3 0h0m0 2h0m-4 2h0m-6 7h0m5 1h0m141 0h0m-145 3h0m5 0h0m1 2h0m125 0h0m1 0h0m7 0h0m-133 1h0m127 1h0m5 1h0m-13 1h0m12 0h0m6 1h0m5 0h0m-19 1h0m-124 2h0m117 0h0m6 0h0m5 0h0m-134 1h0m6 0h0m3 0h0m99 0h0m11 0h0m1 1h0m1 0h0m16 0h0m-25 1h0m18 0h0m-43 1h0m3 0h0m20 0h0m4 0h0m-27 1h0m3 0h0m10 0h0m13 0h0m5 0h0m13 0h0m-55 1h0m3 0h0m2 0h0m41 0h0m-114 1h0m93 0h0m-86 1h0m89 0h0m-46 2h0m5 0h0m7 0h0m-65 2h0m48 1h0m13 0h0m4 0h0m23 0h0m-74 2h0m32 0h0m3 1h0m-34 2h0m-4 1h0m44 5h0m-42 1h0m1 0h0m2 3h0m43 0h0m-17 2h0m-33 1h0m81 0h0m41 0h0m-29 1h0m-62 1h0m-3 1h0m87 0h0m-83 1h0m59 1h0m4 0h0m3 0h0m-28 1h0m9 0h0m-45 1h0m1 0h0m16 0h0m14 0h0m11 0h0m38 0h0m-76 1h0m37 0h0m2 0h0m4 0h0m16 0h0m11 0h0m2 0h0m-111 1h0m71 0h0m2 0h0m5 0h0m8 0h0m1 0h0m3 0h0m1 0h0m14 0h0m10 0h0m-112 1h0m36 0h0m27 0h0m20 0h0m2 0h0m8 0h0m5 0h0m-59 1h0m8 0h0m38 0h0m26 0h0m-69 1h0m8 0h0m1 0h0m-56 1h0m51 0h0m32 0h0m2 0h0m-80 1h0m61 0h0m48 0h0m-29 1h0m-81 2h0m83 0h0m47 0h0m-50 1h0m38 0h0m-119 1h0m80 0h0m5 0h0m16 0h0m4 0h0m6 0h0m-22 1h0m4 0h0m-94 1h0m82 0h0m22 0h0m-23 1h0m13 0h0m-93 1h0m55 0h0m55 0h0m-110 1h0m49 0h0m20 0h0m4 0h0m10 0h0m2 0h0m10 0h0m-98 1h0m57 0h0m7 0h0m10 0h0m20 0h0m1 0h0m-33 1h0m-57 1h0m91 0h0m12 0h0m-36 1h0m2 0h0m21 0h0m-109 1h0m92 0h0m30 0h0m-47 1h0m-57 1h0m69 0h0m-19 1h0m-3 1h0m-61 1h0m10 0h0m35 0h0m5 0h0m-5 1h0m-23 1h0m20 0h0m-41 1h0m3 0h0m19 0h0m14 0h0m3 1h0m-47 1h0m37 0h0m52 0h0m-46 1h0m15 2h0m67 1h0m0 2h0m-31 1h0m43 2h0m-126 7h0m19 2h0m28 1h0m64 0h0m-118 2h0m82 0h0m44 1h0m-112 5h0m18 0h0m-31 1h0" stroke="#9a94dc" stroke-width="2.4" stroke-linecap="square"/><path transform="scale(.5)" d="M133 898h0m0 1h0m5 0h0m10 0h0m-2 1h0m5 0h0m1 0h0m15 0h0m49 0h0m-34 1h0m11 0h0m3 0h0m15 0h0m4 0h0m18 0h0m3 0h0m-107 1h0m1 0h0m1 0h0m4 0h0m2 0h0m10 0h0m5 0h0m33 0h0m5 0h0m1 0h0m40 0h0m1 0h0m4 0h0m2 0h0m-107 1h0m21 0h0m18 0h0m1 0h0m9 0h0m1 0h0m2 0h0m5 0h0m1 0h0m2 0h0m1 0h0m2 0h0m4 0h0m3 0h0m11 0h0m6 0h0m17 0h0m6 0h0m-110 1h0m43 0h0m5 0h0m21 0h0m3 0h0m3 0h0m7 0h0m2 0h0m1 0h0m1 0h0m6 0h0m3 0h0m13 0h0m1 0h0m-110 1h0m56 0h0m1 0h0m3 0h0m1 0h0m3 0h0m5 0h0m6 0h0m1 0h0m1 0h0m1 0h0m5 0h0m11 0h0m1 0h0m2 0h0m2 0h0m5 0h0m3 0h0m7 0h0m-115 1h0m61 0h0m2 0h0m1 0h0m7 0h0m2 0h0m2 0h0m19 0h0m1 0h0m3 0h0m4 0h0m6 0h0m1 0h0m1 0h0m2 0h0m-113 1h0m65 0h0m8 0h0m27 0h0m2 0h0m1 0h0m8 0h0m2 0h0m2 0h0m3 0h0m1 0h0m-51 1h0m6 0h0m41 0h0m6 0h0m1 0h0m-51 1h0m2 0h0m44 0h0m1 0h0m-125 1h0m76 0h0m5 0h0m48 0h0m2 0h0m-55 1h0m48 0h0m-129 1h0m127 0h0m5 0h0m4 0h0m-136 1h0m128 0h0m1 0h0m7 0h0m-137 1h0m130 0h0m5 0h0m-134 1h0m2 0h0m2 0h0m1 0h0m126 0h0m6 0h0m1 0h0m-137 1h0m127 0h0m6 0h0m2 0h0m1 0h0m-134 1h0m125 0h0m2 0h0m8 0h0m-17 1h0m12 0h0m-135 1h0m1 0h0m106 0h0m14 0h0m1 0h0m3 0h0m1 0h0m2 0h0m6 0h0m3 0h0m-135 1h0m88 0h0m13 0h0m1 0h0m1 0h0m26 0h0m3 0h0m1 0h0m-132 1h0m1 0h0m1 0h0m1 0h0m95 0h0m1 0h0m21 0h0m12 0h0m1 0h0m-136 1h0m87 0h0m3 0h0m5 0h0m11 0h0m2 0h0m4 0h0m2 0h0m6 0h0m3 0h0m2 0h0m4 0h0m3 0h0m-49 1h0m4 0h0m4 0h0m4 0h0m3 0h0m7 0h0m1 0h0m6 0h0m3 0h0m1 0h0m-112 1h0m80 0h0m4 0h0m1 0h0m2 0h0m10 0h0m9 0h0m1 0h0m9 0h0m1 0h0m6 0h0m-124 1h0m81 0h0m2 0h0m6 0h0m13 0h0m5 0h0m3 0h0m8 0h0m-35 1h0m13 0h0m7 0h0m4 0h0m10 0h0m-117 1h0m2 0h0m76 0h0m2 0h0m2 0h0m5 0h0m2 0h0m1 0h0m7 0h0m4 0h0m7 0h0m2 0h0m-108 1h0m76 0h0m5 0h0m3 0h0m1 0h0m11 0h0m2 0h0m12 0h0m3 0h0m-111 1h0m79 0h0m14 0h0m8 0h0m9 0h0m-40 1h0m1 0h0m1 0h0m1 0h0m3 0h0m2 0h0m16 0h0m6 0h0m3 0h0m5 0h0m-36 1h0m9 0h0m1 0h0m6 0h0m5 0h0m17 0h0m-38 1h0m2 0h0m9 0h0m2 0h0m7 0h0m4 0h0m3 0h0m2 0h0m1 0h0m3 0h0m-34 1h0m6 0h0m8 0h0m3 0h0m6 0h0m8 0h0m-23 1h0m3 0h0m2 0h0m1 0h0m-84 1h0m68 0h0m7 0h0m3 0h0m6 0h0m4 0h0m1 0h0m-90 1h0m3 0h0m64 0h0m4 0h0m2 0h0m6 0h0m10 0h0m-89 1h0m2 0h0m59 0h0m5 0h0m12 0h0m9 0h0m-24 1h0m-62 1h0m53 0h0m9 0h0m-12 1h0m2 0h0m3 0h0m-55 1h0m2 1h0m4 0h0m36 0h0m11 0h0m1 0h0m1 0h0m-50 1h0m1 0h0m25 0h0m8 0h0m8 0h0m6 0h0m1 0h0m-20 1h0m-25 2h0m17 0h0m7 1h0m-24 1h0m20 0h0m-1 3h0m-3 1h0m1 0h0m-17 1h0m14 0h0m3 0h0m-20 1h0m4 0h0m13 0h0m-14 1h0m14 0h0m-15 1h0m2 1h0m11 0h0m5 0h0m-17 1h0m1 0h0m12 0h0m-11 1h0m1 0h0m5 0h0m2 0h0m1 0h0m2 0h0m-14 1h0m9 0h0m1 0h0m-8 1h0m1 0h0m-2 1h0m3 0h0m1 0h0m2 0h0m7 0h0m-9 1h0m6 0h0m3 0h0m1 0h0m-14 1h0m3 0h0m8 0h0m1 0h0m1 0h0m-9 1h0m5 0h0m3 0h0m4 0h0m-16 1h0m4 0h0m9 1h0m-11 1h0m-1 1h0m11 0h0m-11 1h0m12 0h0m4 0h0m-19 1h0m15 0h0m5 0h0m1 0h0m-19 1h0m25 0h0m-5 1h0m0 1h0m-1 1h0m1 0h0m4 0h0m36 0h0m30 0h0m-67 1h0m36 0h0m4 0h0m2 0h0m16 0h0m16 0h0m-76 1h0m1 0h0m62 0h0m7 0h0m3 0h0m1 0h0m1 0h0m1 0h0m-40 1h0m4 0h0m21 0h0m1 0h0m1 0h0m4 0h0m1 0h0m2 0h0m-95 1h0m32 0h0m8 0h0m20 0h0m3 0h0m6 0h0m17 0h0m8 0h0m2 0h0m2 0h0m4 0h0m-104 1h0m34 0h0m1 0h0m1 0h0m10 0h0m1 0h0m18 0h0m2 0h0m3 0h0m23 0h0m10 0h0m1 0h0m-74 1h0m2 0h0m7 0h0m9 0h0m1 0h0m5 0h0m6 0h0m4 0h0m3 0h0m2 0h0m3 0h0m2 0h0m13 0h0m1 0h0m8 0h0m4 0h0m2 0h0m-70 1h0m3 0h0m1 0h0m2 0h0m2 0h0m4 0h0m2 0h0m2 0h0m1 0h0m1 0h0m1 0h0m3 0h0m17 0h0m15 0h0m9 0h0m2 0h0m3 0h0m-101 1h0m33 0h0m7 0h0m6 0h0m1 0h0m3 0h0m8 0h0m2 0h0m2 0h0m1 0h0m7 0h0m-38 1h0m3 0h0m4 0h0m17 0h0m2 0h0m6 0h0m4 0h0m19 0h0m2 0h0m-88 1h0m31 0h0m1 0h0m5 0h0m2 0h0m4 0h0m13 0h0m10 0h0m5 0h0m2 0h0m-42 1h0m3 0h0m3 0h0m7 0h0m1 0h0m14 0h0m4 0h0m6 0h0m-29 1h0m4 0h0m2 0h0m10 0h0m1 0h0m9 0h0m-67 1h0m38 0h0m1 0h0m-39 1h0m33 1h0m2 0h0m4 0h0m-37 1h0m31 0h0m3 0h0m-2 1h0m1 0h0m-34 1h0m1 0h0m27 0h0m4 0h0m-2 2h0m-21 3h0m18 0h0m-20 1h0m14 0h0" stroke="#5a4bb8" stroke-width="2.4" stroke-linecap="square"/><path transform="scale(.5)" d="M139 902h0m1 0h0m1 0h0m-6 1h0m1 0h0m3 0h0m2 0h0m1 0h0m1 0h0m5 0h0m2 0h0m1 0h0m3 0h0m5 0h0m12 0h0m-39 1h0m1 0h0m1 0h0m1 0h0m3 0h0m3 0h0m2 0h0m2 0h0m7 0h0m1 0h0m2 0h0m5 0h0m4 0h0m1 0h0m2 0h0m1 0h0m1 0h0m-38 1h0m2 0h0m6 0h0m1 0h0m1 0h0m3 0h0m1 0h0m1 0h0m8 0h0m1 0h0m3 0h0m2 0h0m7 0h0m2 0h0m16 0h0m29 0h0m3 0h0m-84 1h0m2 0h0m1 0h0m5 0h0m3 0h0m3 0h0m1 0h0m1 0h0m1 0h0m8 0h0m4 0h0m5 0h0m4 0h0m4 0h0m3 0h0m6 0h0m1 0h0m4 0h0m19 0h0m9 0h0m1 0h0m2 0h0m-88 1h0m2 0h0m1 0h0m1 0h0m2 0h0m2 0h0m1 0h0m1 0h0m3 0h0m3 0h0m2 0h0m1 0h0m2 0h0m2 0h0m1 0h0m1 0h0m1 0h0m1 0h0m1 0h0m1 0h0m1 0h0m1 0h0m1 0h0m3 0h0m3 0h0m1 0h0m1 0h0m1 0h0m2 0h0m2 0h0m1 0h0m3 0h0m1 0h0m3 0h0m1 0h0m21 0h0m1 0h0m1 0h0m1 0h0m1 0h0m1 0h0m4 0h0m11 0h0m13 0h0m-106 1h0m2 0h0m1 0h0m1 0h0m1 0h0m12 0h0m4 0h0m2 0h0m2 0h0m2 0h0m3 0h0m1 0h0m2 0h0m1 0h0m1 0h0m1 0h0m4 0h0m1 0h0m1 0h0m1 0h0m1 0h0m1 0h0m3 0h0m2 0h0m2 0h0m6 0h0m13 0h0m1 0h0m6 0h0m2 0h0m2 0h0m3 0h0m1 0h0m1 0h0m7 0h0m5 0h0m1 0h0m1 0h0m2 0h0m-110 1h0m2 0h0m1 0h0m4 0h0m1 0h0m1 0h0m1 0h0m2 0h0m27 0h0m2 0h0m1 0h0m1 0h0m4 0h0m1 0h0m1 0h0m5 0h0m1 0h0m4 0h0m3 0h0m4 0h0m14 0h0m3 0h0m6 0h0m1 0h0m3 0h0m1 0h0m6 0h0m2 0h0m1 0h0m1 0h0m1 0h0m7 0h0m2 0h0m-115 1h0m1 0h0m1 0h0m2 0h0m1 0h0m1 0h0m1 0h0m1 0h0m2 0h0m32 0h0m1 0h0m2 0h0m1 0h0m2 0h0m2 0h0m1 0h0m1 0h0m2 0h0m1 0h0m2 0h0m1 0h0m1 0h0m2 0h0m3 0h0m1 0h0m2 0h0m13 0h0m2 0h0m3 0h0m1 0h0m3 0h0m1 0h0m5 0h0m3 0h0m1 0h0m1 0h0m1 0h0m1 0h0m1 0h0m2 0h0m1 0h0m1 0h0m2 0h0m1 0h0m-108 1h0m1 0h0m3 0h0m1 0h0m1 0h0m1 0h0m37 0h0m4 0h0m1 0h0m1 0h0m1 0h0m1 0h0m2 0h0m2 0h0m1 0h0m3 0h0m1 0h0m2 0h0m4 0h0m7 0h0m3 0h0m7 0h0m4 0h0m1 0h0m7 0h0m4 0h0m3 0h0m1 0h0m2 0h0m3 0h0m3 0h0m-113 1h0m2 0h0m3 0h0m1 0h0m2 0h0m40 0h0m3 0h0m1 0h0m1 0h0m1 0h0m1 0h0m1 0h0m3 0h0m2 0h0m5 0h0m1 0h0m1 0h0m3 0h0m2 0h0m6 0h0m1 0h0m1 0h0m5 0h0m1 0h0m2 0h0m2 0h0m3 0h0m2 0h0m2 0h0m1 0h0m1 0h0m9 0h0m-110 1h0m2 0h0m2 0h0m1 0h0m47 0h0m3 0h0m1 0h0m1 0h0m5 0h0m1 0h0m2 0h0m6 0h0m3 0h0m2 0h0m5 0h0m1 0h0m1 0h0m1 0h0m2 0h0m3 0h0m4 0h0m1 0h0m3 0h0m6 0h0m2 0h0m3 0h0m2 0h0m2 0h0m2 0h0m1 0h0m2 0h0m-118 1h0m1 0h0m1 0h0m4 0h0m1 0h0m49 0h0m1 0h0m1 0h0m1 0h0m1 0h0m1 0h0m2 0h0m2 0h0m7 0h0m2 0h0m1 0h0m3 0h0m2 0h0m1 0h0m2 0h0m1 0h0m9 0h0m1 0h0m1 0h0m1 0h0m3 0h0m2 0h0m3 0h0m8 0h0m1 0h0m1 0h0m1 0h0m3 0h0m-118 1h0m1 0h0m2 0h0m1 0h0m1 0h0m1 0h0m50 0h0m1 0h0m2 0h0m1 0h0m1 0h0m2 0h0m3 0h0m1 0h0m1 0h0m1 0h0m2 0h0m1 0h0m3 0h0m3 0h0m2 0h0m2 0h0m1 0h0m2 0h0m3 0h0m2 0h0m2 0h0m3 0h0m1 0h0m2 0h0m1 0h0m7 0h0m1 0h0m5 0h0m-114 1h0m1 0h0m3 0h0m1 0h0m3 0h0m52 0h0m1 0h0m2 0h0m1 0h0m4 0h0m1 0h0m1 0h0m2 0h0m2 0h0m1 0h0m1 0h0m1 0h0m1 0h0m1 0h0m3 0h0m2 0h0m1 0h0m1 0h0m3 0h0m1 0h0m4 0h0m1 0h0m1 0h0m3 0h0m2 0h0m2 0h0m1 0h0m1 0h0m7 0h0m2 0h0m1 0h0m2 0h0m1 0h0m-117 1h0m3 0h0m1 0h0m57 0h0m1 0h0m1 0h0m2 0h0m1 0h0m6 0h0m1 0h0m3 0h0m6 0h0m1 0h0m3 0h0m2 0h0m2 0h0m3 0h0m1 0h0m6 0h0m4 0h0m2 0h0m1 0h0m1 0h0m1 0h0m5 0h0m1 0h0m2 0h0m-119 1h0m4 0h0m1 0h0m1 0h0m1 0h0m56 0h0m2 0h0m1 0h0m1 0h0m1 0h0m2 0h0m4 0h0m2 0h0m3 0h0m5 0h0m3 0h0m1 0h0m3 0h0m1 0h0m2 0h0m1 0h0m3 0h0m4 0h0m2 0h0m1 0h0m4 0h0m2 0h0m-110 1h0m2 0h0m1 0h0m1 0h0m59 0h0m2 0h0m5 0h0m2 0h0m3 0h0m3 0h0m1 0h0m2 0h0m4 0h0m1 0h0m2 0h0m5 0h0m1 0h0m9 0h0m2 0h0m1 0h0m2 0h0m1 0h0m-110 1h0m5 0h0m1 0h0m57 0h0m1 0h0m11 0h0m3 0h0m7 0h0m2 0h0m19 0h0m2 0h0m2 0h0m-109 1h0m61 0h0m2 0h0m1 0h0m1 0h0m4 0h0m4 0h0m12 0h0m19 0h0m1 0h0m-106 1h0m2 0h0m1 0h0m1 0h0m58 0h0m4 0h0m3 0h0m1 0h0m1 0h0m1 0h0m1 0h0m2 0h0m2 0h0m-16 1h0m1 0h0m2 0h0m2 0h0m3 0h0m1 0h0m-70 1h0m60 0h0m3 0h0m1 0h0m1 0h0m1 0h0m-66 1h0m1 0h0m1 0h0m1 0h0m59 0h0m4 0h0m1 0h0m1 0h0m1 0h0m1 0h0m1 0h0m-71 1h0m1 0h0m1 0h0m1 0h0m1 0h0m55 0h0m1 0h0m1 0h0m1 0h0m2 0h0m1 0h0m3 0h0m5 0h0m-71 1h0m2 0h0m54 0h0m4 0h0m1 0h0m1 0h0m1 0h0m4 0h0m3 0h0m-71 1h0m3 0h0m53 0h0m2 0h0m1 0h0m1 0h0m1 0h0m1 0h0m1 0h0m2 0h0m1 0h0m-67 1h0m4 0h0m1 0h0m50 0h0m2 0h0m1 0h0m1 0h0m1 0h0m8 0h0m-68 1h0m1 0h0m4 0h0m49 0h0m1 0h0m3 0h0m1 0h0m1 0h0m3 0h0m3 0h0m-62 1h0m1 0h0m1 0h0m45 0h0m1 0h0m1 0h0m1 0h0m1 0h0m2 0h0m1 0h0m1 0h0m3 0h0m1 0h0m1 0h0m-62 1h0m2 0h0m1 0h0m1 0h0m44 0h0m1 0h0m1 0h0m3 0h0m1 0h0m2 0h0m1 0h0m1 0h0m-57 1h0m2 0h0m39 0h0m3 0h0m4 0h0m3 0h0m2 0h0m2 0h0m1 0h0m1 0h0m1 0h0m2 0h0m-60 1h0m2 0h0m1 0h0m1 0h0m31 0h0m3 0h0m3 0h0m3 0h0m1 0h0m4 0h0m8 0h0m1 0h0m1 0h0m1 0h0m-62 1h0m2 0h0m1 0h0m2 0h0m1 0h0m27 0h0m2 0h0m2 0h0m3 0h0m1 0h0m5 0h0m1 0h0m3 0h0m1 0h0m1 0h0m3 0h0m2 0h0m1 0h0m1 0h0m3 0h0m-57 1h0m1 0h0m24 0h0m2 0h0m1 0h0m1 0h0m1 0h0m2 0h0m1 0h0m1 0h0m4 0h0m1 0h0m1 0h0m2 0h0m2 0h0m1 0h0m1 0h0m3 0h0m5 0h0m-51 1h0m20 0h0m3 0h0m2 0h0m1 0h0m7 0h0m4 0h0m1 0h0m4 0h0m2 0h0m1 0h0m-47 1h0m1 0h0m1 0h0m1 0h0m18 0h0m2 0h0m1 0h0m1 0h0m1 0h0m1 0h0m1 0h0m1 0h0m3 0h0m3 0h0m1 0h0m1 0h0m2 0h0m3 0h0m3 0h0m-45 1h0m1 0h0m1 0h0m1 0h0m2 0h0m12 0h0m1 0h0m1 0h0m1 0h0m3 0h0m2 0h0m2 0h0m1 0h0m1 0h0m3 0h0m2 0h0m6 0h0m-40 1h0m2 0h0m13 0h0m3 0h0m2 0h0m4 0h0m1 0h0m1 0h0m2 0h0m5 0h0m3 0h0m-34 1h0m1 0h0m3 0h0m10 0h0m2 0h0m2 0h0m5 0h0m1 0h0m4 0h0m1 0h0m-29 1h0m3 0h0m1 0h0m1 0h0m1 0h0m5 0h0m1 0h0m3 0h0m2 0h0m1 0h0m1 0h0m1 0h0m4 0h0m1 0h0m1 0h0m-28 1h0m1 0h0m2 0h0m3 0h0m2 0h0m1 0h0m1 0h0m1 0h0m2 0h0m1 0h0m1 0h0m1 0h0m4 0h0m8 0h0m-23 1h0m1 0h0m2 0h0m1 0h0m2 0h0m1 0h0m4 0h0m3 0h0m-16 1h0m2 0h0m3 0h0m1 0h0m3 0h0m2 0h0m1 0h0m1 0h0m1 0h0m-9 1h0m4 0h0m2 0h0m3 0h0m1 0h0m-11 1h0m3 0h0m3 0h0m2 0h0m1 0h0m-9 1h0m3 0h0m5 0h0m2 0h0m-12 1h0m1 0h0m1 0h0m2 0h0m1 0h0m1 0h0m4 0h0m1 0h0m-11 1h0m1 0h0m1 0h0m3 0h0m3 0h0m1 0h0m-10 1h0m8 0h0m-9 1h0m1 0h0m2 0h0m1 0h0m2 0h0m3 0h0m1 0h0m1 0h0m2 0h0m-12 1h0m1 0h0m2 0h0m1 0h0m3 0h0m2 0h0m-9 1h0m2 0h0m2 0h0m1 0h0m5 0h0m-7 1h0m1 0h0m1 0h0m1 0h0m3 0h0m-7 1h0m6 0h0m-7 1h0m3 0h0m2 0h0m1 1h0m1 0h0m-3 5h0m1 0h0m-2 2h0m4 0h0m-5 1h0m2 0h0m1 0h0m1 0h0m-2 1h0m1 1h0m1 0h0m-6 1h0m3 0h0m1 0h0m1 0h0m2 0h0m-2 1h0m4 0h0m-8 1h0m1 0h0m2 0h0m1 0h0m5 0h0m-12 1h0m1 0h0m3 0h0m1 0h0m2 0h0m-8 1h0m2 0h0m2 0h0m3 0h0m1 0h0m7 0h0m-13 1h0m3 0h0m1 0h0m1 0h0m1 0h0m2 0h0m4 0h0m1 0h0m1 0h0m-13 1h0m2 0h0m1 0h0m1 0h0m1 0h0m1 0h0m1 0h0m1 0h0m3 0h0m-14 1h0m1 0h0m3 0h0m3 0h0m1 0h0m6 0h0m1 0h0m-15 1h0m2 0h0m1 0h0m1 0h0m1 0h0m8 0h0m2 0h0m-16 1h0m1 0h0m1 0h0m14 0h0m1 0h0m4 0h0m-21 1h0m3 0h0m16 0h0m3 0h0m-22 1h0m18 0h0m1 0h0m3 0h0m-25 1h0m1 0h0m2 0h0m19 0h0m-21 1h0m2 0h0m21 0h0m-24 1h0m22 0h0m5 0h0m-26 1h0m22 0h0m1 0h0m-22 1h0m21 0h0m1 0h0m1 0h0m-24 1h0m2 0h0m19 0h0m2 0h0m1 0h0m3 0h0m-27 1h0m1 0h0m1 0h0m19 0h0m1 0h0m1 0h0m2 0h0m-24 1h0m1 0h0m1 0h0m18 0h0m5 0h0m-27 1h0m3 0h0m20 0h0m-21 1h0m3 0h0m17 0h0m1 0h0m0 1h0m2 0h0m-24 1h0m2 0h0m1 0h0m2 0h0m12 0h0m3 0h0m3 0h0m1 0h0m1 0h0m-21 1h0m1 0h0m1 0h0m2 0h0m3 0h0m1 0h0m7 0h0m1 0h0m1 0h0m1 0h0m1 0h0m-21 1h0m2 0h0m2 0h0m3 0h0m1 0h0m3 0h0m4 0h0m1 0h0m1 0h0m1 0h0m2 0h0m-18 1h0m11 0h0m1 0h0m1 0h0m2 0h0m2 0h0m1 0h0m-15 1h0m1 0h0m4 0h0m3 0h0m1 0h0m1 0h0m-10 1h0m1 0h0m4 0h0m2 0h0m4 0h0m-8 1h0m4 0h0m2 0h0m2 0h0m-3 1h0" stroke="#3a2896" stroke-width="2.4" stroke-linecap="square"/><path transform="scale(.5)" d="M142 907h0m2 0h0m1 0h0m-6 1h0m3 0h0m1 0h0m1 0h0m1 0h0m1 0h0m1 0h0m2 0h0m2 0h0m3 0h0m4 0h0m6 0h0m-25 1h0m2 0h0m1 0h0m1 0h0m1 0h0m2 0h0m1 0h0m1 0h0m1 0h0m1 0h0m1 0h0m1 0h0m1 0h0m1 0h0m3 0h0m1 0h0m1 0h0m2 0h0m1 0h0m2 0h0m1 0h0m-27 1h0m5 0h0m1 0h0m2 0h0m1 0h0m1 0h0m2 0h0m1 0h0m1 0h0m1 0h0m1 0h0m1 0h0m1 0h0m2 0h0m1 0h0m1 0h0m1 0h0m1 0h0m1 0h0m4 0h0m1 0h0m2 0h0m-33 1h0m15 0h0m1 0h0m1 0h0m2 0h0m9 0h0m1 0h0m1 0h0m1 0h0m1 0h0m1 0h0m1 0h0m-36 1h0m1 0h0m1 0h0m1 0h0m30 0h0m1 0h0m2 0h0m3 0h0m1 0h0m-40 1h0m1 0h0m33 0h0m1 0h0m1 0h0m2 0h0m1 0h0m2 0h0m-42 1h0m1 0h0m36 0h0m1 0h0m1 0h0m1 0h0m1 0h0m2 0h0m1 0h0m1 0h0m2 0h0m-47 1h0m1 0h0m37 0h0m2 0h0m2 0h0m1 0h0m3 0h0m-50 1h0m1 0h0m1 0h0m42 0h0m1 0h0m1 0h0m1 0h0m1 0h0m1 0h0m1 0h0m1 0h0m1 0h0m-52 1h0m2 0h0m1 0h0m41 0h0m2 0h0m1 0h0m1 0h0m2 0h0m1 0h0m1 0h0m1 0h0m1 0h0m-55 1h0m45 0h0m1 0h0m1 0h0m1 0h0m2 0h0m1 0h0m1 0h0m1 0h0m1 0h0m1 0h0m-55 1h0m1 0h0m1 0h0m45 0h0m1 0h0m1 0h0m1 0h0m2 0h0m2 0h0m-54 1h0m1 0h0m46 0h0m1 0h0m1 0h0m1 0h0m1 0h0m1 0h0m1 0h0m2 0h0m-56 1h0m1 0h0m48 0h0m1 0h0m1 0h0m1 0h0m1 0h0m1 0h0m-55 1h0m1 0h0m1 0h0m47 0h0m1 0h0m2 0h0m1 0h0m1 0h0m1 0h0m1 0h0m-55 1h0m1 0h0m49 0h0m1 0h0m1 0h0m1 0h0m1 0h0m-55 1h0m50 0h0m1 0h0m-51 1h0m1 0h0m47 0h0m1 0h0m2 0h0m1 0h0m2 0h0m1 0h0m-56 1h0m2 0h0m47 0h0m1 0h0m1 0h0m1 0h0m1 0h0m1 0h0m-7 1h0m1 0h0m2 0h0m2 0h0m1 0h0m1 0h0m-53 1h0m1 0h0m44 0h0m1 0h0m1 0h0m2 0h0m1 0h0m2 0h0m-52 1h0m1 0h0m1 0h0m41 0h0m4 0h0m2 0h0m-48 1h0m40 0h0m1 0h0m1 0h0m1 0h0m1 0h0m1 0h0m1 0h0m-45 1h0m37 0h0m2 0h0m1 0h0m1 0h0m-40 1h0m27 0h0m2 0h0m1 0h0m2 0h0m1 0h0m1 0h0m1 0h0m1 0h0m1 0h0m1 0h0m-39 1h0m1 0h0m1 0h0m23 0h0m1 0h0m1 0h0m1 0h0m1 0h0m1 0h0m1 0h0m1 0h0m1 0h0m1 0h0m1 0h0m1 0h0m2 0h0m-37 1h0m1 0h0m21 0h0m2 0h0m1 0h0m3 0h0m4 0h0m1 0h0m2 0h0m-34 1h0m1 0h0m18 0h0m1 0h0m4 0h0m-23 1h0m1 0h0m14 0h0m2 0h0m2 0h0m-18 1h0m1 0h0m1 0h0m10 0h0m4 0h0m1 0h0m1 0h0m1 0h0m-19 1h0m2 0h0m1 0h0m7 0h0m1 0h0m1 0h0m1 0h0m-11 1h0m1 0h0m1 0h0m2 0h0m3 0h0m3 0h0m-7 1h0m1 0h0m1 0h0m1 0h0m1 0h0m-6 1h0m1 0h0m2 0h0m1 0h0m1 0h0m2 0h0m-5 35h0m3 0h0m2 0h0m-8 1h0m2 0h0m3 0h0m1 0h0m1 0h0m1 0h0m1 0h0m-11 1h0m1 0h0m2 0h0m1 0h0m1 0h0m3 0h0m1 0h0m1 0h0m1 0h0m-11 1h0m1 0h0m2 0h0m8 0h0m1 0h0m1 0h0m-14 1h0m1 0h0m2 0h0m10 0h0m1 0h0m-13 1h0m12 0h0m2 0h0m-16 1h0m1 0h0m1 0h0m14 0h0m-16 1h0m16 0h0m-16 1h0m1 0h0m-1 1h0m18 0h0m-1 1h0m-17 1h0m1 0h0m15 0h0m-15 1h0m15 0h0m-15 1h0m1 0h0m1 0h0m12 0h0m1 0h0m-15 1h0m3 0h0m11 0h0m1 0h0m-10 1h0m7 0h0m1 0h0m-9 1h0m1 0h0m1 0h0m2 0h0m1 0h0m2 0h0m1 0h0m1 0h0m1 0h0m-9 1h0m1 0h0m2 0h0m1 0h0m1 0h0m2 0h0m1 0h0" stroke="#3430aa" stroke-width="2.4" stroke-linecap="square"/><path transform="scale(.5)" d="M142 910h0m1 0h0m1 0h0m1 0h0m3 0h0m2 0h0m9 0h0m1 0h0m2 0h0m1 0h0m1 0h0m-24 1h0m1 0h0m4 0h0m1 0h0m1 0h0m1 0h0m1 0h0m1 0h0m1 0h0m4 0h0m1 0h0m1 0h0m1 0h0m2 0h0m1 0h0m1 0h0m1 0h0m1 0h0m2 0h0m-26 1h0m7 0h0m1 0h0m1 0h0m1 0h0m2 0h0m4 0h0m1 0h0m2 0h0m1 0h0m1 0h0m1 0h0m1 0h0m1 0h0m1 0h0m1 0h0m-29 1h0m1 0h0m28 0h0m1 0h0m1 0h0m1 0h0m-32 1h0m32 0h0m1 0h0m1 0h0m-36 1h0m1 0h0m33 0h0m1 0h0m1 0h0m1 0h0m-2 1h0m1 0h0m1 0h0m-38 1h0m36 0h0m1 0h0m-38 1h0m38 0h0m1 0h0m1 0h0m1 0h0m-43 1h0m40 0h0m3 0h0m1 0h0m-45 1h0m42 0h0m2 0h0m1 0h0m1 0h0m-46 1h0m1 0h0m41 0h0m1 0h0m1 0h0m1 0h0m1 0h0m-46 1h0m41 0h0m1 0h0m1 0h0m1 0h0m1 0h0m1 0h0m-46 1h0m42 0h0m1 0h0m1 0h0m1 0h0m1 0h0m-4 1h0m1 0h0m1 0h0m1 0h0m-46 1h0m43 0h0m1 0h0m1 0h0m1 0h0m-46 1h0m41 0h0m1 0h0m1 0h0m1 0h0m1 0h0m1 0h0m-46 1h0m40 0h0m1 0h0m1 0h0m-42 1h0m39 0h0m1 0h0m1 0h0m1 0h0m1 0h0m-43 1h0m1 0h0m36 0h0m1 0h0m1 0h0m1 0h0m-39 1h0m27 0h0m1 0h0m1 0h0m1 0h0m1 0h0m1 0h0m3 0h0m1 0h0m3 0h0m-38 1h0m24 0h0m1 0h0m1 0h0m2 0h0m1 0h0m1 0h0m1 0h0m1 0h0m3 0h0m1 0h0m-13 1h0m1 0h0m3 0h0m2 0h0m2 0h0m-30 1h0m20 0h0m1 0h0m1 0h0m2 0h0m-23 1h0m14 0h0m2 0h0m1 0h0m1 0h0m-18 1h0m1 0h0m11 0h0m3 0h0m1 0h0m1 0h0m-17 1h0m1 0h0m1 0h0m11 0h0m1 0h0m-12 1h0m1 0h0m7 0h0m1 0h0m1 0h0m1 0h0m-9 1h0m3 0h0m1 0h0m1 0h0m1 0h0m-7 1h0m1 0h0m1 0h0m2 0h0m2 0h0m-5 39h0m1 0h0m1 0h0m1 0h0m1 0h0m-3 1h0m1 0h0m1 0h0m1 0h0m1 0h0m1 0h0m1 0h0m-10 1h0m1 0h0m1 0h0m1 0h0m7 0h0m-10 1h0m1 0h0m10 0h0m-12 1h0m1 0h0m12 0h0m-13 1h0m14 0h0m-14 1h0m14 0h0m-14 1h0m0 1h0m14 0h0m-14 1h0m13 0h0m-13 1h0m1 1h0m1 0h0m9 0h0m-10 1h0m1 0h0m1 0h0m6 0h0m2 0h0m1 0h0m-9 1h0m1 0h0m2 0h0m1 0h0m1 0h0m2 0h0m1 0h0m-4 1h0m1 0h0m1 0h0" stroke="#2a52d0" stroke-width="2.4" stroke-linecap="square"/><path transform="scale(.5)" d="M142 911h0m2 0h0m1 0h0m-5 1h0m1 0h0m1 0h0m1 0h0m1 0h0m1 0h0m1 0h0m1 0h0m2 0h0m2 0h0m1 0h0m1 0h0m1 0h0m1 0h0m1 0h0m1 0h0m1 0h0m2 0h0m2 0h0m2 0h0m1 0h0m-25 1h0m1 0h0m1 0h0m1 0h0m1 0h0m4 0h0m1 0h0m1 0h0m1 0h0m1 0h0m1 0h0m1 0h0m1 0h0m1 0h0m1 0h0m1 0h0m1 0h0m1 0h0m1 0h0m1 0h0m1 0h0m2 0h0m-26 1h0m1 0h0m11 0h0m1 0h0m1 0h0m1 0h0m3 0h0m6 0h0m1 0h0m2 0h0m1 0h0m1 0h0m-31 1h0m2 0h0m27 0h0m1 0h0m1 0h0m1 0h0m-35 1h0m1 0h0m2 0h0m30 0h0m1 0h0m1 0h0m-34 1h0m1 0h0m32 0h0m1 0h0m-36 1h0m1 0h0m1 0h0m34 0h0m1 0h0m-37 1h0m1 0h0m35 0h0m1 0h0m-39 1h0m1 0h0m1 0h0m36 0h0m1 0h0m-39 1h0m38 0h0m1 0h0m0 1h0m1 0h0m-40 1h0m38 0h0m1 0h0m1 0h0m-41 1h0m1 0h0m37 0h0m1 0h0m1 0h0m1 0h0m-41 1h0m38 0h0m1 0h0m1 0h0m1 0h0m-41 1h0m39 0h0m-4 1h0m1 0h0m1 0h0m1 0h0m-38 1h0m33 0h0m1 0h0m2 0h0m1 0h0m1 0h0m-38 1h0m1 0h0m26 0h0m3 0h0m2 0h0m1 0h0m1 0h0m1 0h0m1 0h0m1 0h0m-36 1h0m26 0h0m1 0h0m1 0h0m1 0h0m1 0h0m1 0h0m1 0h0m1 0h0m-33 1h0m1 0h0m19 0h0m2 0h0m1 0h0m1 0h0m2 0h0m-25 1h0m1 0h0m17 0h0m1 0h0m-18 1h0m1 0h0m15 0h0m1 0h0m1 0h0m1 0h0m-19 1h0m1 0h0m1 0h0m11 0h0m1 0h0m1 0h0m2 0h0m-16 1h0m1 0h0m1 0h0m8 0h0m1 0h0m1 0h0m-11 1h0m2 0h0m1 0h0m1 0h0m2 0h0m2 0h0m1 0h0m1 0h0m-8 1h0m2 0h0m1 0h0m1 0h0m1 0h0m1 0h0m-2 1h0m1 0h0m-3 41h0m1 0h0m2 0h0m1 0h0m-6 1h0m1 0h0m1 0h0m1 0h0m1 0h0m1 0h0m1 0h0m1 0h0m-7 1h0m6 0h0m1 0h0m1 0h0m-11 1h0m10 0h0m1 0h0m-11 1h0m11 0h0m1 0h0m-13 1h0m1 0h0m12 0h0m-13 1h0m1 0h0m11 0h0m1 0h0m-12 1h0m12 0h0m-13 1h0m1 0h0m11 0h0m1 0h0m-12 1h0m1 0h0m9 0h0m1 0h0m-8 1h0m6 0h0m1 0h0m1 0h0m-7 1h0m3 0h0m1 0h0m2 0h0m-5 1h0m1 0h0m1 0h0m1 0h0" stroke="#2a90e0" stroke-width="2.4" stroke-linecap="square"/><path transform="scale(.5)" d="M141 913h0m1 0h0m2 0h0m1 0h0m1 0h0m1 0h0m1 0h0m1 0h0m1 0h0m10 0h0m1 0h0m1 0h0m1 0h0m-23 1h0m1 0h0m1 0h0m1 0h0m1 0h0m1 0h0m1 0h0m1 0h0m1 0h0m1 0h0m3 0h0m1 0h0m1 0h0m1 0h0m2 0h0m1 0h0m1 0h0m1 0h0m1 0h0m1 0h0m1 0h0m2 0h0m-26 1h0m1 0h0m1 0h0m7 0h0m1 0h0m1 0h0m2 0h0m1 0h0m1 0h0m1 0h0m2 0h0m1 0h0m1 0h0m2 0h0m1 0h0m1 0h0m1 0h0m1 0h0m1 0h0m-29 1h0m1 0h0m1 0h0m25 0h0m1 0h0m1 0h0m1 0h0m-31 1h0m1 0h0m1 0h0m27 0h0m1 0h0m1 0h0m-32 1h0m1 0h0m1 0h0m29 0h0m1 0h0m1 0h0m-34 1h0m1 0h0m31 0h0m2 0h0m-34 1h0m33 0h0m1 0h0m-36 1h0m1 0h0m34 0h0m-36 1h0m1 0h0m1 0h0m32 0h0m1 0h0m1 0h0m1 0h0m-36 1h0m34 0h0m1 0h0m1 0h0m-37 1h0m35 0h0m1 0h0m-36 1h0m35 0h0m1 0h0m-37 1h0m1 0h0m32 0h0m1 0h0m1 0h0m1 0h0m-35 1h0m28 0h0m3 0h0m2 0h0m1 0h0m-34 1h0m24 0h0m2 0h0m1 0h0m1 0h0m1 0h0m1 0h0m1 0h0m1 0h0m1 0h0m1 0h0m-10 1h0m1 0h0m1 0h0m2 0h0m1 0h0m1 0h0m-29 1h0m19 0h0m1 0h0m1 0h0m1 0h0m1 0h0m1 0h0m-24 1h0m1 0h0m16 0h0m1 0h0m1 0h0m-19 1h0m15 0h0m1 0h0m1 0h0m1 0h0m1 0h0m-18 1h0m2 0h0m10 0h0m1 0h0m1 0h0m2 0h0m-13 1h0m1 0h0m5 0h0m2 0h0m1 0h0m-9 1h0m2 0h0m1 0h0m1 0h0m2 0h0m1 0h0m-4 1h0m1 0h0m2 0h0m-2 1h0m-1 43h0m1 0h0m2 0h0m-5 1h0m1 0h0m2 0h0m3 0h0m1 0h0m-9 1h0m1 0h0m7 0h0m1 0h0m-9 1h0m1 0h0m8 0h0m1 0h0m-11 1h0m1 0h0m10 0h0m-10 1h0m10 0h0m-11 1h0m1 0h0m10 0h0m-10 1h0m9 0h0m-8 1h0m1 0h0m-2 1h0m3 0h0m1 0h0m1 0h0m1 0h0m1 0h0m-5 1h0m2 0h0m1 0h0m1 0h0" stroke="#20c0c0" stroke-width="2.4" stroke-linecap="square"/><path transform="scale(.5)" d="M143 914h0m1 0h0m1 0h0m1 0h0m1 0h0m-8 1h0m1 0h0m1 0h0m1 0h0m1 0h0m1 0h0m1 0h0m1 0h0m1 0h0m1 0h0m3 0h0m3 0h0m1 0h0m1 0h0m1 0h0m1 0h0m3 0h0m1 0h0m-23 1h0m1 0h0m1 0h0m1 0h0m4 0h0m1 0h0m1 0h0m1 0h0m1 0h0m1 0h0m1 0h0m1 0h0m1 0h0m1 0h0m1 0h0m1 0h0m1 0h0m1 0h0m1 0h0m1 0h0m1 0h0m1 0h0m1 0h0m-25 1h0m1 0h0m1 0h0m1 0h0m3 0h0m1 0h0m1 0h0m1 0h0m1 0h0m1 0h0m1 0h0m1 0h0m1 0h0m1 0h0m1 0h0m1 0h0m1 0h0m1 0h0m2 0h0m1 0h0m1 0h0m1 0h0m1 0h0m1 0h0m-29 1h0m1 0h0m1 0h0m1 0h0m1 0h0m13 0h0m1 0h0m1 0h0m1 0h0m1 0h0m1 0h0m1 0h0m2 0h0m2 0h0m1 0h0m1 0h0m1 0h0m-32 1h0m1 0h0m1 0h0m2 0h0m22 0h0m1 0h0m1 0h0m1 0h0m1 0h0m1 0h0m1 0h0m-32 1h0m1 0h0m1 0h0m1 0h0m26 0h0m1 0h0m1 0h0m1 0h0m-32 1h0m1 0h0m28 0h0m1 0h0m1 0h0m1 0h0m-33 1h0m1 0h0m29 0h0m1 0h0m1 0h0m1 0h0m-33 1h0m1 0h0m28 0h0m1 0h0m1 0h0m1 0h0m-33 1h0m1 0h0m27 0h0m2 0h0m1 0h0m2 0h0m-33 1h0m1 0h0m22 0h0m2 0h0m1 0h0m1 0h0m1 0h0m1 0h0m1 0h0m1 0h0m1 0h0m-33 1h0m1 0h0m1 0h0m20 0h0m3 0h0m1 0h0m1 0h0m1 0h0m1 0h0m1 0h0m1 0h0m1 0h0m1 0h0m-32 1h0m1 0h0m19 0h0m1 0h0m2 0h0m1 0h0m1 0h0m1 0h0m2 0h0m1 0h0m1 0h0m-30 1h0m1 0h0m16 0h0m1 0h0m1 0h0m1 0h0m1 0h0m1 0h0m1 0h0m1 0h0m1 0h0m-25 1h0m1 0h0m1 0h0m14 0h0m2 0h0m1 0h0m1 0h0m1 0h0m-21 1h0m1 0h0m1 0h0m12 0h0m1 0h0m1 0h0m1 0h0m1 0h0m1 0h0m-19 1h0m1 0h0m1 0h0m1 0h0m1 0h0m7 0h0m1 0h0m1 0h0m1 0h0m1 0h0m1 0h0m2 0h0m-16 1h0m1 0h0m1 0h0m1 0h0m4 0h0m1 0h0m2 0h0m1 0h0m1 0h0m1 0h0m1 0h0m-13 1h0m1 0h0m1 0h0m1 0h0m1 0h0m1 0h0m2 0h0m1 0h0m1 0h0m1 0h0m1 0h0m-10 1h0m1 0h0m1 0h0m1 0h0m1 0h0m1 0h0m1 0h0m1 0h0m1 0h0m-7 1h0m1 0h0m1 0h0m1 0h0m2 0h0m-4 46h0m1 0h0m1 0h0m1 0h0m1 0h0m-5 1h0m1 0h0m1 0h0m1 0h0m1 0h0m1 0h0m1 0h0m-7 1h0m1 0h0m1 0h0m1 0h0m1 0h0m1 0h0m1 0h0m1 0h0m1 0h0m-9 1h0m1 0h0m1 0h0m6 0h0m1 0h0m-8 1h0m1 0h0m5 0h0m1 0h0m1 0h0m-8 1h0m1 0h0m5 0h0m1 0h0m1 0h0m-8 1h0m1 0h0m1 0h0m1 0h0m1 0h0m1 0h0m1 0h0m1 0h0m1 0h0m-7 1h0m1 0h0m1 0h0m1 0h0m1 0h0m1 0h0m1 0h0m-5 1h0m1 0h0m1 0h0m1 0h0m1 0h0" stroke="#22c070" stroke-width="2.4" stroke-linecap="square"/><path transform="scale(.5)" d="M142 916h0m1 0h0m1 0h0m-3 1h0m1 0h0m1 0h0m3 0h0m1 0h0m2 0h0m1 0h0m1 0h0m1 0h0m-11 1h0m1 0h0m1 0h0m1 0h0m1 0h0m1 0h0m1 0h0m1 0h0m1 0h0m1 0h0m1 0h0m1 0h0m1 0h0m1 0h0m1 0h0m1 0h0m1 0h0m2 0h0m1 0h0m-22 1h0m1 0h0m1 0h0m1 0h0m1 0h0m1 0h0m2 0h0m1 0h0m1 0h0m1 0h0m1 0h0m1 0h0m1 0h0m1 0h0m1 0h0m1 0h0m1 0h0m1 0h0m1 0h0m1 0h0m1 0h0m1 0h0m1 0h0m1 0h0m-26 1h0m1 0h0m1 0h0m1 0h0m9 0h0m1 0h0m1 0h0m1 0h0m1 0h0m1 0h0m1 0h0m1 0h0m1 0h0m1 0h0m1 0h0m1 0h0m1 0h0m1 0h0m1 0h0m-28 1h0m1 0h0m2 0h0m13 0h0m2 0h0m1 0h0m1 0h0m1 0h0m1 0h0m1 0h0m1 0h0m1 0h0m1 0h0m1 0h0m1 0h0m-28 1h0m1 0h0m16 0h0m1 0h0m1 0h0m1 0h0m1 0h0m1 0h0m1 0h0m1 0h0m1 0h0m1 0h0m1 0h0m1 0h0m-28 1h0m1 0h0m17 0h0m1 0h0m1 0h0m1 0h0m1 0h0m1 0h0m1 0h0m1 0h0m1 0h0m1 0h0m1 0h0m-29 1h0m1 0h0m1 0h0m16 0h0m1 0h0m1 0h0m1 0h0m1 0h0m1 0h0m1 0h0m1 0h0m2 0h0m-26 1h0m16 0h0m1 0h0m1 0h0m1 0h0m1 0h0m2 0h0m1 0h0m1 0h0m1 0h0m-26 1h0m1 0h0m13 0h0m1 0h0m1 0h0m1 0h0m1 0h0m1 0h0m1 0h0m1 0h0m-20 1h0m12 0h0m1 0h0m1 0h0m1 0h0m1 0h0m1 0h0m1 0h0m-18 1h0m1 0h0m10 0h0m1 0h0m1 0h0m1 0h0m1 0h0m1 0h0m1 0h0m-17 1h0m1 0h0m9 0h0m1 0h0m1 0h0m1 0h0m-13 1h0m1 0h0m1 0h0m1 0h0m6 0h0m1 0h0m1 0h0m1 0h0m-11 1h0m1 0h0m1 0h0m1 0h0m1 0h0m1 0h0m1 0h0m1 0h0m1 0h0m1 0h0m1 0h0m-8 1h0m1 0h0m1 0h0m1 0h0m2 0h0m1 0h0m-5 1h0m1 0h0m1 0h0m1 0h0m-4 50h0m1 0h0m1 0h0m1 0h0m1 0h0m1 0h0m-4 1h0m1 0h0m1 0h0m1 0h0m1 0h0m-4 1h0m1 0h0m1 0h0m1 0h0m1 0h0m-4 1h0m1 0h0m1 0h0m1 0h0m1 0h0m-4 1h0m1 0h0m2 0h0m1 0h0" stroke="#7cd030" stroke-width="2.4" stroke-linecap="square"/><path transform="scale(.5)" d="M140 919h0m1 0h0m1 0h0m1 0h0m2 0h0m1 0h0m1 0h0m-8 1h0m1 0h0m1 0h0m1 0h0m1 0h0m1 0h0m1 0h0m1 0h0m1 0h0m1 0h0m-11 1h0m1 0h0m1 0h0m1 0h0m1 0h0m1 0h0m1 0h0m1 0h0m1 0h0m1 0h0m1 0h0m1 0h0m2 0h0m-14 1h0m1 0h0m1 0h0m1 0h0m6 0h0m1 0h0m1 0h0m1 0h0m1 0h0m2 0h0m-15 1h0m1 0h0m9 0h0m1 0h0m1 0h0m1 0h0m1 0h0m1 0h0m-16 1h0m1 0h0m9 0h0m1 0h0m1 0h0m1 0h0m1 0h0m1 0h0m1 0h0m-16 1h0m1 0h0m9 0h0m1 0h0m1 0h0m1 0h0m1 0h0m1 0h0m-15 1h0m9 0h0m1 0h0m1 0h0m2 0h0m-14 1h0m1 0h0m1 0h0m7 0h0m1 0h0m1 0h0m-10 1h0m1 0h0m5 0h0m1 0h0m1 0h0m1 0h0m1 0h0m-9 1h0m1 0h0m2 0h0m1 0h0m1 0h0m1 0h0m1 0h0m1 0h0m-8 1h0m1 0h0m1 0h0m1 0h0m1 0h0m1 0h0m1 0h0m1 0h0m-5 1h0m1 0h0m1 0h0m1 0h0" stroke="#e8e020" stroke-width="2.4" stroke-linecap="square"/><path transform="scale(.5)" d="M141 921h0m1 0h0m1 0h0m1 0h0m-6 1h0m1 0h0m1 0h0m1 0h0m1 0h0m1 0h0m1 0h0m1 0h0m-8 1h0m1 0h0m1 0h0m1 0h0m2 0h0m1 0h0m1 0h0m1 0h0m-9 1h0m1 0h0m5 0h0m1 0h0m1 0h0m1 0h0m-10 1h0m1 0h0m1 0h0m6 0h0m1 0h0m-8 1h0m1 0h0m4 0h0m1 0h0m1 0h0m1 0h0m-8 1h0m1 0h0m4 0h0m1 0h0m-5 1h0m2 0h0m1 0h0m1 0h0m-4 1h0m1 0h0m1 0h0m1 0h0m1 0h0" stroke="#ff9000" stroke-width="2.4" stroke-linecap="square"/><path transform="scale(.5)" d="M139 923h0m1 0h0m-3 1h0m1 0h0m1 0h0m1 0h0m1 0h0m1 0h0m-5 1h0m1 0h0m1 0h0m1 0h0m1 0h0m1 0h0m-5 1h0m1 0h0m1 0h0m1 0h0m1 0h0m-4 1h0m1 0h0m1 0h0m1 0h0m1 0h0m-3 1h0m1 0h0m1 0h0" stroke="#f02010" stroke-width="2.4" stroke-linecap="square"/></g><rect x="49.6" y="326.9" width="78.2" height="80.6" fill="none" stroke="#1a1a1a" stroke-width="0.9"/><line x1="84.2" y1="326.9" x2="84.2" y2="407.5" stroke="#222" stroke-width="0.8"/><line x1="49.6" y1="363.1" x2="127.8" y2="363.1" stroke="#222" stroke-width="0.8"/><rect x="84.2" y="327.2" width="43.3" height="35.9" fill="none" stroke="#1f5b99" stroke-width="1.5"/><text transform="translate(125.8,335.6)" font-size="7.8" fill="#2f6db0" text-anchor="end">0.63</text><rect x="49.6" y="436.9" width="80" height="80.1" fill="none" stroke="#1a1a1a" stroke-width="0.9"/><line x1="83.8" y1="436.9" x2="83.8" y2="517" stroke="#777" stroke-width="0.8"/><line x1="49.6" y1="473.7" x2="129.6" y2="473.7" stroke="#777" stroke-width="0.8"/><rect x="83.8" y="437.2" width="45.5" height="36.5" fill="none" stroke="#b51a45" stroke-width="1.5"/><text transform="translate(127.6,445.6)" font-size="8" fill="#c0283c" text-anchor="end">13.2</text><path d="M130.4 454.2H134.2V313.5H147.5" fill="none" stroke="#222" stroke-width="1.1" stroke-dasharray="2 1.3"/><line x1="127.8" y1="345" x2="134.2" y2="345" stroke="#222" stroke-width="1"/><polygon points="151,313.5 147,311.4 147,315.6" fill="#222"/><text transform="translate(333.1,315.4)" font-size="6" fill="#222" text-anchor="middle">CD45+, VECAD+</text><text x="333.1" y="322.6" font-size="5.9" text-anchor="middle" fill="#3d68a8">(Adherent/<tspan fill="#d03050">Suspension</tspan><tspan fill="#555">/Control)</tspan></text><line x1="152.7" y1="326.5" x2="513.4" y2="326.5" stroke="#111" stroke-width="1"/><text transform="translate(150.4,412.3)" font-size="6" fill="#333" text-anchor="end">0</text><text transform="translate(150.4,397.3)" font-size="6" fill="#333" text-anchor="end">20</text><text transform="translate(150.4,382.3)" font-size="6" fill="#333" text-anchor="end">40</text><text transform="translate(150.4,367.3)" font-size="6" fill="#333" text-anchor="end">60</text><text transform="translate(150.4,352.3)" font-size="6" fill="#333" text-anchor="end">80</text><text transform="translate(150.4,337.3)" font-size="6" fill="#333" text-anchor="end">100</text><path d="M155 410.2h-1.6M155 395.2h-1.6M155 380.2h-1.6M155 365.2h-1.6M155 350.2h-1.6M155 335.2h-1.6" stroke="#000" stroke-width="0.7"/><path d="M155 402.7h-1M155 387.7h-1M155 372.7h-1M155 357.7h-1M155 342.7h-1" stroke="#000" stroke-width="0.5"/><text x="159.2" y="421.4" font-size="5.6" fill="#333" text-anchor="middle">−10<tspan dy="-2.52" font-size="3.36">4</tspan></text><text x="191" y="421.4" font-size="5.6" fill="#333" text-anchor="middle">10<tspan dy="-2.52" font-size="3.36">4</tspan></text><text x="207.3" y="421.4" font-size="5.6" fill="#333" text-anchor="middle">10<tspan dy="-2.52" font-size="3.36">5</tspan></text><text x="220.8" y="421.4" font-size="5.6" fill="#333" text-anchor="middle">10<tspan dy="-2.52" font-size="3.36">6</tspan></text><text transform="translate(175,421.4)" font-size="4.6" fill="#333" text-anchor="middle">0</text><path d="M159.2 410.4v1.6M175 410.4v1.6M191 410.4v1.6M207.3 410.4v1.6M220.8 410.4v1.6" stroke="#000" stroke-width="0.7"/><path d="M173.24 410.4v1M171.49 410.4v1M169.73 410.4v1M167.98 410.4v1M166.22 410.4v1M164.47 410.4v1M162.71 410.4v1M160.96 410.4v1M159.2 410.4v1M175 410.4v1M176.78 410.4v1M178.56 410.4v1M180.33 410.4v1M182.11 410.4v1M183.89 410.4v1M185.67 410.4v1M187.44 410.4v1M189.22 410.4v1M191 410.4v1M195.91 410.4v1M198.78 410.4v1M200.81 410.4v1M202.39 410.4v1M203.68 410.4v1M204.78 410.4v1M205.72 410.4v1M206.55 410.4v1M211.36 410.4v1M213.74 410.4v1M215.43 410.4v1M216.74 410.4v1M217.81 410.4v1M218.71 410.4v1M219.49 410.4v1M220.18 410.4v1" stroke="#000" stroke-width="0.45"/><text transform="translate(155,432.7) scale(0.682,1)" font-size="7.4" fill="#111" font-weight="bold">CD41</text><line x1="168" y1="430.2" x2="227.5" y2="430.2" stroke="#1a1a1a" stroke-width="0.8"/><polygon points="230.2,430.2 227,428.6 227,431.8" fill="#1a1a1a"/><text transform="translate(244.6,412.3)" font-size="6" fill="#333" text-anchor="end">0</text><text transform="translate(244.6,397.3)" font-size="6" fill="#333" text-anchor="end">20</text><text transform="translate(244.6,382.3)" font-size="6" fill="#333" text-anchor="end">40</text><text transform="translate(244.6,367.3)" font-size="6" fill="#333" text-anchor="end">60</text><text transform="translate(244.6,352.3)" font-size="6" fill="#333" text-anchor="end">80</text><text transform="translate(244.6,337.3)" font-size="6" fill="#333" text-anchor="end">100</text><path d="M249.2 410.2h-1.6M249.2 395.2h-1.6M249.2 380.2h-1.6M249.2 365.2h-1.6M249.2 350.2h-1.6M249.2 335.2h-1.6" stroke="#000" stroke-width="0.7"/><path d="M249.2 402.7h-1M249.2 387.7h-1M249.2 372.7h-1M249.2 357.7h-1M249.2 342.7h-1" stroke="#000" stroke-width="0.5"/><text x="253.4" y="421.4" font-size="5.6" fill="#333" text-anchor="middle">−10<tspan dy="-2.52" font-size="3.36">4</tspan></text><text x="285.2" y="421.4" font-size="5.6" fill="#333" text-anchor="middle">10<tspan dy="-2.52" font-size="3.36">4</tspan></text><text x="301.5" y="421.4" font-size="5.6" fill="#333" text-anchor="middle">10<tspan dy="-2.52" font-size="3.36">5</tspan></text><text x="315" y="421.4" font-size="5.6" fill="#333" text-anchor="middle">10<tspan dy="-2.52" font-size="3.36">6</tspan></text><text transform="translate(269.2,421.4)" font-size="4.6" fill="#333" text-anchor="middle">0</text><path d="M253.4 410.4v1.6M269.2 410.4v1.6M285.2 410.4v1.6M301.5 410.4v1.6M315 410.4v1.6" stroke="#000" stroke-width="0.7"/><path d="M267.44 410.4v1M265.69 410.4v1M263.93 410.4v1M262.18 410.4v1M260.42 410.4v1M258.67 410.4v1M256.91 410.4v1M255.16 410.4v1M253.4 410.4v1M269.2 410.4v1M270.98 410.4v1M272.76 410.4v1M274.53 410.4v1M276.31 410.4v1M278.09 410.4v1M279.87 410.4v1M281.64 410.4v1M283.42 410.4v1M285.2 410.4v1M290.11 410.4v1M292.98 410.4v1M295.01 410.4v1M296.59 410.4v1M297.88 410.4v1M298.98 410.4v1M299.92 410.4v1M300.75 410.4v1M305.56 410.4v1M307.94 410.4v1M309.63 410.4v1M310.94 410.4v1M312.01 410.4v1M312.91 410.4v1M313.69 410.4v1M314.38 410.4v1" stroke="#000" stroke-width="0.45"/><text transform="translate(249.2,432.7) scale(0.714,1)" font-size="7.4" fill="#111" font-weight="bold">CD43</text><line x1="262.2" y1="430.2" x2="321.7" y2="430.2" stroke="#1a1a1a" stroke-width="0.8"/><polygon points="324.4,430.2 321.2,428.6 321.2,431.8" fill="#1a1a1a"/><text transform="translate(339.1,412.3)" font-size="6" fill="#333" text-anchor="end">0</text><text transform="translate(339.1,397.3)" font-size="6" fill="#333" text-anchor="end">20</text><text transform="translate(339.1,382.3)" font-size="6" fill="#333" text-anchor="end">40</text><text transform="translate(339.1,367.3)" font-size="6" fill="#333" text-anchor="end">60</text><text transform="translate(339.1,352.3)" font-size="6" fill="#333" text-anchor="end">80</text><text transform="translate(339.1,337.3)" font-size="6" fill="#333" text-anchor="end">100</text><path d="M343.7 410.2h-1.6M343.7 395.2h-1.6M343.7 380.2h-1.6M343.7 365.2h-1.6M343.7 350.2h-1.6M343.7 335.2h-1.6" stroke="#000" stroke-width="0.7"/><path d="M343.7 402.7h-1M343.7 387.7h-1M343.7 372.7h-1M343.7 357.7h-1M343.7 342.7h-1" stroke="#000" stroke-width="0.5"/><text x="347.9" y="421.4" font-size="5.6" fill="#333" text-anchor="middle">−10<tspan dy="-2.52" font-size="3.36">4</tspan></text><text x="379.7" y="421.4" font-size="5.6" fill="#333" text-anchor="middle">10<tspan dy="-2.52" font-size="3.36">4</tspan></text><text x="396" y="421.4" font-size="5.6" fill="#333" text-anchor="middle">10<tspan dy="-2.52" font-size="3.36">5</tspan></text><text x="409.5" y="421.4" font-size="5.6" fill="#333" text-anchor="middle">10<tspan dy="-2.52" font-size="3.36">6</tspan></text><text transform="translate(363.7,421.4)" font-size="4.6" fill="#333" text-anchor="middle">0</text><path d="M347.9 410.4v1.6M363.7 410.4v1.6M379.7 410.4v1.6M396 410.4v1.6M409.5 410.4v1.6" stroke="#000" stroke-width="0.7"/><path d="M361.94 410.4v1M360.19 410.4v1M358.43 410.4v1M356.68 410.4v1M354.92 410.4v1M353.17 410.4v1M351.41 410.4v1M349.66 410.4v1M347.9 410.4v1M363.7 410.4v1M365.48 410.4v1M367.26 410.4v1M369.03 410.4v1M370.81 410.4v1M372.59 410.4v1M374.37 410.4v1M376.14 410.4v1M377.92 410.4v1M379.7 410.4v1M384.61 410.4v1M387.48 410.4v1M389.51 410.4v1M391.09 410.4v1M392.38 410.4v1M393.48 410.4v1M394.42 410.4v1M395.25 410.4v1M400.06 410.4v1M402.44 410.4v1M404.13 410.4v1M405.44 410.4v1M406.51 410.4v1M407.41 410.4v1M408.19 410.4v1M408.88 410.4v1" stroke="#000" stroke-width="0.45"/><text transform="translate(343.7,432.7) scale(0.692,1)" font-size="7.4" fill="#111" font-weight="bold">CD44</text><line x1="356.7" y1="430.2" x2="416.2" y2="430.2" stroke="#1a1a1a" stroke-width="0.8"/><polygon points="418.9,430.2 415.7,428.6 415.7,431.8" fill="#1a1a1a"/><text transform="translate(433.8,412.3)" font-size="6" fill="#333" text-anchor="end">0</text><text transform="translate(433.8,397.3)" font-size="6" fill="#333" text-anchor="end">20</text><text transform="translate(433.8,382.3)" font-size="6" fill="#333" text-anchor="end">40</text><text transform="translate(433.8,367.3)" font-size="6" fill="#333" text-anchor="end">60</text><text transform="translate(433.8,352.3)" font-size="6" fill="#333" text-anchor="end">80</text><text transform="translate(433.8,337.3)" font-size="6" fill="#333" text-anchor="end">100</text><path d="M438.4 410.2h-1.6M438.4 395.2h-1.6M438.4 380.2h-1.6M438.4 365.2h-1.6M438.4 350.2h-1.6M438.4 335.2h-1.6" stroke="#000" stroke-width="0.7"/><path d="M438.4 402.7h-1M438.4 387.7h-1M438.4 372.7h-1M438.4 357.7h-1M438.4 342.7h-1" stroke="#000" stroke-width="0.5"/><text x="442.6" y="421.4" font-size="5.6" fill="#333" text-anchor="middle">−10<tspan dy="-2.52" font-size="3.36">4</tspan></text><text x="474.4" y="421.4" font-size="5.6" fill="#333" text-anchor="middle">10<tspan dy="-2.52" font-size="3.36">4</tspan></text><text x="490.7" y="421.4" font-size="5.6" fill="#333" text-anchor="middle">10<tspan dy="-2.52" font-size="3.36">5</tspan></text><text x="504.2" y="421.4" font-size="5.6" fill="#333" text-anchor="middle">10<tspan dy="-2.52" font-size="3.36">6</tspan></text><text transform="translate(458.4,421.4)" font-size="4.6" fill="#333" text-anchor="middle">0</text><path d="M442.6 410.4v1.6M458.4 410.4v1.6M474.4 410.4v1.6M490.7 410.4v1.6M504.2 410.4v1.6" stroke="#000" stroke-width="0.7"/><path d="M456.64 410.4v1M454.89 410.4v1M453.13 410.4v1M451.38 410.4v1M449.62 410.4v1M447.87 410.4v1M446.11 410.4v1M444.36 410.4v1M442.6 410.4v1M458.4 410.4v1M460.18 410.4v1M461.96 410.4v1M463.73 410.4v1M465.51 410.4v1M467.29 410.4v1M469.07 410.4v1M470.84 410.4v1M472.62 410.4v1M474.4 410.4v1M479.31 410.4v1M482.18 410.4v1M484.21 410.4v1M485.79 410.4v1M487.08 410.4v1M488.18 410.4v1M489.12 410.4v1M489.95 410.4v1M494.76 410.4v1M497.14 410.4v1M498.83 410.4v1M500.14 410.4v1M501.21 410.4v1M502.11 410.4v1M502.89 410.4v1M503.58 410.4v1" stroke="#000" stroke-width="0.45"/><text transform="translate(438.4,432.7) scale(0.71,1)" font-size="7.4" fill="#111" font-weight="bold">EPCR</text><line x1="451.4" y1="430.2" x2="510.9" y2="430.2" stroke="#1a1a1a" stroke-width="0.8"/><polygon points="513.6,430.2 510.4,428.6 510.4,431.8" fill="#1a1a1a"/><path d="M155.5,410L155.5,410 155.9,410 156.3,410 156.7,410 157.1,410 157.5,410 157.9,410 158.3,410 158.7,410 159.1,410 159.5,410 159.9,410 160.3,410 160.7,410 161.1,410 161.5,410 161.9,410 162.3,410 162.7,409.9 163.1,409.7 163.5,409.2 163.9,408.6 164.3,408.1 164.7,406.9 165.1,407 165.5,407.9 165.9,406 166.3,404.1 166.7,403.5 167.1,402.7 167.5,402.1 167.9,401.8 168.3,398.3 168.7,396.9 169.1,395 169.5,392 169.9,390.9 170.3,387.6 170.7,383.4 171.1,379.9 171.5,376.1 171.9,372 172.3,366.3 172.7,361.9 173.1,357.9 173.5,351.3 173.9,347.2 174.3,343.5 174.7,340.1 175.1,342.5 175.5,348.6 175.9,352.4 176.3,359.2 176.7,365 177.1,368.5 177.5,373.8 177.9,375 178.3,376.3 178.7,377.7 179.1,380.1 179.5,381.4 179.9,382 180.3,381.7 180.7,381.5 181.1,383.9 181.5,385 181.9,383.9 182.3,384.5 182.7,385.4 183.1,384.6 183.5,384.9 183.9,386.6 184.3,386.9 184.7,386.6 185.1,388.1 185.5,389.7 185.9,389.2 186.3,390.7 186.7,390.3 187.1,391.7 187.5,392.2 187.9,392.3 188.3,393.6 188.7,394.7 189.1,395.8 189.5,394.1 189.9,395.3 190.3,398.3 190.7,398.5 191.1,397.6 191.5,399.3 191.9,399.3 192.3,399.2 192.7,400.4 193.1,401.3 193.5,402.2 193.9,402.4 194.3,402.6 194.7,402 195.1,403.1 195.5,404.7 195.9,404.1 196.3,405.2 196.7,407 197.1,406.2 197.5,405.6 197.9,407.4 198.3,406.5 198.7,408 199.1,408.1 199.5,408.5 199.9,408.9 200.3,409.3 200.7,409.7 201.1,409.9 201.5,410 201.9,410 202.3,410 202.7,410 203.1,410 203.5,410 203.9,410 204.3,410 204.7,410 205.1,410 205.5,410 205.9,410 206.3,410 206.7,410 207.1,410 207.5,410 207.9,410 208.3,410 208.7,410 209.1,410 209.5,410 209.9,410 210.3,410 210.7,410 211.1,410 211.5,410 211.9,410 212.3,410 212.7,410 213.1,410 213.5,410 213.9,410 214.3,410 214.7,410 215.1,410 215.5,410 215.9,410 216.3,410 216.7,410 217.1,410 217.5,410 217.9,410 218.3,410 218.7,410 219.1,410 219.5,410 219.9,410 220.3,410 220.7,410 221.1,410 221.5,410 221.9,410 222.3,410 222.7,410 223.1,410 223.5,410 223.9,410 224.3,410 224.7,410 225.1,410 225.5,410 225.9,410 226.3,410 226.7,410 227.1,410 227.5,410 227.9,410 228.3,410 228.7,410 229.1,410 229.5,410L229.5,410Z" fill="#7cc3ec" fill-opacity="0.85" stroke="#3a9ad8" stroke-width="0.6"/><path d="M155.5,410L155.5,410 155.9,410 156.3,410 156.7,410 157.1,410 157.5,410 157.9,410 158.3,410 158.7,410 159.1,410 159.5,410 159.9,409.8 160.3,409.3 160.7,408.6 161.1,407.8 161.5,407.8 161.9,405.7 162.3,405.4 162.7,404.9 163.1,403.6 163.5,403.2 163.9,399.2 164.3,399.7 164.7,396.9 165.1,393.4 165.5,396 165.9,393.3 166.3,391 166.7,388.6 167.1,388.7 167.5,385.8 167.9,384.2 168.3,382.5 168.7,383.3 169.1,379 169.5,376.7 169.9,376.2 170.3,375.8 170.7,374.2 171.1,374.8 171.5,370.8 171.9,368.9 172.3,368.7 172.7,370.9 173.1,367.6 173.5,366.3 173.9,366.2 174.3,365.2 174.7,368.7 175.1,368.9 175.5,369 175.9,369.8 176.3,371.7 176.7,372.1 177.1,373.7 177.5,376.2 177.9,375.1 178.3,377.7 178.7,379.7 179.1,378.9 179.5,378.6 179.9,380.2 180.3,380.9 180.7,382.1 181.1,385 181.5,382.6 181.9,383.3 182.3,385.7 182.7,383.5 183.1,383.3 183.5,381.1 183.9,381.2 184.3,379.9 184.7,378.3 185.1,378 185.5,376.9 185.9,373.4 186.3,372 186.7,370.1 187.1,368.6 187.5,367.3 187.9,364.9 188.3,363.7 188.7,362.9 189.1,362.6 189.5,361.7 189.9,359.2 190.3,356.8 190.7,354.6 191.1,354.6 191.5,352.4 191.9,350.8 192.3,348.5 192.7,349.3 193.1,347.2 193.5,347.7 193.9,349.2 194.3,351.1 194.7,350.2 195.1,351.3 195.5,351.7 195.9,356.5 196.3,357.4 196.7,360 197.1,364.4 197.5,364.7 197.9,368.4 198.3,372.3 198.7,372.5 199.1,377.3 199.5,378.7 199.9,381.6 200.3,384.2 200.7,385.9 201.1,387 201.5,390.1 201.9,392.5 202.3,391 202.7,393.8 203.1,396.6 203.5,397.3 203.9,400.1 204.3,400.2 204.7,400.8 205.1,404.7 205.5,403.7 205.9,404.9 206.3,406.8 206.7,407 207.1,407.9 207.5,408.1 207.9,408.5 208.3,409 208.7,409.5 209.1,409.8 209.5,410 209.9,410 210.3,410 210.7,410 211.1,410 211.5,410 211.9,410 212.3,410 212.7,410 213.1,410 213.5,410 213.9,410 214.3,410 214.7,410 215.1,410 215.5,410 215.9,410 216.3,410 216.7,410 217.1,410 217.5,410 217.9,410 218.3,410 218.7,410 219.1,410 219.5,410 219.9,410 220.3,410 220.7,410 221.1,410 221.5,410 221.9,410 222.3,410 222.7,410 223.1,410 223.5,410 223.9,410 224.3,410 224.7,410 225.1,410 225.5,410 225.9,410 226.3,410 226.7,410 227.1,410 227.5,410 227.9,410 228.3,410 228.7,410 229.1,410 229.5,410L229.5,410Z" fill="#5a70ac" fill-opacity="0.8" stroke="#34508c" stroke-width="0.6"/><path d="M155.5,410L155.5,409.1 155.9,408.2 156.3,408.3 156.7,407 157.1,406.6 157.5,403.8 157.9,406.4 158.3,403.9 158.7,404.6 159.1,403.4 159.5,403.9 159.9,403.1 160.3,402.6 160.7,402.1 161.1,400.2 161.5,398.6 161.9,395.8 162.3,393.2 162.7,392.7 163.1,389.9 163.5,385.8 163.9,383.5 164.3,377.7 164.7,374.3 165.1,370.9 165.5,368.3 165.9,364.3 166.3,360.9 166.7,359.2 167.1,356.8 167.5,353.9 167.9,351.1 168.3,350.2 168.7,348.1 169.1,347.3 169.5,345.1 169.9,342.1 170.3,343.2 170.7,342.7 171.1,347.8 171.5,351.1 171.9,353.3 172.3,355.9 172.7,358.7 173.1,361.7 173.5,365.3 173.9,366.7 174.3,369.3 174.7,369.7 175.1,370.8 175.5,371.9 175.9,372.8 176.3,374.5 176.7,374.2 177.1,375 177.5,376.8 177.9,374.9 178.3,377.8 178.7,380 179.1,381.1 179.5,381.2 179.9,383.3 180.3,381.9 180.7,384.2 181.1,383.9 181.5,386.5 181.9,386 182.3,386.3 182.7,387.7 183.1,390.8 183.5,390.2 183.9,391.6 184.3,391.2 184.7,392.9 185.1,392.6 185.5,395.2 185.9,397.3 186.3,398 186.7,396.7 187.1,399.1 187.5,398.4 187.9,397 188.3,399.3 188.7,400.4 189.1,399.2 189.5,400 189.9,401.8 190.3,400.4 190.7,401.3 191.1,401.1 191.5,402.5 191.9,401 192.3,402.7 192.7,401.3 193.1,403.5 193.5,402.4 193.9,402.6 194.3,404.2 194.7,404.9 195.1,404 195.5,404.2 195.9,404.3 196.3,404 196.7,402 197.1,404 197.5,402.8 197.9,404.1 198.3,403.6 198.7,404.3 199.1,405 199.5,404.9 199.9,403.7 200.3,407.5 200.7,406.1 201.1,406.1 201.5,408.1 201.9,406.9 202.3,407.5 202.7,408.1 203.1,408.4 203.5,408.7 203.9,409.1 204.3,409.4 204.7,409.7 205.1,409.9 205.5,410 205.9,410 206.3,410 206.7,410 207.1,410 207.5,410 207.9,410 208.3,410 208.7,410 209.1,410 209.5,410 209.9,410 210.3,410 210.7,410 211.1,410 211.5,410 211.9,410 212.3,410 212.7,410 213.1,410 213.5,410 213.9,410 214.3,410 214.7,410 215.1,410 215.5,410 215.9,410 216.3,410 216.7,410 217.1,410 217.5,410 217.9,410 218.3,410 218.7,410 219.1,410 219.5,410 219.9,410 220.3,410 220.7,410 221.1,410 221.5,410 221.9,410 222.3,410 222.7,410 223.1,410 223.5,410 223.9,410 224.3,410 224.7,410 225.1,410 225.5,410 225.9,410 226.3,410 226.7,410 227.1,410 227.5,410 227.9,410 228.3,410 228.7,410 229.1,410 229.5,410L229.5,410Z" fill="#de3c48" fill-opacity="0.58" stroke="#c82838" stroke-width="0.6"/><path d="M249.7,410L249.7,410 250.1,410 250.5,410 250.9,410 251.3,410 251.7,410 252.1,410 252.5,410 252.9,410 253.3,410 253.7,410 254.1,410 254.5,410 254.9,410 255.3,410 255.7,410 256.1,410 256.5,410 256.9,410 257.3,410 257.7,410 258.1,410 258.5,410 258.9,410 259.3,410 259.7,410 260.1,410 260.5,410 260.9,410 261.3,410 261.7,410 262.1,409.2 262.5,408.2 262.9,404.4 263.3,401.1 263.7,399 264.1,394 264.5,387.6 264.9,381.2 265.3,373.7 265.7,365.4 266.1,358.9 266.5,352.3 266.9,348.6 267.3,342.2 267.7,341.5 268.1,346.3 268.5,353.6 268.9,361.9 269.3,371.2 269.7,376.9 270.1,383.8 270.5,388.8 270.9,392.4 271.3,394.9 271.7,399.9 272.1,400.7 272.5,402.5 272.9,405.8 273.3,404.9 273.7,406.5 274.1,406.5 274.5,408.2 274.9,409.2 275.3,409.8 275.7,410 276.1,410 276.5,410 276.9,410 277.3,410 277.7,410 278.1,410 278.5,410 278.9,410 279.3,410 279.7,410 280.1,410 280.5,410 280.9,410 281.3,410 281.7,410 282.1,410 282.5,410 282.9,410 283.3,410 283.7,410 284.1,410 284.5,410 284.9,410 285.3,410 285.7,410 286.1,410 286.5,410 286.9,410 287.3,410 287.7,410 288.1,410 288.5,410 288.9,410 289.3,410 289.7,410 290.1,410 290.5,410 290.9,410 291.3,410 291.7,410 292.1,410 292.5,410 292.9,410 293.3,410 293.7,410 294.1,410 294.5,410 294.9,410 295.3,410 295.7,410 296.1,410 296.5,410 296.9,410 297.3,410 297.7,410 298.1,410 298.5,410 298.9,410 299.3,410 299.7,410 300.1,410 300.5,410 300.9,410 301.3,410 301.7,410 302.1,410 302.5,410 302.9,410 303.3,410 303.7,410 304.1,410 304.5,410 304.9,410 305.3,410 305.7,410 306.1,410 306.5,410 306.9,410 307.3,410 307.7,410 308.1,410 308.5,410 308.9,410 309.3,410 309.7,410 310.1,410 310.5,410 310.9,410 311.3,410 311.7,410 312.1,410 312.5,410 312.9,410 313.3,410 313.7,410 314.1,410 314.5,410 314.9,410 315.3,410 315.7,410 316.1,410 316.5,410 316.9,410 317.3,410 317.7,410 318.1,410 318.5,410 318.9,410 319.3,410 319.7,410 320.1,410 320.5,410 320.9,410 321.3,410 321.7,410 322.1,410 322.5,410 322.9,410 323.3,410 323.7,410L323.7,410Z" fill="#7cc3ec" fill-opacity="0.85" stroke="#3a9ad8" stroke-width="0.6"/><path d="M249.7,410L249.7,410 250.1,410 250.5,410 250.9,410 251.3,410 251.7,410 252.1,410 252.5,410 252.9,410 253.3,410 253.7,410 254.1,410 254.5,410 254.9,410 255.3,410 255.7,410 256.1,410 256.5,410 256.9,410 257.3,410 257.7,410 258.1,410 258.5,410 258.9,410 259.3,410 259.7,410 260.1,410 260.5,410 260.9,410 261.3,410 261.7,410 262.1,410 262.5,410 262.9,409.9 263.3,409.5 263.7,408.8 264.1,407.4 264.5,407.4 264.9,405.5 265.3,405.3 265.7,403.6 266.1,401.4 266.5,400.4 266.9,396.5 267.3,395.2 267.7,391.5 268.1,389.5 268.5,385.3 268.9,382.2 269.3,379.6 269.7,377 270.1,372.9 270.5,370.2 270.9,369.9 271.3,365.2 271.7,365.1 272.1,361.6 272.5,358.5 272.9,355.8 273.3,355.1 273.7,353.8 274.1,352.6 274.5,352.7 274.9,352.2 275.3,350.5 275.7,349.8 276.1,350.4 276.5,350.2 276.9,350.4 277.3,351 277.7,351 278.1,351.4 278.5,349.7 278.9,350 279.3,349.6 279.7,348.7 280.1,347.8 280.5,346.7 280.9,348.2 281.3,348.5 281.7,348.1 282.1,349 282.5,346.8 282.9,346.6 283.3,346.2 283.7,346.4 284.1,345 284.5,344.2 284.9,344.3 285.3,344.9 285.7,346.5 286.1,345 286.5,346.5 286.9,346.3 287.3,343.2 287.7,344.4 288.1,349.2 288.5,352.6 288.9,356.1 289.3,357.1 289.7,361.8 290.1,362.6 290.5,364.5 290.9,365.1 291.3,369.2 291.7,372.7 292.1,373.2 292.5,373.6 292.9,374.8 293.3,375.7 293.7,378.5 294.1,381.2 294.5,381.3 294.9,383.7 295.3,385.5 295.7,387 296.1,387.8 296.5,391.8 296.9,394 297.3,395.3 297.7,397.4 298.1,400 298.5,401.8 298.9,402.2 299.3,403 299.7,405.1 300.1,406.5 300.5,408.2 300.9,408.9 301.3,409.5 301.7,409.8 302.1,410 302.5,410 302.9,410 303.3,410 303.7,410 304.1,410 304.5,410 304.9,410 305.3,410 305.7,410 306.1,410 306.5,410 306.9,410 307.3,410 307.7,410 308.1,410 308.5,410 308.9,410 309.3,410 309.7,410 310.1,410 310.5,410 310.9,410 311.3,410 311.7,410 312.1,410 312.5,410 312.9,410 313.3,410 313.7,410 314.1,410 314.5,410 314.9,410 315.3,410 315.7,410 316.1,410 316.5,410 316.9,410 317.3,410 317.7,410 318.1,410 318.5,410 318.9,410 319.3,410 319.7,410 320.1,410 320.5,410 320.9,410 321.3,410 321.7,410 322.1,410 322.5,410 322.9,410 323.3,410 323.7,410L323.7,410Z" fill="#5a70ac" fill-opacity="0.8" stroke="#34508c" stroke-width="0.6"/><path d="M249.7,410L249.7,408.4 250.1,406.8 250.5,405.4 250.9,406.1 251.3,404 251.7,404 252.1,403 252.5,403 252.9,401.8 253.3,403.2 253.7,400.3 254.1,400.3 254.5,401.5 254.9,399.9 255.3,399.8 255.7,401.4 256.1,399 256.5,399.7 256.9,399.1 257.3,399.1 257.7,398.6 258.1,397.9 258.5,397.5 258.9,398.7 259.3,397.2 259.7,397.9 260.1,397.5 260.5,396.4 260.9,395 261.3,394.8 261.7,395.6 262.1,395.2 262.5,394.3 262.9,392.2 263.3,390.1 263.7,389.6 264.1,387.6 264.5,386.6 264.9,384.1 265.3,385.9 265.7,384.7 266.1,381.5 266.5,379.2 266.9,378.4 267.3,375.7 267.7,375.2 268.1,373.4 268.5,370.9 268.9,367.6 269.3,365.7 269.7,364.7 270.1,361.4 270.5,359.5 270.9,356.3 271.3,354.7 271.7,351.1 272.1,349.2 272.5,346.4 272.9,345.2 273.3,343.9 273.7,342.1 274.1,342.4 274.5,343 274.9,344.7 275.3,345 275.7,347.7 276.1,348.1 276.5,349.7 276.9,353.5 277.3,354.1 277.7,356.2 278.1,359.9 278.5,363.7 278.9,365.9 279.3,366.5 279.7,366.7 280.1,369.8 280.5,371.6 280.9,374.4 281.3,376.7 281.7,377.6 282.1,380.7 282.5,381.7 282.9,382.9 283.3,385.1 283.7,386.5 284.1,388.9 284.5,389.3 284.9,390.6 285.3,393.5 285.7,394 286.1,394.8 286.5,394.6 286.9,396 287.3,397.1 287.7,398.3 288.1,398.9 288.5,399.5 288.9,401.6 289.3,403 289.7,401.5 290.1,402.9 290.5,403.2 290.9,403.9 291.3,405.3 291.7,406.2 292.1,404.5 292.5,404.9 292.9,405.5 293.3,406.6 293.7,407 294.1,408 294.5,408 294.9,408.4 295.3,408.8 295.7,409.2 296.1,409.5 296.5,409.7 296.9,409.8 297.3,410 297.7,410 298.1,410 298.5,410 298.9,410 299.3,410 299.7,410 300.1,410 300.5,410 300.9,410 301.3,410 301.7,410 302.1,410 302.5,410 302.9,410 303.3,410 303.7,410 304.1,410 304.5,410 304.9,410 305.3,410 305.7,410 306.1,410 306.5,410 306.9,410 307.3,410 307.7,410 308.1,410 308.5,410 308.9,410 309.3,410 309.7,410 310.1,410 310.5,410 310.9,410 311.3,410 311.7,410 312.1,410 312.5,410 312.9,410 313.3,410 313.7,410 314.1,410 314.5,410 314.9,410 315.3,410 315.7,410 316.1,410 316.5,410 316.9,410 317.3,410 317.7,410 318.1,410 318.5,410 318.9,410 319.3,410 319.7,410 320.1,410 320.5,410 320.9,410 321.3,410 321.7,410 322.1,410 322.5,410 322.9,410 323.3,410 323.7,410L323.7,410Z" fill="#de3c48" fill-opacity="0.58" stroke="#c82838" stroke-width="0.6"/><path d="M344.2,410L344.2,410 344.6,410 345,410 345.4,410 345.8,410 346.2,410 346.6,410 347,410 347.4,410 347.8,410 348.2,410 348.6,410 349,410 349.4,410 349.8,410 350.2,410 350.6,410 351,410 351.4,410 351.8,410 352.2,410 352.6,410 353,410 353.4,410 353.8,409.8 354.2,409.4 354.6,409 355,408.5 355.4,408.1 355.8,409.1 356.2,406.4 356.6,407.2 357,406.7 357.4,406.9 357.8,405.4 358.2,404.7 358.6,403.2 359,402.5 359.4,400.6 359.8,397.7 360.2,396.5 360.6,393.7 361,387.5 361.4,383.4 361.8,376.2 362.2,368.2 362.6,359.7 363,351.1 363.4,344.5 363.8,345.5 364.2,354.8 364.6,363.7 365,372 365.4,380.8 365.8,385.3 366.2,390.1 366.6,394.8 367,397.6 367.4,399.4 367.8,399.7 368.2,402.9 368.6,404.2 369,404.5 369.4,406.4 369.8,407.5 370.2,407.3 370.6,406.7 371,407.1 371.4,407.9 371.8,408.3 372.2,408.6 372.6,409 373,409.4 373.4,409.7 373.8,409.9 374.2,410 374.6,410 375,410 375.4,410 375.8,410 376.2,410 376.6,410 377,410 377.4,410 377.8,410 378.2,410 378.6,410 379,410 379.4,410 379.8,410 380.2,410 380.6,410 381,410 381.4,410 381.8,410 382.2,410 382.6,410 383,410 383.4,410 383.8,410 384.2,410 384.6,410 385,410 385.4,410 385.8,410 386.2,410 386.6,410 387,410 387.4,410 387.8,410 388.2,410 388.6,410 389,410 389.4,410 389.8,410 390.2,410 390.6,410 391,410 391.4,410 391.8,410 392.2,410 392.6,410 393,410 393.4,410 393.8,410 394.2,410 394.6,410 395,410 395.4,410 395.8,410 396.2,410 396.6,410 397,410 397.4,410 397.8,410 398.2,410 398.6,410 399,410 399.4,410 399.8,410 400.2,410 400.6,410 401,410 401.4,410 401.8,410 402.2,410 402.6,410 403,410 403.4,410 403.8,410 404.2,410 404.6,410 405,410 405.4,410 405.8,410 406.2,410 406.6,410 407,410 407.4,410 407.8,410 408.2,410 408.6,410 409,410 409.4,410 409.8,410 410.2,410 410.6,410 411,410 411.4,410 411.8,410 412.2,410 412.6,410 413,410 413.4,410 413.8,410 414.2,410 414.6,410 415,410 415.4,410 415.8,410 416.2,410 416.6,410 417,410 417.4,410 417.8,410 418.2,410L418.2,410Z" fill="#7cc3ec" fill-opacity="0.85" stroke="#3a9ad8" stroke-width="0.6"/><path d="M344.2,410L344.2,410 344.6,410 345,410 345.4,410 345.8,410 346.2,410 346.6,410 347,410 347.4,410 347.8,410 348.2,410 348.6,410 349,410 349.4,410 349.8,410 350.2,410 350.6,410 351,410 351.4,410 351.8,410 352.2,410 352.6,410 353,410 353.4,410 353.8,410 354.2,410 354.6,410 355,410 355.4,410 355.8,410 356.2,410 356.6,410 357,410 357.4,410 357.8,410 358.2,410 358.6,410 359,410 359.4,410 359.8,410 360.2,410 360.6,410 361,410 361.4,410 361.8,410 362.2,410 362.6,410 363,410 363.4,410 363.8,410 364.2,410 364.6,410 365,410 365.4,410 365.8,410 366.2,410 366.6,410 367,410 367.4,410 367.8,410 368.2,410 368.6,410 369,410 369.4,410 369.8,410 370.2,410 370.6,410 371,410 371.4,410 371.8,410 372.2,410 372.6,410 373,410 373.4,410 373.8,410 374.2,410 374.6,410 375,410 375.4,410 375.8,410 376.2,410 376.6,410 377,410 377.4,410 377.8,410 378.2,410 378.6,410 379,410 379.4,410 379.8,410 380.2,410 380.6,410 381,410 381.4,410 381.8,410 382.2,410 382.6,410 383,410 383.4,410 383.8,410 384.2,410 384.6,410 385,410 385.4,410 385.8,410 386.2,410 386.6,410 387,410 387.4,410 387.8,410 388.2,410 388.6,409.9 389,409.6 389.4,409.2 389.8,408.7 390.2,408.2 390.6,408.3 391,407.5 391.4,408.3 391.8,407.2 392.2,406.7 392.6,406.4 393,405.2 393.4,403.6 393.8,403.6 394.2,403.1 394.6,400 395,398.3 395.4,398 395.8,394.9 396.2,394.3 396.6,391.4 397,387.7 397.4,381.3 397.8,377.6 398.2,371.9 398.6,365.9 399,359.4 399.4,353.1 399.8,349.7 400.2,344 400.6,342.6 401,340.5 401.4,339.3 401.8,339.4 402.2,340.1 402.6,344.1 403,349.8 403.4,354.9 403.8,362.6 404.2,369.5 404.6,372.9 405,382.1 405.4,386.9 405.8,392.3 406.2,398.2 406.6,400.6 407,403.8 407.4,407.5 407.8,409.1 408.2,409.7 408.6,410 409,410 409.4,410 409.8,410 410.2,410 410.6,410 411,410 411.4,410 411.8,410 412.2,410 412.6,410 413,410 413.4,410 413.8,410 414.2,410 414.6,410 415,410 415.4,410 415.8,410 416.2,410 416.6,410 417,410 417.4,410 417.8,410 418.2,410L418.2,410Z" fill="#5a70ac" fill-opacity="0.8" stroke="#34508c" stroke-width="0.6"/><path d="M344.2,410L344.2,410 344.6,410 345,410 345.4,410 345.8,410 346.2,410 346.6,410 347,410 347.4,410 347.8,410 348.2,410 348.6,410 349,410 349.4,410 349.8,410 350.2,410 350.6,410 351,410 351.4,410 351.8,410 352.2,410 352.6,410 353,410 353.4,410 353.8,410 354.2,410 354.6,410 355,410 355.4,410 355.8,410 356.2,410 356.6,410 357,410 357.4,410 357.8,410 358.2,410 358.6,410 359,410 359.4,410 359.8,410 360.2,410 360.6,410 361,410 361.4,410 361.8,410 362.2,410 362.6,410 363,410 363.4,410 363.8,410 364.2,410 364.6,410 365,410 365.4,410 365.8,410 366.2,410 366.6,410 367,410 367.4,410 367.8,410 368.2,410 368.6,410 369,410 369.4,410 369.8,410 370.2,410 370.6,410 371,410 371.4,410 371.8,410 372.2,410 372.6,410 373,410 373.4,410 373.8,410 374.2,409.9 374.6,409.9 375,409.8 375.4,409.8 375.8,409.7 376.2,409.7 376.6,409.6 377,409.6 377.4,409.5 377.8,409.5 378.2,409.4 378.6,409.4 379,409.3 379.4,409.3 379.8,409.2 380.2,409 380.6,408.9 381,408.8 381.4,408.6 381.8,408.5 382.2,408.3 382.6,408.2 383,408.1 383.4,407.9 383.8,407.8 384.2,408.6 384.6,408.1 385,407.8 385.4,407.3 385.8,407.6 386.2,406.2 386.6,407.4 387,404.7 387.4,406 387.8,404.8 388.2,406.6 388.6,405.8 389,405.2 389.4,403.5 389.8,404.7 390.2,402.9 390.6,404.3 391,401.7 391.4,403.1 391.8,403.5 392.2,403 392.6,400.2 393,399.2 393.4,397 393.8,395.5 394.2,393.1 394.6,390 395,388.9 395.4,385.1 395.8,381.8 396.2,378.7 396.6,372.3 397,364.9 397.4,360.7 397.8,352.8 398.2,350.5 398.6,347.8 399,344.9 399.4,344.5 399.8,344.4 400.2,344.1 400.6,350.2 401,358.6 401.4,370.9 401.8,379.5 402.2,383.8 402.6,391.5 403,398 403.4,402.1 403.8,402.3 404.2,404.3 404.6,407.1 405,407.8 405.4,408.8 405.8,409.5 406.2,409.9 406.6,410 407,410 407.4,410 407.8,410 408.2,410 408.6,410 409,410 409.4,410 409.8,410 410.2,410 410.6,410 411,410 411.4,410 411.8,410 412.2,410 412.6,410 413,410 413.4,410 413.8,410 414.2,410 414.6,410 415,410 415.4,410 415.8,410 416.2,410 416.6,410 417,410 417.4,410 417.8,410 418.2,410L418.2,410Z" fill="#de3c48" fill-opacity="0.58" stroke="#c82838" stroke-width="0.6"/><path d="M438.9,410L438.9,410 439.3,410 439.7,410 440.1,410 440.5,410 440.9,410 441.3,410 441.7,410 442.1,410 442.5,410 442.9,410 443.3,410 443.7,410 444.1,410 444.5,410 444.9,410 445.3,410 445.7,410 446.1,410 446.5,410 446.9,410 447.3,410 447.7,410 448.1,410 448.5,410 448.9,410 449.3,410 449.7,410 450.1,410 450.5,410 450.9,410 451.3,410 451.7,410 452.1,409.9 452.5,409.7 452.9,409.2 453.3,408.6 453.7,408 454.1,408.5 454.5,405.3 454.9,402.7 455.3,394.1 455.7,384.2 456.1,373 456.5,364.1 456.9,355.1 457.3,346.7 457.7,345.2 458.1,347.9 458.5,357.1 458.9,367.1 459.3,373.9 459.7,380.6 460.1,385.6 460.5,392 460.9,397.9 461.3,403 461.7,404.7 462.1,407.5 462.5,407.9 462.9,408.1 463.3,408.6 463.7,409.1 464.1,409.6 464.5,409.9 464.9,410 465.3,410 465.7,410 466.1,410 466.5,410 466.9,410 467.3,410 467.7,410 468.1,410 468.5,410 468.9,410 469.3,410 469.7,410 470.1,410 470.5,410 470.9,410 471.3,410 471.7,410 472.1,410 472.5,410 472.9,410 473.3,410 473.7,410 474.1,410 474.5,410 474.9,410 475.3,410 475.7,410 476.1,410 476.5,410 476.9,410 477.3,410 477.7,410 478.1,410 478.5,410 478.9,410 479.3,410 479.7,410 480.1,410 480.5,410 480.9,410 481.3,410 481.7,410 482.1,410 482.5,410 482.9,410 483.3,410 483.7,410 484.1,410 484.5,410 484.9,410 485.3,410 485.7,410 486.1,410 486.5,410 486.9,410 487.3,410 487.7,410 488.1,410 488.5,410 488.9,410 489.3,410 489.7,410 490.1,410 490.5,410 490.9,410 491.3,410 491.7,410 492.1,410 492.5,410 492.9,410 493.3,410 493.7,410 494.1,410 494.5,410 494.9,410 495.3,410 495.7,410 496.1,410 496.5,410 496.9,410 497.3,410 497.7,410 498.1,410 498.5,410 498.9,410 499.3,410 499.7,410 500.1,410 500.5,410 500.9,410 501.3,410 501.7,410 502.1,410 502.5,410 502.9,410 503.3,410 503.7,410 504.1,410 504.5,410 504.9,410 505.3,410 505.7,410 506.1,410 506.5,410 506.9,410 507.3,410 507.7,410 508.1,410 508.5,410 508.9,410 509.3,410 509.7,410 510.1,410 510.5,410 510.9,410 511.3,410 511.7,410 512.1,410 512.5,410 512.9,410L512.9,410Z" fill="#7cc3ec" fill-opacity="0.85" stroke="#3a9ad8" stroke-width="0.6"/><path d="M438.9,410L438.9,410 439.3,410 439.7,410 440.1,410 440.5,410 440.9,410 441.3,410 441.7,410 442.1,410 442.5,410 442.9,410 443.3,410 443.7,410 444.1,410 444.5,410 444.9,410 445.3,410 445.7,410 446.1,410 446.5,410 446.9,410 447.3,410 447.7,410 448.1,410 448.5,410 448.9,410 449.3,410 449.7,410 450.1,409.9 450.5,409.2 450.9,408.1 451.3,408.1 451.7,405.5 452.1,402 452.5,400.3 452.9,401.7 453.3,398.3 453.7,396.7 454.1,394.7 454.5,393.3 454.9,388 455.3,387.1 455.7,383.4 456.1,381 456.5,376.7 456.9,374.7 457.3,375.1 457.7,373.8 458.1,373.3 458.5,376.4 458.9,376.6 459.3,377 459.7,379.7 460.1,380.3 460.5,381.7 460.9,380.7 461.3,382.3 461.7,381.8 462.1,383.3 462.5,383.7 462.9,385.1 463.3,385 463.7,386.4 464.1,387.6 464.5,386 464.9,386.6 465.3,385.9 465.7,388.4 466.1,389.2 466.5,390.1 466.9,392.2 467.3,389.7 467.7,387.8 468.1,388.8 468.5,390.1 468.9,387 469.3,387.3 469.7,385.7 470.1,383.6 470.5,381 470.9,378.6 471.3,379.1 471.7,376.7 472.1,375.8 472.5,373.3 472.9,374 473.3,370 473.7,369 474.1,365.9 474.5,365.9 474.9,362.4 475.3,360.5 475.7,359.7 476.1,355.9 476.5,353.5 476.9,351.3 477.3,349.1 477.7,349 478.1,348.8 478.5,349.4 478.9,351.8 479.3,353.8 479.7,353.5 480.1,357.4 480.5,360.4 480.9,364 481.3,367.5 481.7,369.7 482.1,373.9 482.5,376.6 482.9,381.1 483.3,384.2 483.7,385.7 484.1,386.1 484.5,390 484.9,390.8 485.3,394.3 485.7,395.8 486.1,397.8 486.5,398.1 486.9,397.3 487.3,398.6 487.7,401 488.1,401.7 488.5,400.8 488.9,403.2 489.3,402.4 489.7,404.4 490.1,403.1 490.5,402.5 490.9,403.2 491.3,403.9 491.7,404.1 492.1,404.5 492.5,404.5 492.9,403.6 493.3,403.8 493.7,404.8 494.1,406.8 494.5,406.7 494.9,406.6 495.3,407.4 495.7,408.1 496.1,408.7 496.5,409.2 496.9,409.5 497.3,409.6 497.7,409.8 498.1,409.9 498.5,410 498.9,410 499.3,410 499.7,410 500.1,410 500.5,410 500.9,410 501.3,410 501.7,410 502.1,410 502.5,410 502.9,410 503.3,410 503.7,410 504.1,410 504.5,410 504.9,410 505.3,410 505.7,410 506.1,410 506.5,410 506.9,410 507.3,410 507.7,410 508.1,410 508.5,410 508.9,410 509.3,410 509.7,410 510.1,410 510.5,410 510.9,410 511.3,410 511.7,410 512.1,410 512.5,410 512.9,410L512.9,410Z" fill="#5a70ac" fill-opacity="0.8" stroke="#34508c" stroke-width="0.6"/><path d="M438.9,410L438.9,410 439.3,410 439.7,410 440.1,410 440.5,410 440.9,410 441.3,410 441.7,410 442.1,410 442.5,410 442.9,410 443.3,410 443.7,410 444.1,410 444.5,410 444.9,410 445.3,410 445.7,410 446.1,410 446.5,410 446.9,410 447.3,410 447.7,410 448.1,409.9 448.5,409.6 448.9,409.2 449.3,408.7 449.7,408.2 450.1,406 450.5,408.6 450.9,406 451.3,405.2 451.7,405 452.1,403.1 452.5,403.1 452.9,399.9 453.3,398.5 453.7,399.6 454.1,397.3 454.5,394.8 454.9,392.9 455.3,389.3 455.7,387.9 456.1,383.2 456.5,379.4 456.9,373.4 457.3,366.6 457.7,359.8 458.1,355.5 458.5,349.8 458.9,347.4 459.3,347.3 459.7,345.4 460.1,348 460.5,349.4 460.9,350.7 461.3,354 461.7,354.5 462.1,358.2 462.5,359.5 462.9,364.7 463.3,367.2 463.7,367.5 464.1,371.9 464.5,372.1 464.9,375.3 465.3,375.2 465.7,374.6 466.1,375.7 466.5,376.7 466.9,376.3 467.3,375.8 467.7,378.4 468.1,380.3 468.5,383 468.9,384.4 469.3,385.9 469.7,387.4 470.1,386.8 470.5,387.9 470.9,390.7 471.3,389.7 471.7,389.5 472.1,389.4 472.5,393 472.9,392.3 473.3,392.6 473.7,393.1 474.1,395.1 474.5,394.7 474.9,396.2 475.3,396.5 475.7,397.6 476.1,397.4 476.5,398.5 476.9,398.2 477.3,399 477.7,398.5 478.1,398.2 478.5,400.1 478.9,401.1 479.3,401.1 479.7,401.7 480.1,403.1 480.5,402 480.9,402.9 481.3,402 481.7,403.3 482.1,402.6 482.5,403 482.9,404.3 483.3,404.3 483.7,404.6 484.1,404.7 484.5,403.7 484.9,405.1 485.3,405.2 485.7,405.7 486.1,403.9 486.5,405.6 486.9,405.6 487.3,406.4 487.7,405.6 488.1,406.7 488.5,406.7 488.9,408.1 489.3,407.9 489.7,406.4 490.1,406.1 490.5,408.4 490.9,407 491.3,407.1 491.7,404.7 492.1,408.5 492.5,408.3 492.9,407.9 493.3,408 493.7,408.2 494.1,408.4 494.5,408.5 494.9,408.7 495.3,408.8 495.7,409 496.1,409.2 496.5,409.3 496.9,409.5 497.3,409.6 497.7,409.8 498.1,409.9 498.5,410 498.9,410 499.3,410 499.7,410 500.1,410 500.5,410 500.9,410 501.3,410 501.7,410 502.1,410 502.5,410 502.9,410 503.3,410 503.7,410 504.1,410 504.5,410 504.9,410 505.3,410 505.7,410 506.1,410 506.5,410 506.9,410 507.3,410 507.7,410 508.1,410 508.5,410 508.9,410 509.3,410 509.7,410 510.1,410 510.5,410 510.9,410 511.3,410 511.7,410 512.1,410 512.5,410 512.9,410L512.9,410Z" fill="#de3c48" fill-opacity="0.58" stroke="#c82838" stroke-width="0.6"/><rect x="155" y="332" width="75.2" height="78.4" fill="none" stroke="#111" stroke-width="1.1"/><text transform="translate(222.3,385.6)" font-size="7.4" fill="#2f6db0" text-anchor="end">55.1</text><text transform="translate(222.3,395.3)" font-size="7.4" fill="#c83040" text-anchor="end">20.0</text><line x1="186.2" y1="399.6" x2="226.9" y2="399.6" stroke="#1a1a1a" stroke-width="0.8"/><polygon points="229.4,399.6 226.4,398 226.4,401.2" fill="#1a1a1a"/><rect x="249.2" y="332" width="75.2" height="78.4" fill="none" stroke="#111" stroke-width="1.1"/><text transform="translate(316,385.6)" font-size="7.4" fill="#2f6db0" text-anchor="end">53.7</text><text transform="translate(316,395.3)" font-size="7.4" fill="#c83040" text-anchor="end">16.6</text><line x1="282" y1="399.6" x2="321.1" y2="399.6" stroke="#1a1a1a" stroke-width="0.8"/><polygon points="323.6,399.6 320.6,398 320.6,401.2" fill="#1a1a1a"/><rect x="343.7" y="332" width="75.2" height="78.4" fill="none" stroke="#111" stroke-width="1.1"/><text transform="translate(392.3,385.6)" font-size="7.4" fill="#2f6db0" text-anchor="end">100</text><text transform="translate(392.3,395.3)" font-size="7.4" fill="#c83040" text-anchor="end">100</text><line x1="381.2" y1="399.6" x2="415.6" y2="399.6" stroke="#1a1a1a" stroke-width="0.8"/><polygon points="418.1,399.6 415.1,398 415.1,401.2" fill="#1a1a1a"/><rect x="438.4" y="332" width="75.2" height="78.4" fill="none" stroke="#111" stroke-width="1.1"/><text transform="translate(507,385.6)" font-size="7.4" fill="#2f6db0" text-anchor="end">62.9</text><text transform="translate(507,395.3)" font-size="7.4" fill="#c83040" text-anchor="end">23.6</text><line x1="471.2" y1="399.6" x2="510.3" y2="399.6" stroke="#1a1a1a" stroke-width="0.8"/><polygon points="512.8,399.6 509.8,398 509.8,401.2" fill="#1a1a1a"/><text transform="translate(180,450.2)" font-size="10.6" font-weight="bold">E</text><line x1="216.5" y1="446.6" x2="216.5" y2="522.9" stroke="#1a1a1a" stroke-width="0.8"/><line x1="216.1" y1="522.5" x2="469" y2="522.5" stroke="#1a1a1a" stroke-width="0.8"/><path d="M216.5 522.5h-1.6M216.5 507.76h-1.6M216.5 493.02h-1.6M216.5 478.28h-1.6M216.5 463.54h-1.6M216.5 448.8h-1.6" stroke="#000" stroke-width="0.6"/><text transform="translate(213.4,524.6)" font-size="6" fill="#333" text-anchor="end">0</text><text transform="translate(213.4,509.86)" font-size="6" fill="#333" text-anchor="end">20</text><text transform="translate(213.4,495.12)" font-size="6" fill="#333" text-anchor="end">40</text><text transform="translate(213.4,480.38)" font-size="6" fill="#333" text-anchor="end">60</text><text transform="translate(213.4,465.64)" font-size="6" fill="#333" text-anchor="end">80</text><text transform="translate(213.4,450.9)" font-size="6" fill="#333" text-anchor="end">100</text><rect x="231.5" y="461.33" width="14.8" height="61.17" fill="#1c4f8f"/><line x1="238.9" y1="454.7" x2="238.9" y2="467.23" stroke="#222" stroke-width="0.8"/><line x1="237.1" y1="454.7" x2="240.7" y2="454.7" stroke="#222" stroke-width="0.8"/><line x1="237.1" y1="467.23" x2="240.7" y2="467.23" stroke="#222" stroke-width="0.8"/><rect x="250.5" y="495.23" width="14.8" height="27.27" fill="#c8102e"/><line x1="257.9" y1="489.33" x2="257.9" y2="500.39" stroke="#222" stroke-width="0.8"/><line x1="256.1" y1="489.33" x2="259.7" y2="489.33" stroke="#222" stroke-width="0.8"/><line x1="256.1" y1="500.39" x2="259.7" y2="500.39" stroke="#222" stroke-width="0.8"/><rect x="299.6" y="469.44" width="14.8" height="53.06" fill="#1c4f8f"/><line x1="307" y1="459.86" x2="307" y2="479.02" stroke="#222" stroke-width="0.8"/><line x1="305.2" y1="459.86" x2="308.8" y2="459.86" stroke="#222" stroke-width="0.8"/><line x1="305.2" y1="479.02" x2="308.8" y2="479.02" stroke="#222" stroke-width="0.8"/><rect x="318.8" y="487.12" width="14.8" height="35.38" fill="#c8102e"/><line x1="326.2" y1="473.12" x2="326.2" y2="501.86" stroke="#222" stroke-width="0.8"/><line x1="324.4" y1="473.12" x2="328" y2="473.12" stroke="#222" stroke-width="0.8"/><line x1="324.4" y1="501.86" x2="328" y2="501.86" stroke="#222" stroke-width="0.8"/><rect x="367" y="449.54" width="14.8" height="72.96" fill="#1c4f8f"/><line x1="374.4" y1="449.17" x2="374.4" y2="449.91" stroke="#222" stroke-width="0.8"/><line x1="372.6" y1="449.17" x2="376.2" y2="449.17" stroke="#222" stroke-width="0.8"/><line x1="372.6" y1="449.91" x2="376.2" y2="449.91" stroke="#222" stroke-width="0.8"/><rect x="386" y="451.01" width="14.8" height="71.49" fill="#c8102e"/><line x1="393.4" y1="450.27" x2="393.4" y2="451.75" stroke="#222" stroke-width="0.8"/><line x1="391.6" y1="450.27" x2="395.2" y2="450.27" stroke="#222" stroke-width="0.8"/><line x1="391.6" y1="451.75" x2="395.2" y2="451.75" stroke="#222" stroke-width="0.8"/><rect x="434.5" y="458.38" width="14.8" height="64.12" fill="#1c4f8f"/><line x1="441.9" y1="453.22" x2="441.9" y2="464.28" stroke="#222" stroke-width="0.8"/><line x1="440.1" y1="453.22" x2="443.7" y2="453.22" stroke="#222" stroke-width="0.8"/><line x1="440.1" y1="464.28" x2="443.7" y2="464.28" stroke="#222" stroke-width="0.8"/><rect x="454.2" y="491.55" width="14.8" height="30.95" fill="#c8102e"/><line x1="461.6" y1="485.65" x2="461.6" y2="498.18" stroke="#222" stroke-width="0.8"/><line x1="459.8" y1="485.65" x2="463.4" y2="485.65" stroke="#222" stroke-width="0.8"/><line x1="459.8" y1="498.18" x2="463.4" y2="498.18" stroke="#222" stroke-width="0.8"/><text transform="translate(248.4,534)" font-size="6.4" fill="#333" text-anchor="middle">CD41</text><text transform="translate(315.9,534)" font-size="6.4" fill="#333" text-anchor="middle">CD43</text><text transform="translate(384,534)" font-size="6.4" fill="#333" text-anchor="middle">CD44</text><text transform="translate(451.5,534)" font-size="6.4" fill="#333" text-anchor="middle">EPCR</text><path d="M248.4 522.5v1.6M315.9 522.5v1.6M384 522.5v1.6M451.5 522.5v1.6" stroke="#000" stroke-width="0.6"/><line x1="238.5" y1="452" x2="257.4" y2="452" stroke="#1a1a1a" stroke-width="0.8"/><text transform="translate(248,451.4)" font-size="6.4" text-anchor="middle">**</text><line x1="307.2" y1="456.5" x2="325.7" y2="456.5" stroke="#1a1a1a" stroke-width="0.8"/><text transform="translate(316.4,455.9)" font-size="6.4" text-anchor="middle">*</text><line x1="441.4" y1="450" x2="461.1" y2="450" stroke="#1a1a1a" stroke-width="0.8"/><text transform="translate(451.2,449.4)" font-size="6.4" text-anchor="middle">**</text><text transform="translate(477.4,446.4)" font-size="5.6" fill="#333" text-anchor="middle">(n = 4)</text><text transform="translate(196.6,511.9) rotate(-90) scale(0.736,1)" font-size="7.4" fill="#111" font-weight="bold">% of CD45+/VECAD+</text></svg></body></html>
